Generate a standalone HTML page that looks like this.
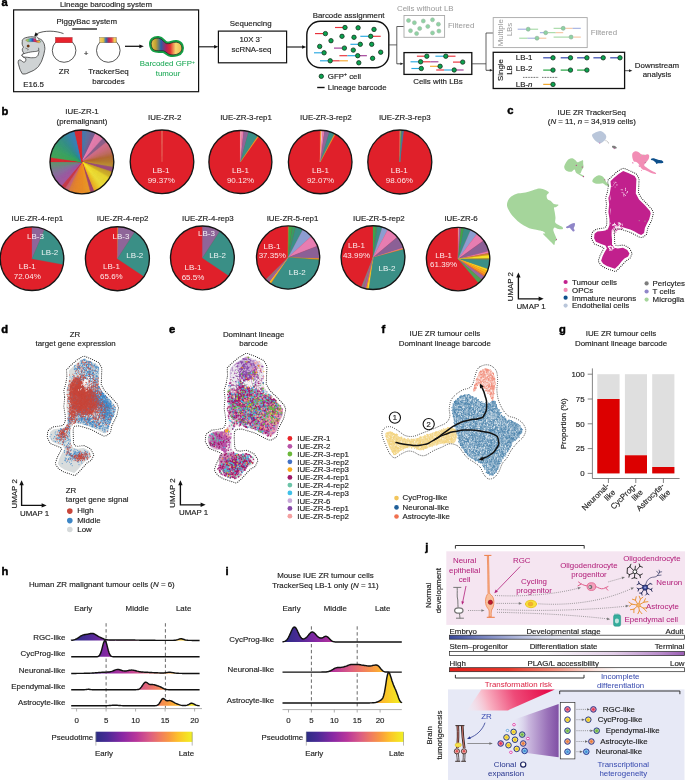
<!DOCTYPE html>
<html><head><meta charset="utf-8"><title>Figure</title>
<style>html,body{margin:0;padding:0;background:#fff;overflow:hidden}svg{display:block;will-change:transform}text{font-family:"Liberation Sans",sans-serif}</style>
</head><body>
<svg width="685" height="780" viewBox="0 0 685 780" font-family="Liberation Sans, sans-serif" font-size="7.9" fill="#1f1f1f">
<rect width="685" height="780" fill="#fff"/>
<text x="1.5" y="5.9" font-size="11.2" font-weight="bold" fill="#000" stroke="#000" stroke-width="0.45">a</text>
<text x="106" y="7.0" text-anchor="middle" stroke="#1f1f1f" stroke-width="0.16">Lineage barcoding system</text>
<rect x="13.6" y="9.9" width="185" height="81.8" fill="none" stroke="#111" stroke-width="1.2"/>
<text x="86.8" y="23.6" text-anchor="middle" stroke="#1f1f1f" stroke-width="0.16">PiggyBac system</text>
<path d="M72.2 29H97" stroke="#111" stroke-width="1.25"/>
<defs><linearGradient id="rb" x1="0" x2="1"><stop offset="0" stop-color="#f0d070"/><stop offset="0.22" stop-color="#e8c040"/><stop offset="0.38" stop-color="#2a6fb5"/><stop offset="0.55" stop-color="#c02050"/><stop offset="0.72" stop-color="#e84040"/><stop offset="0.88" stop-color="#f0d060"/><stop offset="1" stop-color="#e8b040"/></linearGradient><linearGradient id="rb2" x1="0" x2="1"><stop offset="0" stop-color="#e8c850"/><stop offset="0.15" stop-color="#c0a030"/><stop offset="0.32" stop-color="#2a5fa8"/><stop offset="0.5" stop-color="#b82058"/><stop offset="0.62" stop-color="#e03030"/><stop offset="0.8" stop-color="#f5d870"/><stop offset="1" stop-color="#e8b850"/></linearGradient><linearGradient id="rb3" x1="0" x2="1"><stop offset="0" stop-color="#f0d040"/><stop offset="0.18" stop-color="#7cc070"/><stop offset="0.32" stop-color="#2a9ad8"/><stop offset="0.45" stop-color="#3050b0"/><stop offset="0.56" stop-color="#c82878"/><stop offset="0.68" stop-color="#e83040"/><stop offset="0.8" stop-color="#f0a030"/><stop offset="0.92" stop-color="#e8c840"/><stop offset="1" stop-color="#30a0a0"/></linearGradient></defs>
<path d="M23.0 39.3C24.3 38.2 24.4 37.9 27.3 37.3C30.2 36.7 30.8 36.6 34.0 37.0C37.2 37.4 37.0 37.6 39.3 38.7C41.6 39.8 41.3 39.2 42.7 41.3C44.1 43.4 44.3 43.8 44.7 46.7C45.1 49.6 44.8 49.0 44.3 52.0C43.8 55.0 43.8 54.8 42.7 58.0C41.6 61.2 41.8 61.1 40.0 64.0C38.2 66.9 38.7 66.6 36.0 68.7C33.3 70.8 33.2 70.6 30.0 72.0C26.8 73.4 26.3 74.0 24.0 74.0C21.7 74.0 22.6 74.1 21.3 72.0C20.0 69.9 19.8 68.9 19.0 66.0C18.2 63.1 18.0 62.9 18.3 61.3C18.6 59.7 19.1 59.9 20.3 60.0C21.5 60.1 21.5 61.2 22.7 61.7C23.9 62.2 23.9 62.8 24.7 62.0C25.5 61.2 26.2 60.1 25.7 58.7C25.2 57.3 23.7 57.8 22.7 56.7C21.7 55.6 21.7 55.5 22.0 54.7C22.3 53.9 23.7 54.4 24.0 53.7C24.3 53.0 23.5 53.2 23.0 52.0C22.5 50.8 22.2 50.6 22.3 49.3C22.4 48.0 23.3 48.5 23.3 47.3C23.3 46.1 22.6 46.3 22.3 44.7C22.0 43.1 22.1 42.7 22.3 41.3C22.5 39.9 21.7 40.4 23.0 39.3Z" fill="#cfd3d4" stroke="#2a2a2a" stroke-width="0.75" stroke-linejoin="round"/>
<path d="M22.3 54.7C22.5 53.9 21.8 54.4 24.0 53.7C26.2 53.0 27.3 52.6 30.7 52.0C34.1 51.4 34.6 51.7 36.7 51.3C38.8 50.9 38.2 49.7 38.7 50.4C39.2 51.1 38.9 52.3 38.4 54.0C37.9 55.7 38.1 55.7 36.7 56.7C35.3 57.7 35.8 57.5 33.3 57.7C30.8 57.9 30.0 57.6 27.3 57.3C24.6 57.0 24.6 57.4 23.3 56.7C22.0 56.0 22.1 55.5 22.3 54.7Z" fill="#fff" stroke="#2a2a2a" stroke-width="0.7"/>
<path d="M38.7 50.4C38.9 49.3 38.8 48.6 38.5 47.8" stroke="#2a2a2a" stroke-width="0.6" fill="none"/>
<circle cx="28.2" cy="46.1" r="1.25" fill="#7a3a10" stroke="#3a2010" stroke-width="0.3"/>
<path d="M25.3 48L28.3 49.4L27.7 50.4" stroke="#2a2a2a" stroke-width="0.45" fill="none"/>
<path d="M25.6 40C28 38.6 31 38.2 34 38.4C36.5 38.6 39 39.8 41 41.6C40.4 42.8 39 43 37.4 42.4C35 41.4 32 41.6 30 41.8C28 42 26.4 41.4 25.6 40Z" fill="url(#rb3)" stroke="#444" stroke-width="0.25"/>
<path d="M35.3 34.6L39.6 40.6L36 40.4Z" fill="#fff" stroke="#2a2a2a" stroke-width="0.45"/>
<path d="M63.5 33.6C56 30.6 44 30.2 37.2 33.6" stroke="#111" stroke-width="0.7" fill="none"/>
<path d="M34.2 36.6L35.6 32.2L38.4 35Z" fill="#111"/>
<circle cx="64.1" cy="50.5" r="11.8" fill="#fff" stroke="#111" stroke-width="0.7"/>
<rect x="55.4" y="37.4" width="16.8" height="5.4" fill="#e8232d" stroke="#7a1518" stroke-width="0.3"/>
<text x="86" y="55.9" text-anchor="middle" stroke="#1f1f1f" font-size="8" stroke-width="0.16">+</text>
<circle cx="108.3" cy="50.5" r="11.8" fill="#fff" stroke="#111" stroke-width="0.7"/>
<rect x="99.6" y="37.4" width="16.8" height="5.4" fill="url(#rb)" stroke="#444" stroke-width="0.3"/>
<text x="64.1" y="74.1" text-anchor="middle" stroke="#1f1f1f" stroke-width="0.16">ZR</text>
<text x="108.5" y="74.1" text-anchor="middle" stroke="#1f1f1f" stroke-width="0.16">TrackerSeq</text>
<text x="108.5" y="83.6" text-anchor="middle" stroke="#1f1f1f" stroke-width="0.16">barcodes</text>
<text x="33.6" y="86.7" text-anchor="middle" stroke="#1f1f1f" stroke-width="0.16">E16.5</text>
<path d="M125.0 46.3L140.7 46.3" stroke="#111" stroke-width="1.25" fill="none"/>
<path d="M143.8 46.3L139.4 48.2L139.4 44.4Z" fill="#111"/>
<path d="M151.3 45C150.6 40.4 154 37.8 158.5 38.2C162.5 38.6 163.6 42.6 166.5 43.6C170 44.4 172 41.8 176.5 42.2C181.5 42.8 182.8 47.6 181.2 51C179.7 54.2 174.5 55.2 171 54.8C167.5 54.4 166.5 51.6 163.5 50.8C160 50.4 156.5 51.4 154 49.9C152.3 48.9 151.6 47 151.3 45Z" fill="#14a046" stroke="#14a046" stroke-width="4.4" stroke-linejoin="round"/>
<path d="M151.3 45C150.6 40.4 154 37.8 158.5 38.2C162.5 38.6 163.6 42.6 166.5 43.6C170 44.4 172 41.8 176.5 42.2C181.5 42.8 182.8 47.6 181.2 51C179.7 54.2 174.5 55.2 171 54.8C167.5 54.4 166.5 51.6 163.5 50.8C160 50.4 156.5 51.4 154 49.9C152.3 48.9 151.6 47 151.3 45Z" fill="url(#rb2)" stroke="#222" stroke-width="0.7"/>
<text x="167.3" y="66.4" text-anchor="middle" fill="#14a650" stroke="#14a650" stroke-width="0.03">Barcoded GFP<tspan dy="-2.8" font-size="5">+</tspan></text>
<text x="168" y="75.7" text-anchor="middle" fill="#14a650" stroke="#14a650" stroke-width="0.03">tumour</text>
<path d="M198.6 46.8L215.4 46.8" stroke="#111" stroke-width="1.1" fill="none"/>
<path d="M218.3 46.8L214.1 48.6L214.1 45.0Z" fill="#111"/>
<text x="250.7" y="25.9" text-anchor="middle" stroke="#1f1f1f" stroke-width="0.16">Sequencing</text>
<rect x="218.4" y="31.1" width="68.2" height="31.7" fill="#fff" stroke="#111" stroke-width="1.2"/>
<text x="251" y="41.9" text-anchor="middle" stroke="#1f1f1f" stroke-width="0.16">10X 3´</text>
<text x="251.5" y="52.3" text-anchor="middle" stroke="#1f1f1f" stroke-width="0.16">scRNA-seq</text>
<path d="M286.6 47.0L303.4 47.0" stroke="#111" stroke-width="1.1" fill="none"/>
<path d="M306.3 47.0L302.1 48.8L302.1 45.2Z" fill="#111"/>
<text x="348.6" y="17.8" text-anchor="middle" stroke="#1f1f1f" stroke-width="0.16">Barcode assignment</text>
<rect x="306.8" y="21.3" width="82" height="46.5" rx="13.5" ry="13.5" fill="#fff" stroke="#111" stroke-width="1.4"/>
<path d="M335 27.5H343.8" stroke="#e8303a" stroke-width="1.15" fill="none"/>
<path d="M315 33.6H323.4" stroke="#e8303a" stroke-width="1.15" fill="none"/>
<path d="M360.3 36.3H368.6" stroke="#29a8e0" stroke-width="1.15" fill="none"/>
<path d="M372.7 36.3H380.7" stroke="#e8303a" stroke-width="1.15" fill="none"/>
<path d="M350.4 44.3H358.4" stroke="#29a8e0" stroke-width="1.15" fill="none"/>
<path d="M334 48.1H342.3" stroke="#a03c96" stroke-width="1.15" fill="none"/>
<path d="M314 52.8H322.2" stroke="#29a8e0" stroke-width="1.15" fill="none"/>
<path d="M339.4 55.7H347.4" stroke="#e8303a" stroke-width="1.15" fill="none"/>
<path d="M347.4 55.7H355.8" stroke="#29a8e0" stroke-width="1.15" fill="none"/>
<path d="M359.6 55.7H366.9" stroke="#a03c96" stroke-width="1.15" fill="none"/>
<path d="M320 60.8H328.2" stroke="#29a8e0" stroke-width="1.15" fill="none"/>
<path d="M332.1 60.8H339.7" stroke="#e8303a" stroke-width="1.15" fill="none"/>
<path d="M339.7 60.8H347.9" stroke="#f5a832" stroke-width="1.15" fill="none"/>
<circle cx="345" cy="27.5" r="2.2" fill="#0aa34f" stroke="#17321f" stroke-width="0.8"/>
<circle cx="358.1" cy="27.8" r="2.2" fill="#0aa34f" stroke="#17321f" stroke-width="0.8"/>
<circle cx="374" cy="29.4" r="2.2" fill="#0aa34f" stroke="#17321f" stroke-width="0.8"/>
<circle cx="325.4" cy="33.6" r="2.2" fill="#0aa34f" stroke="#17321f" stroke-width="0.8"/>
<circle cx="342" cy="36.3" r="2.2" fill="#0aa34f" stroke="#17321f" stroke-width="0.8"/>
<circle cx="354" cy="37.3" r="2.2" fill="#0aa34f" stroke="#17321f" stroke-width="0.8"/>
<circle cx="370.7" cy="36.3" r="2.2" fill="#0aa34f" stroke="#17321f" stroke-width="0.8"/>
<circle cx="331" cy="40.7" r="2.2" fill="#0aa34f" stroke="#17321f" stroke-width="0.8"/>
<circle cx="360.3" cy="44.3" r="2.2" fill="#0aa34f" stroke="#17321f" stroke-width="0.8"/>
<circle cx="371.7" cy="44.3" r="2.2" fill="#0aa34f" stroke="#17321f" stroke-width="0.8"/>
<circle cx="319.7" cy="46.4" r="2.2" fill="#0aa34f" stroke="#17321f" stroke-width="0.8"/>
<circle cx="344.4" cy="48.1" r="2.2" fill="#0aa34f" stroke="#17321f" stroke-width="0.8"/>
<circle cx="353.3" cy="50.1" r="2.2" fill="#0aa34f" stroke="#17321f" stroke-width="0.8"/>
<circle cx="380.7" cy="52.2" r="2.2" fill="#0aa34f" stroke="#17321f" stroke-width="0.8"/>
<circle cx="324.1" cy="52.8" r="2.2" fill="#0aa34f" stroke="#17321f" stroke-width="0.8"/>
<circle cx="357.7" cy="55.7" r="2.2" fill="#0aa34f" stroke="#17321f" stroke-width="0.8"/>
<circle cx="372.6" cy="58.3" r="2.2" fill="#0aa34f" stroke="#17321f" stroke-width="0.8"/>
<circle cx="330.2" cy="60.8" r="2.2" fill="#0aa34f" stroke="#17321f" stroke-width="0.8"/>
<circle cx="358.8" cy="62.8" r="2.2" fill="#0aa34f" stroke="#17321f" stroke-width="0.8"/>
<circle cx="321.3" cy="76.3" r="2.2" fill="#0aa34f" stroke="#17321f" stroke-width="0.8"/>
<text x="327.8" y="78.8" stroke="#1f1f1f" stroke-width="0.16">GFP<tspan dy="-2.8" font-size="5">+</tspan><tspan dy="2.8"> cell</tspan></text>
<path d="M317.2 87.5H324.6" stroke="#111" stroke-width="1.4"/>
<text x="327.8" y="90.4" stroke="#1f1f1f" stroke-width="0.16">Lineage barcode</text>
<path d="M389 44.9H396.8M396.8 26.5V63.8M396.8 26.5H403.8" stroke="#3a3a3a" stroke-width="0.8" fill="none"/>
<path d="M396.8 63.8L401.4 63.8" stroke="#222" stroke-width="0.8" fill="none"/>
<path d="M403.6 63.8L400.4 65.1L400.4 62.5Z" fill="#222"/>
<text x="397" y="10.9" fill="#9a9a9a" stroke="#9a9a9a" stroke-width="0.03">Cells without LB</text>
<rect x="404" y="15.5" width="40.6" height="21.8" fill="#fff" stroke="#a8a8a8" stroke-width="0.9"/>
<circle cx="408.5" cy="20.5" r="2.0" fill="#8ed3a3" stroke="#9fb8a6" stroke-width="0.6"/>
<circle cx="414.4" cy="22.7" r="2.0" fill="#8ed3a3" stroke="#9fb8a6" stroke-width="0.6"/>
<circle cx="423.3" cy="21" r="2.0" fill="#8ed3a3" stroke="#9fb8a6" stroke-width="0.6"/>
<circle cx="432.5" cy="19.8" r="2.0" fill="#8ed3a3" stroke="#9fb8a6" stroke-width="0.6"/>
<circle cx="438.4" cy="24.2" r="2.0" fill="#8ed3a3" stroke="#9fb8a6" stroke-width="0.6"/>
<circle cx="427.8" cy="26.4" r="2.0" fill="#8ed3a3" stroke="#9fb8a6" stroke-width="0.6"/>
<circle cx="419.7" cy="28.5" r="2.0" fill="#8ed3a3" stroke="#9fb8a6" stroke-width="0.6"/>
<circle cx="410.5" cy="30.7" r="2.0" fill="#8ed3a3" stroke="#9fb8a6" stroke-width="0.6"/>
<circle cx="416.6" cy="33.6" r="2.0" fill="#8ed3a3" stroke="#9fb8a6" stroke-width="0.6"/>
<circle cx="432.5" cy="32.9" r="2.0" fill="#8ed3a3" stroke="#9fb8a6" stroke-width="0.6"/>
<circle cx="438.9" cy="31.1" r="2.0" fill="#8ed3a3" stroke="#9fb8a6" stroke-width="0.6"/>
<text x="448" y="27.5" fill="#9a9a9a" stroke="#9a9a9a" stroke-width="0.03">Filtered</text>
<rect x="404" y="52.6" width="67.8" height="21.8" fill="#fff" stroke="#111" stroke-width="1.3"/>
<path d="M416.9 56.2H424.4" stroke="#e8303a" stroke-width="1.15" fill="none"/>
<path d="M435.4 56.2H443.8" stroke="#29a8e0" stroke-width="1.15" fill="none"/>
<path d="M448 56.2H455.5" stroke="#e8303a" stroke-width="1.15" fill="none"/>
<path d="M410.5 61.8H418.6" stroke="#29a8e0" stroke-width="1.15" fill="none"/>
<path d="M422.8 61.8H430.3" stroke="#e8303a" stroke-width="1.15" fill="none"/>
<path d="M430.3 61.8H438.4" stroke="#a03c96" stroke-width="1.15" fill="none"/>
<path d="M453 62.1H460.5" stroke="#e8303a" stroke-width="1.15" fill="none"/>
<path d="M430 66.3H437.9" stroke="#f5a832" stroke-width="1.15" fill="none"/>
<path d="M411.4 68.5H419.1" stroke="#29a8e0" stroke-width="1.15" fill="none"/>
<path d="M436.2 70H444.1" stroke="#e8303a" stroke-width="1.15" fill="none"/>
<path d="M444.1 70H451.8" stroke="#29a8e0" stroke-width="1.15" fill="none"/>
<path d="M456.3 70H463.6" stroke="#a03c96" stroke-width="1.15" fill="none"/>
<circle cx="426.8" cy="56.2" r="2.2" fill="#0aa34f" stroke="#17321f" stroke-width="0.8"/>
<circle cx="445.8" cy="56.2" r="2.2" fill="#0aa34f" stroke="#17321f" stroke-width="0.8"/>
<circle cx="420.6" cy="61.8" r="2.2" fill="#0aa34f" stroke="#17321f" stroke-width="0.8"/>
<circle cx="462.7" cy="62.1" r="2.2" fill="#0aa34f" stroke="#17321f" stroke-width="0.8"/>
<circle cx="440.1" cy="66.3" r="2.2" fill="#0aa34f" stroke="#17321f" stroke-width="0.8"/>
<circle cx="421.3" cy="68.5" r="2.2" fill="#0aa34f" stroke="#17321f" stroke-width="0.8"/>
<circle cx="454.2" cy="70" r="2.2" fill="#0aa34f" stroke="#17321f" stroke-width="0.8"/>
<text x="438" y="84" text-anchor="middle" stroke="#1f1f1f" stroke-width="0.16">Cells with LBs</text>
<path d="M471.8 63.8H486M486 33V70.3M486 33H493" stroke="#3a3a3a" stroke-width="0.8" fill="none"/>
<path d="M486.0 70.3L490.8 70.3" stroke="#222" stroke-width="0.8" fill="none"/>
<path d="M493.0 70.3L489.8 71.6L489.8 69.0Z" fill="#222"/>
<rect x="493.2" y="17.6" width="94" height="30" fill="#fff" stroke="#a8a8a8" stroke-width="0.9"/>
<text x="503.3" y="32.7" text-anchor="middle" fill="#9a9a9a" stroke="#9a9a9a" transform="rotate(-90 503.3 32.7)" stroke-width="0.03">Multiple</text>
<text x="512.2" y="29.5" text-anchor="middle" fill="#9a9a9a" stroke="#9a9a9a" transform="rotate(-90 512.2 29.5)" stroke-width="0.03">LBs</text>
<path d="M517.7 29.2H525.9" stroke="#8c9cd8" stroke-width="0.9" fill="none"/>
<path d="M530.3 29.2H538.1" stroke="#8fd08f" stroke-width="0.9" fill="none"/>
<path d="M539.9 32.7H544.0" stroke="#8c9cd8" stroke-width="0.9" fill="none"/>
<path d="M547.8 32.7H555.7" stroke="#8fd08f" stroke-width="0.9" fill="none"/>
<path d="M555.7 32.7H563.2" stroke="#f2b88a" stroke-width="0.9" fill="none"/>
<path d="M553.6 28.3H561.5" stroke="#8fd08f" stroke-width="0.9" fill="none"/>
<path d="M565.6 28.3H572.6" stroke="#f2b88a" stroke-width="0.9" fill="none"/>
<path d="M572.6 28.3H580.8" stroke="#8c9cd8" stroke-width="0.9" fill="none"/>
<path d="M519.2 38.2H527.3" stroke="#8fd08f" stroke-width="0.9" fill="none"/>
<path d="M527.3 38.2H535.2" stroke="#8c9cd8" stroke-width="0.9" fill="none"/>
<path d="M539.0 38.2H546.3" stroke="#f2b88a" stroke-width="0.9" fill="none"/>
<path d="M553.6 37.1H569.1" stroke="#8fd08f" stroke-width="0.9" fill="none"/>
<path d="M573.5 37.1H580.8" stroke="#f2b88a" stroke-width="0.9" fill="none"/>
<circle cx="528.2" cy="29.2" r="2.0" fill="#8ed3a3" stroke="#8aa896" stroke-width="0.6"/>
<circle cx="545.7" cy="32.7" r="2.0" fill="#8ed3a3" stroke="#8aa896" stroke-width="0.6"/>
<circle cx="563.2" cy="28.3" r="2.0" fill="#8ed3a3" stroke="#8aa896" stroke-width="0.6"/>
<circle cx="537" cy="38.2" r="2.0" fill="#8ed3a3" stroke="#8aa896" stroke-width="0.6"/>
<circle cx="571.1" cy="37.1" r="2.0" fill="#8ed3a3" stroke="#8aa896" stroke-width="0.6"/>
<text x="590.8" y="34.6" fill="#9a9a9a" stroke="#9a9a9a" stroke-width="0.03">Filtered</text>
<rect x="493.2" y="52.3" width="131.4" height="36.2" fill="#fff" stroke="#111" stroke-width="1.3"/>
<text x="503.3" y="70" text-anchor="middle" stroke="#1f1f1f" transform="rotate(-90 503.3 70)" stroke-width="0.16">Single</text>
<text x="512.2" y="70" text-anchor="middle" stroke="#1f1f1f" transform="rotate(-90 512.2 70)" stroke-width="0.16">LB</text>
<text x="515.8" y="59.5" stroke="#1f1f1f" stroke-width="0.16">LB-1</text>
<text x="515.8" y="71.2" stroke="#1f1f1f" stroke-width="0.16">LB-2</text>
<text x="515.8" y="86.6" stroke="#1f1f1f" stroke-width="0.16">LB-<tspan font-style="italic">n</tspan></text>
<path d="M543.2 57.8H553" stroke="#3c4eb0" stroke-width="1.25" fill="none"/>
<circle cx="553" cy="57.8" r="2.2" fill="#0aa34f" stroke="#17321f" stroke-width="0.8"/>
<path d="M560.7 57.8H570.5" stroke="#3c4eb0" stroke-width="1.25" fill="none"/>
<circle cx="570.5" cy="57.8" r="2.2" fill="#0aa34f" stroke="#17321f" stroke-width="0.8"/>
<path d="M577.1 57.8H586.9" stroke="#3c4eb0" stroke-width="1.25" fill="none"/>
<circle cx="586.9" cy="57.8" r="2.2" fill="#0aa34f" stroke="#17321f" stroke-width="0.8"/>
<path d="M593.4 57.8H603.2" stroke="#3c4eb0" stroke-width="1.25" fill="none"/>
<circle cx="603.2" cy="57.8" r="2.2" fill="#0aa34f" stroke="#17321f" stroke-width="0.8"/>
<path d="M610.2 57.8H620" stroke="#3c4eb0" stroke-width="1.25" fill="none"/>
<circle cx="620" cy="57.8" r="2.2" fill="#0aa34f" stroke="#17321f" stroke-width="0.8"/>
<path d="M543.2 70.1H553" stroke="#2fa84a" stroke-width="1.25" fill="none"/>
<circle cx="553" cy="70.1" r="2.2" fill="#0aa34f" stroke="#17321f" stroke-width="0.8"/>
<path d="M560.7 70.1H570.5" stroke="#2fa84a" stroke-width="1.25" fill="none"/>
<circle cx="570.5" cy="70.1" r="2.2" fill="#0aa34f" stroke="#17321f" stroke-width="0.8"/>
<path d="M577.1 70.1H586.9" stroke="#2fa84a" stroke-width="1.25" fill="none"/>
<circle cx="586.9" cy="70.1" r="2.2" fill="#0aa34f" stroke="#17321f" stroke-width="0.8"/>
<path d="M523 77.4H538.4M542 77.4H558" stroke="#222" stroke-width="0.8" stroke-dasharray="0.8 0.8" fill="none"/>
<path d="M543.2 84.4H553" stroke="#f0a830" stroke-width="1.25" fill="none"/>
<circle cx="553" cy="84.4" r="2.2" fill="#0aa34f" stroke="#17321f" stroke-width="0.8"/>
<path d="M625.0 70.7L630.0 70.7" stroke="#222" stroke-width="0.8" fill="none"/>
<path d="M632.4 70.7L629.0 72.1L629.0 69.3Z" fill="#222"/>
<text x="657" y="67.8" text-anchor="middle" stroke="#1f1f1f" stroke-width="0.16">Downstream</text>
<text x="657" y="77.3" text-anchor="middle" stroke="#1f1f1f" stroke-width="0.16">analysis</text>
<text x="1.5" y="115" font-size="11.2" font-weight="bold" fill="#000" stroke="#000" stroke-width="0.45">b</text>
<text x="82" y="114.1" text-anchor="middle" stroke="#1f1f1f" stroke-width="0.16">IUE-ZR-1</text>
<text x="82" y="123.9" text-anchor="middle" stroke="#1f1f1f" stroke-width="0.16">(premalignant)</text>
<circle cx="81.9" cy="161.9" r="31.9" fill="#888"/>
<path d="M81.9 161.9L81.90 130.00A31.9 31.9 0 0 1 82.74 130.01Z" fill="#3c78b4" stroke="#3c78b4" stroke-width="0.25"/>
<path d="M81.9 161.9L82.74 130.01A31.9 31.9 0 0 1 83.57 130.04Z" fill="#3f76b2" stroke="#3f76b2" stroke-width="0.25"/>
<path d="M81.9 161.9L83.57 130.04A31.9 31.9 0 0 1 84.40 130.10Z" fill="#4176b0" stroke="#4176b0" stroke-width="0.25"/>
<path d="M81.9 161.9L84.40 130.10A31.9 31.9 0 0 1 85.23 130.17Z" fill="#4474ad" stroke="#4474ad" stroke-width="0.25"/>
<path d="M81.9 161.9L85.23 130.17A31.9 31.9 0 0 1 86.06 130.27Z" fill="#4674ab" stroke="#4674ab" stroke-width="0.25"/>
<path d="M81.9 161.9L86.06 130.27A31.9 31.9 0 0 1 86.89 130.39Z" fill="#4972a9" stroke="#4972a9" stroke-width="0.25"/>
<path d="M81.9 161.9L86.89 130.39A31.9 31.9 0 0 1 87.71 130.53Z" fill="#5670a2" stroke="#5670a2" stroke-width="0.25"/>
<path d="M81.9 161.9L87.71 130.53A31.9 31.9 0 0 1 88.53 130.70Z" fill="#5b6e9f" stroke="#5b6e9f" stroke-width="0.25"/>
<path d="M81.9 161.9L88.53 130.70A31.9 31.9 0 0 1 89.35 130.88Z" fill="#5d6c9e" stroke="#5d6c9e" stroke-width="0.25"/>
<path d="M81.9 161.9L89.35 130.88A31.9 31.9 0 0 1 90.16 131.09Z" fill="#5f6b9e" stroke="#5f6b9e" stroke-width="0.25"/>
<path d="M81.9 161.9L90.16 131.09A31.9 31.9 0 0 1 90.96 131.31Z" fill="#61699d" stroke="#61699d" stroke-width="0.25"/>
<path d="M81.9 161.9L90.96 131.31A31.9 31.9 0 0 1 91.76 131.56Z" fill="#65669a" stroke="#65669a" stroke-width="0.25"/>
<path d="M81.9 161.9L91.76 131.56A31.9 31.9 0 0 1 92.55 131.83Z" fill="#705e96" stroke="#705e96" stroke-width="0.25"/>
<path d="M81.9 161.9L92.55 131.83A31.9 31.9 0 0 1 93.33 132.12Z" fill="#725d95" stroke="#725d95" stroke-width="0.25"/>
<path d="M81.9 161.9L93.33 132.12A31.9 31.9 0 0 1 94.11 132.43Z" fill="#735c94" stroke="#735c94" stroke-width="0.25"/>
<path d="M81.9 161.9L94.11 132.43A31.9 31.9 0 0 1 94.87 132.76Z" fill="#755b93" stroke="#755b93" stroke-width="0.25"/>
<path d="M81.9 161.9L94.87 132.76A31.9 31.9 0 0 1 95.63 133.11Z" fill="#775a92" stroke="#775a92" stroke-width="0.25"/>
<path d="M81.9 161.9L95.63 133.11A31.9 31.9 0 0 1 96.38 133.48Z" fill="#ee7db3" stroke="#ee7db3" stroke-width="0.25"/>
<path d="M81.9 161.9L96.38 133.48A31.9 31.9 0 0 1 97.12 133.87Z" fill="#ee7db2" stroke="#ee7db2" stroke-width="0.25"/>
<path d="M81.9 161.9L97.12 133.87A31.9 31.9 0 0 1 97.85 134.27Z" fill="#ed7cb2" stroke="#ed7cb2" stroke-width="0.25"/>
<path d="M81.9 161.9L97.85 134.27A31.9 31.9 0 0 1 98.57 134.70Z" fill="#ed7cb1" stroke="#ed7cb1" stroke-width="0.25"/>
<path d="M81.9 161.9L98.57 134.70A31.9 31.9 0 0 1 99.27 135.15Z" fill="#ec7bb0" stroke="#ec7bb0" stroke-width="0.25"/>
<path d="M81.9 161.9L99.27 135.15A31.9 31.9 0 0 1 99.97 135.61Z" fill="#ec7bb0" stroke="#ec7bb0" stroke-width="0.25"/>
<path d="M81.9 161.9L99.97 135.61A31.9 31.9 0 0 1 100.65 136.09Z" fill="#ec7baf" stroke="#ec7baf" stroke-width="0.25"/>
<path d="M81.9 161.9L100.65 136.09A31.9 31.9 0 0 1 101.32 136.59Z" fill="#eb7aaf" stroke="#eb7aaf" stroke-width="0.25"/>
<path d="M81.9 161.9L101.32 136.59A31.9 31.9 0 0 1 101.98 137.11Z" fill="#eb7aae" stroke="#eb7aae" stroke-width="0.25"/>
<path d="M81.9 161.9L101.98 137.11A31.9 31.9 0 0 1 102.62 137.64Z" fill="#ea79ae" stroke="#ea79ae" stroke-width="0.25"/>
<path d="M81.9 161.9L102.62 137.64A31.9 31.9 0 0 1 103.25 138.19Z" fill="#d271a5" stroke="#d271a5" stroke-width="0.25"/>
<path d="M81.9 161.9L103.25 138.19A31.9 31.9 0 0 1 103.86 138.76Z" fill="#8b5a8c" stroke="#8b5a8c" stroke-width="0.25"/>
<path d="M81.9 161.9L103.86 138.76A31.9 31.9 0 0 1 104.46 139.34Z" fill="#8c5a8a" stroke="#8c5a8a" stroke-width="0.25"/>
<path d="M81.9 161.9L104.46 139.34A31.9 31.9 0 0 1 105.04 139.94Z" fill="#8d5a8a" stroke="#8d5a8a" stroke-width="0.25"/>
<path d="M81.9 161.9L105.04 139.94A31.9 31.9 0 0 1 105.61 140.55Z" fill="#8d5a88" stroke="#8d5a88" stroke-width="0.25"/>
<path d="M81.9 161.9L105.61 140.55A31.9 31.9 0 0 1 106.16 141.18Z" fill="#8e5a88" stroke="#8e5a88" stroke-width="0.25"/>
<path d="M81.9 161.9L106.16 141.18A31.9 31.9 0 0 1 106.69 141.82Z" fill="#8f5a86" stroke="#8f5a86" stroke-width="0.25"/>
<path d="M81.9 161.9L106.69 141.82A31.9 31.9 0 0 1 107.21 142.48Z" fill="#c6688a" stroke="#c6688a" stroke-width="0.25"/>
<path d="M81.9 161.9L107.21 142.48A31.9 31.9 0 0 1 107.71 143.15Z" fill="#d76c8a" stroke="#d76c8a" stroke-width="0.25"/>
<path d="M81.9 161.9L107.71 143.15A31.9 31.9 0 0 1 108.19 143.83Z" fill="#d66b87" stroke="#d66b87" stroke-width="0.25"/>
<path d="M81.9 161.9L108.19 143.83A31.9 31.9 0 0 1 108.65 144.53Z" fill="#d56a84" stroke="#d56a84" stroke-width="0.25"/>
<path d="M81.9 161.9L108.65 144.53A31.9 31.9 0 0 1 109.10 145.23Z" fill="#d56a82" stroke="#d56a82" stroke-width="0.25"/>
<path d="M81.9 161.9L109.10 145.23A31.9 31.9 0 0 1 109.53 145.95Z" fill="#d4697f" stroke="#d4697f" stroke-width="0.25"/>
<path d="M81.9 161.9L109.53 145.95A31.9 31.9 0 0 1 109.93 146.68Z" fill="#d3687c" stroke="#d3687c" stroke-width="0.25"/>
<path d="M81.9 161.9L109.93 146.68A31.9 31.9 0 0 1 110.32 147.42Z" fill="#d26879" stroke="#d26879" stroke-width="0.25"/>
<path d="M81.9 161.9L110.32 147.42A31.9 31.9 0 0 1 110.69 148.17Z" fill="#d06874" stroke="#d06874" stroke-width="0.25"/>
<path d="M81.9 161.9L110.69 148.17A31.9 31.9 0 0 1 111.04 148.93Z" fill="#cd6870" stroke="#cd6870" stroke-width="0.25"/>
<path d="M81.9 161.9L111.04 148.93A31.9 31.9 0 0 1 111.37 149.69Z" fill="#cb686b" stroke="#cb686b" stroke-width="0.25"/>
<path d="M81.9 161.9L111.37 149.69A31.9 31.9 0 0 1 111.68 150.47Z" fill="#c96866" stroke="#c96866" stroke-width="0.25"/>
<path d="M81.9 161.9L111.68 150.47A31.9 31.9 0 0 1 111.97 151.25Z" fill="#c76861" stroke="#c76861" stroke-width="0.25"/>
<path d="M81.9 161.9L111.97 151.25A31.9 31.9 0 0 1 112.24 152.04Z" fill="#c5685c" stroke="#c5685c" stroke-width="0.25"/>
<path d="M81.9 161.9L112.24 152.04A31.9 31.9 0 0 1 112.49 152.84Z" fill="#c36856" stroke="#c36856" stroke-width="0.25"/>
<path d="M81.9 161.9L112.49 152.84A31.9 31.9 0 0 1 112.71 153.64Z" fill="#c0674c" stroke="#c0674c" stroke-width="0.25"/>
<path d="M81.9 161.9L112.71 153.64A31.9 31.9 0 0 1 112.92 154.45Z" fill="#bd6744" stroke="#bd6744" stroke-width="0.25"/>
<path d="M81.9 161.9L112.92 154.45A31.9 31.9 0 0 1 113.10 155.27Z" fill="#ba663a" stroke="#ba663a" stroke-width="0.25"/>
<path d="M81.9 161.9L113.10 155.27A31.9 31.9 0 0 1 113.27 156.09Z" fill="#b76532" stroke="#b76532" stroke-width="0.25"/>
<path d="M81.9 161.9L113.27 156.09A31.9 31.9 0 0 1 113.41 156.91Z" fill="#b5662a" stroke="#b5662a" stroke-width="0.25"/>
<path d="M81.9 161.9L113.41 156.91A31.9 31.9 0 0 1 113.53 157.74Z" fill="#b6692a" stroke="#b6692a" stroke-width="0.25"/>
<path d="M81.9 161.9L113.53 157.74A31.9 31.9 0 0 1 113.63 158.57Z" fill="#b66c29" stroke="#b66c29" stroke-width="0.25"/>
<path d="M81.9 161.9L113.63 158.57A31.9 31.9 0 0 1 113.70 159.40Z" fill="#b66f29" stroke="#b66f29" stroke-width="0.25"/>
<path d="M81.9 161.9L113.70 159.40A31.9 31.9 0 0 1 113.76 160.23Z" fill="#b77229" stroke="#b77229" stroke-width="0.25"/>
<path d="M81.9 161.9L113.76 160.23A31.9 31.9 0 0 1 113.79 161.06Z" fill="#b77528" stroke="#b77528" stroke-width="0.25"/>
<path d="M81.9 161.9L113.79 161.06A31.9 31.9 0 0 1 113.80 161.90Z" fill="#b87828" stroke="#b87828" stroke-width="0.25"/>
<path d="M81.9 161.9L113.80 161.90A31.9 31.9 0 0 1 113.79 162.74Z" fill="#b97c28" stroke="#b97c28" stroke-width="0.25"/>
<path d="M81.9 161.9L113.79 162.74A31.9 31.9 0 0 1 113.76 163.57Z" fill="#ba8029" stroke="#ba8029" stroke-width="0.25"/>
<path d="M81.9 161.9L113.76 163.57A31.9 31.9 0 0 1 113.70 164.40Z" fill="#bb842a" stroke="#bb842a" stroke-width="0.25"/>
<path d="M81.9 161.9L113.70 164.40A31.9 31.9 0 0 1 113.63 165.23Z" fill="#bd882a" stroke="#bd882a" stroke-width="0.25"/>
<path d="M81.9 161.9L113.63 165.23A31.9 31.9 0 0 1 113.53 166.06Z" fill="#be8c2b" stroke="#be8c2b" stroke-width="0.25"/>
<path d="M81.9 161.9L113.53 166.06A31.9 31.9 0 0 1 113.41 166.89Z" fill="#bf902c" stroke="#bf902c" stroke-width="0.25"/>
<path d="M81.9 161.9L113.41 166.89A31.9 31.9 0 0 1 113.27 167.71Z" fill="#a45c66" stroke="#a45c66" stroke-width="0.25"/>
<path d="M81.9 161.9L113.27 167.71A31.9 31.9 0 0 1 113.10 168.53Z" fill="#9a497a" stroke="#9a497a" stroke-width="0.25"/>
<path d="M81.9 161.9L113.10 168.53A31.9 31.9 0 0 1 112.92 169.35Z" fill="#9b497a" stroke="#9b497a" stroke-width="0.25"/>
<path d="M81.9 161.9L112.92 169.35A31.9 31.9 0 0 1 112.71 170.16Z" fill="#9b487a" stroke="#9b487a" stroke-width="0.25"/>
<path d="M81.9 161.9L112.71 170.16A31.9 31.9 0 0 1 112.49 170.96Z" fill="#9b477a" stroke="#9b477a" stroke-width="0.25"/>
<path d="M81.9 161.9L112.49 170.96A31.9 31.9 0 0 1 112.24 171.76Z" fill="#9c467a" stroke="#9c467a" stroke-width="0.25"/>
<path d="M81.9 161.9L112.24 171.76A31.9 31.9 0 0 1 111.97 172.55Z" fill="#be8a36" stroke="#be8a36" stroke-width="0.25"/>
<path d="M81.9 161.9L111.97 172.55A31.9 31.9 0 0 1 111.68 173.33Z" fill="#cba320" stroke="#cba320" stroke-width="0.25"/>
<path d="M81.9 161.9L111.68 173.33A31.9 31.9 0 0 1 111.37 174.11Z" fill="#cea720" stroke="#cea720" stroke-width="0.25"/>
<path d="M81.9 161.9L111.37 174.11A31.9 31.9 0 0 1 111.04 174.87Z" fill="#d0ab20" stroke="#d0ab20" stroke-width="0.25"/>
<path d="M81.9 161.9L111.04 174.87A31.9 31.9 0 0 1 110.69 175.63Z" fill="#d3af20" stroke="#d3af20" stroke-width="0.25"/>
<path d="M81.9 161.9L110.69 175.63A31.9 31.9 0 0 1 110.32 176.38Z" fill="#d5b320" stroke="#d5b320" stroke-width="0.25"/>
<path d="M81.9 161.9L110.32 176.38A31.9 31.9 0 0 1 109.93 177.12Z" fill="#d8b720" stroke="#d8b720" stroke-width="0.25"/>
<path d="M81.9 161.9L109.93 177.12A31.9 31.9 0 0 1 109.53 177.85Z" fill="#e0c321" stroke="#e0c321" stroke-width="0.25"/>
<path d="M81.9 161.9L109.53 177.85A31.9 31.9 0 0 1 109.10 178.57Z" fill="#ead123" stroke="#ead123" stroke-width="0.25"/>
<path d="M81.9 161.9L109.10 178.57A31.9 31.9 0 0 1 108.65 179.27Z" fill="#f2dc24" stroke="#f2dc24" stroke-width="0.25"/>
<path d="M81.9 161.9L108.65 179.27A31.9 31.9 0 0 1 108.19 179.97Z" fill="#f3dd25" stroke="#f3dd25" stroke-width="0.25"/>
<path d="M81.9 161.9L108.19 179.97A31.9 31.9 0 0 1 107.71 180.65Z" fill="#f3de26" stroke="#f3de26" stroke-width="0.25"/>
<path d="M81.9 161.9L107.71 180.65A31.9 31.9 0 0 1 107.21 181.32Z" fill="#f4df27" stroke="#f4df27" stroke-width="0.25"/>
<path d="M81.9 161.9L107.21 181.32A31.9 31.9 0 0 1 106.69 181.98Z" fill="#f4e028" stroke="#f4e028" stroke-width="0.25"/>
<path d="M81.9 161.9L106.69 181.98A31.9 31.9 0 0 1 106.16 182.62Z" fill="#f5e129" stroke="#f5e129" stroke-width="0.25"/>
<path d="M81.9 161.9L106.16 182.62A31.9 31.9 0 0 1 105.61 183.25Z" fill="#f5e22a" stroke="#f5e22a" stroke-width="0.25"/>
<path d="M81.9 161.9L105.61 183.25A31.9 31.9 0 0 1 105.04 183.86Z" fill="#f6e32b" stroke="#f6e32b" stroke-width="0.25"/>
<path d="M81.9 161.9L105.04 183.86A31.9 31.9 0 0 1 104.46 184.46Z" fill="#f6e42c" stroke="#f6e42c" stroke-width="0.25"/>
<path d="M81.9 161.9L104.46 184.46A31.9 31.9 0 0 1 103.86 185.04Z" fill="#f7e52d" stroke="#f7e52d" stroke-width="0.25"/>
<path d="M81.9 161.9L103.86 185.04A31.9 31.9 0 0 1 103.25 185.61Z" fill="#f7e62e" stroke="#f7e62e" stroke-width="0.25"/>
<path d="M81.9 161.9L103.25 185.61A31.9 31.9 0 0 1 102.62 186.16Z" fill="#f8e72f" stroke="#f8e72f" stroke-width="0.25"/>
<path d="M81.9 161.9L102.62 186.16A31.9 31.9 0 0 1 101.98 186.69Z" fill="#f8e730" stroke="#f8e730" stroke-width="0.25"/>
<path d="M81.9 161.9L101.98 186.69A31.9 31.9 0 0 1 101.32 187.21Z" fill="#f7e22c" stroke="#f7e22c" stroke-width="0.25"/>
<path d="M81.9 161.9L101.32 187.21A31.9 31.9 0 0 1 100.65 187.71Z" fill="#f7de2a" stroke="#f7de2a" stroke-width="0.25"/>
<path d="M81.9 161.9L100.65 187.71A31.9 31.9 0 0 1 99.97 188.19Z" fill="#f7d926" stroke="#f7d926" stroke-width="0.25"/>
<path d="M81.9 161.9L99.97 188.19A31.9 31.9 0 0 1 99.27 188.65Z" fill="#f6d424" stroke="#f6d424" stroke-width="0.25"/>
<path d="M81.9 161.9L99.27 188.65A31.9 31.9 0 0 1 98.57 189.10Z" fill="#f6cf20" stroke="#f6cf20" stroke-width="0.25"/>
<path d="M81.9 161.9L98.57 189.10A31.9 31.9 0 0 1 97.85 189.53Z" fill="#f5ca1e" stroke="#f5ca1e" stroke-width="0.25"/>
<path d="M81.9 161.9L97.85 189.53A31.9 31.9 0 0 1 97.12 189.93Z" fill="#f5c51c" stroke="#f5c51c" stroke-width="0.25"/>
<path d="M81.9 161.9L97.12 189.93A31.9 31.9 0 0 1 96.38 190.32Z" fill="#f4be1c" stroke="#f4be1c" stroke-width="0.25"/>
<path d="M81.9 161.9L96.38 190.32A31.9 31.9 0 0 1 95.63 190.69Z" fill="#f3b71c" stroke="#f3b71c" stroke-width="0.25"/>
<path d="M81.9 161.9L95.63 190.69A31.9 31.9 0 0 1 94.87 191.04Z" fill="#f3b01c" stroke="#f3b01c" stroke-width="0.25"/>
<path d="M81.9 161.9L94.87 191.04A31.9 31.9 0 0 1 94.11 191.37Z" fill="#f2a91c" stroke="#f2a91c" stroke-width="0.25"/>
<path d="M81.9 161.9L94.11 191.37A31.9 31.9 0 0 1 93.33 191.68Z" fill="#a03e68" stroke="#a03e68" stroke-width="0.25"/>
<path d="M81.9 161.9L93.33 191.68A31.9 31.9 0 0 1 92.55 191.97Z" fill="#a23f69" stroke="#a23f69" stroke-width="0.25"/>
<path d="M81.9 161.9L92.55 191.97A31.9 31.9 0 0 1 91.76 192.24Z" fill="#a43f69" stroke="#a43f69" stroke-width="0.25"/>
<path d="M81.9 161.9L91.76 192.24A31.9 31.9 0 0 1 90.96 192.49Z" fill="#a6406a" stroke="#a6406a" stroke-width="0.25"/>
<path d="M81.9 161.9L90.96 192.49A31.9 31.9 0 0 1 90.16 192.71Z" fill="#ba5656" stroke="#ba5656" stroke-width="0.25"/>
<path d="M81.9 161.9L90.16 192.71A31.9 31.9 0 0 1 89.35 192.92Z" fill="#f2991c" stroke="#f2991c" stroke-width="0.25"/>
<path d="M81.9 161.9L89.35 192.92A31.9 31.9 0 0 1 88.53 193.10Z" fill="#f2981c" stroke="#f2981c" stroke-width="0.25"/>
<path d="M81.9 161.9L88.53 193.10A31.9 31.9 0 0 1 87.71 193.27Z" fill="#f2961c" stroke="#f2961c" stroke-width="0.25"/>
<path d="M81.9 161.9L87.71 193.27A31.9 31.9 0 0 1 86.89 193.41Z" fill="#f2951c" stroke="#f2951c" stroke-width="0.25"/>
<path d="M81.9 161.9L86.89 193.41A31.9 31.9 0 0 1 86.06 193.53Z" fill="#f2941c" stroke="#f2941c" stroke-width="0.25"/>
<path d="M81.9 161.9L86.06 193.53A31.9 31.9 0 0 1 85.23 193.63Z" fill="#f2921c" stroke="#f2921c" stroke-width="0.25"/>
<path d="M81.9 161.9L85.23 193.63A31.9 31.9 0 0 1 84.40 193.70Z" fill="#f2911c" stroke="#f2911c" stroke-width="0.25"/>
<path d="M81.9 161.9L84.40 193.70A31.9 31.9 0 0 1 83.57 193.76Z" fill="#f2901c" stroke="#f2901c" stroke-width="0.25"/>
<path d="M81.9 161.9L83.57 193.76A31.9 31.9 0 0 1 82.74 193.79Z" fill="#f28e1c" stroke="#f28e1c" stroke-width="0.25"/>
<path d="M81.9 161.9L82.74 193.79A31.9 31.9 0 0 1 81.90 193.80Z" fill="#f28d1c" stroke="#f28d1c" stroke-width="0.25"/>
<path d="M81.9 161.9L81.90 193.80A31.9 31.9 0 0 1 81.06 193.79Z" fill="#f28c1c" stroke="#f28c1c" stroke-width="0.25"/>
<path d="M81.9 161.9L81.06 193.79A31.9 31.9 0 0 1 80.23 193.76Z" fill="#f18b1d" stroke="#f18b1d" stroke-width="0.25"/>
<path d="M81.9 161.9L80.23 193.76A31.9 31.9 0 0 1 79.40 193.70Z" fill="#f18a1e" stroke="#f18a1e" stroke-width="0.25"/>
<path d="M81.9 161.9L79.40 193.70A31.9 31.9 0 0 1 78.57 193.63Z" fill="#f1891e" stroke="#f1891e" stroke-width="0.25"/>
<path d="M81.9 161.9L78.57 193.63A31.9 31.9 0 0 1 77.74 193.53Z" fill="#f0881f" stroke="#f0881f" stroke-width="0.25"/>
<path d="M81.9 161.9L77.74 193.53A31.9 31.9 0 0 1 76.91 193.41Z" fill="#f0881f" stroke="#f0881f" stroke-width="0.25"/>
<path d="M81.9 161.9L76.91 193.41A31.9 31.9 0 0 1 76.09 193.27Z" fill="#ef8720" stroke="#ef8720" stroke-width="0.25"/>
<path d="M81.9 161.9L76.09 193.27A31.9 31.9 0 0 1 75.27 193.10Z" fill="#ef8620" stroke="#ef8620" stroke-width="0.25"/>
<path d="M81.9 161.9L75.27 193.10A31.9 31.9 0 0 1 74.45 192.92Z" fill="#ef8521" stroke="#ef8521" stroke-width="0.25"/>
<path d="M81.9 161.9L74.45 192.92A31.9 31.9 0 0 1 73.64 192.71Z" fill="#ee8422" stroke="#ee8422" stroke-width="0.25"/>
<path d="M81.9 161.9L73.64 192.71A31.9 31.9 0 0 1 72.84 192.49Z" fill="#ed8324" stroke="#ed8324" stroke-width="0.25"/>
<path d="M81.9 161.9L72.84 192.49A31.9 31.9 0 0 1 72.04 192.24Z" fill="#eb8127" stroke="#eb8127" stroke-width="0.25"/>
<path d="M81.9 161.9L72.04 192.24A31.9 31.9 0 0 1 71.25 191.97Z" fill="#e9802a" stroke="#e9802a" stroke-width="0.25"/>
<path d="M81.9 161.9L71.25 191.97A31.9 31.9 0 0 1 70.47 191.68Z" fill="#e77e2e" stroke="#e77e2e" stroke-width="0.25"/>
<path d="M81.9 161.9L70.47 191.68A31.9 31.9 0 0 1 69.69 191.37Z" fill="#e57c31" stroke="#e57c31" stroke-width="0.25"/>
<path d="M81.9 161.9L69.69 191.37A31.9 31.9 0 0 1 68.93 191.04Z" fill="#e27a34" stroke="#e27a34" stroke-width="0.25"/>
<path d="M81.9 161.9L68.93 191.04A31.9 31.9 0 0 1 68.17 190.69Z" fill="#e07837" stroke="#e07837" stroke-width="0.25"/>
<path d="M81.9 161.9L68.17 190.69A31.9 31.9 0 0 1 67.42 190.32Z" fill="#d06472" stroke="#d06472" stroke-width="0.25"/>
<path d="M81.9 161.9L67.42 190.32A31.9 31.9 0 0 1 66.68 189.93Z" fill="#ce6171" stroke="#ce6171" stroke-width="0.25"/>
<path d="M81.9 161.9L66.68 189.93A31.9 31.9 0 0 1 65.95 189.53Z" fill="#cc5f70" stroke="#cc5f70" stroke-width="0.25"/>
<path d="M81.9 161.9L65.95 189.53A31.9 31.9 0 0 1 65.23 189.10Z" fill="#ca5c6f" stroke="#ca5c6f" stroke-width="0.25"/>
<path d="M81.9 161.9L65.23 189.10A31.9 31.9 0 0 1 64.53 188.65Z" fill="#ca5062" stroke="#ca5062" stroke-width="0.25"/>
<path d="M81.9 161.9L64.53 188.65A31.9 31.9 0 0 1 63.83 188.19Z" fill="#d03041" stroke="#d03041" stroke-width="0.25"/>
<path d="M81.9 161.9L63.83 188.19A31.9 31.9 0 0 1 63.15 187.71Z" fill="#cf3142" stroke="#cf3142" stroke-width="0.25"/>
<path d="M81.9 161.9L63.15 187.71A31.9 31.9 0 0 1 62.48 187.21Z" fill="#ce3243" stroke="#ce3243" stroke-width="0.25"/>
<path d="M81.9 161.9L62.48 187.21A31.9 31.9 0 0 1 61.82 186.69Z" fill="#cd3344" stroke="#cd3344" stroke-width="0.25"/>
<path d="M81.9 161.9L61.82 186.69A31.9 31.9 0 0 1 61.18 186.16Z" fill="#cc3446" stroke="#cc3446" stroke-width="0.25"/>
<path d="M81.9 161.9L61.18 186.16A31.9 31.9 0 0 1 60.55 185.61Z" fill="#a850a0" stroke="#a850a0" stroke-width="0.25"/>
<path d="M81.9 161.9L60.55 185.61A31.9 31.9 0 0 1 59.94 185.04Z" fill="#a651a0" stroke="#a651a0" stroke-width="0.25"/>
<path d="M81.9 161.9L59.94 185.04A31.9 31.9 0 0 1 59.34 184.46Z" fill="#a552a1" stroke="#a552a1" stroke-width="0.25"/>
<path d="M81.9 161.9L59.34 184.46A31.9 31.9 0 0 1 58.76 183.86Z" fill="#a353a1" stroke="#a353a1" stroke-width="0.25"/>
<path d="M81.9 161.9L58.76 183.86A31.9 31.9 0 0 1 58.19 183.25Z" fill="#a254a2" stroke="#a254a2" stroke-width="0.25"/>
<path d="M81.9 161.9L58.19 183.25A31.9 31.9 0 0 1 57.64 182.62Z" fill="#a054a2" stroke="#a054a2" stroke-width="0.25"/>
<path d="M81.9 161.9L57.64 182.62A31.9 31.9 0 0 1 57.11 181.98Z" fill="#9f55a3" stroke="#9f55a3" stroke-width="0.25"/>
<path d="M81.9 161.9L57.11 181.98A31.9 31.9 0 0 1 56.59 181.32Z" fill="#9d56a3" stroke="#9d56a3" stroke-width="0.25"/>
<path d="M81.9 161.9L56.59 181.32A31.9 31.9 0 0 1 56.09 180.65Z" fill="#9c57a4" stroke="#9c57a4" stroke-width="0.25"/>
<path d="M81.9 161.9L56.09 180.65A31.9 31.9 0 0 1 55.61 179.97Z" fill="#9a58a4" stroke="#9a58a4" stroke-width="0.25"/>
<path d="M81.9 161.9L55.61 179.97A31.9 31.9 0 0 1 55.15 179.27Z" fill="#985aa4" stroke="#985aa4" stroke-width="0.25"/>
<path d="M81.9 161.9L55.15 179.27A31.9 31.9 0 0 1 54.70 178.57Z" fill="#965da3" stroke="#965da3" stroke-width="0.25"/>
<path d="M81.9 161.9L54.70 178.57A31.9 31.9 0 0 1 54.27 177.85Z" fill="#9360a2" stroke="#9360a2" stroke-width="0.25"/>
<path d="M81.9 161.9L54.27 177.85A31.9 31.9 0 0 1 53.87 177.12Z" fill="#9162a2" stroke="#9162a2" stroke-width="0.25"/>
<path d="M81.9 161.9L53.87 177.12A31.9 31.9 0 0 1 53.48 176.38Z" fill="#8e65a1" stroke="#8e65a1" stroke-width="0.25"/>
<path d="M81.9 161.9L53.48 176.38A31.9 31.9 0 0 1 53.11 175.63Z" fill="#8c68a0" stroke="#8c68a0" stroke-width="0.25"/>
<path d="M81.9 161.9L53.11 175.63A31.9 31.9 0 0 1 52.76 174.87Z" fill="#8a6aa0" stroke="#8a6aa0" stroke-width="0.25"/>
<path d="M81.9 161.9L52.76 174.87A31.9 31.9 0 0 1 52.43 174.11Z" fill="#876d9d" stroke="#876d9d" stroke-width="0.25"/>
<path d="M81.9 161.9L52.43 174.11A31.9 31.9 0 0 1 52.12 173.33Z" fill="#856f9b" stroke="#856f9b" stroke-width="0.25"/>
<path d="M81.9 161.9L52.12 173.33A31.9 31.9 0 0 1 51.83 172.55Z" fill="#827298" stroke="#827298" stroke-width="0.25"/>
<path d="M81.9 161.9L51.83 172.55A31.9 31.9 0 0 1 51.56 171.76Z" fill="#807496" stroke="#807496" stroke-width="0.25"/>
<path d="M81.9 161.9L51.56 171.76A31.9 31.9 0 0 1 51.31 170.96Z" fill="#7e7694" stroke="#7e7694" stroke-width="0.25"/>
<path d="M81.9 161.9L51.31 170.96A31.9 31.9 0 0 1 51.09 170.16Z" fill="#7b7991" stroke="#7b7991" stroke-width="0.25"/>
<path d="M81.9 161.9L51.09 170.16A31.9 31.9 0 0 1 50.88 169.35Z" fill="#787c8e" stroke="#787c8e" stroke-width="0.25"/>
<path d="M81.9 161.9L50.88 169.35A31.9 31.9 0 0 1 50.70 168.53Z" fill="#757f89" stroke="#757f89" stroke-width="0.25"/>
<path d="M81.9 161.9L50.70 168.53A31.9 31.9 0 0 1 50.53 167.71Z" fill="#718384" stroke="#718384" stroke-width="0.25"/>
<path d="M81.9 161.9L50.53 167.71A31.9 31.9 0 0 1 50.39 166.89Z" fill="#6e8680" stroke="#6e8680" stroke-width="0.25"/>
<path d="M81.9 161.9L50.39 166.89A31.9 31.9 0 0 1 50.27 166.06Z" fill="#6b897b" stroke="#6b897b" stroke-width="0.25"/>
<path d="M81.9 161.9L50.27 166.06A31.9 31.9 0 0 1 50.17 165.23Z" fill="#688c78" stroke="#688c78" stroke-width="0.25"/>
<path d="M81.9 161.9L50.17 165.23A31.9 31.9 0 0 1 50.10 164.40Z" fill="#668e76" stroke="#668e76" stroke-width="0.25"/>
<path d="M81.9 161.9L50.10 164.40A31.9 31.9 0 0 1 50.04 163.57Z" fill="#639074" stroke="#639074" stroke-width="0.25"/>
<path d="M81.9 161.9L50.04 163.57A31.9 31.9 0 0 1 50.01 162.74Z" fill="#619272" stroke="#619272" stroke-width="0.25"/>
<path d="M81.9 161.9L50.01 162.74A31.9 31.9 0 0 1 50.00 161.90Z" fill="#5e9470" stroke="#5e9470" stroke-width="0.25"/>
<path d="M81.9 161.9L50.00 161.90A31.9 31.9 0 0 1 50.01 161.06Z" fill="#e0202a" stroke="#e0202a" stroke-width="0.25"/>
<path d="M81.9 161.9L50.01 161.06A31.9 31.9 0 0 1 50.04 160.23Z" fill="#e0202a" stroke="#e0202a" stroke-width="0.25"/>
<path d="M81.9 161.9L50.04 160.23A31.9 31.9 0 0 1 50.10 159.40Z" fill="#e0202a" stroke="#e0202a" stroke-width="0.25"/>
<path d="M81.9 161.9L50.10 159.40A31.9 31.9 0 0 1 50.17 158.57Z" fill="#e0202a" stroke="#e0202a" stroke-width="0.25"/>
<path d="M81.9 161.9L50.17 158.57A31.9 31.9 0 0 1 50.27 157.74Z" fill="#e0202a" stroke="#e0202a" stroke-width="0.25"/>
<path d="M81.9 161.9L50.27 157.74A31.9 31.9 0 0 1 50.39 156.91Z" fill="#8d643d" stroke="#8d643d" stroke-width="0.25"/>
<path d="M81.9 161.9L50.39 156.91A31.9 31.9 0 0 1 50.53 156.09Z" fill="#3aa851" stroke="#3aa851" stroke-width="0.25"/>
<path d="M81.9 161.9L50.53 156.09A31.9 31.9 0 0 1 50.70 155.27Z" fill="#39a753" stroke="#39a753" stroke-width="0.25"/>
<path d="M81.9 161.9L50.70 155.27A31.9 31.9 0 0 1 50.88 154.45Z" fill="#38a754" stroke="#38a754" stroke-width="0.25"/>
<path d="M81.9 161.9L50.88 154.45A31.9 31.9 0 0 1 51.09 153.64Z" fill="#38a756" stroke="#38a756" stroke-width="0.25"/>
<path d="M81.9 161.9L51.09 153.64A31.9 31.9 0 0 1 51.31 152.84Z" fill="#37a657" stroke="#37a657" stroke-width="0.25"/>
<path d="M81.9 161.9L51.31 152.84A31.9 31.9 0 0 1 51.56 152.04Z" fill="#37a658" stroke="#37a658" stroke-width="0.25"/>
<path d="M81.9 161.9L51.56 152.04A31.9 31.9 0 0 1 51.83 151.25Z" fill="#36a65a" stroke="#36a65a" stroke-width="0.25"/>
<path d="M81.9 161.9L51.83 151.25A31.9 31.9 0 0 1 52.12 150.47Z" fill="#36a55b" stroke="#36a55b" stroke-width="0.25"/>
<path d="M81.9 161.9L52.12 150.47A31.9 31.9 0 0 1 52.43 149.69Z" fill="#35a55d" stroke="#35a55d" stroke-width="0.25"/>
<path d="M81.9 161.9L52.43 149.69A31.9 31.9 0 0 1 52.76 148.93Z" fill="#35a45e" stroke="#35a45e" stroke-width="0.25"/>
<path d="M81.9 161.9L52.76 148.93A31.9 31.9 0 0 1 53.11 148.17Z" fill="#34a460" stroke="#34a460" stroke-width="0.25"/>
<path d="M81.9 161.9L53.11 148.17A31.9 31.9 0 0 1 53.48 147.42Z" fill="#33a362" stroke="#33a362" stroke-width="0.25"/>
<path d="M81.9 161.9L53.48 147.42A31.9 31.9 0 0 1 53.87 146.68Z" fill="#32a264" stroke="#32a264" stroke-width="0.25"/>
<path d="M81.9 161.9L53.87 146.68A31.9 31.9 0 0 1 54.27 145.95Z" fill="#31a167" stroke="#31a167" stroke-width="0.25"/>
<path d="M81.9 161.9L54.27 145.95A31.9 31.9 0 0 1 54.70 145.23Z" fill="#30a069" stroke="#30a069" stroke-width="0.25"/>
<path d="M81.9 161.9L54.70 145.23A31.9 31.9 0 0 1 55.15 144.53Z" fill="#309e6b" stroke="#309e6b" stroke-width="0.25"/>
<path d="M81.9 161.9L55.15 144.53A31.9 31.9 0 0 1 55.61 143.83Z" fill="#2f9d6d" stroke="#2f9d6d" stroke-width="0.25"/>
<path d="M81.9 161.9L55.61 143.83A31.9 31.9 0 0 1 56.09 143.15Z" fill="#2e9c70" stroke="#2e9c70" stroke-width="0.25"/>
<path d="M81.9 161.9L56.09 143.15A31.9 31.9 0 0 1 56.59 142.48Z" fill="#2d9b72" stroke="#2d9b72" stroke-width="0.25"/>
<path d="M81.9 161.9L56.59 142.48A31.9 31.9 0 0 1 57.11 141.82Z" fill="#2c9a74" stroke="#2c9a74" stroke-width="0.25"/>
<path d="M81.9 161.9L57.11 141.82A31.9 31.9 0 0 1 57.64 141.18Z" fill="#2c9877" stroke="#2c9877" stroke-width="0.25"/>
<path d="M81.9 161.9L57.64 141.18A31.9 31.9 0 0 1 58.19 140.55Z" fill="#2b9779" stroke="#2b9779" stroke-width="0.25"/>
<path d="M81.9 161.9L58.19 140.55A31.9 31.9 0 0 1 58.76 139.94Z" fill="#2b957c" stroke="#2b957c" stroke-width="0.25"/>
<path d="M81.9 161.9L58.76 139.94A31.9 31.9 0 0 1 59.34 139.34Z" fill="#2b947e" stroke="#2b947e" stroke-width="0.25"/>
<path d="M81.9 161.9L59.34 139.34A31.9 31.9 0 0 1 59.94 138.76Z" fill="#2b9281" stroke="#2b9281" stroke-width="0.25"/>
<path d="M81.9 161.9L59.94 138.76A31.9 31.9 0 0 1 60.55 138.19Z" fill="#2a9183" stroke="#2a9183" stroke-width="0.25"/>
<path d="M81.9 161.9L60.55 138.19A31.9 31.9 0 0 1 61.18 137.64Z" fill="#2a8f86" stroke="#2a8f86" stroke-width="0.25"/>
<path d="M81.9 161.9L61.18 137.64A31.9 31.9 0 0 1 61.82 137.11Z" fill="#2a8e89" stroke="#2a8e89" stroke-width="0.25"/>
<path d="M81.9 161.9L61.82 137.11A31.9 31.9 0 0 1 62.48 136.59Z" fill="#2b8d8c" stroke="#2b8d8c" stroke-width="0.25"/>
<path d="M81.9 161.9L62.48 136.59A31.9 31.9 0 0 1 63.15 136.09Z" fill="#2b8b90" stroke="#2b8b90" stroke-width="0.25"/>
<path d="M81.9 161.9L63.15 136.09A31.9 31.9 0 0 1 63.83 135.61Z" fill="#2c8a93" stroke="#2c8a93" stroke-width="0.25"/>
<path d="M81.9 161.9L63.83 135.61A31.9 31.9 0 0 1 64.53 135.15Z" fill="#2c8997" stroke="#2c8997" stroke-width="0.25"/>
<path d="M81.9 161.9L64.53 135.15A31.9 31.9 0 0 1 65.23 134.70Z" fill="#2d889a" stroke="#2d889a" stroke-width="0.25"/>
<path d="M81.9 161.9L65.23 134.70A31.9 31.9 0 0 1 65.95 134.27Z" fill="#2d869e" stroke="#2d869e" stroke-width="0.25"/>
<path d="M81.9 161.9L65.95 134.27A31.9 31.9 0 0 1 66.68 133.87Z" fill="#2e85a1" stroke="#2e85a1" stroke-width="0.25"/>
<path d="M81.9 161.9L66.68 133.87A31.9 31.9 0 0 1 67.42 133.48Z" fill="#2e84a5" stroke="#2e84a5" stroke-width="0.25"/>
<path d="M81.9 161.9L67.42 133.48A31.9 31.9 0 0 1 68.17 133.11Z" fill="#2f83a8" stroke="#2f83a8" stroke-width="0.25"/>
<path d="M81.9 161.9L68.17 133.11A31.9 31.9 0 0 1 68.93 132.76Z" fill="#3082ac" stroke="#3082ac" stroke-width="0.25"/>
<path d="M81.9 161.9L68.93 132.76A31.9 31.9 0 0 1 69.69 132.43Z" fill="#3082b0" stroke="#3082b0" stroke-width="0.25"/>
<path d="M81.9 161.9L69.69 132.43A31.9 31.9 0 0 1 70.47 132.12Z" fill="#3181b4" stroke="#3181b4" stroke-width="0.25"/>
<path d="M81.9 161.9L70.47 132.12A31.9 31.9 0 0 1 71.25 131.83Z" fill="#3280b7" stroke="#3280b7" stroke-width="0.25"/>
<path d="M81.9 161.9L71.25 131.83A31.9 31.9 0 0 1 72.04 131.56Z" fill="#3280b9" stroke="#3280b9" stroke-width="0.25"/>
<path d="M81.9 161.9L72.04 131.56A31.9 31.9 0 0 1 72.84 131.31Z" fill="#337fba" stroke="#337fba" stroke-width="0.25"/>
<path d="M81.9 161.9L72.84 131.31A31.9 31.9 0 0 1 73.64 131.09Z" fill="#337fbb" stroke="#337fbb" stroke-width="0.25"/>
<path d="M81.9 161.9L73.64 131.09A31.9 31.9 0 0 1 74.45 130.88Z" fill="#347ebc" stroke="#347ebc" stroke-width="0.25"/>
<path d="M81.9 161.9L74.45 130.88A31.9 31.9 0 0 1 75.27 130.70Z" fill="#e0202a" stroke="#e0202a" stroke-width="0.25"/>
<path d="M81.9 161.9L75.27 130.70A31.9 31.9 0 0 1 76.09 130.53Z" fill="#e0202a" stroke="#e0202a" stroke-width="0.25"/>
<path d="M81.9 161.9L76.09 130.53A31.9 31.9 0 0 1 76.91 130.39Z" fill="#e0202a" stroke="#e0202a" stroke-width="0.25"/>
<path d="M81.9 161.9L76.91 130.39A31.9 31.9 0 0 1 77.74 130.27Z" fill="#e0202a" stroke="#e0202a" stroke-width="0.25"/>
<path d="M81.9 161.9L77.74 130.27A31.9 31.9 0 0 1 78.57 130.17Z" fill="#e0202a" stroke="#e0202a" stroke-width="0.25"/>
<path d="M81.9 161.9L78.57 130.17A31.9 31.9 0 0 1 79.40 130.10Z" fill="#e0202a" stroke="#e0202a" stroke-width="0.25"/>
<path d="M81.9 161.9L79.40 130.10A31.9 31.9 0 0 1 80.23 130.04Z" fill="#e0202a" stroke="#e0202a" stroke-width="0.25"/>
<path d="M81.9 161.9L80.23 130.04A31.9 31.9 0 0 1 81.06 130.01Z" fill="#e0202a" stroke="#e0202a" stroke-width="0.25"/>
<path d="M81.9 161.9L81.06 130.01A31.9 31.9 0 0 1 81.90 130.00Z" fill="#e0202a" stroke="#e0202a" stroke-width="0.25"/>
<circle cx="81.9" cy="161.9" r="31.9" fill="none" stroke="#161616" stroke-width="1.35"/>
<text x="164.7" y="119.7" text-anchor="middle" stroke="#1f1f1f" stroke-width="0.16">IUE-ZR-2</text>
<circle cx="162" cy="161.8" r="31.8" fill="#e0202a"/>
<path d="M162 161.8L161.83 130.00A31.8 31.8 0 0 1 162.17 130.00Z" fill="#e8b890" stroke="#e8b890" stroke-width="0.25"/>
<circle cx="162" cy="161.8" r="31.8" fill="none" stroke="#161616" stroke-width="1.35"/>
<text x="161" y="172.9" text-anchor="middle" fill="#fff" stroke="#fff" font-size="8.0" stroke-width="0" fill-opacity="0.9">LB-1</text>
<text x="161.2" y="182.6" text-anchor="middle" fill="#fff" stroke="#fff" font-size="8.0" stroke-width="0" fill-opacity="0.9">99.37%</text>
<text x="246" y="119.7" text-anchor="middle" stroke="#1f1f1f" stroke-width="0.16">IUE-ZR-3-rep1</text>
<circle cx="240.4" cy="162" r="31.5" fill="#e0202a"/>
<path d="M240.4 162L240.40 130.50A31.5 31.5 0 0 1 241.77 130.53Z" fill="#f2c8d8" stroke="#f2c8d8" stroke-width="0.25"/>
<path d="M240.4 162L241.77 130.53A31.5 31.5 0 0 1 243.69 130.67Z" fill="#e77db1" stroke="#e77db1" stroke-width="0.25"/>
<path d="M240.4 162L243.69 130.67A31.5 31.5 0 0 1 248.55 131.57Z" fill="#8f6599" stroke="#8f6599" stroke-width="0.25"/>
<path d="M240.4 162L248.55 131.57A31.5 31.5 0 0 1 258.01 135.89Z" fill="#3a8f86" stroke="#3a8f86" stroke-width="0.25"/>
<path d="M240.4 162L258.01 135.89A31.5 31.5 0 0 1 258.74 136.39Z" fill="#f5a020" stroke="#f5a020" stroke-width="0.25"/>
<circle cx="240.4" cy="162" r="31.5" fill="none" stroke="#161616" stroke-width="1.35"/>
<text x="240.5" y="172.9" text-anchor="middle" fill="#fff" stroke="#fff" font-size="8.0" stroke-width="0" fill-opacity="0.9">LB-1</text>
<text x="240.5" y="182.6" text-anchor="middle" fill="#fff" stroke="#fff" font-size="8.0" stroke-width="0" fill-opacity="0.9">90.12%</text>
<text x="325.9" y="119.7" text-anchor="middle" stroke="#1f1f1f" stroke-width="0.16">IUE-ZR-3-rep2</text>
<circle cx="320.2" cy="162" r="31.8" fill="#e0202a"/>
<path d="M320.2 162L320.20 130.20A31.8 31.8 0 0 1 321.31 130.22Z" fill="#f5a020" stroke="#f5a020" stroke-width="0.25"/>
<path d="M320.2 162L321.31 130.22A31.8 31.8 0 0 1 322.69 130.30Z" fill="#f2c8d8" stroke="#f2c8d8" stroke-width="0.25"/>
<path d="M320.2 162L322.69 130.30A31.8 31.8 0 0 1 324.63 130.51Z" fill="#e77db1" stroke="#e77db1" stroke-width="0.25"/>
<path d="M320.2 162L324.63 130.51A31.8 31.8 0 0 1 329.50 131.59Z" fill="#8f6599" stroke="#8f6599" stroke-width="0.25"/>
<path d="M320.2 162L329.50 131.59A31.8 31.8 0 0 1 334.64 133.67Z" fill="#3a8f86" stroke="#3a8f86" stroke-width="0.25"/>
<path d="M320.2 162L334.64 133.67A31.8 31.8 0 0 1 335.37 134.05Z" fill="#f5a020" stroke="#f5a020" stroke-width="0.25"/>
<circle cx="320.2" cy="162" r="31.8" fill="none" stroke="#161616" stroke-width="1.35"/>
<text x="320.5" y="172.9" text-anchor="middle" fill="#fff" stroke="#fff" font-size="8.0" stroke-width="0" fill-opacity="0.9">LB-1</text>
<text x="320.5" y="182.6" text-anchor="middle" fill="#fff" stroke="#fff" font-size="8.0" stroke-width="0" fill-opacity="0.9">92.07%</text>
<text x="404.8" y="119.7" text-anchor="middle" stroke="#1f1f1f" stroke-width="0.16">IUE-ZR-3-rep3</text>
<circle cx="399.8" cy="162" r="32" fill="#e0202a"/>
<path d="M399.8 162L399.80 130.00A32 32 0 0 1 400.81 130.02Z" fill="#e9b080" stroke="#e9b080" stroke-width="0.25"/>
<path d="M399.8 162L400.81 130.02A32 32 0 0 1 401.64 130.05Z" fill="#3fa64a" stroke="#3fa64a" stroke-width="0.25"/>
<path d="M399.8 162L401.64 130.05A32 32 0 0 1 402.87 130.15Z" fill="#3a8f86" stroke="#3a8f86" stroke-width="0.25"/>
<path d="M399.8 162L402.87 130.15A32 32 0 0 1 403.70 130.24Z" fill="#3b78b5" stroke="#3b78b5" stroke-width="0.25"/>
<circle cx="399.8" cy="162" r="32" fill="none" stroke="#161616" stroke-width="1.35"/>
<text x="399.2" y="172.8" text-anchor="middle" fill="#fff" stroke="#fff" font-size="8.0" stroke-width="0" fill-opacity="0.9">LB-1</text>
<text x="399.4" y="182.5" text-anchor="middle" fill="#fff" stroke="#fff" font-size="8.0" stroke-width="0" fill-opacity="0.9">98.06%</text>
<text x="37.4" y="220.6" text-anchor="middle" stroke="#1f1f1f" stroke-width="0.16">IUE-ZR-4-rep1</text>
<circle cx="32" cy="258.7" r="31.8" fill="#e0202a"/>
<path d="M32 258.7L32.00 226.90A31.8 31.8 0 0 1 44.43 229.43Z" fill="#8f6599" stroke="#8f6599" stroke-width="0.25"/>
<path d="M32 258.7L44.43 229.43A31.8 31.8 0 0 1 63.25 264.60Z" fill="#3a8f86" stroke="#3a8f86" stroke-width="0.25"/>
<circle cx="32" cy="258.7" r="31.8" fill="none" stroke="#161616" stroke-width="1.35"/>
<text x="35.5" y="238.6" text-anchor="middle" fill="#fff" stroke="#fff" font-size="8.0" stroke-width="0" fill-opacity="0.9">LB-3</text>
<text x="49.8" y="254.5" text-anchor="middle" fill="#fff" stroke="#fff" font-size="8.0" stroke-width="0" fill-opacity="0.9">LB-2</text>
<text x="27.3" y="269.2" text-anchor="middle" fill="#fff" stroke="#fff" font-size="8.0" stroke-width="0" fill-opacity="0.9">LB-1</text>
<text x="27.3" y="279" text-anchor="middle" fill="#fff" stroke="#fff" font-size="8.0" stroke-width="0" fill-opacity="0.9">72.04%</text>
<text x="122.6" y="220.6" text-anchor="middle" stroke="#1f1f1f" stroke-width="0.16">IUE-ZR-4-rep2</text>
<circle cx="117.4" cy="258.7" r="32" fill="#e0202a"/>
<path d="M117.4 258.7L117.40 226.70A32 32 0 0 1 117.96 226.70Z" fill="#f5a020" stroke="#f5a020" stroke-width="0.25"/>
<path d="M117.4 258.7L117.96 226.70A32 32 0 0 1 134.83 231.86Z" fill="#8f6599" stroke="#8f6599" stroke-width="0.25"/>
<path d="M117.4 258.7L134.83 231.86A32 32 0 0 1 143.99 276.50Z" fill="#3a8f86" stroke="#3a8f86" stroke-width="0.25"/>
<circle cx="117.4" cy="258.7" r="32" fill="none" stroke="#161616" stroke-width="1.35"/>
<text x="121" y="238.6" text-anchor="middle" fill="#fff" stroke="#fff" font-size="8.0" stroke-width="0" fill-opacity="0.9">LB-3</text>
<text x="134.8" y="258" text-anchor="middle" fill="#fff" stroke="#fff" font-size="8.0" stroke-width="0" fill-opacity="0.9">LB-2</text>
<text x="111.4" y="269.2" text-anchor="middle" fill="#fff" stroke="#fff" font-size="8.0" stroke-width="0" fill-opacity="0.9">LB-1</text>
<text x="111.4" y="279" text-anchor="middle" fill="#fff" stroke="#fff" font-size="8.0" stroke-width="0" fill-opacity="0.9">65.6%</text>
<text x="207.9" y="220.6" text-anchor="middle" stroke="#1f1f1f" stroke-width="0.16">IUE-ZR-4-rep3</text>
<circle cx="202.4" cy="257.9" r="31.9" fill="#e0202a"/>
<path d="M202.4 257.9L202.40 226.00A31.9 31.9 0 0 1 219.77 231.15Z" fill="#8f6599" stroke="#8f6599" stroke-width="0.25"/>
<path d="M202.4 257.9L219.77 231.15A31.9 31.9 0 0 1 228.78 275.83Z" fill="#3a8f86" stroke="#3a8f86" stroke-width="0.25"/>
<circle cx="202.4" cy="257.9" r="31.9" fill="none" stroke="#161616" stroke-width="1.35"/>
<text x="206.4" y="236.2" text-anchor="middle" fill="#fff" stroke="#fff" font-size="8.0" stroke-width="0" fill-opacity="0.9">LB-3</text>
<text x="217.6" y="257.9" text-anchor="middle" fill="#fff" stroke="#fff" font-size="8.0" stroke-width="0" fill-opacity="0.9">LB-2</text>
<text x="193" y="269.7" text-anchor="middle" fill="#fff" stroke="#fff" font-size="8.0" stroke-width="0" fill-opacity="0.9">LB-1</text>
<text x="193" y="279.6" text-anchor="middle" fill="#fff" stroke="#fff" font-size="8.0" stroke-width="0" fill-opacity="0.9">65.5%</text>
<text x="292.5" y="220.6" text-anchor="middle" stroke="#1f1f1f" stroke-width="0.16">IUE-ZR-5-rep1</text>
<circle cx="288.1" cy="257.5" r="31.6" fill="#e0202a"/>
<path d="M288.1 257.5L288.10 225.90A31.6 31.6 0 0 1 288.65 225.90Z" fill="#f5a020" stroke="#f5a020" stroke-width="0.25"/>
<path d="M288.1 257.5L288.65 225.90A31.6 31.6 0 0 1 292.17 226.16Z" fill="#3fa64a" stroke="#3fa64a" stroke-width="0.25"/>
<path d="M288.1 257.5L292.17 226.16A31.6 31.6 0 0 1 295.74 226.84Z" fill="#3a9a62" stroke="#3a9a62" stroke-width="0.25"/>
<path d="M288.1 257.5L295.74 226.84A31.6 31.6 0 0 1 302.94 229.60Z" fill="#3a8f86" stroke="#3a8f86" stroke-width="0.25"/>
<path d="M288.1 257.5L302.94 229.60A31.6 31.6 0 0 1 311.51 236.27Z" fill="#8c9dd1" stroke="#8c9dd1" stroke-width="0.25"/>
<path d="M288.1 257.5L311.51 236.27A31.6 31.6 0 0 1 317.50 245.92Z" fill="#e77db1" stroke="#e77db1" stroke-width="0.25"/>
<path d="M288.1 257.5L317.50 245.92A31.6 31.6 0 0 1 319.68 258.60Z" fill="#8b6096" stroke="#8b6096" stroke-width="0.25"/>
<path d="M288.1 257.5L319.68 258.60A31.6 31.6 0 0 1 319.62 259.70Z" fill="#f5a020" stroke="#f5a020" stroke-width="0.25"/>
<path d="M288.1 257.5L319.62 259.70A31.6 31.6 0 0 1 319.58 260.25Z" fill="#3fa64a" stroke="#3fa64a" stroke-width="0.25"/>
<path d="M288.1 257.5L319.58 260.25A31.6 31.6 0 0 1 270.66 283.85Z" fill="#3a8f86" stroke="#3a8f86" stroke-width="0.25"/>
<path d="M288.1 257.5L270.66 283.85A31.6 31.6 0 0 1 269.75 283.23Z" fill="#f5a020" stroke="#f5a020" stroke-width="0.25"/>
<path d="M288.1 257.5L269.75 283.23A31.6 31.6 0 0 1 268.86 282.57Z" fill="#f5e224" stroke="#f5e224" stroke-width="0.25"/>
<path d="M288.1 257.5L268.86 282.57A31.6 31.6 0 0 1 266.96 280.98Z" fill="#a060a0" stroke="#a060a0" stroke-width="0.25"/>
<path d="M288.1 257.5L266.96 280.98A31.6 31.6 0 0 1 265.56 279.65Z" fill="#8a7a80" stroke="#8a7a80" stroke-width="0.25"/>
<circle cx="288.1" cy="257.5" r="31.6" fill="none" stroke="#161616" stroke-width="1.35"/>
<text x="272" y="248.7" text-anchor="middle" fill="#fff" stroke="#fff" font-size="8.0" stroke-width="0" fill-opacity="0.9">LB-1</text>
<text x="272.2" y="258.1" text-anchor="middle" fill="#fff" stroke="#fff" font-size="8.0" stroke-width="0" fill-opacity="0.9">37.35%</text>
<text x="297.3" y="275" text-anchor="middle" fill="#fff" stroke="#fff" font-size="8.0" stroke-width="0" fill-opacity="0.9">LB-2</text>
<text x="378.9" y="220.6" text-anchor="middle" stroke="#1f1f1f" stroke-width="0.16">IUE-ZR-5-rep2</text>
<circle cx="373" cy="257.6" r="31.9" fill="#e0202a"/>
<path d="M373 257.6L373.00 225.70A31.9 31.9 0 0 1 375.78 225.82Z" fill="#3fa64a" stroke="#3fa64a" stroke-width="0.25"/>
<path d="M373 257.6L375.78 225.82A31.9 31.9 0 0 1 377.44 226.01Z" fill="#3a9a62" stroke="#3a9a62" stroke-width="0.25"/>
<path d="M373 257.6L377.44 226.01A31.9 31.9 0 0 1 382.33 227.09Z" fill="#3a8f86" stroke="#3a8f86" stroke-width="0.25"/>
<path d="M373 257.6L382.33 227.09A31.9 31.9 0 0 1 387.98 229.43Z" fill="#8c9dd1" stroke="#8c9dd1" stroke-width="0.25"/>
<path d="M373 257.6L387.98 229.43A31.9 31.9 0 0 1 397.44 237.10Z" fill="#e77db1" stroke="#e77db1" stroke-width="0.25"/>
<path d="M373 257.6L397.44 237.10A31.9 31.9 0 0 1 403.34 247.74Z" fill="#8b6096" stroke="#8b6096" stroke-width="0.25"/>
<path d="M373 257.6L403.34 247.74A31.9 31.9 0 0 1 403.59 248.54Z" fill="#e77db1" stroke="#e77db1" stroke-width="0.25"/>
<path d="M373 257.6L403.59 248.54A31.9 31.9 0 0 1 403.81 249.34Z" fill="#f5a020" stroke="#f5a020" stroke-width="0.25"/>
<path d="M373 257.6L403.81 249.34A31.9 31.9 0 0 1 368.56 289.19Z" fill="#3a8f86" stroke="#3a8f86" stroke-width="0.25"/>
<path d="M373 257.6L368.56 289.19A31.9 31.9 0 0 1 366.91 288.91Z" fill="#f5e224" stroke="#f5e224" stroke-width="0.25"/>
<path d="M373 257.6L366.91 288.91A31.9 31.9 0 0 1 365.82 288.68Z" fill="#f5a020" stroke="#f5a020" stroke-width="0.25"/>
<path d="M373 257.6L365.82 288.68A31.9 31.9 0 0 1 363.67 288.11Z" fill="#a060a0" stroke="#a060a0" stroke-width="0.25"/>
<path d="M373 257.6L363.67 288.11A31.9 31.9 0 0 1 361.26 287.26Z" fill="#8a7a80" stroke="#8a7a80" stroke-width="0.25"/>
<circle cx="373" cy="257.6" r="31.9" fill="none" stroke="#161616" stroke-width="1.35"/>
<text x="356.5" y="247.8" text-anchor="middle" fill="#fff" stroke="#fff" font-size="8.0" stroke-width="0" fill-opacity="0.9">LB-1</text>
<text x="356.5" y="257.6" text-anchor="middle" fill="#fff" stroke="#fff" font-size="8.0" stroke-width="0" fill-opacity="0.9">43.99%</text>
<text x="386.9" y="270.7" text-anchor="middle" fill="#fff" stroke="#fff" font-size="8.0" stroke-width="0" fill-opacity="0.9">LB-2</text>
<text x="461.1" y="220.6" text-anchor="middle" stroke="#1f1f1f" stroke-width="0.16">IUE-ZR-6</text>
<circle cx="458.1" cy="259.1" r="31.7" fill="#e0202a"/>
<path d="M458.1 259.1L458.10 227.40A31.7 31.7 0 0 1 459.21 227.42Z" fill="#e8a0a0" stroke="#e8a0a0" stroke-width="0.25"/>
<path d="M458.1 259.1L459.21 227.42A31.7 31.7 0 0 1 461.03 227.54Z" fill="#a060a0" stroke="#a060a0" stroke-width="0.25"/>
<path d="M458.1 259.1L461.03 227.54A31.7 31.7 0 0 1 463.88 227.93Z" fill="#3fa64a" stroke="#3fa64a" stroke-width="0.25"/>
<path d="M458.1 259.1L463.88 227.93A31.7 31.7 0 0 1 470.69 230.01Z" fill="#3a8f86" stroke="#3a8f86" stroke-width="0.25"/>
<path d="M458.1 259.1L470.69 230.01A31.7 31.7 0 0 1 477.18 233.78Z" fill="#8c9dd1" stroke="#8c9dd1" stroke-width="0.25"/>
<path d="M458.1 259.1L477.18 233.78A31.7 31.7 0 0 1 483.75 240.47Z" fill="#e77db1" stroke="#e77db1" stroke-width="0.25"/>
<path d="M458.1 259.1L483.75 240.47A31.7 31.7 0 0 1 488.80 251.22Z" fill="#8b6096" stroke="#8b6096" stroke-width="0.25"/>
<path d="M458.1 259.1L488.80 251.22A31.7 31.7 0 0 1 489.22 253.05Z" fill="#e77db1" stroke="#e77db1" stroke-width="0.25"/>
<path d="M458.1 259.1L489.22 253.05A31.7 31.7 0 0 1 489.53 254.96Z" fill="#c88a30" stroke="#c88a30" stroke-width="0.25"/>
<path d="M458.1 259.1L489.53 254.96A31.7 31.7 0 0 1 489.80 258.55Z" fill="#f5e224" stroke="#f5e224" stroke-width="0.25"/>
<path d="M458.1 259.1L489.80 258.55A31.7 31.7 0 0 1 489.80 259.65Z" fill="#7a9a40" stroke="#7a9a40" stroke-width="0.25"/>
<path d="M458.1 259.1L489.80 259.65A31.7 31.7 0 0 1 488.16 269.16Z" fill="#3a8f86" stroke="#3a8f86" stroke-width="0.25"/>
<path d="M458.1 259.1L488.16 269.16A31.7 31.7 0 0 1 487.49 270.98Z" fill="#f5e224" stroke="#f5e224" stroke-width="0.25"/>
<path d="M458.1 259.1L487.49 270.98A31.7 31.7 0 0 1 486.34 273.49Z" fill="#f8b818" stroke="#f8b818" stroke-width="0.25"/>
<path d="M458.1 259.1L486.34 273.49A31.7 31.7 0 0 1 485.27 275.43Z" fill="#f5a020" stroke="#f5a020" stroke-width="0.25"/>
<path d="M458.1 259.1L485.27 275.43A31.7 31.7 0 0 1 484.38 276.83Z" fill="#e87830" stroke="#e87830" stroke-width="0.25"/>
<path d="M458.1 259.1L484.38 276.83A31.7 31.7 0 0 1 482.02 279.90Z" fill="#9a68a0" stroke="#9a68a0" stroke-width="0.25"/>
<path d="M458.1 259.1L482.02 279.90A31.7 31.7 0 0 1 478.69 283.20Z" fill="#4fa054" stroke="#4fa054" stroke-width="0.25"/>
<circle cx="458.1" cy="259.1" r="31.7" fill="none" stroke="#161616" stroke-width="1.35"/>
<text x="443.6" y="257.8" text-anchor="middle" fill="#fff" stroke="#fff" font-size="8.0" stroke-width="0" fill-opacity="0.9">LB-1</text>
<text x="443.6" y="267" text-anchor="middle" fill="#fff" stroke="#fff" font-size="8.0" stroke-width="0" fill-opacity="0.9">61.39%</text>
<text x="507.2" y="114.4" font-size="11.2" font-weight="bold" fill="#000" stroke="#000" stroke-width="0.45">c</text>
<text x="591.8" y="114.6" text-anchor="middle" stroke="#1f1f1f" stroke-width="0.16">IUE ZR TrackerSeq</text>
<text x="591.8" y="124" text-anchor="middle" stroke="#1f1f1f" stroke-width="0.16">(<tspan font-style="italic">N</tspan> = 11, <tspan font-style="italic">n</tspan> = 34,919 cells)</text>
<path d="M507.0 204.1C507.1 203.0 507.4 201.7 508.0 200.4C508.7 199.2 509.6 197.9 510.9 196.8C512.3 195.7 514.2 194.5 516.1 193.9C517.9 193.3 519.7 193.6 521.9 193.1C524.1 192.7 527.0 192.0 529.2 191.4C531.4 190.8 533.2 190.0 535.0 189.5C536.9 189.0 538.4 188.4 540.1 188.5C541.8 188.5 543.8 189.3 545.3 189.9C546.7 190.6 548.7 191.5 548.9 192.4C549.1 193.3 547.0 194.2 546.7 195.3C546.5 196.4 546.7 198.0 547.4 199.0C548.2 200.0 550.0 200.3 551.1 201.2C552.2 202.0 552.8 203.5 554.0 204.1C555.2 204.7 558.0 204.3 558.4 204.8C558.8 205.3 556.9 206.5 556.2 207.0C555.5 207.5 554.3 206.9 554.0 207.7C553.8 208.6 554.5 210.4 554.7 212.1C555.0 213.8 555.4 216.3 555.5 218.0C555.5 219.7 554.8 221.2 555.2 222.3C555.5 223.4 556.5 223.8 557.7 224.5C558.8 225.3 561.2 226.0 562.0 226.7C562.9 227.4 563.4 228.5 562.8 228.9C562.2 229.3 559.7 229.1 558.4 228.9C557.1 228.7 555.6 227.3 554.7 227.4C553.9 227.6 553.4 228.7 553.3 229.6C553.2 230.6 553.8 231.9 554.3 233.3C554.8 234.6 555.8 236.6 556.2 237.7C556.6 238.8 557.1 239.2 556.9 239.9C556.8 240.5 555.6 240.5 555.2 241.3C554.7 242.2 554.9 244.7 554.3 245.0C553.7 245.2 552.7 243.6 551.8 242.8C550.9 241.9 549.9 240.8 548.9 239.9C547.9 238.9 547.0 237.9 546.0 236.9C545.0 236.0 543.2 234.6 543.1 234.0C542.9 233.4 545.4 233.8 545.3 233.3C545.1 232.8 543.3 231.6 542.3 231.1C541.4 230.6 540.6 230.6 539.4 230.4C538.2 230.1 536.7 230.0 535.0 229.6C533.3 229.3 531.1 228.9 529.2 228.2C527.3 227.4 525.3 226.5 523.4 225.3C521.4 224.0 519.3 222.5 517.5 220.9C515.7 219.3 513.8 217.5 512.4 215.8C511.0 214.1 509.9 212.1 509.1 210.7C508.2 209.2 507.6 208.1 507.3 207.0C507.0 205.9 506.9 205.2 507.0 204.1Z" fill="#a5d59b"/>
<path d="M564.2 166.6C564.4 165.5 565.0 164.2 565.7 163.0C566.4 161.7 567.5 160.1 568.6 159.3C569.7 158.5 571.2 158.2 572.3 158.3C573.4 158.4 574.3 159.4 575.2 160.0C576.0 160.7 576.5 162.0 577.4 162.2C578.2 162.4 579.4 161.5 580.3 161.2C581.2 160.9 582.4 159.9 582.9 160.3C583.4 160.7 583.1 162.5 583.2 163.7C583.3 164.9 583.7 166.2 583.5 167.3C583.3 168.4 582.2 169.3 581.8 170.3C581.3 171.2 581.2 172.6 580.6 173.2C580.0 173.8 578.9 174.0 578.1 173.9C577.3 173.8 576.5 173.2 575.9 172.4C575.3 171.7 575.2 169.6 574.5 169.5C573.7 169.4 572.6 171.4 571.5 171.7C570.4 172.0 569.0 171.8 567.9 171.4C566.8 171.1 565.6 170.3 565.0 169.5C564.4 168.7 564.1 167.7 564.2 166.6Z" fill="#a5d59b"/>
<path d="M579 174L583.5 176.4" stroke="#a5d59b" stroke-width="1.4" stroke-linecap="round"/>
<path d="M582.3 167.0h0M583.4 176.6h0M576.3 165.3h0" stroke="#c1208d" stroke-width="1.2" stroke-linecap="round" fill="none"/>
<path d="M592.3 181.2C592.2 180.2 593.5 178.5 594.5 177.6C595.5 176.6 596.9 175.6 598.1 175.4C599.4 175.1 600.7 175.5 601.8 176.1C602.9 176.7 604.0 178.0 604.7 179.0C605.4 180.0 605.6 181.1 606.2 181.9C606.8 182.8 607.9 183.4 608.4 184.1C608.8 184.8 609.5 185.8 609.1 186.0C608.7 186.3 607.1 186.0 606.2 185.6C605.2 185.1 604.3 183.7 603.2 183.4C602.2 183.1 600.9 183.7 599.6 183.7C598.3 183.7 596.4 183.8 595.2 183.4C594.0 183.0 592.4 182.2 592.3 181.2Z" fill="#a5d59b"/>
<path d="M604.8 179.8h0" stroke="#c1208d" stroke-width="1.0" stroke-linecap="round" fill="none"/>
<path d="M592.0 135.2C592.1 134.2 593.1 133.7 594.5 133.0C595.9 132.3 598.7 131.1 600.3 131.1C601.9 131.1 603.0 132.2 604.0 133.0C605.0 133.8 605.9 134.9 606.2 135.9C606.4 137.0 606.0 138.6 605.4 139.6C604.8 140.6 603.5 141.6 602.5 142.2C601.5 142.8 600.6 143.3 599.6 143.2C598.6 143.2 597.7 142.5 596.7 141.8C595.7 141.1 594.5 140.0 593.8 138.9C593.0 137.8 591.9 136.2 592.0 135.2Z" fill="#b9c6da"/>
<path d="M606.0 140.7h0M607.3 141.8h0M608.5 142.9h0" stroke="#777" stroke-width="0.7" stroke-linecap="round" fill="none"/>
<path d="M599.8 143.2h0" stroke="#c1208d" stroke-width="0.8" stroke-linecap="round" fill="none"/>
<path d="M612.0 146.2C612.2 145.8 613.4 145.5 614.2 145.7C615.0 146.0 616.6 147.1 616.8 147.6C617.1 148.1 616.3 148.6 615.7 148.6C615.0 148.7 613.6 148.5 613.0 148.1C612.4 147.7 611.8 146.6 612.0 146.2Z" fill="#7d7d7d"/>
<path d="M614.2 148.6h0" stroke="#c1208d" stroke-width="0.8" stroke-linecap="round" fill="none"/>
<path d="M632.4 153.5C632.9 152.4 634.4 151.5 635.4 151.3C636.3 151.0 637.3 151.5 638.3 152.0C639.3 152.5 640.1 153.7 641.2 154.2C642.3 154.7 643.8 154.9 644.9 154.9C645.9 154.9 647.0 154.1 647.8 154.2C648.5 154.3 649.1 154.8 649.2 155.7C649.4 156.5 649.0 158.2 648.5 159.3C648.0 160.4 647.0 161.3 646.3 162.2C645.6 163.2 644.1 164.3 644.1 165.1C644.1 166.0 645.2 166.5 646.3 167.3C647.4 168.2 649.1 169.3 650.7 170.3C652.3 171.2 655.1 172.3 655.8 172.9C656.5 173.5 656.0 174.0 655.1 173.9C654.1 173.8 651.5 173.1 650.0 172.4C648.4 171.8 646.8 170.7 645.6 170.3C644.4 169.8 643.5 170.0 642.7 169.5C641.8 169.0 641.1 168.2 640.5 167.3C639.9 166.5 639.6 165.3 639.0 164.4C638.4 163.6 637.7 162.7 636.8 162.2C636.0 161.7 634.6 162.2 633.9 161.5C633.2 160.8 632.7 159.2 632.4 157.8C632.2 156.5 632.0 154.6 632.4 153.5Z" fill="#f28db5"/>
<path d="M632.4 162.7h0M639.0 165.9h0M641.5 170.5h0" stroke="#f28db5" stroke-width="1.0" stroke-linecap="round" fill="none"/>
<path d="M640.6 155.5h0M645.5 162.0h0M644.0 154.8h0" stroke="#a5d59b" stroke-width="0.9" stroke-linecap="round" fill="none"/>
<path d="M633.0 163.0h0M639.5 166.3h0M645.2 162.6h0" stroke="#c1208d" stroke-width="0.7" stroke-linecap="round" fill="none"/>
<path d="M651.0 158.9C651.4 158.6 652.4 158.1 653.6 158.3C654.8 158.4 656.7 159.4 658.0 159.7C659.3 160.1 660.7 159.9 661.6 160.3C662.5 160.7 663.4 161.7 663.4 162.2C663.4 162.7 662.5 163.1 661.6 163.2C660.7 163.4 658.8 163.1 658.0 163.2C657.1 163.4 656.9 164.2 656.5 164.1C656.2 164.0 656.3 163.2 655.8 162.7C655.3 162.1 654.3 161.2 653.6 160.8C652.9 160.3 651.9 160.4 651.4 160.0C651.0 159.7 650.6 159.2 651.0 158.9Z" fill="#0d4f8b"/>
<path d="M566.0 227.0C566.2 226.6 567.7 226.1 568.6 225.5C569.5 225.0 570.5 224.2 571.5 223.8C572.6 223.4 574.2 222.8 574.7 223.2C575.3 223.6 574.9 225.2 574.7 226.0C574.6 226.8 573.7 227.4 573.7 228.2C573.7 228.9 574.9 229.8 574.7 230.4C574.6 230.9 573.6 231.5 573.0 231.4C572.4 231.3 571.8 230.2 571.2 229.6C570.7 229.1 570.5 228.1 569.8 227.9C569.1 227.6 567.8 228.3 567.2 228.2C566.5 228.0 565.7 227.4 566.0 227.0Z" fill="#8f86c8"/>
<path d="M610.5 181.2L613.5 178.3L618.6 173.9L623.2 171.0L628.8 173.2L634.6 176.1L636.4 179.0L636.1 186.3L635.8 193.6L639.0 199.5L644.9 205.3L650.0 211.1L650.7 213.4L649.2 219.2L647.0 223.6L644.9 228.0L644.1 233.1L641.2 235.0L638.3 233.8L634.6 231.6L630.3 229.4L625.1 228.0L620.0 226.2L614.2 226.4L611.7 230.1L611.6 235.3L612.0 239.6L612.0 244.0L614.2 247.7L617.8 248.4L623.0 247.7L627.3 249.9L629.5 253.5L628.1 256.4L624.4 258.6L621.5 261.5L618.6 265.2L614.9 268.8L611.3 267.4L606.9 265.9L603.2 263.7L601.1 260.8L602.5 256.4L604.7 252.0L606.9 248.4L605.4 245.5L601.1 244.0L595.9 241.8L594.1 238.2L594.5 233.8L597.4 231.6L602.5 230.9L605.4 230.4L608.1 228.5L609.5 225.0L609.5 219.2L608.4 211.9L609.1 204.6L610.5 198.8L609.8 192.9L610.1 215.5L610.5 209.7L609.1 203.8L608.4 198.0L609.8 193.6L611.0 186.3Z" fill="#c1208d"/>
<path d="M622.1 192.5h0M623.3 193.1h0M625.5 188.3h0M622.3 189.8h0M627.4 191.9h0M625.6 189.1h0M625.6 195.4h0M624.6 194.3h0M626.7 193.0h0M627.6 191.9h0M623.5 194.8h0M623.9 196.0h0M621.2 189.7h0M625.5 190.4h0" stroke="#fff" stroke-width="0.9" stroke-linecap="round" fill="none"/>
<path d="M614.6 183.7h0M613.6 185.0h0M615.1 187.1h0M615.7 182.3h0M617.2 184.9h0M616.0 182.6h0M616.7 185.0h0M611.9 186.5h0M614.0 182.2h0" stroke="#fff" stroke-width="0.7" stroke-linecap="round" fill="none"/>
<path d="M619.2 223.1h0M620.8 224.6h0M614.6 223.3h0M619.0 223.0h0M612.8 225.1h0M619.2 223.7h0M616.9 225.7h0M619.7 226.1h0M618.4 226.2h0M613.5 224.5h0M618.2 222.9h0M616.2 226.0h0M619.5 223.2h0M619.4 225.4h0M620.2 224.8h0M620.7 226.8h0M610.2 223.2h0M613.7 225.3h0M618.9 224.6h0M615.4 224.5h0M615.5 226.1h0M614.4 224.9h0M614.6 224.0h0M622.1 224.1h0M612.7 225.2h0M620.5 223.4h0M614.8 224.6h0M622.6 225.2h0" stroke="#fff" stroke-width="1.0" stroke-linecap="round" fill="none"/>
<path d="M621.6 228.0h0M615.8 232.2h0M614.5 227.6h0M618.0 228.2h0M614.1 228.9h0M621.1 229.5h0M613.5 229.1h0M620.9 228.9h0M615.9 230.1h0M616.7 230.1h0M622.4 228.4h0M615.3 229.5h0M614.6 227.1h0M618.6 229.0h0M621.1 226.9h0M613.9 229.1h0M618.9 229.5h0M616.0 228.2h0M613.9 233.4h0M612.6 228.9h0M615.0 231.1h0M616.8 230.6h0M620.7 226.5h0M612.6 227.6h0M613.4 227.1h0M613.0 230.9h0" stroke="#c1208d" stroke-width="1.0" stroke-linecap="round" fill="none"/>
<path d="M609.2 246.3h0M609.5 248.7h0M611.2 246.6h0M608.3 246.4h0M612.1 246.8h0M609.6 248.4h0M612.6 246.8h0M612.7 248.6h0M610.0 246.7h0M610.5 249.1h0M610.0 249.1h0M610.3 245.8h0M610.8 249.1h0M610.0 250.4h0M608.8 247.4h0M612.7 248.9h0M612.3 248.1h0M612.5 244.3h0M611.8 250.1h0M613.8 248.2h0M612.7 244.3h0M612.5 247.7h0" stroke="#fff" stroke-width="1.2" stroke-linecap="round" fill="none"/>
<path d="M639.2 220.7h0M645.0 221.2h0M607.5 229.5h0" stroke="#a5d59b" stroke-width="0.9" stroke-linecap="round" fill="none"/>
<path d="M556.5 239.5h0" stroke="#c1208d" stroke-width="0.9" stroke-linecap="round" fill="none"/>
<path d="M606.4 204.2L605.7 211.9L606.8 219.4L606.8 224.5L605.9 226.8L604.4 227.9L596.5 229.1L592.9 231.6L591.8 233.3L591.4 238.4L594.2 243.9L603.5 247.7L603.8 248.3L600.0 255.6L598.4 260.5L598.9 262.4L601.4 265.7L605.5 268.2L615.2 271.5L616.8 270.7L626.1 260.8L630.0 258.3L632.2 253.4L629.2 247.9L624.2 245.2L622.8 245.0L617.9 245.7L615.9 245.3L614.7 243.3L614.4 231.0L615.7 229.0L619.6 228.9L629.3 231.9L640.2 237.5L642.2 237.5L645.8 235.2L646.6 234.2L647.5 228.8L651.8 220.1L653.4 213.0L652.2 209.6L641.2 197.8L638.5 193.0L639.1 178.9L637.0 174.7L636.1 173.8L630.0 170.8L623.8 168.3L622.0 168.6L617.0 171.7L608.2 179.9L607.8 181.2L608.3 186.2L607.2 192.9L605.7 197.8L606.4 204.2Z" fill="none" stroke="#1c1c1c" stroke-width="1.1" stroke-linecap="round" stroke-dasharray="0.01 2.1"/>
<path d="M518.4 275.5V298.8H540.6" stroke="#111" stroke-width="1.35" fill="none"/>
<path d="M518.4 272.5L520.6 277.5L516.2 277.5Z" fill="#111"/>
<path d="M543.6 298.8L538.6 301.0L538.6 296.6Z" fill="#111"/>
<text x="513.2" y="286.6" text-anchor="middle" stroke="#1f1f1f" transform="rotate(-90 513.2 286.6)" stroke-width="0.16">UMAP 2</text>
<text x="531" y="308.9" text-anchor="middle" stroke="#1f1f1f" stroke-width="0.16">UMAP 1</text>
<circle cx="565.6" cy="282.0" r="2.1" fill="#c1208d"/>
<text x="572.1" y="284.8" stroke="#1f1f1f" stroke-width="0.16">Tumour cells</text>
<circle cx="565.6" cy="289.9" r="2.1" fill="#f28db5"/>
<text x="572.1" y="292.7" stroke="#1f1f1f" stroke-width="0.16">OPCs</text>
<circle cx="565.6" cy="297.7" r="2.1" fill="#0d4f8b"/>
<text x="572.1" y="300.5" stroke="#1f1f1f" stroke-width="0.16">Immature neurons</text>
<circle cx="565.6" cy="305.6" r="2.1" fill="#b9c6da"/>
<text x="572.1" y="308.4" stroke="#1f1f1f" stroke-width="0.16">Endothelial cells</text>
<circle cx="646.6" cy="283.4" r="2.1" fill="#7d7d7d"/>
<text x="652.6" y="286.2" stroke="#1f1f1f" stroke-width="0.16">Pericytes</text>
<circle cx="646.6" cy="291.5" r="2.1" fill="#8f86c8"/>
<text x="652.6" y="294.3" stroke="#1f1f1f" stroke-width="0.16">T cells</text>
<circle cx="646.6" cy="299.6" r="2.1" fill="#a5d59b"/>
<text x="652.6" y="302.4" stroke="#1f1f1f" stroke-width="0.16">Microglia</text>
<text x="1.3" y="333" font-size="11.2" font-weight="bold" fill="#000" stroke="#000" stroke-width="0.45">d</text>
<text x="75" y="336.7" text-anchor="middle" stroke="#1f1f1f" stroke-width="0.16">ZR</text>
<text x="75.6" y="346" text-anchor="middle" stroke="#1f1f1f" stroke-width="0.16">target gene expression</text>
<path d="M67.2 397.6L66.3 406.5L67.6 415.1L67.6 421.8L66.0 425.8L63.0 427.9L53.6 429.3L50.1 431.9L49.6 437.2L51.9 441.6L57.9 444.2L62.9 445.9L64.5 449.0L62.0 453.2L59.5 458.3L57.8 463.7L60.4 467.1L64.7 469.7L74.2 473.1L78.6 468.8L82.0 464.5L85.4 461.2L89.7 458.6L91.4 455.0L88.8 450.6L83.6 448.0L77.6 448.8L73.5 448.0L71.0 443.9L71.0 438.8L70.5 433.7L70.7 427.9L73.5 423.6L80.1 423.5L91.9 427.2L97.0 429.7L101.3 432.3L104.9 433.6L108.4 431.3L109.3 425.3L114.4 415.1L116.1 408.2L115.2 405.5L109.2 398.7L102.4 391.9L98.7 385.2L99.4 368.2L97.4 364.7L90.4 361.2L83.9 358.6L78.3 362.1L72.3 367.2L68.8 370.7L69.3 376.7L68.0 385.0L66.3 390.3L67.2 397.6Z" fill="#d9dddd"/>
<path d="M69.5 389.9C69.6 386.5 70.2 384.3 71.3 382.3C72.3 380.3 74.2 378.6 75.8 378.0C77.3 377.4 79.5 377.3 80.8 378.7C82.1 380.2 82.1 385.1 83.5 386.6C84.9 388.1 87.5 386.7 89.2 387.7C90.9 388.7 92.4 390.8 93.9 392.4C95.4 394.0 97.3 395.5 98.2 397.4C99.0 399.3 99.4 401.9 98.9 403.9C98.4 405.8 96.3 407.3 95.0 408.9C93.6 410.4 92.3 412.2 90.6 413.2C89.0 414.2 86.8 415.1 84.9 415.0C83.0 414.9 81.1 413.4 79.3 412.5C77.6 411.5 75.8 410.9 74.3 409.2C72.9 407.6 71.5 405.6 70.7 402.4C69.9 399.2 69.4 393.2 69.5 389.9Z" fill="#c8463a" opacity="0.85"/>
<path d="M78.2 373.4h0M94.9 365.7h0M77.4 369.6h0M91.0 379.6h0M92.7 374.2h0M86.7 367.8h0M88.1 371.4h0M84.8 369.6h0M89.5 376.1h0M95.7 371.9h0M73.9 376.2h0M76.7 368.6h0M76.3 370.1h0M81.6 372.0h0M85.2 375.8h0M86.7 373.3h0M88.2 361.5h0M91.7 363.1h0M92.6 370.1h0M94.6 364.9h0M94.9 369.1h0M96.9 375.5h0M88.5 363.4h0M93.2 374.2h0M91.6 374.5h0M89.6 371.9h0M88.8 365.0h0M79.8 366.7h0M91.9 383.1h0M94.8 379.2h0M93.3 376.1h0M88.8 376.8h0M82.2 387.0h0M89.3 378.5h0M88.8 376.6h0M88.4 362.5h0M86.6 373.3h0M95.8 376.2h0M87.9 381.8h0M81.7 377.0h0M95.8 367.6h0M89.2 374.7h0M87.4 375.7h0M93.5 390.0h0M84.3 372.0h0M88.3 383.5h0M86.8 386.2h0M82.3 366.0h0M92.9 382.4h0M92.3 372.7h0M82.8 365.5h0M91.8 367.2h0M93.4 370.8h0M84.9 371.1h0M90.7 377.5h0M83.8 368.1h0M77.1 383.9h0M98.4 368.6h0M83.8 359.5h0M88.7 371.9h0M98.0 371.8h0M75.3 371.7h0M75.3 400.1h0M95.9 375.1h0M80.6 380.6h0M75.9 377.7h0M82.2 364.1h0M78.5 364.3h0M96.8 376.1h0M86.4 361.7h0M74.0 376.1h0M98.3 377.3h0M97.5 372.3h0M82.0 370.9h0M84.6 360.5h0M87.4 371.4h0M83.8 382.4h0M88.8 375.1h0M72.6 376.6h0M82.2 381.4h0M90.0 378.8h0M92.8 364.3h0M81.7 366.4h0M93.2 377.7h0M86.7 375.3h0M81.7 372.2h0M89.2 378.8h0M81.2 363.0h0M81.7 385.2h0M95.6 369.1h0M89.1 371.1h0M88.9 368.3h0M84.9 359.3h0M82.6 384.3h0M91.5 370.7h0M85.8 370.7h0M90.1 364.6h0M88.9 372.2h0M81.8 363.3h0M85.4 364.9h0M82.7 371.0h0M95.9 370.8h0M86.4 364.8h0M86.4 378.0h0M84.5 360.2h0M76.9 379.6h0M90.1 368.1h0M93.1 377.0h0M80.4 377.9h0M95.3 366.8h0M84.5 365.4h0M91.1 388.1h0M74.4 366.6h0M80.3 387.2h0M91.7 363.8h0M94.5 374.7h0M75.2 365.5h0M85.6 370.3h0M88.4 367.2h0M88.9 365.1h0M80.7 383.2h0M90.1 373.9h0M75.4 368.7h0M95.7 366.8h0M90.5 369.0h0M89.1 380.5h0M84.4 383.6h0M81.5 362.1h0M84.6 377.9h0M91.2 386.3h0M96.4 368.1h0M82.9 367.6h0M78.7 367.8h0M86.0 368.9h0M96.3 368.1h0M76.4 379.2h0M79.3 366.3h0M86.4 367.2h0M79.9 368.0h0M86.4 379.8h0M93.0 376.7h0M80.9 371.2h0M91.2 381.3h0M91.0 368.1h0M87.7 368.3h0M89.3 375.9h0M84.9 363.1h0M81.0 379.6h0M97.1 378.7h0M93.9 377.3h0M87.4 375.8h0M79.5 368.4h0M81.9 376.4h0M83.0 369.2h0M90.4 381.8h0M81.5 362.0h0M90.8 365.2h0M92.8 365.8h0M80.6 388.0h0M92.8 400.3h0M90.5 367.1h0M88.2 384.0h0M87.2 374.0h0M91.3 362.3h0M88.4 365.8h0M78.0 377.6h0M92.4 370.8h0M91.1 369.3h0M74.7 369.6h0M76.0 369.9h0M88.5 373.2h0M89.1 371.6h0M78.8 366.8h0M83.6 368.1h0M89.5 375.5h0M90.4 368.4h0M75.0 373.6h0M83.5 378.7h0M79.5 369.2h0M86.4 369.3h0M90.9 378.7h0M86.9 361.4h0M88.9 375.0h0M86.1 370.0h0M82.1 363.8h0M80.2 364.1h0M86.6 389.1h0M90.5 362.1h0M88.2 361.4h0M86.9 366.9h0M82.8 378.2h0M94.5 370.7h0M80.6 360.9h0M89.5 390.7h0M84.0 363.4h0M82.2 360.7h0M80.1 368.4h0M98.2 370.1h0M89.0 369.9h0M87.1 378.8h0M92.1 371.9h0M85.0 372.9h0M87.3 388.8h0M78.9 366.9h0M97.0 367.8h0M98.2 369.7h0M88.5 366.9h0M92.0 378.3h0M91.7 378.9h0M85.4 368.2h0M94.8 367.1h0M77.4 368.2h0M83.3 375.4h0M82.0 361.0h0M84.9 383.5h0M87.1 371.5h0M87.5 372.7h0M94.4 382.1h0M75.0 381.8h0M87.4 367.4h0M79.7 374.3h0M93.0 369.0h0M86.0 360.6h0M84.5 367.5h0M81.5 363.4h0M88.1 372.8h0M83.6 369.3h0M76.9 374.6h0M81.8 372.0h0M80.6 365.7h0M86.9 363.8h0M83.6 375.4h0M83.6 359.9h0M78.5 363.5h0M87.5 364.5h0M87.6 394.2h0M90.0 370.9h0M86.4 379.1h0M84.9 367.3h0M84.6 369.3h0M97.1 376.8h0M77.3 366.3h0M81.4 377.2h0M89.1 377.8h0M90.8 372.1h0M88.0 364.2h0M82.2 373.2h0M90.1 362.4h0M83.1 379.8h0M80.9 373.8h0M90.2 371.8h0M79.4 366.2h0M84.9 363.5h0M87.9 366.7h0M90.0 382.5h0M93.0 373.7h0M86.6 374.8h0M79.8 380.9h0M84.9 373.3h0M84.9 359.3h0M94.3 365.3h0M89.5 363.2h0M84.3 378.0h0M87.5 378.3h0M82.7 376.2h0M81.5 375.3h0M90.7 380.6h0M93.1 383.1h0M91.9 365.4h0M96.4 371.6h0M78.0 367.1h0M98.1 367.5h0M88.3 367.2h0M74.7 365.7h0M90.1 371.9h0M96.6 376.3h0M95.1 381.3h0M84.1 364.9h0M89.8 384.5h0M74.7 368.1h0M82.0 374.9h0M98.5 367.6h0M78.1 370.5h0M94.1 365.6h0M97.8 366.9h0M75.7 368.1h0M90.0 361.6h0M83.7 372.4h0M84.2 373.8h0M89.7 378.8h0M82.2 392.1h0M93.4 372.8h0M95.6 378.3h0M88.2 364.8h0M95.1 373.8h0M90.9 371.1h0M89.5 375.6h0M88.5 383.8h0M83.0 366.7h0M89.9 376.5h0M93.4 382.9h0M83.8 380.2h0M86.4 388.1h0M93.3 366.1h0M82.1 370.8h0M89.8 362.1h0M78.5 368.3h0M83.9 396.0h0M84.4 364.8h0M95.9 370.8h0M78.1 381.2h0M89.8 374.3h0M84.9 376.1h0M86.5 380.7h0M95.0 382.1h0M92.6 373.5h0M86.7 366.3h0M79.0 371.3h0M97.0 367.0h0M91.4 364.4h0M89.3 361.4h0M90.3 368.2h0M89.8 364.9h0M78.6 367.3h0M95.2 383.7h0M85.0 377.0h0M93.1 373.5h0M75.7 372.9h0M80.1 380.3h0M93.4 375.4h0M94.7 370.8h0M86.0 364.0h0M79.7 366.4h0M89.0 364.5h0M82.8 365.4h0M80.7 377.7h0M85.4 377.6h0M78.7 378.1h0M87.2 375.9h0M86.6 362.5h0M96.5 366.4h0M86.3 362.5h0M89.0 366.8h0M89.5 373.1h0M90.7 378.0h0M92.0 373.4h0M89.6 373.8h0M85.0 372.0h0M94.4 365.8h0M76.6 369.2h0M82.3 375.2h0M86.3 370.9h0M77.9 377.9h0M81.9 360.2h0M94.1 371.0h0M81.4 380.6h0M93.2 375.3h0M74.2 369.2h0M94.4 382.4h0M95.2 363.9h0M73.0 412.4h0M99.0 416.5h0M102.1 397.4h0M77.6 372.2h0M76.8 392.0h0M93.7 404.2h0M67.1 427.8h0M72.9 411.1h0M105.6 422.2h0M72.7 394.7h0M92.3 381.1h0M104.3 417.5h0M85.0 417.5h0M88.6 390.8h0M78.0 397.1h0M93.2 400.6h0M76.7 388.5h0M72.0 378.2h0M68.8 411.8h0M84.7 396.4h0M89.2 414.2h0M93.2 409.9h0M75.3 395.1h0M72.0 397.4h0M71.4 393.5h0M81.2 395.7h0M79.8 391.8h0M103.8 393.9h0M68.4 401.6h0M85.1 374.9h0M70.1 407.1h0M81.6 403.2h0M78.8 368.4h0M81.5 379.6h0M84.0 386.6h0M79.0 395.8h0M95.6 409.8h0M68.5 398.6h0M106.1 405.9h0M72.7 397.1h0M78.5 412.3h0M84.3 404.2h0M88.3 422.2h0M105.9 413.6h0M97.3 411.3h0M84.3 398.7h0M84.3 410.9h0M81.3 403.4h0M72.4 406.9h0M79.8 396.6h0M77.5 414.6h0M73.6 400.5h0M91.8 393.1h0M91.3 387.4h0M74.6 400.3h0M90.2 418.2h0M95.1 426.4h0M90.7 400.9h0M81.8 386.5h0M81.9 391.3h0M78.0 400.8h0M86.0 411.0h0M81.4 389.6h0M88.5 408.4h0M70.0 377.0h0M68.2 414.0h0M85.5 410.9h0M80.2 419.1h0M79.3 398.0h0M73.7 391.9h0M94.5 405.0h0M84.2 388.1h0M80.3 416.6h0M96.5 427.0h0M87.8 398.5h0M74.2 398.8h0M69.6 415.1h0M87.6 381.9h0M76.4 382.9h0M92.8 396.2h0M85.5 390.4h0M75.1 392.2h0M90.0 374.1h0M85.4 415.4h0M87.4 417.4h0M79.7 398.9h0M87.6 406.3h0M101.6 400.7h0M113.7 412.6h0M86.7 388.6h0M91.8 408.7h0M96.6 402.1h0M70.4 386.7h0M82.0 417.9h0M107.8 412.9h0M89.4 408.5h0M96.4 417.4h0M96.9 376.8h0M98.4 404.4h0M76.8 406.4h0M88.2 398.1h0M92.3 398.1h0M94.8 401.4h0M90.3 393.8h0M73.8 406.4h0M78.4 401.4h0M85.9 375.5h0M85.3 409.7h0M73.1 395.4h0M74.8 408.6h0M104.6 396.5h0M98.8 402.4h0M80.7 394.8h0M70.8 417.3h0M97.3 384.4h0M96.7 388.4h0M86.9 411.8h0M91.6 415.4h0M89.1 407.1h0M87.6 414.6h0M77.9 413.4h0M106.8 397.9h0M90.5 391.5h0M79.4 402.6h0M78.6 386.1h0M83.4 401.6h0M88.8 409.0h0M81.2 387.7h0M78.2 405.2h0M97.1 393.6h0M86.2 375.9h0M86.4 397.2h0M77.3 411.5h0M111.2 413.7h0M71.9 420.8h0M78.7 398.2h0M75.0 405.4h0M92.3 400.9h0M80.6 396.8h0M77.7 412.8h0M75.9 396.7h0M80.6 388.1h0M80.4 377.8h0M90.0 406.6h0M79.3 421.1h0M71.3 406.8h0M91.1 391.2h0M80.2 411.6h0M84.8 402.9h0M105.1 401.9h0M96.5 397.0h0M88.7 420.3h0M91.4 391.1h0M79.4 394.2h0M70.1 405.1h0M97.8 404.0h0M75.4 413.7h0M82.2 407.1h0M69.7 408.2h0M95.1 417.2h0M84.3 405.2h0M75.1 411.4h0M95.6 414.2h0M78.0 381.5h0M82.8 395.9h0M72.6 407.4h0M98.2 404.5h0M100.6 404.5h0M69.1 390.5h0M78.5 408.6h0M97.8 400.8h0M99.1 387.2h0M82.1 420.1h0M90.5 413.7h0M70.8 413.1h0M69.0 384.5h0M70.4 406.7h0M94.7 389.2h0M87.4 396.7h0M95.8 411.7h0M78.6 411.5h0M92.4 397.7h0M87.7 408.5h0M79.1 389.3h0M102.9 398.9h0M75.0 405.4h0M97.3 396.3h0M74.5 419.8h0M76.0 378.2h0M95.3 415.7h0M75.3 407.4h0M83.7 381.1h0M84.8 409.7h0M79.5 406.8h0M75.9 398.2h0M89.1 400.9h0M102.9 412.3h0M96.5 409.1h0M86.2 382.6h0M99.8 423.4h0M87.3 395.4h0M83.4 415.9h0M88.2 385.1h0M81.4 388.1h0M80.9 386.4h0M70.9 419.8h0M69.3 392.7h0M78.1 379.5h0M97.2 376.3h0M94.3 408.7h0M78.5 389.7h0M84.8 401.0h0M91.9 397.4h0M77.8 385.0h0M73.4 388.2h0M106.8 405.7h0M87.1 401.7h0M78.3 421.5h0M91.5 398.5h0M82.1 401.7h0M74.6 407.6h0M92.9 372.8h0M80.6 412.8h0M98.9 397.1h0M77.2 381.9h0M86.5 391.1h0M87.1 404.9h0M94.4 394.4h0M76.1 399.4h0M82.5 401.4h0M76.1 395.6h0M75.2 390.7h0M86.3 415.1h0M76.0 407.1h0M89.1 400.5h0M94.1 391.1h0M92.4 403.1h0M92.9 426.4h0M68.1 400.3h0M89.2 385.3h0M101.9 405.3h0M72.1 382.1h0M82.3 390.0h0M93.0 400.3h0M88.2 402.7h0M77.1 414.9h0M94.3 399.5h0M86.0 398.3h0M90.4 376.2h0M96.0 377.2h0M90.8 398.2h0M98.6 394.4h0M80.6 388.4h0M86.6 397.1h0M74.1 394.0h0M72.6 407.7h0M69.5 414.2h0M76.3 408.1h0M95.0 391.7h0M95.3 406.1h0M83.3 389.0h0M83.0 380.8h0M79.8 390.7h0M90.5 403.8h0M74.3 411.1h0M101.8 399.8h0M72.8 406.0h0M92.7 427.2h0M72.8 420.5h0M86.8 413.3h0M81.2 390.2h0M80.5 420.2h0M96.6 394.7h0M89.7 411.2h0M92.4 398.3h0M74.0 388.4h0M77.3 391.0h0M97.1 383.0h0M105.7 416.8h0M77.6 384.2h0M75.8 385.9h0M75.6 405.7h0M67.8 387.8h0M79.9 398.5h0M72.3 387.6h0M91.8 395.4h0M82.8 386.4h0M72.7 399.4h0M95.7 381.3h0M89.2 382.4h0M89.4 398.6h0M90.5 391.7h0M79.8 419.1h0M101.2 407.0h0M87.9 382.6h0M85.2 424.6h0M86.4 390.9h0M79.2 403.8h0M97.5 401.9h0M91.0 404.9h0M89.6 418.3h0M91.2 419.0h0M81.4 399.9h0M76.7 409.4h0M75.4 390.4h0M87.2 405.6h0M77.9 383.7h0M89.0 404.0h0M77.5 406.2h0M107.2 398.1h0M82.6 385.3h0M78.1 412.5h0M96.9 415.0h0M69.7 407.4h0M70.3 417.2h0M85.7 417.6h0M76.4 384.7h0M97.6 393.1h0M83.0 379.4h0M78.6 400.5h0M73.0 404.5h0M77.6 420.1h0M78.5 389.3h0M76.9 402.9h0M93.0 392.2h0M71.6 405.1h0M96.6 373.6h0M67.7 389.1h0M110.2 416.7h0M96.2 406.0h0M77.0 387.3h0M105.2 401.8h0M69.6 401.4h0M70.9 401.6h0M73.9 381.6h0M99.1 398.2h0M94.3 380.5h0M99.4 405.3h0M87.5 412.2h0M93.4 410.1h0M83.5 392.8h0M94.8 416.8h0M80.7 374.2h0M96.4 409.9h0M97.9 400.9h0M104.4 415.1h0M78.1 415.0h0M97.8 411.9h0M88.3 403.3h0M71.1 397.9h0M103.9 397.0h0M104.5 407.3h0M109.3 416.4h0M99.6 402.0h0M105.6 400.7h0M105.6 399.7h0M110.2 401.3h0M102.3 414.7h0M105.0 406.1h0M111.3 415.4h0M107.8 405.5h0M95.7 390.1h0M110.7 407.2h0M109.5 408.3h0M105.7 416.7h0M95.3 387.9h0M95.5 407.5h0M103.8 411.5h0M103.0 396.9h0M104.3 414.4h0M101.5 407.7h0M102.2 411.2h0M115.1 409.3h0M111.8 408.8h0M100.2 403.0h0M107.0 409.9h0M104.4 412.6h0M102.3 406.7h0M102.2 392.7h0M110.1 404.6h0M105.8 404.7h0M91.9 392.4h0M104.1 417.0h0M104.5 412.5h0M98.4 397.2h0M106.2 417.3h0M97.4 405.2h0M107.6 406.2h0M107.5 413.7h0M103.9 393.9h0M107.9 421.4h0M105.2 396.2h0M106.6 424.2h0M114.2 409.7h0M112.6 408.0h0M93.5 399.7h0M104.3 403.5h0M104.8 404.7h0M102.1 394.0h0M92.7 378.6h0M106.4 402.6h0M103.4 393.5h0M102.7 394.6h0M101.7 410.0h0M109.9 410.8h0M104.1 401.0h0M99.5 394.1h0M108.0 408.2h0M107.6 431.0h0M93.6 398.5h0M109.3 415.7h0M95.8 402.6h0M104.4 405.9h0M102.5 410.5h0M95.0 384.3h0M98.6 407.5h0M102.5 418.8h0M114.0 414.5h0M111.5 416.7h0M109.0 414.3h0M109.7 413.1h0M99.0 399.2h0M103.2 415.3h0M105.5 396.0h0M99.3 400.1h0M109.1 402.9h0M102.4 397.9h0M109.3 422.7h0M101.3 402.1h0M115.1 411.0h0M103.2 418.3h0M101.2 412.7h0M91.1 397.3h0M102.3 406.6h0M104.1 400.1h0M107.3 425.5h0M113.1 407.0h0M98.7 400.8h0M105.4 410.8h0M104.9 400.3h0M104.1 397.5h0M110.4 417.3h0M102.7 402.1h0M101.3 396.0h0M108.4 426.3h0M102.7 396.9h0M105.9 407.3h0M101.5 404.1h0M106.5 413.3h0M111.2 413.3h0M107.1 414.0h0M107.7 418.0h0M106.1 400.1h0M98.8 397.7h0M101.4 392.0h0M94.7 386.1h0M103.8 396.7h0M103.9 420.8h0M108.9 416.8h0M103.6 419.1h0M109.3 399.4h0M100.5 402.1h0M103.5 401.9h0M106.3 401.8h0M102.7 403.5h0M109.1 403.5h0M105.8 402.1h0M103.6 401.8h0M111.8 406.2h0M103.4 405.0h0M102.2 404.7h0M100.8 404.5h0M102.4 405.9h0M101.3 394.7h0M103.6 406.0h0M99.9 407.7h0M110.5 401.3h0M109.6 411.3h0M105.4 420.4h0M111.0 405.4h0M97.3 397.7h0M98.2 396.7h0M106.6 402.8h0M93.2 404.7h0M107.8 405.6h0M106.6 405.2h0M99.0 404.9h0M107.1 404.7h0M105.4 414.2h0M113.5 404.9h0M108.5 419.5h0M100.9 404.5h0M100.4 395.1h0M107.9 410.3h0M108.4 417.4h0M103.8 395.4h0M109.9 420.7h0M108.4 418.3h0M108.5 412.0h0M106.4 414.6h0M100.3 389.4h0M114.3 412.1h0M107.4 412.6h0M97.9 424.8h0M104.3 413.2h0M104.5 409.4h0M105.3 422.4h0M104.2 411.9h0M96.7 396.9h0M97.9 410.2h0M110.9 404.9h0M104.8 408.1h0M106.7 401.5h0M105.0 427.4h0M107.5 402.0h0M113.0 416.2h0M109.1 400.2h0M104.8 409.4h0M108.7 407.4h0M105.3 408.1h0M106.0 411.8h0M111.7 413.3h0M98.8 403.1h0M106.8 403.2h0M106.8 409.3h0M106.9 422.8h0M109.6 412.7h0M101.0 402.2h0M100.3 410.3h0M106.3 404.5h0M103.0 394.1h0M108.4 406.5h0M106.1 407.1h0M98.8 406.9h0M102.9 407.3h0M109.4 405.0h0M109.3 406.4h0M100.4 398.9h0M99.8 409.3h0M106.0 414.8h0M102.2 413.1h0M102.0 408.5h0M107.2 400.3h0M106.2 400.3h0M91.9 406.7h0M106.3 411.7h0M102.8 397.5h0M102.3 402.5h0M108.1 401.4h0M113.4 413.1h0M104.9 417.3h0M95.2 408.1h0M100.7 405.3h0M110.7 403.9h0M108.2 419.3h0M99.7 397.1h0M111.6 410.7h0M99.4 408.5h0M108.5 402.6h0M104.0 407.2h0M104.5 397.4h0M100.5 406.0h0M92.8 398.9h0M100.4 407.2h0M108.3 425.7h0M101.2 406.0h0M108.2 411.9h0M97.6 388.2h0M98.5 386.5h0M104.6 398.5h0M104.7 396.3h0M111.2 405.6h0M105.0 422.2h0M93.8 391.9h0M113.1 409.8h0M106.3 397.7h0M98.1 373.7h0M102.7 401.6h0M104.2 401.5h0M92.8 396.7h0M99.5 396.4h0M103.9 412.6h0M108.2 405.3h0M104.4 397.4h0M97.0 390.9h0M100.4 393.4h0M105.9 413.4h0M111.5 418.9h0M95.1 382.5h0M105.9 428.0h0M107.3 399.6h0M105.5 413.1h0M99.7 404.7h0M115.4 407.6h0M99.7 403.7h0M103.2 397.0h0M110.7 418.1h0M108.0 414.6h0M107.1 406.3h0M104.6 416.4h0M102.8 411.8h0M108.9 417.2h0M107.2 403.1h0M100.8 413.4h0M93.6 387.1h0M107.0 399.7h0M87.9 399.5h0M102.2 404.6h0M104.6 401.4h0M111.5 415.3h0M108.7 422.4h0M102.4 395.9h0M101.1 394.0h0M103.9 407.7h0M95.3 412.2h0M105.9 402.4h0M109.5 408.0h0M100.9 394.7h0M110.8 412.4h0M96.7 398.9h0M102.3 415.4h0M99.3 392.2h0M113.4 408.3h0M107.1 407.5h0M104.6 405.6h0M110.6 408.8h0M103.5 406.6h0M99.7 407.8h0M109.8 410.7h0M100.6 405.7h0M101.2 420.4h0M101.2 394.1h0M104.3 414.6h0M102.3 408.8h0M100.1 398.2h0M107.3 423.3h0M101.3 409.8h0M102.6 423.0h0M102.3 415.8h0M102.8 396.1h0M96.9 379.6h0M98.2 392.8h0M100.9 412.9h0M91.2 400.9h0M105.1 420.4h0M110.3 405.1h0M103.6 396.7h0M101.7 400.7h0M99.0 428.5h0M112.3 408.9h0M103.0 415.4h0M99.0 387.8h0M101.6 391.0h0M109.6 422.0h0M98.8 401.4h0M107.7 404.0h0M103.7 395.5h0M97.1 379.4h0M108.0 419.1h0M99.6 404.2h0M111.9 417.4h0M108.2 424.6h0M103.9 408.6h0M99.5 398.7h0M90.1 402.4h0M92.3 396.4h0M104.5 420.8h0M109.8 408.4h0M99.0 390.3h0M105.1 395.3h0M107.3 415.3h0M104.2 404.8h0M103.6 417.5h0M109.6 412.0h0M107.1 411.9h0M107.6 407.8h0M108.1 417.7h0M104.4 402.8h0M101.7 396.2h0M106.3 399.3h0M101.9 407.6h0M99.4 414.1h0M98.1 400.3h0M108.4 403.7h0M110.2 419.6h0M105.2 415.5h0M99.8 415.5h0M109.6 413.5h0M102.7 398.1h0M108.6 415.1h0M110.7 421.9h0M113.3 408.3h0M98.6 402.8h0M107.0 406.7h0M103.8 432.0h0M94.9 394.3h0M107.8 406.5h0M112.8 405.5h0M108.9 412.4h0M98.2 391.6h0M105.9 416.6h0M107.4 418.9h0M104.8 413.8h0M107.7 414.1h0M105.8 407.1h0M106.5 419.1h0M106.4 410.4h0M101.3 405.4h0M97.8 395.3h0M100.4 393.7h0M102.9 411.7h0M100.2 406.1h0M99.3 404.1h0M106.1 407.3h0M105.7 407.8h0M106.5 412.1h0M98.7 390.7h0M102.2 393.3h0M102.9 414.5h0M109.3 408.0h0M110.3 401.2h0M101.3 405.2h0M107.1 404.4h0M106.1 404.8h0M110.2 413.0h0M102.9 401.5h0M93.0 397.9h0M100.2 414.1h0M98.4 398.6h0M110.4 415.2h0M109.3 416.3h0M100.7 403.5h0M97.9 399.4h0M108.7 405.2h0M102.0 399.3h0M114.3 411.4h0M105.6 430.0h0M103.0 403.8h0M101.4 399.3h0M104.5 401.4h0M114.3 407.2h0M108.7 410.2h0M108.3 405.6h0M95.3 412.5h0M105.8 413.0h0M105.2 398.7h0M98.4 395.0h0M106.3 403.5h0M100.2 402.1h0M105.0 397.4h0M103.0 398.5h0M93.7 409.0h0M107.8 413.8h0M108.7 407.2h0M107.9 413.9h0M100.3 398.3h0M101.1 393.1h0M111.4 408.4h0M103.5 415.0h0M106.6 405.6h0M109.4 402.9h0M105.5 410.8h0M93.6 394.1h0M110.6 416.0h0M97.7 407.1h0M101.5 402.7h0M108.6 405.8h0M97.9 411.5h0M96.8 394.3h0M115.0 409.5h0M108.3 409.8h0M106.6 405.4h0M106.6 396.9h0M107.0 406.5h0M106.1 403.3h0M109.7 410.1h0M107.4 409.8h0M111.1 419.3h0M108.2 410.5h0M100.5 403.9h0M111.7 415.5h0M100.8 405.7h0M104.2 405.9h0M101.9 401.0h0M105.4 406.5h0M103.1 414.7h0M107.1 402.4h0M103.0 417.8h0M103.6 418.5h0M106.0 403.1h0M106.8 414.1h0M96.2 382.6h0M109.7 414.6h0M104.2 417.3h0M94.3 396.7h0M93.2 384.0h0M110.4 413.0h0M102.6 403.4h0M104.7 401.2h0M101.2 399.4h0M106.0 419.0h0M109.9 415.6h0M107.6 415.4h0M102.7 398.8h0M105.6 398.8h0M100.6 402.7h0M105.6 405.1h0M109.4 404.2h0M103.5 402.4h0M102.7 397.6h0M98.7 408.9h0M103.0 410.5h0M103.7 411.5h0M102.0 393.2h0M102.9 399.7h0M110.8 418.9h0M106.6 407.4h0M103.8 409.3h0M101.1 391.3h0M93.5 381.3h0M107.7 406.4h0M110.9 406.5h0M95.3 401.0h0M104.8 409.3h0M104.2 403.4h0M106.2 407.7h0M107.1 408.2h0M102.8 404.6h0M95.5 394.7h0M105.2 410.0h0M98.0 390.7h0M94.8 396.5h0M93.2 380.2h0M108.2 423.7h0M99.7 397.0h0M110.7 404.6h0M108.6 419.8h0M99.8 405.7h0M108.1 406.6h0M97.4 396.3h0M107.1 416.9h0M97.0 406.5h0M101.2 422.1h0M101.1 407.4h0M101.5 407.5h0M106.8 404.7h0M104.5 408.1h0M102.8 399.9h0M110.5 413.5h0M96.4 395.7h0M102.6 409.1h0M103.2 423.4h0M105.9 406.7h0M108.1 409.0h0M113.2 409.9h0M109.4 416.2h0M103.7 403.3h0M108.1 400.3h0M106.8 406.7h0M99.9 395.9h0M106.5 408.2h0M99.4 398.8h0M108.0 428.7h0M110.9 419.6h0M106.3 421.5h0M111.4 407.0h0M111.7 414.6h0M108.9 418.8h0M105.8 411.4h0M105.4 415.4h0M98.8 389.3h0M103.5 406.9h0M108.6 408.2h0M100.6 397.7h0M104.7 410.5h0M110.9 401.2h0M113.3 416.0h0M98.1 397.8h0M102.1 415.1h0M104.1 413.8h0M104.0 417.8h0M104.9 413.8h0M96.7 387.5h0M103.1 416.5h0M107.7 414.5h0M107.6 399.9h0M104.7 409.2h0M112.5 416.1h0M106.1 401.9h0M109.8 423.3h0M104.8 415.6h0M108.7 413.4h0M103.1 409.9h0M104.5 402.5h0M96.3 391.6h0M105.6 411.7h0M107.4 407.7h0M110.6 405.0h0M100.7 400.4h0M110.6 406.4h0M103.9 429.9h0M103.7 425.6h0M112.1 411.3h0M107.7 407.4h0M104.0 409.0h0M111.1 402.9h0M98.4 410.2h0M102.7 399.9h0M100.2 404.2h0M97.8 405.3h0M99.9 392.7h0M108.3 407.9h0M108.4 406.3h0M108.5 401.8h0M101.8 410.8h0M101.1 402.5h0M103.7 395.4h0M111.1 403.8h0M109.5 407.9h0M100.6 396.1h0M102.1 404.9h0M102.5 407.9h0M103.2 400.8h0M108.7 410.1h0M98.8 403.7h0M105.3 395.5h0M107.9 403.4h0M107.5 401.5h0M108.5 409.0h0M110.1 411.6h0M109.7 420.6h0M99.2 387.2h0M101.9 410.9h0M101.6 408.3h0M99.9 411.4h0M102.0 396.1h0M102.4 403.2h0M110.4 407.0h0M105.2 407.4h0M110.9 409.5h0M109.7 405.9h0M104.5 412.6h0M112.1 415.0h0M105.4 395.6h0M107.5 409.4h0M113.5 404.9h0M110.6 422.1h0M104.7 400.6h0M109.1 413.4h0M106.6 416.7h0M104.7 415.5h0M104.3 396.8h0M92.0 391.3h0M107.3 401.9h0M108.3 404.0h0M104.8 399.8h0M106.6 416.5h0M109.6 407.0h0M106.9 416.3h0M105.1 401.2h0M110.0 422.5h0M105.3 412.1h0M107.1 406.1h0M102.3 413.4h0M102.7 414.5h0M105.6 407.1h0M101.3 396.9h0M101.1 406.8h0M106.1 408.6h0M106.5 414.1h0M106.6 406.6h0M104.5 405.6h0M106.7 397.3h0M101.3 411.0h0M107.6 405.3h0M101.3 406.6h0M102.1 392.4h0M100.3 395.1h0M98.8 403.6h0M96.3 404.1h0M105.6 402.1h0M93.8 393.5h0M111.2 407.6h0M102.3 425.6h0M111.4 416.3h0M98.3 408.2h0M107.4 426.9h0M108.7 404.6h0M103.8 396.4h0M113.7 411.8h0M104.2 401.4h0M111.1 406.4h0M105.3 409.7h0M111.0 412.5h0M108.4 421.3h0M110.1 410.5h0M102.7 412.7h0M101.2 412.3h0M107.9 413.0h0M100.1 410.6h0M100.5 399.8h0M109.1 403.6h0M107.5 405.2h0M105.4 402.3h0M107.7 413.0h0M106.5 410.1h0M101.3 393.5h0M101.6 405.5h0M98.1 404.3h0M106.0 419.6h0M108.1 412.4h0M103.3 403.8h0M105.4 402.2h0M113.8 409.9h0M96.3 409.3h0M110.1 403.2h0M98.7 391.7h0M101.4 395.8h0M103.5 402.3h0M109.6 416.1h0M99.8 393.4h0M105.8 405.6h0M103.9 410.6h0M107.8 412.5h0M101.5 415.0h0M96.9 395.5h0M100.5 399.3h0M105.3 408.9h0M103.8 402.2h0M95.7 384.7h0M99.1 393.1h0M104.7 405.8h0M97.9 396.2h0M105.3 406.0h0M111.1 402.2h0M110.2 403.1h0M107.3 397.7h0M109.5 404.8h0M103.9 411.1h0M103.5 400.8h0M106.4 415.7h0M112.3 414.3h0M100.5 416.0h0M105.1 431.9h0M110.4 417.1h0M105.9 406.9h0M107.8 427.6h0M107.1 417.5h0M101.5 404.7h0M103.5 404.7h0M97.8 406.4h0M96.7 381.6h0M92.0 386.3h0M101.3 399.9h0M92.0 379.2h0M105.3 408.8h0M90.2 390.5h0M113.4 416.3h0M94.0 399.6h0M102.8 396.1h0M107.1 403.2h0M100.2 406.1h0M100.0 412.8h0M99.2 413.6h0M103.9 418.1h0M106.2 404.3h0M100.9 400.3h0M100.2 396.3h0M93.1 386.9h0M110.6 403.7h0M97.3 387.1h0M97.3 400.0h0M96.9 396.2h0M85.4 398.6h0M95.6 394.6h0M91.9 383.5h0M98.8 415.7h0M91.9 395.2h0M93.7 398.8h0M102.2 420.6h0M97.4 414.8h0M97.5 404.5h0M89.3 369.7h0M96.0 397.4h0M99.9 401.4h0M89.8 391.2h0M101.6 395.2h0M100.8 405.9h0M99.5 400.6h0M93.0 400.9h0M95.4 420.1h0M99.9 417.7h0M95.5 398.6h0M105.9 399.3h0M98.6 396.1h0M94.9 392.0h0M88.9 382.0h0M95.3 391.4h0M96.3 398.5h0M95.6 417.8h0M103.2 401.1h0M110.1 401.2h0M97.9 402.6h0M97.7 405.0h0M93.5 406.6h0M95.7 395.3h0M96.2 398.6h0M91.5 408.2h0M103.3 418.1h0M101.6 409.0h0M98.0 398.0h0M90.9 396.4h0M87.9 375.3h0M94.8 392.3h0M103.5 409.5h0M100.9 412.0h0M107.5 405.2h0M97.3 400.9h0M112.0 412.7h0M92.6 421.3h0M106.7 412.1h0M100.7 395.3h0M100.9 398.1h0M109.1 405.6h0M91.4 393.0h0M106.7 406.8h0M101.3 402.5h0M89.5 392.5h0M95.6 379.6h0M103.1 404.6h0M104.8 407.1h0M89.0 383.0h0M87.4 404.0h0M98.0 380.7h0M97.3 391.7h0M98.1 402.0h0M95.1 387.1h0M102.2 396.8h0M91.5 410.4h0M101.6 413.2h0M107.2 402.6h0M102.9 393.4h0M105.5 408.2h0M104.8 401.8h0M104.5 402.5h0M96.9 382.4h0M98.8 388.7h0M97.0 400.6h0M95.8 385.4h0M96.7 402.7h0M96.7 400.3h0M100.6 401.2h0M96.5 402.1h0M97.6 385.3h0M99.6 387.8h0M102.6 405.1h0M98.3 386.2h0M90.2 388.6h0M102.1 399.9h0M91.7 409.9h0M99.1 402.0h0M92.1 396.5h0M100.4 394.9h0M99.0 400.5h0M108.4 399.3h0M98.9 393.9h0M105.3 398.1h0M102.7 413.0h0M101.1 413.0h0M101.3 416.3h0M104.1 419.7h0M87.4 380.8h0M97.5 422.1h0M93.5 396.0h0M93.3 392.6h0M99.9 400.4h0M93.7 394.8h0M108.6 407.1h0M107.8 410.6h0M100.5 408.7h0M97.8 371.7h0M84.1 387.2h0M90.4 390.9h0M98.7 408.5h0M93.7 396.6h0M86.8 384.8h0M95.3 391.8h0M103.6 399.0h0M91.5 409.7h0M91.1 397.1h0M90.6 392.4h0M91.7 387.9h0M93.9 397.5h0M104.5 405.4h0M100.4 412.3h0M92.2 399.3h0M107.2 413.9h0M102.5 401.6h0M99.7 405.8h0M100.1 402.5h0M94.8 398.9h0M90.5 389.3h0M91.4 391.8h0M93.2 394.3h0M91.6 404.7h0M105.0 414.6h0M81.8 388.3h0M90.7 391.7h0M96.1 390.3h0M96.8 407.9h0M92.3 382.8h0M110.5 420.7h0M103.7 395.6h0M105.2 396.2h0M97.4 402.2h0M105.5 398.2h0M92.5 385.3h0M96.0 387.7h0M93.5 385.0h0M90.9 390.5h0M91.4 388.4h0M107.3 405.1h0M93.4 388.9h0M103.3 394.8h0M104.6 408.5h0M97.7 404.2h0M99.4 393.9h0M95.6 393.0h0M79.7 400.5h0M110.2 406.9h0M101.0 391.3h0M91.8 391.3h0M103.2 406.3h0M90.8 409.3h0M105.6 405.7h0M92.5 403.1h0M95.9 384.8h0M99.6 423.5h0M93.4 395.1h0M86.4 395.8h0M106.6 400.9h0M94.2 400.8h0M102.1 404.5h0M94.5 404.5h0M93.4 395.0h0M91.5 392.2h0M95.3 380.2h0M108.0 426.6h0M92.9 397.5h0M103.0 415.1h0M92.9 407.1h0M104.1 419.3h0M103.6 419.8h0M94.6 404.2h0M90.8 394.7h0M90.7 396.9h0M100.0 398.6h0M97.6 390.8h0M101.7 399.0h0M88.5 402.5h0M101.5 398.6h0M100.0 398.6h0M99.2 410.5h0M99.0 386.7h0M101.6 408.6h0M95.9 400.2h0M101.8 391.8h0M103.5 409.6h0M97.2 390.7h0M95.5 397.1h0M100.4 405.4h0M90.2 400.7h0M104.1 414.0h0M88.1 392.3h0M102.7 397.1h0M103.8 396.8h0M94.9 399.4h0M106.9 404.4h0M99.8 400.1h0M105.7 403.6h0M101.9 406.0h0M95.3 387.5h0M106.7 409.8h0M105.2 396.1h0M93.5 405.0h0M89.5 380.9h0M96.7 391.0h0M97.2 394.0h0M105.2 406.4h0M104.6 410.1h0M103.0 423.7h0M91.9 409.2h0M102.3 393.4h0M95.2 386.7h0M97.0 402.6h0M85.8 381.3h0M93.9 391.1h0M92.9 398.8h0M94.8 412.1h0M104.2 397.5h0M95.2 399.3h0M95.3 391.2h0M96.4 404.2h0M91.8 393.9h0M92.9 389.6h0M95.6 385.7h0M105.2 404.7h0M100.8 407.5h0M102.6 393.3h0M96.1 392.9h0M95.3 395.6h0M100.3 404.0h0M102.3 395.2h0M106.9 397.6h0M96.5 396.4h0M97.2 394.9h0M104.6 416.3h0M96.3 391.2h0M88.7 400.7h0M90.8 392.8h0M100.0 402.1h0M104.2 409.7h0M91.5 393.8h0M90.7 390.2h0M92.4 391.4h0M98.4 387.2h0M97.5 381.9h0M92.0 387.4h0M99.7 403.6h0M94.1 392.9h0M90.6 391.9h0M91.8 393.4h0M101.2 407.5h0M88.4 379.7h0M98.8 407.5h0M94.1 403.9h0M88.4 387.9h0M93.5 379.9h0M87.7 372.3h0M94.0 404.0h0M93.3 392.4h0M97.8 388.6h0M91.0 396.3h0M98.0 400.1h0M100.7 410.7h0M100.3 396.3h0M96.8 390.5h0M103.2 401.2h0M97.1 380.1h0M104.2 409.0h0M96.3 425.5h0M71.8 416.1h0M93.2 424.7h0M100.3 426.5h0M77.3 414.5h0M68.6 419.2h0M88.5 416.2h0M93.8 421.0h0M84.8 424.5h0M71.7 410.4h0M88.3 419.9h0M99.6 423.0h0M77.9 412.4h0M82.6 418.3h0M78.6 418.8h0M80.7 422.6h0M92.8 424.7h0M90.7 422.3h0M74.3 415.7h0M71.3 420.4h0M79.5 414.8h0M87.4 418.6h0M89.2 419.1h0M81.6 421.3h0M83.8 422.7h0M93.4 425.8h0M102.2 429.0h0M78.9 422.8h0M101.1 420.9h0M102.5 418.4h0M98.5 422.5h0M86.5 419.6h0M83.0 421.8h0M88.5 420.7h0M89.7 419.9h0M79.0 420.1h0M97.8 419.5h0M96.3 427.9h0M81.8 419.9h0M84.5 422.1h0M75.9 415.9h0M93.0 421.9h0M74.7 416.9h0M87.7 419.3h0M94.6 423.7h0M86.6 422.7h0M87.6 422.6h0M100.3 425.5h0M90.1 419.3h0M100.9 428.3h0M93.5 423.6h0M81.3 419.0h0M92.9 418.0h0M80.3 418.0h0M106.1 427.7h0M74.4 421.2h0M96.4 426.0h0M84.1 419.1h0M107.8 431.0h0M75.0 415.2h0M81.3 416.3h0M94.2 427.6h0M75.3 418.9h0M96.6 424.4h0M100.2 428.8h0M81.4 419.3h0M92.7 417.9h0M85.8 423.8h0M92.5 422.3h0M98.7 420.9h0M100.6 423.1h0M87.8 419.2h0M76.7 419.4h0M76.8 420.4h0M80.3 423.1h0M90.9 426.0h0M78.3 419.9h0M95.6 424.2h0M88.6 418.9h0M78.5 414.0h0M95.2 413.3h0M81.3 421.3h0M89.5 420.5h0M81.7 419.5h0M75.5 414.9h0M97.4 420.4h0M88.2 419.5h0M79.6 411.0h0M81.8 416.1h0M79.6 418.0h0M91.3 424.1h0M93.6 418.3h0M101.5 426.3h0M97.2 419.0h0M92.7 426.4h0M83.6 420.1h0M87.9 423.3h0M90.3 422.5h0M81.9 414.6h0M79.4 420.2h0M102.1 422.9h0M73.6 417.7h0M89.6 418.2h0M102.3 427.9h0M90.5 416.6h0M99.6 428.6h0M80.6 414.9h0M96.8 425.2h0M89.2 419.5h0M98.4 425.0h0M98.4 419.9h0M89.3 422.8h0M100.4 418.5h0M88.0 418.4h0M89.4 420.8h0M92.3 425.1h0M91.7 421.8h0M95.9 428.5h0M90.6 418.7h0M104.7 429.4h0M85.8 419.6h0M89.9 416.0h0M98.6 418.6h0M79.0 419.1h0M79.8 413.3h0M71.4 411.1h0M96.2 421.0h0M101.5 426.0h0M73.6 409.9h0M75.7 414.9h0M90.2 419.3h0M85.1 416.5h0M90.0 424.4h0M77.9 422.4h0M81.7 417.9h0M104.2 428.1h0M91.7 414.9h0M90.4 420.3h0M86.0 424.4h0M89.5 422.0h0M86.2 420.7h0M101.6 426.0h0M80.7 415.8h0M99.6 426.5h0M81.4 418.4h0M89.5 423.5h0M80.1 418.8h0M77.9 414.9h0M89.6 414.7h0M69.3 413.5h0M106.0 425.9h0M83.9 421.9h0M86.1 418.9h0M90.7 423.2h0M84.6 416.8h0M105.2 423.0h0M81.0 418.0h0M87.6 421.9h0M102.5 430.3h0M88.7 421.6h0M98.5 423.7h0M92.0 418.0h0M93.1 422.2h0M75.5 417.9h0M92.4 423.0h0M102.5 428.8h0M85.3 419.7h0M92.4 417.8h0M93.4 417.3h0M84.2 418.8h0M91.3 423.1h0M81.8 420.2h0M92.2 421.8h0M90.0 419.6h0M104.8 431.2h0M81.6 417.0h0M85.7 421.8h0M87.1 417.2h0M76.3 413.2h0M97.5 425.6h0M85.2 418.3h0M87.6 420.9h0M85.7 420.0h0M95.5 426.6h0M83.0 418.7h0M82.6 417.6h0M88.6 419.9h0M95.8 419.8h0M92.1 424.9h0M86.6 419.3h0M95.3 421.7h0M85.9 421.0h0M90.9 423.9h0M76.8 415.8h0M92.8 424.4h0M84.2 418.0h0M103.2 426.6h0M102.2 420.3h0M93.8 420.6h0M83.2 424.1h0M80.3 415.0h0M83.0 418.4h0M89.1 422.8h0M100.4 426.5h0M104.6 430.0h0M94.5 422.4h0M102.4 424.2h0M98.4 424.2h0M83.3 421.9h0M95.3 424.3h0M99.3 424.8h0M82.3 419.4h0M107.7 423.4h0M72.2 416.0h0M78.3 422.9h0M91.7 418.6h0M89.7 417.9h0M92.8 425.8h0M99.4 428.3h0M87.8 425.2h0M95.1 418.4h0M102.9 422.2h0M85.4 414.3h0M83.7 411.7h0M78.6 414.9h0M78.5 416.5h0M97.0 422.5h0M92.1 426.3h0M88.9 421.0h0M76.9 420.9h0M84.6 420.2h0M82.5 409.8h0M99.3 427.2h0M80.3 415.1h0M78.1 417.7h0M108.4 426.7h0M72.6 418.9h0M82.4 413.3h0M92.8 422.4h0M90.1 424.2h0M100.3 417.0h0M89.6 425.7h0M101.9 421.3h0M73.3 412.2h0M93.1 421.7h0M97.0 423.0h0M78.5 413.8h0M86.1 423.4h0M104.1 422.1h0M93.4 422.3h0M79.6 413.9h0M104.3 424.3h0M87.9 422.6h0M91.9 424.7h0M82.1 417.6h0M91.2 423.2h0M84.2 413.4h0M96.4 426.6h0M98.2 423.6h0M72.8 414.7h0M107.8 428.2h0M93.3 416.5h0M82.1 422.7h0M92.5 421.8h0M100.2 427.3h0M94.5 422.3h0M92.1 426.0h0M93.5 417.9h0M87.9 419.8h0M91.8 426.8h0M89.0 419.6h0M95.6 425.0h0M81.4 420.6h0M90.6 423.0h0M77.0 410.1h0M76.9 411.2h0M97.3 427.5h0M75.6 422.5h0M79.5 415.2h0M94.9 426.1h0M98.9 426.7h0M88.4 421.4h0M93.3 421.3h0M86.6 425.0h0M103.8 428.0h0M88.7 419.3h0M86.0 418.9h0M85.2 419.7h0M86.0 424.3h0M76.4 415.8h0M97.3 422.3h0M84.8 422.0h0M89.5 417.8h0M90.0 423.9h0M72.5 419.5h0M72.5 418.7h0M76.7 418.3h0M87.8 424.7h0M89.0 419.6h0M82.1 419.9h0M105.4 420.2h0M107.9 421.7h0M109.1 417.5h0M106.0 419.3h0M109.3 411.6h0M107.9 415.4h0M107.6 419.9h0M98.8 416.4h0M110.2 410.0h0M107.2 416.9h0M104.1 420.3h0M109.9 416.9h0M107.1 420.1h0M109.7 423.6h0M109.5 419.5h0M106.8 419.7h0M112.5 416.6h0M105.9 413.1h0M104.4 414.6h0M111.0 418.3h0M98.4 417.4h0M106.8 428.2h0M105.4 416.1h0M108.9 426.4h0M108.1 410.6h0M105.8 416.0h0M109.3 415.5h0M106.9 411.9h0M101.4 417.1h0M112.8 413.1h0M100.2 421.5h0M107.9 420.0h0M105.7 417.9h0M106.0 416.9h0M113.4 415.4h0M104.9 417.0h0M105.7 423.5h0M105.8 418.5h0M101.6 419.1h0M109.0 419.5h0M100.1 414.5h0M96.1 423.5h0M106.0 423.3h0M103.9 416.1h0M109.5 409.3h0M109.8 415.8h0M107.8 410.7h0M102.7 415.2h0M103.5 423.5h0M108.2 407.5h0M110.9 418.9h0M105.5 414.1h0M107.5 410.7h0M104.2 420.5h0M106.9 415.2h0M105.2 410.7h0M96.8 419.0h0M100.7 410.7h0M107.6 420.6h0M105.0 421.2h0M69.7 429.1h0M69.5 433.4h0M62.1 432.4h0M58.0 438.1h0M69.9 441.8h0M60.0 437.6h0M67.1 438.0h0M59.1 430.5h0M63.1 436.1h0M57.0 434.9h0M54.0 441.0h0M65.4 436.1h0M63.4 430.2h0M60.0 439.7h0M60.1 443.4h0M67.0 438.6h0M61.4 429.9h0M61.8 429.7h0M60.8 433.0h0M59.9 441.0h0M58.5 430.8h0M67.7 436.3h0M64.7 431.5h0M63.9 442.0h0M62.5 437.2h0M67.9 438.1h0M68.0 428.5h0M64.4 431.2h0M68.3 432.0h0M59.5 431.1h0M65.7 437.3h0M63.1 442.3h0M62.4 434.6h0M62.9 437.1h0M54.4 436.7h0M64.0 439.3h0M63.4 430.4h0M61.7 433.6h0M59.7 437.8h0M68.3 434.7h0M60.6 428.9h0M59.1 431.0h0M61.7 439.1h0M63.3 442.9h0M64.2 436.1h0M62.1 431.1h0M61.5 434.7h0M61.2 434.5h0M64.0 436.5h0M59.4 439.8h0M62.7 436.8h0M70.2 443.8h0M64.3 437.5h0M62.9 434.1h0M66.2 441.0h0M64.5 430.8h0M60.9 429.3h0M61.4 434.2h0M53.7 438.3h0M61.0 428.7h0M69.2 431.1h0M63.4 443.0h0M62.7 434.3h0M66.7 432.5h0M62.7 434.0h0M60.7 438.9h0M63.6 442.4h0M64.2 433.3h0M61.3 440.0h0M55.1 433.0h0M64.6 428.8h0M63.6 432.0h0M69.2 436.3h0M63.5 431.5h0M66.8 427.4h0M63.6 437.4h0M67.6 444.6h0M64.1 444.7h0M64.4 433.8h0M66.5 431.8h0M59.5 436.8h0M64.5 430.8h0M63.3 434.0h0M63.0 434.0h0M59.7 441.2h0M60.9 435.7h0M65.1 429.4h0M62.7 433.3h0M64.0 438.0h0M62.7 433.6h0M66.6 435.5h0M55.7 441.5h0M64.4 431.6h0M62.1 429.7h0M66.9 437.3h0M57.9 437.5h0M55.8 431.9h0M57.9 438.5h0M65.5 427.5h0M63.2 437.5h0M55.3 441.9h0M69.1 432.9h0M57.3 441.2h0M51.2 434.6h0M55.9 434.6h0M64.8 441.0h0M56.2 438.3h0M62.8 431.1h0M59.9 437.7h0M67.4 433.2h0M51.3 439.0h0M60.0 434.7h0M61.0 436.3h0M58.3 438.2h0M50.0 436.6h0M59.7 434.1h0M65.2 442.0h0M57.7 434.2h0M57.7 434.9h0M67.3 436.6h0M62.3 441.8h0M54.9 436.8h0M69.5 432.8h0M58.4 430.4h0M67.8 440.4h0M63.7 439.7h0M59.3 432.6h0M66.0 429.6h0M63.2 434.5h0M58.4 435.8h0M68.0 420.7h0M68.5 425.7h0M69.8 417.6h0M69.5 435.2h0M69.9 425.9h0M71.5 416.6h0M68.5 420.1h0M69.6 426.9h0M67.3 427.3h0M70.4 418.0h0M68.6 421.1h0M72.1 418.7h0M69.2 419.7h0M69.8 418.7h0M69.2 418.4h0M71.1 420.3h0M68.1 429.1h0M69.5 422.0h0M68.7 423.7h0M69.3 421.5h0M69.5 427.6h0M69.5 430.3h0M71.2 418.5h0M68.4 417.2h0M68.7 427.3h0M69.3 421.2h0M69.9 412.6h0M70.2 422.7h0M70.7 422.1h0M69.3 426.5h0M68.4 420.0h0M68.2 422.6h0M68.0 418.1h0M69.4 416.2h0M70.6 418.9h0M69.4 422.1h0M69.4 420.6h0M71.0 422.9h0M68.2 424.3h0M70.7 423.4h0M78.3 461.3h0M74.2 458.8h0M69.6 457.9h0M79.0 464.7h0M87.2 459.7h0M86.5 458.0h0M70.4 464.1h0M65.7 458.8h0M83.6 456.7h0M85.3 456.0h0M83.9 456.9h0M72.7 459.6h0M73.9 458.3h0M70.5 456.9h0M82.0 460.2h0M70.1 454.1h0M78.0 452.3h0M83.0 458.3h0M72.0 458.1h0M81.9 463.2h0M75.5 460.5h0M75.5 455.0h0M75.0 457.1h0M67.2 454.7h0M84.5 458.8h0M75.0 453.2h0M86.3 454.8h0M80.3 455.3h0M70.0 459.8h0M82.8 452.7h0M86.1 451.5h0M68.8 459.2h0M75.0 456.1h0M82.5 454.6h0M78.8 455.3h0M72.4 456.3h0M71.4 456.1h0M71.2 455.1h0M79.0 451.0h0M77.6 458.6h0M78.9 459.4h0M70.9 458.2h0M78.0 459.2h0M77.6 456.2h0M77.1 455.5h0M70.5 453.6h0M62.2 463.6h0M77.9 456.9h0M82.6 457.9h0M77.5 450.4h0M69.4 462.2h0M81.1 458.5h0M70.5 454.3h0M80.0 453.3h0M86.7 453.3h0M75.0 451.9h0M80.7 460.7h0M79.6 456.0h0M75.5 458.9h0M78.1 462.4h0M76.1 454.7h0M74.3 449.2h0M79.7 456.5h0M66.6 451.8h0M70.3 454.9h0M70.7 458.8h0M86.7 453.7h0M78.3 452.2h0M87.6 452.1h0M72.4 456.1h0M72.2 465.7h0M76.7 455.2h0M70.9 455.8h0M73.7 454.5h0M85.3 453.9h0M81.1 453.8h0M85.3 453.3h0M71.1 455.2h0M87.1 454.6h0M71.8 455.5h0M73.0 457.0h0M73.2 457.2h0M84.5 457.8h0M88.9 457.2h0M76.1 458.9h0M72.8 455.3h0M77.4 453.2h0M80.3 455.8h0M76.3 453.7h0M74.2 453.6h0M72.7 456.1h0M68.4 455.0h0M81.6 454.0h0M70.0 454.3h0M84.2 453.3h0M72.3 458.2h0M87.7 455.3h0M66.2 455.1h0M71.6 453.6h0M75.4 453.9h0M77.8 456.6h0M76.0 449.7h0M78.6 454.5h0M71.4 463.6h0M79.6 454.3h0M81.4 461.9h0M77.4 455.5h0M73.9 455.8h0M84.1 452.8h0M85.6 456.5h0M87.1 452.5h0M77.5 461.4h0M79.2 451.7h0M82.5 458.0h0M78.0 454.4h0M66.6 462.1h0M75.0 457.4h0M74.5 453.6h0M80.1 452.9h0M84.8 450.4h0M82.4 460.3h0M75.0 456.9h0M84.0 454.5h0M76.5 455.4h0M76.9 454.5h0M74.2 452.8h0M73.5 456.7h0M69.0 452.6h0M78.0 452.6h0M72.6 455.3h0M74.2 453.1h0M79.7 453.3h0M76.3 457.3h0M83.3 456.9h0M85.9 456.6h0M67.7 461.3h0M75.1 458.3h0M73.3 454.1h0M82.2 456.4h0M73.5 451.1h0M83.9 456.1h0M79.2 453.0h0M72.7 456.0h0M64.9 460.4h0M78.4 460.0h0M85.1 454.1h0M81.9 452.2h0M71.7 460.9h0M74.4 453.4h0M81.6 456.2h0M85.2 451.6h0M76.4 452.3h0M78.4 455.2h0M71.5 449.9h0M68.6 459.5h0M75.6 452.3h0M79.5 452.2h0M84.8 459.2h0M78.5 454.1h0M65.2 457.9h0M74.4 459.0h0M75.5 451.8h0M77.5 458.3h0M65.2 459.9h0M89.9 456.1h0M74.8 451.1h0M82.1 455.2h0M87.1 456.8h0M65.3 460.9h0M74.8 454.4h0M70.4 450.4h0M66.7 446.4h0M68.0 447.3h0M66.4 455.5h0M68.3 451.3h0M70.4 458.9h0M69.8 444.4h0M67.8 452.4h0M68.2 445.9h0M69.6 447.1h0M68.5 443.5h0M71.1 449.9h0M68.5 458.7h0M69.7 454.9h0M68.1 448.8h0M68.3 452.4h0M69.1 439.6h0M69.6 447.0h0M69.0 452.9h0M68.1 451.3h0M68.6 447.6h0M67.6 447.6h0M68.0 452.0h0M64.5 451.0h0M68.4 442.9h0M69.9 447.9h0M69.5 454.8h0M68.9 440.2h0M65.7 447.8h0M66.4 458.8h0M68.4 439.2h0M64.7 445.4h0M64.3 450.5h0M64.4 452.5h0M67.7 453.7h0M66.5 445.8h0M70.5 440.1h0M69.7 455.3h0M66.8 447.4h0M71.5 455.5h0" stroke="#3d86c6" stroke-width="0.9" stroke-linecap="round" fill="none"/>
<path d="M94.3 401.2h0M81.2 394.1h0M76.7 403.3h0M86.3 404.5h0M74.8 402.0h0M85.2 400.7h0M92.9 397.4h0M78.8 407.6h0M73.9 402.8h0M81.2 413.3h0M94.3 395.9h0M97.1 398.5h0M76.2 390.5h0M84.6 387.5h0M87.2 405.0h0M93.3 386.2h0M93.1 407.3h0M89.2 404.1h0M82.0 405.4h0M77.8 410.4h0M88.6 376.5h0M80.6 395.8h0M85.3 399.3h0M83.8 402.6h0M79.4 401.6h0M90.2 391.7h0M70.1 393.5h0M81.5 408.7h0M89.2 403.4h0M93.4 395.6h0M73.8 408.1h0M75.0 393.0h0M81.3 382.5h0M96.9 398.7h0M85.3 379.3h0M81.7 403.6h0M91.0 390.6h0M93.1 404.4h0M83.8 404.4h0M88.2 396.0h0M88.6 391.7h0M89.0 389.1h0M76.0 387.0h0M85.0 390.3h0M83.4 391.1h0M75.5 413.5h0M83.1 406.9h0M85.8 408.4h0M82.0 406.4h0M90.9 399.2h0M81.2 396.2h0M80.5 401.3h0M81.9 391.9h0M82.3 402.5h0M88.9 383.2h0M77.6 404.2h0M75.9 408.0h0M80.7 393.3h0M83.1 410.5h0M74.5 409.8h0M82.5 401.5h0M91.3 410.8h0M81.8 396.0h0M72.0 404.6h0M77.1 415.6h0M91.0 401.4h0M80.3 392.4h0M91.9 400.2h0M85.1 412.3h0M91.8 404.4h0M93.4 387.9h0M85.1 398.7h0M97.0 384.2h0M70.7 417.5h0M86.2 393.5h0M84.3 396.4h0M78.1 401.8h0M79.7 408.7h0M96.5 412.1h0M78.8 412.0h0M77.5 389.4h0M89.3 385.3h0M78.1 396.9h0M91.9 385.9h0M70.4 395.2h0M82.6 406.2h0M81.9 390.0h0M104.0 406.4h0M82.0 382.0h0M73.7 412.3h0M91.6 391.4h0M76.5 387.2h0M81.6 399.9h0M81.3 409.1h0M81.0 378.9h0M79.7 402.5h0M78.1 398.0h0M77.3 407.7h0M83.6 392.4h0M81.9 408.1h0M79.1 394.2h0M83.2 384.6h0M101.9 399.6h0M82.3 393.2h0M78.1 393.4h0M80.7 400.5h0M85.5 382.5h0M78.9 403.4h0M91.8 400.6h0M84.5 389.6h0M95.6 396.6h0M79.8 395.2h0M81.1 397.2h0M78.2 414.3h0M84.5 402.8h0M82.5 407.1h0M81.2 395.5h0M81.2 394.5h0M76.8 403.3h0M90.3 400.4h0M77.2 404.1h0M79.1 401.7h0M72.4 408.2h0M77.4 401.0h0M92.6 406.6h0M77.9 403.4h0M81.0 394.7h0M95.4 386.3h0M88.1 400.6h0M91.3 389.8h0M81.2 403.3h0M88.6 367.8h0M83.4 395.1h0M87.2 400.1h0M84.0 372.4h0M86.0 409.9h0M83.2 394.6h0M90.0 394.7h0M75.5 389.1h0M89.5 406.0h0M83.6 414.7h0M90.9 384.4h0M81.3 371.3h0M94.4 386.5h0M81.7 397.9h0M85.4 398.2h0M90.1 404.7h0M90.5 400.1h0M82.4 399.0h0M82.7 406.2h0M76.9 401.6h0M87.8 398.3h0M84.2 391.1h0M73.9 395.9h0M70.9 409.8h0M77.2 414.7h0M90.2 384.4h0M84.9 400.7h0M76.9 411.2h0M92.7 378.5h0M83.6 403.3h0M89.9 407.2h0M70.9 405.1h0M82.3 410.9h0M77.1 406.5h0M74.9 377.9h0M79.8 414.4h0M86.1 400.8h0M83.8 392.9h0M78.0 412.4h0M81.9 370.9h0M76.3 394.2h0M89.3 393.8h0M90.7 395.1h0M67.4 401.6h0M86.0 391.1h0M83.3 368.2h0M72.5 400.7h0M82.9 381.7h0M75.0 400.4h0M81.5 410.9h0M70.2 408.7h0M91.9 406.7h0M82.5 416.5h0M89.6 390.5h0M84.9 402.6h0M84.4 395.4h0M91.3 401.9h0M73.1 396.4h0M97.2 385.4h0M85.8 421.2h0M74.2 396.2h0M83.1 404.1h0M81.7 405.1h0M78.9 392.6h0M80.4 401.3h0M92.3 412.3h0M74.2 397.6h0M86.7 423.2h0M94.2 404.1h0M87.3 401.7h0M75.0 394.3h0M86.1 384.1h0M83.8 393.3h0M78.0 403.6h0M75.4 394.8h0M84.2 401.5h0M84.5 399.2h0M81.7 372.7h0M80.9 391.8h0M80.2 387.1h0M72.4 412.4h0M78.6 404.8h0M86.8 401.3h0M92.2 395.3h0M87.1 385.8h0M78.1 405.5h0M77.3 393.8h0M81.5 396.1h0M78.9 398.8h0M73.9 394.6h0M99.5 392.6h0M91.8 393.5h0M70.8 412.7h0M84.8 405.6h0M91.3 409.1h0M92.8 375.4h0M80.1 415.9h0M85.5 384.6h0M68.6 397.4h0M90.7 395.8h0M77.1 391.3h0M98.9 391.6h0M75.1 399.7h0M72.7 407.7h0M83.6 383.5h0M73.8 390.3h0M90.5 401.2h0M86.0 381.0h0M87.8 391.8h0M79.6 380.7h0M81.6 403.4h0M79.2 409.2h0M90.5 394.0h0M98.1 395.5h0M84.2 398.4h0M91.0 400.8h0M94.2 379.9h0M81.8 398.4h0M70.9 401.3h0M98.2 406.4h0M76.6 373.5h0M84.5 387.7h0M81.5 408.9h0M92.7 391.0h0M79.1 393.2h0M83.3 404.0h0M75.6 405.8h0M89.3 396.8h0M77.1 413.0h0M88.8 396.6h0M76.4 405.3h0M85.0 399.9h0M79.2 392.5h0M76.1 414.5h0M73.6 394.2h0M82.9 381.2h0M86.6 411.1h0M86.0 399.4h0M80.4 401.9h0M83.1 404.0h0M94.8 384.0h0M74.4 392.8h0M88.9 384.4h0M87.3 405.1h0M80.3 408.2h0M87.8 398.3h0M73.6 406.2h0M83.1 388.8h0M73.4 400.8h0M85.5 396.7h0M93.3 392.7h0M91.0 395.2h0M82.9 395.0h0M78.2 411.2h0M74.2 405.1h0M92.2 399.9h0M83.8 384.4h0M69.4 424.3h0M81.2 397.9h0M74.6 398.4h0M80.3 407.5h0M92.7 413.9h0M77.9 393.4h0M76.1 389.1h0M68.2 403.4h0M90.9 383.2h0M82.4 412.2h0M96.3 400.8h0M87.3 401.7h0M92.9 402.1h0M95.3 391.5h0M83.4 384.9h0M87.5 384.8h0M86.6 392.4h0M72.4 394.9h0M88.4 405.9h0M86.4 396.2h0M89.0 381.7h0M81.6 384.6h0M74.9 395.2h0M80.4 389.6h0M90.9 387.0h0M73.3 397.9h0M88.0 378.2h0M93.7 385.6h0M82.8 397.3h0M83.7 400.7h0M80.3 395.6h0M70.4 394.2h0M73.9 403.0h0M80.2 401.8h0M80.9 393.3h0M83.3 404.9h0M92.8 370.0h0M80.7 404.3h0M92.8 398.9h0M83.1 389.8h0M98.3 401.7h0M100.5 406.1h0M82.6 390.1h0M76.6 395.6h0M88.5 388.2h0M90.3 413.0h0M78.4 401.1h0M84.1 391.8h0M80.1 388.0h0M87.4 419.1h0M83.6 393.7h0M94.7 392.9h0M95.1 385.1h0M82.3 405.5h0M81.4 415.0h0M93.2 397.1h0M84.3 370.4h0M76.3 392.2h0M84.1 402.8h0M84.7 395.7h0M80.3 409.2h0M79.0 406.5h0M91.8 404.1h0M86.2 403.0h0M87.2 409.7h0M79.1 409.6h0M90.3 403.7h0M81.3 405.4h0M85.7 395.4h0M74.8 393.9h0M79.2 402.0h0M81.3 396.3h0M88.3 400.2h0M76.7 400.2h0M85.8 386.8h0M79.7 385.7h0M89.3 374.1h0M75.9 386.9h0M81.0 394.5h0M91.9 389.1h0M91.9 406.1h0M73.7 399.1h0M88.7 387.4h0M69.8 398.6h0M91.9 393.7h0M85.9 384.3h0M79.5 392.8h0M78.5 403.6h0M84.6 397.6h0M80.8 403.7h0M93.2 386.2h0M79.8 400.6h0M84.3 380.8h0M81.7 382.2h0M82.2 395.0h0M95.6 380.7h0M82.4 406.6h0M102.7 403.3h0M96.2 383.2h0M82.8 416.7h0M87.6 392.4h0M97.9 393.1h0M100.3 393.0h0M84.9 401.9h0M87.0 392.3h0M69.5 407.2h0M90.2 390.4h0M70.4 400.3h0M92.6 401.3h0M77.3 401.3h0M80.8 410.7h0M85.2 390.1h0M88.7 384.1h0M77.9 388.4h0M81.5 397.4h0M74.8 389.1h0M82.7 391.4h0M91.0 391.7h0M101.3 399.6h0M84.0 399.6h0M90.6 406.0h0M73.1 393.1h0M73.4 406.3h0M85.0 402.5h0M85.7 390.1h0M86.1 409.5h0M99.9 402.4h0M95.7 390.8h0M86.7 399.2h0M78.4 387.8h0M84.8 395.5h0M82.3 393.6h0M85.0 393.0h0M70.7 392.8h0M95.8 401.3h0M87.8 389.9h0M81.8 385.4h0M73.6 393.1h0M75.2 397.1h0M90.2 383.9h0M99.9 401.1h0M86.0 393.2h0M75.1 393.0h0M96.3 378.9h0M82.6 398.5h0M72.9 405.5h0M75.0 400.7h0M81.4 382.9h0M90.7 394.4h0M75.3 393.8h0M91.6 400.0h0M93.0 405.5h0M85.6 407.1h0M82.4 393.4h0M77.1 385.8h0M73.5 404.2h0M78.3 398.8h0M71.6 419.1h0M81.7 385.5h0M95.4 382.4h0M87.8 387.7h0M78.1 392.2h0M93.1 412.3h0M86.6 404.2h0M89.6 392.2h0M84.6 396.6h0M83.3 407.4h0M81.1 380.7h0M98.0 391.4h0M88.8 403.6h0M81.3 398.3h0M89.8 398.4h0M94.1 402.4h0M90.7 404.0h0M81.0 405.0h0M85.0 390.3h0M82.1 397.6h0M77.0 403.0h0M83.9 400.9h0M79.6 398.1h0M89.1 396.5h0M80.1 398.8h0M87.3 392.2h0M86.7 404.0h0M101.2 392.3h0M72.9 395.4h0M91.7 412.4h0M86.5 390.1h0M87.3 393.4h0M77.0 395.2h0M79.6 391.8h0M78.9 392.7h0M86.0 399.1h0M89.5 388.0h0M73.5 391.2h0M79.9 403.0h0M69.3 401.0h0M87.1 386.3h0M81.0 390.6h0M94.2 397.2h0M89.2 389.6h0M76.9 385.5h0M73.2 388.4h0M73.4 412.5h0M74.6 405.7h0M83.6 406.6h0M84.9 396.1h0M80.9 409.4h0M83.0 382.4h0M85.4 381.2h0M81.4 392.3h0M78.6 392.4h0M90.8 401.3h0M91.2 399.0h0M89.9 384.3h0M89.9 403.8h0M93.3 400.8h0M69.2 414.4h0M84.5 374.3h0M93.0 389.4h0M73.6 395.4h0M69.3 411.0h0M87.4 424.2h0M74.9 403.7h0M80.9 389.7h0M82.1 394.2h0M86.7 394.9h0M98.7 388.3h0M92.9 383.1h0M80.9 409.9h0M90.5 407.9h0M87.1 391.3h0M79.5 397.1h0M83.8 381.9h0M89.3 406.0h0M88.0 394.5h0M89.4 395.1h0M85.6 398.8h0M86.1 391.0h0M91.3 391.5h0M89.6 410.9h0M79.1 400.6h0M88.6 400.0h0M74.0 395.9h0M81.4 394.0h0M96.9 404.2h0M69.9 399.2h0M93.9 392.8h0M85.9 390.3h0M79.6 408.9h0M102.0 403.6h0M77.7 410.8h0M77.2 404.8h0M73.9 401.3h0M89.7 411.9h0M89.5 411.3h0M79.9 404.0h0M88.0 402.3h0M90.3 397.6h0M70.9 407.8h0M76.8 413.4h0M97.9 399.5h0M92.4 406.7h0M93.7 382.3h0M81.1 393.6h0M84.3 384.0h0M70.7 392.9h0M81.6 406.6h0M80.3 377.6h0M97.6 402.7h0M77.6 406.5h0M76.3 391.8h0M86.6 404.1h0M90.8 396.1h0M99.9 388.5h0M68.8 387.9h0M84.0 397.3h0M74.8 377.6h0M76.6 404.2h0M83.4 416.8h0M76.9 388.1h0M76.6 379.9h0M75.0 391.7h0M75.8 397.0h0M93.8 399.1h0M79.9 395.8h0M82.7 394.2h0M77.8 396.0h0M77.2 399.4h0M79.3 407.5h0M84.3 403.7h0M84.4 392.5h0M90.7 391.0h0M78.1 414.0h0M75.3 401.1h0M87.2 399.1h0M92.3 396.4h0M72.2 398.0h0M84.8 401.5h0M94.0 390.0h0M69.1 411.2h0M76.3 406.0h0M94.5 380.6h0M80.8 404.8h0M74.8 391.8h0M76.8 390.8h0M87.3 390.5h0M70.9 398.1h0M89.2 394.4h0M74.2 403.1h0M76.6 407.8h0M88.7 396.7h0M98.2 383.2h0M76.3 394.6h0M85.4 408.1h0M90.3 391.2h0M74.0 414.4h0M82.9 409.4h0M89.1 386.3h0M74.6 408.1h0M72.0 406.4h0M94.2 382.5h0M85.8 392.5h0M75.0 410.2h0M80.7 377.5h0M80.1 397.2h0M84.2 399.3h0M78.1 392.3h0M95.1 408.8h0M87.0 403.3h0M91.3 383.8h0M75.0 422.2h0M68.3 396.9h0M71.2 399.2h0M85.6 397.2h0M77.2 387.9h0M93.2 398.8h0M80.2 402.0h0M80.0 393.3h0M82.0 403.7h0M83.7 385.5h0M90.2 394.9h0M88.0 387.5h0M98.5 403.6h0M81.1 406.6h0M74.6 395.1h0M78.0 385.0h0M83.5 410.8h0M90.2 389.9h0M78.9 403.8h0M81.7 392.8h0M80.6 405.4h0M85.6 380.7h0M79.9 393.8h0M80.2 399.0h0M90.6 400.5h0M88.5 392.3h0M79.8 401.9h0M70.6 402.5h0M78.5 391.7h0M84.1 404.2h0M86.3 391.5h0M96.3 402.3h0M82.9 397.8h0M85.0 395.0h0M83.7 385.5h0M72.2 399.8h0M93.3 404.2h0M85.0 395.3h0M71.9 413.4h0M81.8 402.6h0M87.6 398.7h0M83.1 398.4h0M84.7 404.8h0M95.9 398.5h0M81.7 407.0h0M79.9 393.5h0M86.0 401.2h0M81.2 399.2h0M102.9 401.8h0M75.0 395.3h0M73.6 385.3h0M89.2 397.6h0M73.3 378.8h0M72.8 392.1h0M86.0 405.1h0M82.9 390.5h0M90.5 398.5h0M75.4 385.2h0M72.4 408.5h0M89.5 380.3h0M76.6 403.6h0M79.0 388.9h0M73.3 394.9h0M85.6 391.9h0M81.5 402.2h0M78.7 394.1h0M88.4 396.4h0M69.5 396.9h0M80.6 400.5h0M77.2 412.2h0M83.0 405.2h0M76.7 394.4h0M80.0 400.8h0M71.9 391.0h0M81.3 388.6h0M76.6 400.9h0M86.4 406.1h0M72.8 387.8h0M83.9 398.8h0M90.6 394.8h0M89.9 377.0h0M79.4 402.4h0M87.8 389.8h0M82.6 396.9h0M79.0 388.9h0M81.2 403.5h0M100.3 394.4h0M77.1 403.6h0M76.1 402.7h0M88.9 401.1h0M75.9 388.9h0M71.2 407.4h0M78.3 397.7h0M88.5 395.5h0M88.5 374.2h0M81.8 413.5h0M88.1 389.1h0M87.4 396.0h0M70.7 387.4h0M71.2 401.0h0M71.7 393.2h0M89.1 381.7h0M86.4 390.7h0M82.6 380.0h0M85.7 391.1h0M82.1 396.0h0M93.8 399.2h0M77.0 409.9h0M74.3 406.5h0M94.7 380.5h0M93.6 400.3h0M76.3 390.5h0M83.0 399.5h0M87.6 392.7h0M81.9 391.1h0M70.5 409.4h0M84.2 396.9h0M91.9 383.5h0M84.1 391.4h0M70.3 406.3h0M81.5 403.1h0M78.5 395.8h0M80.0 402.3h0M81.6 401.6h0M75.5 398.9h0M83.5 402.9h0M79.8 398.1h0M81.0 399.5h0M85.0 392.2h0M78.9 396.3h0M86.5 370.4h0M84.0 392.8h0M81.7 403.0h0M86.3 395.5h0M91.6 381.5h0M90.6 390.2h0M75.4 398.7h0M82.7 386.1h0M85.6 386.4h0M93.1 388.9h0M77.3 406.3h0M74.6 418.6h0M88.2 403.0h0M71.9 398.5h0M86.9 409.4h0M83.9 404.4h0M80.3 399.9h0M85.4 398.2h0M95.3 393.0h0M93.8 395.6h0M77.3 390.6h0M78.4 391.7h0M81.6 410.1h0M94.0 393.8h0M79.8 409.7h0M82.3 416.3h0M87.6 388.0h0M68.1 411.6h0M79.7 397.3h0M83.6 386.8h0M86.8 414.2h0M81.2 403.5h0M78.5 393.3h0M74.9 404.1h0M93.7 395.7h0M67.7 398.7h0M101.0 394.3h0M93.8 405.6h0M91.7 383.3h0M88.1 382.8h0M77.0 419.9h0M87.5 391.0h0M79.3 393.7h0M77.5 410.5h0M83.0 398.2h0M80.2 385.0h0M84.9 396.5h0M79.5 400.8h0M97.7 393.4h0M83.2 407.8h0M85.2 383.2h0M73.9 394.2h0M82.0 400.6h0M82.9 408.5h0M84.3 416.5h0M81.9 398.4h0M82.2 383.1h0M87.6 386.7h0M95.2 394.2h0M97.2 395.6h0M77.1 406.4h0M79.4 411.0h0M73.9 401.0h0M78.0 400.0h0M77.6 384.5h0M78.9 400.0h0M80.0 385.0h0M73.3 385.9h0M96.4 396.5h0M76.1 377.8h0M77.5 389.0h0M80.7 405.8h0M76.7 400.9h0M79.4 402.6h0M86.3 407.6h0M68.5 398.2h0M90.8 374.5h0M86.9 396.0h0M83.1 375.0h0M84.9 401.1h0M86.8 399.8h0M99.2 397.1h0M83.0 397.9h0M87.9 413.9h0M73.8 406.1h0M74.8 402.4h0M80.4 375.2h0M87.6 404.0h0M88.0 379.7h0M81.7 389.7h0M87.2 400.5h0M73.1 383.2h0M78.4 386.6h0M69.5 403.4h0M91.5 398.7h0M82.1 385.5h0M72.7 417.3h0M87.1 404.5h0M93.5 395.2h0M77.4 399.4h0M69.7 404.4h0M84.7 383.3h0M90.5 397.3h0M74.7 408.8h0M95.6 395.4h0M97.5 387.1h0M91.6 403.5h0M76.4 411.3h0M93.7 381.9h0M81.2 406.6h0M82.8 415.1h0M86.1 384.4h0M74.6 387.3h0M78.0 396.7h0M96.4 397.9h0M74.0 393.2h0M81.1 404.3h0M90.2 406.2h0M88.2 391.3h0M80.9 407.6h0M73.1 411.3h0M79.5 404.3h0M84.3 392.1h0M83.2 400.1h0M83.9 382.8h0M82.5 405.0h0M85.4 395.3h0M89.9 378.9h0M82.8 388.6h0M92.2 375.4h0M76.3 388.1h0M76.5 378.2h0M93.9 399.6h0M79.3 395.7h0M75.5 394.4h0M84.3 385.7h0M80.2 403.4h0M88.8 384.8h0M86.4 391.2h0M79.0 397.1h0M82.2 406.1h0M69.3 418.7h0M86.0 407.1h0M89.5 413.5h0M88.2 413.4h0M76.5 403.9h0M87.0 408.4h0M89.0 407.5h0M78.4 392.9h0M82.4 382.1h0M92.7 411.9h0M97.3 389.4h0M90.4 395.7h0M84.4 406.7h0M95.2 394.3h0M86.9 411.2h0M90.3 388.6h0M82.1 377.8h0M68.6 399.5h0M75.6 384.8h0M87.2 393.8h0M80.8 410.2h0M76.5 401.9h0M90.3 400.6h0M90.0 400.3h0M80.1 406.6h0M82.3 395.1h0M82.1 409.0h0M70.8 404.6h0M83.4 400.3h0M96.5 393.5h0M82.0 384.3h0M81.9 402.7h0M70.9 397.2h0M73.9 395.8h0M92.2 415.0h0M78.9 406.5h0M74.3 402.2h0M91.6 389.9h0M84.3 403.2h0M82.4 397.5h0M92.5 411.1h0M96.7 384.9h0M76.9 404.2h0M85.6 396.9h0M75.3 397.8h0M89.4 382.6h0M101.0 404.7h0M77.4 378.3h0M80.9 391.5h0M77.8 394.1h0M97.6 392.9h0M86.9 409.0h0M81.9 380.9h0M83.6 409.5h0M85.4 406.0h0M75.6 401.8h0M73.1 399.9h0M85.7 407.5h0M89.1 408.2h0M89.4 403.1h0M94.6 403.1h0M96.1 396.6h0M74.3 396.4h0M84.8 393.3h0M74.1 403.2h0M82.0 407.9h0M78.7 400.1h0M79.3 388.8h0M84.9 408.1h0M78.5 409.7h0M71.9 408.4h0M82.7 396.4h0M70.5 407.7h0M70.2 407.8h0M87.8 387.2h0M79.8 396.2h0M78.1 403.4h0M94.0 383.0h0M80.7 381.6h0M71.4 398.5h0M81.6 397.9h0M70.5 387.6h0M68.1 390.3h0M76.7 399.8h0M82.8 407.3h0M79.7 400.7h0M88.9 388.1h0M78.4 408.3h0M72.8 406.1h0M74.9 409.0h0M87.2 389.8h0M78.7 409.7h0M74.5 382.4h0M90.5 388.8h0M70.7 391.9h0M80.9 393.4h0M78.9 399.0h0M84.2 380.0h0M82.6 393.9h0M81.4 397.5h0M85.2 380.5h0M79.4 412.8h0M85.8 400.4h0M88.6 396.2h0M82.0 374.9h0M88.7 387.1h0M74.7 398.2h0M83.1 413.9h0M72.5 389.5h0M77.6 395.5h0M80.5 401.6h0M86.6 385.5h0M75.6 401.6h0M80.3 404.9h0M77.6 408.3h0M73.8 398.9h0M89.8 391.1h0M79.9 387.0h0M93.6 397.1h0M90.6 396.1h0M81.7 403.8h0M86.4 393.5h0M71.1 413.0h0M90.0 407.4h0M77.2 399.4h0M98.6 397.0h0M81.4 402.3h0M81.0 394.6h0M90.0 397.0h0M80.6 399.5h0M73.8 393.7h0M85.3 411.0h0M71.1 389.5h0M99.4 393.7h0M75.6 397.5h0M81.9 387.6h0M77.1 396.6h0M83.1 401.5h0M80.4 376.8h0M88.6 398.8h0M81.9 401.2h0M87.7 412.5h0M75.7 402.6h0M79.8 412.5h0M78.5 421.6h0M96.8 407.6h0M74.1 399.5h0M78.0 394.6h0M92.8 394.8h0M72.3 385.4h0M83.4 378.5h0M84.5 404.4h0M79.6 408.9h0M72.2 416.5h0M80.3 406.9h0M75.8 399.3h0M86.0 385.5h0M88.8 389.5h0M96.9 385.0h0M88.7 396.2h0M72.8 384.8h0M75.7 416.6h0M70.9 411.5h0M90.8 392.9h0M91.8 402.6h0M79.3 391.3h0M91.4 395.1h0M78.8 393.5h0M87.5 385.0h0M84.2 419.4h0M79.9 401.7h0M86.4 386.8h0M89.9 388.9h0M75.1 387.1h0M87.7 394.4h0M85.5 406.8h0M83.2 414.1h0M75.9 402.8h0M85.7 403.1h0M76.8 401.0h0M80.7 405.1h0M84.7 392.0h0M73.3 391.9h0M94.2 405.4h0M86.6 390.1h0M84.8 399.5h0M85.3 395.8h0M79.7 385.8h0M83.0 386.5h0M74.2 396.7h0M85.2 392.8h0M76.8 407.4h0M71.7 399.7h0M76.4 419.3h0M94.4 404.8h0M85.2 403.8h0M84.4 407.9h0M90.0 387.5h0M87.9 391.1h0M73.9 405.7h0M95.7 370.7h0M96.2 387.0h0M79.2 383.7h0M97.2 388.9h0M82.4 404.1h0M70.4 410.5h0M73.2 409.7h0M77.3 387.6h0M81.7 416.1h0M81.5 402.2h0M92.5 390.9h0M77.9 396.4h0M95.3 394.8h0M90.8 392.2h0M74.2 394.5h0M83.6 398.6h0M80.0 389.5h0M95.7 386.8h0M83.8 384.3h0M77.5 409.6h0M83.3 389.5h0M80.0 396.6h0M83.8 386.6h0M78.1 412.5h0M87.4 391.5h0M91.6 401.9h0M86.3 397.2h0M91.8 386.4h0M83.3 395.4h0M80.5 397.9h0M106.4 397.2h0M86.7 383.8h0M85.9 392.4h0M90.0 399.4h0M81.7 397.2h0M91.5 414.0h0M80.6 408.8h0M88.5 381.2h0M70.7 397.5h0M87.9 392.7h0M72.3 401.9h0M85.3 384.2h0M87.2 400.8h0M67.3 407.6h0M81.3 390.1h0M79.3 391.3h0M94.6 399.0h0M90.9 393.0h0M85.2 413.1h0M80.5 416.4h0M93.4 379.2h0M77.0 386.9h0M87.7 401.0h0M83.6 400.2h0M80.9 395.2h0M78.9 395.3h0M80.0 414.9h0M93.0 400.6h0M81.6 391.6h0M87.0 403.9h0M79.9 403.8h0M83.4 412.5h0M71.9 408.0h0M69.4 405.4h0M96.3 415.7h0M75.7 412.5h0M81.6 398.3h0M80.1 394.2h0M87.0 391.1h0M89.2 404.5h0M77.9 386.1h0M83.9 393.9h0M97.7 392.4h0M83.4 396.0h0M78.8 402.6h0M89.3 393.9h0M77.4 399.1h0M84.8 392.1h0M70.2 395.0h0M77.3 400.6h0M78.8 394.4h0M89.4 379.2h0M81.7 400.1h0M81.7 397.7h0M79.1 387.4h0M79.7 389.7h0M75.4 389.4h0M89.3 392.2h0M83.4 407.3h0M87.3 402.2h0M70.2 389.4h0M72.9 374.3h0M90.1 393.5h0M81.1 412.3h0M87.1 387.2h0M93.0 386.9h0M83.4 396.6h0M98.2 384.3h0M75.6 415.5h0M73.0 414.7h0M96.7 384.8h0M85.0 402.3h0M79.1 392.7h0M87.8 395.8h0M81.9 414.0h0M82.4 396.1h0M87.8 397.6h0M90.3 412.8h0M86.2 393.9h0M73.6 379.7h0M98.0 403.7h0M70.1 401.6h0M97.3 387.1h0M77.3 381.6h0M93.9 376.2h0M99.5 392.0h0M81.6 406.1h0M82.3 396.8h0M71.1 414.2h0M91.5 399.1h0M79.9 395.0h0M70.0 384.6h0M73.2 408.1h0M90.5 389.1h0M70.2 398.5h0M82.0 406.0h0M81.6 400.6h0M74.9 415.0h0M87.5 387.5h0M85.5 407.4h0M74.6 408.9h0M90.3 392.0h0M69.5 409.7h0M94.9 388.9h0M96.3 416.9h0M84.1 393.5h0M81.7 414.5h0M86.6 396.7h0M79.2 379.7h0M84.2 374.7h0M87.9 394.5h0M90.4 413.1h0M74.0 416.3h0M90.6 397.7h0M86.5 390.9h0M79.6 395.0h0M82.1 392.1h0M81.1 397.3h0M93.1 399.7h0M77.6 401.5h0M89.7 387.2h0M81.7 395.1h0M74.1 402.5h0M88.0 392.9h0M89.3 404.5h0M82.1 399.8h0M85.7 406.7h0M76.6 398.0h0M83.7 393.9h0M75.7 406.5h0M71.8 421.7h0M74.7 403.9h0M92.4 397.3h0M78.6 408.0h0M96.2 402.2h0M80.3 400.0h0M89.8 395.9h0M86.8 404.8h0M87.8 388.3h0M98.2 378.7h0M84.6 376.8h0M81.5 393.8h0M83.8 389.5h0M97.2 380.9h0M71.1 395.1h0M89.6 404.8h0M83.3 375.4h0M85.7 401.6h0M89.8 384.5h0M91.4 411.2h0M84.6 403.4h0M83.0 393.9h0M87.4 389.3h0M91.4 386.1h0M74.5 413.4h0M97.3 393.9h0M86.3 405.6h0M87.7 404.5h0M75.8 407.5h0M96.0 389.2h0M85.0 394.3h0M75.5 394.6h0M90.1 376.7h0M96.0 404.4h0M81.1 398.7h0M80.6 386.2h0M96.8 398.6h0M69.8 394.6h0M92.7 392.9h0M72.9 407.5h0M95.0 388.2h0M81.8 391.8h0M87.8 383.9h0M86.6 386.2h0M87.2 401.2h0M81.1 392.5h0M75.6 404.1h0M83.5 404.7h0M84.4 392.5h0M68.2 403.2h0M93.6 402.2h0M85.3 389.6h0M88.4 400.5h0M72.3 407.0h0M85.3 401.4h0M83.9 394.2h0M80.0 389.4h0M75.4 403.6h0M69.6 407.9h0M93.5 394.5h0M85.7 377.9h0M85.6 406.5h0M92.9 405.1h0M87.3 395.3h0M71.6 399.1h0M81.0 395.3h0M75.5 399.2h0M77.2 379.6h0M87.7 406.2h0M75.4 396.1h0M80.9 407.9h0M85.8 410.1h0M70.3 413.5h0M80.0 403.6h0M80.3 413.0h0M98.0 384.7h0M73.9 391.1h0M73.3 403.6h0M87.4 414.5h0M73.7 398.6h0M86.2 407.0h0M86.7 403.7h0M85.5 401.9h0M80.4 395.8h0M81.4 384.6h0M87.7 388.8h0M82.0 388.7h0M87.6 367.7h0M81.2 412.0h0M87.7 391.0h0M89.0 404.2h0M74.0 391.7h0M87.4 388.8h0M93.4 385.0h0M79.8 403.9h0M67.5 396.3h0M92.8 391.7h0M76.1 391.3h0M83.9 395.0h0M86.1 385.1h0M74.1 384.0h0M85.9 407.1h0M88.8 397.3h0M81.3 390.0h0M90.5 384.3h0M83.4 402.1h0M74.7 403.3h0M98.1 377.9h0M80.8 394.4h0M87.1 404.9h0M75.4 410.0h0M82.1 400.0h0M81.1 409.1h0M67.3 400.0h0M78.8 411.4h0M84.8 396.8h0M78.1 395.2h0M76.7 399.9h0M86.7 390.0h0M87.9 398.6h0M74.0 408.6h0M83.9 402.5h0M72.1 406.5h0M92.3 387.7h0M75.3 407.8h0M89.9 399.2h0M83.5 399.4h0M95.2 396.5h0M79.3 406.5h0M79.9 407.7h0M84.3 394.8h0M78.7 393.9h0M79.6 381.6h0M87.7 388.7h0M84.3 396.5h0M79.4 401.6h0M84.5 385.7h0M82.0 394.2h0M87.4 410.8h0M82.0 375.7h0M72.1 398.1h0M75.7 406.4h0M88.7 389.0h0M79.3 397.4h0M92.0 398.1h0M78.4 396.1h0M75.3 399.1h0M81.5 406.4h0M71.9 404.8h0M95.7 419.4h0M84.0 396.2h0M70.3 396.2h0M94.3 408.7h0M85.8 397.6h0M73.3 410.8h0M83.5 396.3h0M76.4 395.3h0M85.8 394.2h0M83.1 394.9h0M80.1 387.5h0M93.9 386.2h0M72.2 402.6h0M69.6 399.3h0M93.8 399.7h0M83.5 409.0h0M70.7 386.2h0M75.9 404.1h0M85.6 383.5h0M73.5 393.1h0M81.4 401.3h0M73.1 397.8h0M86.6 387.3h0M88.5 395.4h0M90.0 392.1h0M91.8 407.9h0M69.2 385.9h0M80.6 397.3h0M70.4 402.2h0M77.3 411.2h0M77.6 411.5h0M93.0 403.2h0M80.5 406.8h0M86.5 397.7h0M93.4 416.0h0M91.7 387.4h0M76.3 391.8h0M81.8 379.7h0M83.9 405.7h0M79.0 395.0h0M86.4 409.2h0M96.2 401.3h0M76.7 403.6h0M96.1 401.8h0M81.7 393.8h0M85.1 412.2h0M71.3 404.0h0M82.3 411.8h0M79.9 395.1h0M84.0 403.9h0M72.8 401.1h0M88.1 397.0h0M80.6 409.2h0M82.6 398.0h0M76.1 393.3h0M82.6 385.7h0M87.3 404.7h0M84.2 400.2h0M95.5 398.1h0M80.3 386.9h0M77.6 393.0h0M91.8 392.1h0M90.6 395.1h0M76.5 410.4h0M85.7 385.6h0M81.6 401.1h0M82.2 392.1h0M91.3 390.5h0M85.6 389.3h0M89.0 395.2h0M85.5 398.0h0M86.3 388.9h0M93.8 396.4h0M87.7 384.9h0M87.2 389.7h0M71.1 403.1h0M86.8 402.4h0M81.6 403.2h0M81.9 399.1h0M77.9 390.4h0M93.4 372.7h0M78.6 385.2h0M73.9 398.4h0M75.2 412.4h0M78.9 405.2h0M81.5 397.1h0M83.2 396.7h0M85.4 416.6h0M84.1 395.2h0M79.7 407.2h0M87.5 400.2h0M90.6 406.5h0M79.0 410.9h0M93.7 403.7h0M85.8 396.5h0M97.7 400.3h0M75.3 405.7h0M87.1 399.3h0M87.3 402.9h0M81.2 400.6h0M85.8 401.3h0M85.5 400.5h0M90.7 390.4h0M89.8 412.5h0M82.4 404.0h0M93.1 407.9h0M72.5 396.9h0M70.3 389.3h0M97.6 392.1h0M74.1 389.2h0M76.9 416.7h0M81.5 396.1h0M79.8 401.2h0M90.5 399.6h0M79.1 390.3h0M78.6 405.1h0M92.3 396.1h0M86.8 383.4h0M73.5 417.6h0M87.4 396.1h0M91.2 406.6h0M83.5 416.2h0M74.3 394.0h0M75.9 408.2h0M81.7 398.4h0M71.5 386.4h0M83.5 386.1h0M85.3 395.2h0M80.2 406.5h0M85.6 399.0h0M90.1 388.1h0M82.9 390.9h0M101.4 391.9h0M78.0 401.2h0M76.7 401.9h0M70.7 402.9h0M94.1 377.8h0M79.0 381.0h0M82.8 393.2h0M82.3 404.2h0M84.8 403.6h0M84.0 380.9h0M73.1 396.8h0M81.8 382.9h0M75.3 398.1h0M74.9 391.1h0M84.1 407.3h0M71.5 391.3h0M68.0 418.3h0M87.6 383.4h0M78.8 395.0h0M76.5 402.3h0M80.1 396.3h0M104.0 412.4h0M88.5 400.2h0M76.8 402.1h0M72.8 393.7h0M95.2 390.5h0M91.4 412.6h0M86.8 395.9h0M98.4 381.3h0M73.5 407.9h0M93.6 380.7h0M77.4 379.8h0M83.1 387.5h0M91.1 397.0h0M88.7 415.4h0M97.1 390.7h0M84.4 388.2h0M76.4 393.3h0M88.7 390.5h0M69.2 397.8h0M86.8 412.2h0M75.6 387.7h0M83.9 389.7h0M94.2 392.2h0M79.2 399.5h0M82.3 399.7h0M79.6 401.5h0M84.8 398.7h0M84.8 402.8h0M85.6 403.9h0M84.4 401.9h0M79.3 389.8h0M83.9 389.9h0M82.7 389.3h0M76.8 397.9h0M94.5 424.9h0M82.6 397.7h0M82.2 394.1h0M84.9 403.0h0M80.7 406.6h0M76.6 402.5h0M88.5 388.6h0M95.6 392.6h0M91.5 393.0h0M73.2 405.3h0M85.7 398.3h0M85.3 378.6h0M80.4 393.9h0M89.0 399.9h0M92.1 395.3h0M85.3 407.8h0M77.6 404.0h0M100.4 389.8h0M77.1 386.5h0M83.4 386.4h0M90.1 384.8h0M95.5 402.1h0M85.2 396.0h0M78.6 396.3h0M80.4 400.0h0M91.7 391.9h0M74.0 385.1h0M93.6 379.1h0M85.5 399.5h0M73.1 394.7h0M89.6 399.2h0M83.6 404.0h0M85.5 411.9h0M79.0 392.7h0M87.6 388.0h0M82.1 400.9h0M93.5 380.7h0M89.8 372.0h0M83.7 397.1h0M84.3 407.9h0M77.1 393.1h0M80.6 404.8h0M91.6 399.1h0M69.6 399.6h0M89.6 379.7h0M88.0 389.8h0M77.9 408.2h0M86.1 389.5h0M87.1 395.8h0M79.2 406.6h0M82.4 402.3h0M82.1 398.0h0M79.4 386.7h0M84.0 412.4h0M72.7 399.7h0M92.5 392.6h0M85.1 404.7h0M83.3 417.0h0M81.4 400.7h0M75.8 396.8h0M84.2 395.2h0M80.0 405.6h0M85.9 407.2h0M82.4 395.9h0M82.4 391.8h0M75.1 389.7h0M93.2 397.0h0M80.9 401.0h0M87.3 388.3h0M74.4 406.3h0M84.0 383.7h0M95.2 404.6h0M83.5 377.5h0M83.9 382.7h0M78.0 405.2h0M89.9 396.3h0M89.3 395.3h0M81.9 385.7h0M89.4 400.9h0M84.6 408.8h0M88.6 398.6h0M101.3 394.6h0M81.2 417.5h0M84.6 391.1h0M83.8 410.0h0M89.7 393.2h0M90.6 384.3h0M85.3 411.1h0M79.2 402.1h0M80.9 396.8h0M85.1 395.9h0M104.0 403.9h0M93.9 392.4h0M85.1 397.8h0M73.9 402.2h0M82.5 411.8h0M90.5 389.2h0M87.3 402.7h0M81.6 397.7h0M95.3 389.8h0M89.3 403.6h0M73.4 380.9h0M75.4 398.7h0M80.4 394.9h0M75.8 399.3h0M80.9 415.8h0M76.5 385.7h0M81.1 391.1h0M79.3 402.6h0M81.7 389.3h0M85.4 413.9h0M86.6 421.8h0M72.2 407.1h0M88.3 398.8h0M80.0 383.4h0M72.0 385.7h0M70.2 384.8h0M77.5 381.2h0M73.8 375.5h0M71.8 386.7h0M74.1 388.0h0M74.2 384.2h0M69.5 397.3h0M76.0 392.5h0M73.5 380.2h0M78.4 384.6h0M76.8 390.9h0M79.9 391.9h0M78.0 375.7h0M79.4 396.2h0M78.9 393.4h0M79.4 390.4h0M79.9 378.2h0M80.0 390.5h0M75.9 384.3h0M72.4 389.3h0M78.7 391.6h0M76.6 394.8h0M73.8 393.9h0M73.5 395.7h0M81.7 381.3h0M79.7 381.3h0M85.6 393.7h0M77.6 389.4h0M77.0 384.5h0M72.1 386.8h0M81.9 389.3h0M82.5 393.4h0M79.7 381.9h0M72.7 385.0h0M77.6 395.4h0M87.4 388.3h0M81.6 389.4h0M73.1 392.9h0M77.0 391.0h0M68.6 385.3h0M81.7 386.0h0M77.2 392.5h0M84.0 395.5h0M77.8 384.0h0M81.7 383.4h0M71.5 382.4h0M77.0 382.9h0M73.4 393.3h0M71.9 380.0h0M77.5 391.2h0M74.8 381.4h0M88.6 384.8h0M89.7 382.9h0M83.3 380.0h0M84.9 390.7h0M78.5 384.0h0M84.7 395.6h0M77.7 388.9h0M74.3 391.6h0M76.0 390.9h0M82.2 388.7h0M84.9 383.0h0M83.0 388.5h0M77.9 390.5h0M83.9 377.1h0M77.8 387.1h0M81.2 387.7h0M75.4 389.2h0M81.5 383.7h0M78.4 387.0h0M74.9 387.7h0M86.8 384.9h0M80.3 391.0h0M83.2 385.8h0M71.8 392.1h0M68.2 389.3h0M82.1 391.5h0M78.0 386.4h0M75.2 393.1h0M69.8 380.5h0M75.1 386.5h0M79.9 386.0h0M77.8 384.4h0M82.5 392.7h0M69.7 394.1h0M79.1 388.2h0M81.4 390.5h0M78.4 390.3h0M69.3 390.2h0M78.2 381.2h0M74.9 391.0h0M75.4 381.7h0M76.4 384.3h0M78.0 394.7h0M87.0 387.6h0M79.7 381.7h0M80.7 390.7h0M74.5 391.9h0M74.6 388.5h0M78.7 388.1h0M78.9 390.3h0M74.7 388.9h0M80.8 393.6h0M73.6 385.2h0M75.4 379.9h0M79.5 398.9h0M74.7 385.7h0M75.6 387.2h0M73.5 399.1h0M72.7 391.7h0M81.9 388.5h0M84.1 377.5h0M79.3 386.7h0M78.5 383.0h0M72.8 382.9h0M77.6 391.1h0M86.4 386.1h0M69.7 393.1h0M75.6 381.6h0M80.6 376.4h0M71.5 398.6h0M75.0 390.5h0M83.4 380.2h0M78.1 394.5h0M81.4 395.9h0M89.0 399.8h0M80.7 383.9h0M81.4 383.6h0M77.6 387.3h0M74.8 394.2h0M76.8 383.1h0M77.3 387.4h0M80.2 387.3h0M81.6 385.0h0M76.7 391.0h0M73.8 388.8h0M78.2 393.7h0M75.8 388.0h0M83.9 390.7h0M70.9 385.8h0M80.8 385.8h0M79.1 392.8h0M86.5 383.5h0M70.0 383.1h0M75.2 393.5h0M78.5 395.2h0M78.3 379.5h0M79.2 383.7h0M78.8 377.9h0M80.9 381.4h0M75.5 392.8h0M76.3 382.2h0M84.2 385.6h0M81.9 387.0h0M69.0 386.4h0M79.1 386.7h0M85.0 377.5h0M74.0 391.4h0M82.6 392.7h0M72.9 389.6h0M79.7 398.4h0M87.3 390.5h0M80.3 392.1h0M76.9 389.3h0M79.1 388.4h0M80.5 387.7h0M74.7 394.4h0M81.7 383.2h0M80.1 382.4h0M78.8 383.4h0M74.5 390.1h0M73.1 392.1h0M84.8 386.1h0M73.9 390.0h0M76.3 378.6h0M87.4 384.7h0M85.9 392.9h0M80.5 390.0h0M75.9 391.4h0M74.6 390.0h0M73.3 387.8h0M79.1 388.1h0M78.8 390.7h0M85.3 384.5h0M78.3 387.7h0M80.7 397.1h0M78.7 382.1h0M80.8 383.4h0M70.3 381.2h0M77.3 379.3h0M75.6 390.3h0M86.6 386.6h0M76.9 386.1h0M70.3 386.6h0M72.3 382.3h0M73.9 381.3h0M67.1 394.6h0M72.2 392.9h0M80.7 385.7h0M77.5 387.8h0M79.6 390.0h0M76.0 387.3h0M82.0 382.7h0M69.5 375.0h0M75.6 393.3h0M86.9 384.0h0M78.0 382.4h0M77.8 386.5h0M81.4 392.2h0M79.2 388.0h0M81.3 386.3h0M83.2 396.3h0M81.1 397.7h0M74.4 390.5h0M78.5 383.2h0M78.8 386.6h0M79.4 388.4h0M80.5 385.7h0M77.3 393.0h0M83.2 388.5h0M69.2 393.0h0M80.2 381.2h0M69.9 398.2h0M75.2 386.6h0M80.7 396.3h0M78.0 387.1h0M82.0 395.4h0M78.5 384.3h0M72.3 392.7h0M72.8 384.2h0M80.1 384.1h0M80.8 386.6h0M74.7 393.0h0M77.8 385.6h0M84.2 381.7h0M72.0 387.7h0M77.1 376.3h0M75.8 386.0h0M73.2 388.7h0M67.4 390.1h0M81.9 401.0h0M71.2 393.2h0M73.5 377.8h0M77.1 382.6h0M74.5 382.4h0M79.3 386.4h0M79.1 388.9h0M79.2 387.8h0M71.6 391.5h0M75.4 387.8h0M77.8 388.2h0M74.1 383.9h0M72.9 385.6h0M80.5 382.1h0M78.4 397.8h0M70.6 387.8h0M78.6 386.0h0M74.6 391.9h0M76.6 388.9h0M72.0 394.8h0M86.2 385.8h0M79.1 384.3h0M82.8 390.1h0M78.2 386.9h0M72.7 388.8h0M78.8 376.5h0M77.7 376.4h0M84.3 388.2h0M79.5 382.9h0M85.6 389.8h0M77.7 386.5h0M73.3 385.3h0M75.7 380.3h0M82.3 378.1h0M79.1 395.0h0M78.3 389.6h0M75.3 381.3h0M85.3 378.8h0M79.1 380.8h0M79.7 391.3h0M82.6 387.6h0M77.4 385.6h0M77.3 387.0h0M81.0 386.3h0M76.3 401.1h0M71.8 388.2h0M88.6 379.7h0M83.8 388.7h0M82.1 391.5h0M70.5 393.0h0M75.7 378.5h0M79.4 381.3h0M76.4 389.3h0M70.4 392.2h0M80.7 388.1h0M81.4 386.9h0M84.2 384.9h0M78.2 391.6h0M79.4 378.2h0M75.8 394.3h0M74.8 378.6h0M79.2 381.6h0M83.0 383.6h0M72.2 383.2h0M78.5 387.8h0M81.3 382.5h0M74.9 389.6h0M79.4 392.4h0M70.3 388.5h0M79.1 390.4h0M75.8 388.8h0M69.3 381.3h0M82.4 382.2h0M78.6 400.4h0M69.7 381.3h0M77.7 389.1h0M77.8 388.2h0M71.6 385.4h0M81.6 380.9h0M76.2 387.2h0M81.3 383.3h0M83.2 389.1h0M78.4 386.0h0M74.2 380.2h0M80.6 387.2h0M80.9 391.8h0M73.1 388.0h0M74.1 376.2h0M81.6 387.9h0M77.6 394.6h0M71.9 394.2h0M74.8 389.4h0M77.5 382.3h0M70.5 393.5h0M75.2 389.6h0M75.0 388.7h0M76.2 386.9h0M80.9 397.2h0M72.6 383.8h0M78.9 385.3h0M76.8 391.9h0M77.1 381.1h0M81.1 388.3h0M79.2 388.2h0M68.7 394.7h0M73.7 394.2h0M71.6 387.8h0M78.4 383.8h0M79.2 390.5h0M74.7 391.1h0M77.5 391.2h0M73.5 383.7h0M75.0 384.4h0M75.3 390.6h0M78.8 382.9h0M76.2 390.2h0M73.6 385.2h0M75.1 381.6h0M72.4 382.8h0M80.2 385.1h0M78.8 384.0h0M70.3 384.1h0M81.0 387.9h0M74.7 389.1h0M77.0 384.2h0M74.3 389.0h0M75.2 378.1h0M78.5 380.0h0M67.2 394.6h0M75.8 393.3h0M78.5 385.4h0M70.0 390.5h0M76.1 386.4h0M70.8 395.2h0M73.2 389.2h0M77.1 397.3h0M84.6 390.1h0M75.9 394.0h0M101.9 402.8h0M94.3 404.3h0M94.1 419.3h0M88.7 402.5h0M85.5 406.5h0M101.7 403.6h0M81.2 404.1h0M95.8 404.3h0M90.7 413.9h0M98.6 415.4h0M85.9 408.7h0M96.5 406.7h0M95.7 419.4h0M103.8 416.1h0M90.8 405.1h0M95.2 403.8h0M78.9 410.1h0M94.8 412.2h0M99.4 408.5h0M90.9 405.3h0M100.1 412.1h0M94.9 406.4h0M92.6 411.7h0M93.3 405.6h0M105.4 410.1h0M85.7 407.9h0M89.5 399.0h0M91.6 413.2h0M98.5 424.8h0M88.6 417.9h0M85.8 402.0h0M79.3 408.1h0M88.2 406.1h0M89.2 406.9h0M88.0 409.3h0M98.9 409.6h0M92.6 405.9h0M82.5 411.7h0M86.9 391.5h0M78.8 406.6h0M92.0 414.5h0M86.1 402.2h0M107.5 409.0h0M85.3 393.0h0M87.6 410.1h0M97.1 409.7h0M94.1 408.2h0M85.4 412.0h0M93.2 406.8h0M91.6 408.2h0M91.1 414.1h0M90.5 409.4h0M92.1 403.6h0M104.0 412.7h0M106.4 407.1h0M105.2 408.7h0M91.4 407.5h0M92.2 407.4h0M85.5 408.4h0M93.7 401.3h0M95.1 412.8h0M92.5 398.8h0M97.2 411.7h0M93.2 403.6h0M81.3 409.4h0M96.7 405.4h0M94.5 411.0h0M98.4 399.9h0M92.8 412.4h0M84.4 405.6h0M90.2 407.4h0M83.9 407.0h0M92.3 407.0h0M97.0 403.6h0M89.1 417.0h0M95.7 409.7h0M86.4 404.9h0M92.7 405.7h0M89.5 404.9h0M95.4 410.1h0M93.2 409.9h0M70.8 409.2h0M96.5 409.4h0M89.0 411.9h0M90.2 416.5h0M83.6 402.5h0M87.4 405.8h0M92.6 410.5h0M84.6 407.0h0M96.9 411.9h0M88.0 414.8h0M98.8 408.8h0M97.0 413.9h0M88.8 400.9h0M84.4 396.7h0M89.2 411.7h0M93.1 405.1h0M92.4 403.3h0M84.0 413.9h0M96.0 402.6h0M93.7 403.8h0M88.8 399.3h0M104.8 410.0h0M88.1 403.6h0M91.1 421.5h0M93.9 411.6h0M90.6 405.2h0M101.8 409.4h0M98.6 405.5h0M91.9 406.1h0M102.7 402.1h0M83.5 401.5h0M90.2 411.4h0M81.0 406.4h0M95.9 408.6h0M101.4 409.9h0M93.8 417.7h0M90.7 407.8h0M88.8 406.6h0M96.1 407.1h0M90.7 408.9h0M84.8 402.9h0M87.9 415.1h0M95.7 407.7h0M89.5 409.9h0M85.0 405.8h0M84.3 408.8h0M100.3 407.7h0M94.0 414.1h0M86.3 401.2h0M88.6 411.4h0M84.6 410.1h0M98.2 410.7h0M89.7 407.5h0M92.8 411.5h0M86.0 399.5h0M80.0 407.2h0M97.5 410.1h0M99.0 404.9h0M90.5 409.7h0M83.1 401.7h0M82.5 407.4h0M92.5 405.3h0M83.0 408.1h0M94.5 405.3h0M91.4 401.5h0M99.8 409.8h0M102.8 412.3h0M87.7 402.7h0M88.9 410.3h0M99.6 425.0h0M100.0 403.4h0M94.6 421.7h0M84.6 400.8h0M87.4 418.9h0M96.8 411.9h0M76.2 403.5h0M87.0 400.1h0M82.3 404.6h0M102.2 416.0h0M99.1 407.6h0M84.2 404.2h0M85.3 397.0h0M95.7 403.1h0M87.5 419.7h0M92.3 417.0h0M88.1 403.3h0M90.1 409.5h0M87.9 399.7h0M95.6 414.2h0M96.6 421.7h0M96.3 405.9h0M91.3 400.5h0M93.7 415.5h0M101.7 410.7h0M100.7 409.6h0M94.0 404.9h0M93.9 409.9h0M99.5 397.3h0M91.4 413.4h0M101.1 405.2h0M76.4 405.7h0M93.3 405.6h0M88.3 399.9h0M88.0 399.5h0M100.0 400.8h0M97.4 419.7h0M81.5 401.5h0M90.0 412.1h0M70.4 401.2h0M102.0 410.1h0M86.6 410.0h0M88.2 416.7h0M89.3 396.6h0M90.6 406.8h0M87.1 408.1h0M86.3 407.2h0M80.2 410.4h0M96.2 411.3h0M88.5 402.4h0M91.2 396.9h0M82.6 408.9h0M86.8 410.4h0M94.3 405.5h0M86.6 401.0h0M94.5 403.7h0M91.5 399.3h0M104.6 405.2h0M98.4 403.4h0M84.0 414.1h0M86.2 406.2h0M79.9 411.2h0M94.2 419.1h0M92.7 396.7h0M89.7 395.1h0M97.6 412.7h0M93.4 402.3h0M95.2 407.3h0M88.1 406.1h0M90.7 396.0h0M92.1 419.4h0M79.2 402.0h0M85.2 398.2h0M86.6 409.9h0M77.4 407.2h0M86.4 414.8h0M94.1 393.3h0M99.6 404.8h0M104.6 418.2h0M101.1 405.9h0M90.4 407.4h0M85.9 393.2h0M91.1 410.0h0M82.6 414.5h0M106.3 403.3h0M92.1 398.9h0M87.2 400.2h0M79.5 400.9h0M94.6 418.2h0M81.3 401.6h0M96.1 406.7h0M99.6 416.9h0M98.8 412.5h0M92.8 413.1h0M91.7 394.9h0M95.3 402.2h0M100.7 405.4h0M98.8 402.6h0M102.3 415.7h0M85.0 402.1h0M100.6 395.5h0M84.2 404.0h0M88.1 401.7h0M96.1 418.3h0M91.3 409.6h0M99.7 414.9h0M82.5 402.0h0M87.2 398.2h0M92.2 406.7h0M88.7 410.1h0M89.6 406.9h0M97.5 407.3h0M91.3 404.3h0M87.9 398.4h0M94.0 409.0h0M81.1 404.5h0M92.9 414.1h0M98.4 412.2h0M95.7 408.2h0M86.2 402.4h0M93.5 409.8h0M90.4 401.0h0M89.6 402.4h0M88.3 408.1h0M98.2 395.9h0M97.4 407.4h0M96.9 423.1h0M98.2 409.7h0M96.0 399.7h0M101.5 410.2h0M96.2 412.6h0M101.9 415.1h0M93.6 404.6h0M80.8 402.5h0M84.5 408.8h0M97.7 412.9h0M103.6 417.6h0M98.9 406.6h0M95.9 409.2h0M100.2 412.3h0M76.4 402.7h0M102.2 405.6h0M90.4 408.7h0M99.4 405.6h0M88.9 401.4h0M91.0 402.2h0M97.4 401.1h0M97.2 403.9h0M90.9 401.7h0M95.8 410.7h0M87.6 406.5h0M85.3 404.0h0M92.7 407.8h0M83.3 403.6h0M93.7 410.9h0M85.8 409.9h0M98.2 419.6h0M88.0 415.9h0M93.1 395.7h0M89.1 400.4h0M88.7 403.8h0M94.6 406.6h0M87.1 401.4h0M97.7 404.1h0M85.1 399.1h0M79.2 421.1h0M95.3 405.1h0M92.0 402.6h0M88.9 420.0h0M96.2 405.9h0M84.4 420.2h0M88.8 400.4h0M90.4 402.9h0M81.9 392.9h0M87.6 409.3h0M89.8 397.6h0M94.2 399.2h0M80.9 399.6h0M95.2 406.1h0M92.6 410.9h0M97.0 408.7h0M96.5 406.2h0M90.1 411.6h0M100.1 415.5h0M90.9 402.4h0M82.7 406.1h0M101.2 408.1h0M89.8 404.4h0M87.4 395.4h0M97.0 405.7h0M93.9 410.8h0M101.8 409.1h0M101.2 410.3h0M87.8 413.0h0M92.7 399.6h0M96.8 408.0h0M78.8 406.9h0M85.4 407.9h0M94.0 402.9h0M96.9 400.8h0M101.4 406.4h0M84.3 418.5h0M90.5 405.9h0M79.3 409.0h0M92.4 408.8h0M84.9 399.4h0M92.4 404.2h0M95.2 393.9h0M78.8 412.7h0M91.1 412.2h0M80.8 408.1h0M90.1 403.2h0M93.2 406.9h0M98.9 404.3h0M96.2 401.7h0M110.0 408.6h0M95.6 417.9h0M91.0 405.2h0M89.5 408.5h0M93.6 411.2h0M95.1 411.4h0M84.9 406.4h0M92.0 399.6h0M94.5 407.2h0M74.6 400.5h0M90.4 409.0h0M85.3 400.8h0M88.5 404.1h0M101.1 406.7h0M90.9 403.5h0M73.3 405.9h0M74.0 411.5h0M75.4 421.8h0M72.0 411.4h0M71.8 410.9h0M70.2 410.3h0M72.9 416.2h0M73.5 407.7h0M74.2 413.0h0M73.9 413.7h0M69.9 420.1h0M72.2 411.6h0M70.0 412.6h0M75.1 421.9h0M74.1 411.7h0M73.0 416.3h0M71.5 412.8h0M73.1 409.5h0M72.1 408.6h0M71.4 412.0h0M73.4 418.1h0M71.3 415.6h0M75.6 402.5h0M72.4 406.5h0M75.1 417.7h0M73.6 416.9h0M69.4 421.6h0M72.1 414.0h0M69.7 415.3h0M69.4 406.0h0M77.3 413.5h0M75.2 403.5h0M76.0 415.4h0M74.4 419.8h0M70.6 413.2h0M74.0 414.5h0M68.8 416.0h0M72.6 413.2h0M73.3 412.0h0M75.4 405.2h0M71.2 418.1h0M74.7 408.1h0M74.4 412.9h0M75.5 420.6h0M71.0 413.3h0M73.0 408.1h0M69.7 412.7h0M74.1 423.1h0M73.6 416.1h0M71.9 422.7h0M70.0 418.0h0M74.8 423.0h0M71.1 409.4h0M71.9 419.5h0M73.6 414.8h0M74.5 414.8h0M72.3 424.8h0M71.9 416.7h0M71.3 417.8h0M71.5 419.1h0M72.2 414.8h0M77.3 418.8h0M74.6 412.8h0M72.0 419.6h0M74.4 417.4h0M74.9 402.7h0M72.9 421.5h0M74.0 421.7h0M70.8 418.0h0M71.1 406.0h0M76.2 419.1h0M75.8 411.2h0M72.5 411.0h0M75.2 411.8h0M71.5 412.8h0M71.7 411.3h0M76.3 408.6h0M71.0 407.3h0M75.0 409.9h0M74.2 423.2h0M74.4 406.7h0M73.9 412.9h0M75.6 407.6h0M74.6 406.4h0M73.8 405.2h0M70.3 421.7h0M72.9 411.3h0M71.8 411.0h0M72.8 408.3h0M71.9 409.0h0M75.7 408.5h0M75.4 421.2h0M72.1 414.4h0M70.8 424.0h0M71.6 416.2h0M71.8 415.0h0M73.9 417.8h0M74.9 415.2h0M73.8 405.9h0M71.9 404.3h0M74.5 414.9h0M70.1 411.4h0M73.5 423.3h0M71.6 417.1h0M70.2 428.6h0M70.3 419.5h0M72.4 410.4h0M74.6 415.4h0M74.7 411.4h0M71.9 408.4h0M71.8 413.2h0M73.0 410.6h0M71.6 399.8h0M75.8 420.1h0M73.7 415.9h0M70.2 407.6h0M71.9 411.9h0M73.5 411.4h0M67.9 419.0h0M71.5 417.5h0M72.3 419.0h0M74.0 411.9h0M73.2 415.3h0M72.8 407.3h0M71.4 414.8h0M72.1 402.9h0M74.2 414.9h0M72.1 409.7h0M71.1 415.0h0M75.4 421.8h0M72.7 415.5h0M73.1 419.4h0M74.8 419.8h0M72.6 420.8h0M68.8 408.6h0M73.6 419.5h0M71.1 420.4h0M72.2 414.0h0M72.5 412.3h0M74.7 412.5h0M71.3 419.3h0M70.4 414.7h0M71.1 414.2h0M69.6 412.4h0M69.4 416.2h0M73.0 409.2h0M69.8 409.9h0M70.9 423.3h0M74.1 410.7h0M74.2 416.6h0M78.6 371.0h0M79.6 367.6h0M77.8 364.1h0M90.4 369.4h0M77.7 369.0h0M83.7 362.4h0M87.2 362.1h0M86.1 366.0h0M90.2 361.7h0M77.2 366.0h0M88.1 363.0h0M89.8 374.5h0M91.6 365.9h0M79.5 374.3h0M85.2 362.3h0M77.9 367.5h0M93.0 367.7h0M79.1 365.8h0M81.8 367.2h0M85.2 362.5h0M85.2 362.6h0M78.9 372.6h0M82.2 362.2h0M89.2 369.0h0M82.2 368.7h0M81.1 369.6h0M78.4 363.4h0M78.0 364.0h0M86.9 364.6h0M76.7 370.8h0M84.0 363.9h0M92.9 366.2h0M83.3 376.2h0M89.8 362.9h0M82.9 360.8h0M75.4 371.2h0M78.7 365.8h0M86.7 365.4h0M89.7 368.5h0M83.8 364.5h0M90.5 364.6h0M88.4 368.8h0M80.7 367.7h0M82.4 362.1h0M86.3 365.6h0M62.0 430.3h0M61.6 433.8h0M62.2 439.3h0M63.2 434.7h0M60.0 439.1h0M65.5 433.9h0M61.8 435.0h0M65.5 437.5h0M60.5 436.9h0M62.3 430.2h0M61.4 436.5h0M67.5 431.8h0M60.8 433.7h0M65.8 429.0h0M61.3 433.4h0M61.6 436.4h0M63.0 432.7h0M59.0 436.3h0M62.9 435.4h0M64.3 430.0h0M61.7 432.7h0M63.7 429.9h0M61.9 431.6h0M61.9 429.8h0M63.3 437.3h0M66.1 432.8h0M63.3 433.3h0M63.3 428.6h0M57.4 439.4h0M69.7 430.1h0M64.9 434.4h0M66.1 428.7h0M62.8 442.0h0M68.7 428.5h0M62.4 431.9h0M68.0 436.8h0M60.1 435.5h0M60.9 437.1h0M56.3 439.8h0M64.3 436.9h0M56.7 435.7h0M60.0 434.5h0M62.2 444.5h0M65.6 439.5h0M64.3 434.3h0M62.6 444.3h0M63.7 433.0h0M60.0 432.6h0M61.2 434.6h0M66.4 434.9h0M63.6 431.7h0M58.3 434.7h0M62.3 430.3h0M60.1 436.5h0M64.0 432.8h0M62.0 439.1h0M61.3 434.3h0M61.6 434.8h0M64.9 435.3h0M65.1 429.2h0M63.0 432.5h0M63.7 440.3h0M60.8 440.4h0M59.3 435.8h0M64.7 430.3h0M63.6 437.0h0M60.3 430.3h0M62.0 432.8h0M67.4 436.0h0M60.5 433.9h0M61.7 432.8h0M65.0 435.6h0M61.4 436.6h0M65.1 435.6h0M60.6 439.7h0M66.6 429.6h0M64.8 436.5h0M63.8 436.4h0M61.7 432.2h0M71.3 445.7h0M58.4 442.8h0M64.5 433.6h0M65.0 439.1h0M62.7 435.3h0M66.3 429.4h0M58.1 435.4h0M66.7 431.6h0M63.5 431.4h0M62.2 432.8h0M68.5 426.2h0M63.2 442.2h0M64.1 432.8h0M62.0 433.5h0M62.3 431.8h0M61.1 433.6h0M60.7 431.5h0M64.2 436.2h0M65.2 438.1h0M63.2 441.3h0M63.8 434.3h0M56.2 438.1h0M63.6 432.7h0M57.8 432.0h0M59.4 432.7h0M63.1 432.8h0M61.9 432.6h0M68.2 429.1h0M64.0 429.5h0M61.4 438.2h0M59.4 433.0h0M59.0 439.5h0M63.3 436.5h0M62.1 437.8h0M58.6 435.7h0M56.1 438.7h0M60.6 431.3h0M66.2 433.1h0M63.9 431.1h0M61.1 437.5h0M60.4 430.9h0M67.9 425.1h0M69.2 423.7h0M65.2 428.9h0M69.8 426.5h0M65.7 428.0h0M66.6 435.0h0M67.6 425.0h0M66.5 425.8h0M66.2 428.5h0M69.7 419.9h0M67.1 427.9h0M67.1 429.4h0M68.4 426.5h0M66.4 429.4h0M66.9 426.7h0M67.4 429.7h0M67.4 428.0h0M65.6 429.2h0M68.0 428.6h0M68.3 426.3h0M67.2 425.2h0M65.5 427.8h0M67.3 430.5h0M67.2 425.3h0M68.1 427.1h0M65.8 429.8h0M87.7 454.9h0M83.3 458.2h0M82.7 460.6h0M79.7 456.2h0M74.6 456.6h0M79.5 453.4h0M84.3 452.9h0M74.6 457.2h0M78.5 456.7h0M79.9 460.8h0M79.0 458.9h0M77.0 461.0h0M79.9 457.7h0M75.2 456.4h0M80.0 454.5h0M82.5 457.2h0M67.8 460.1h0M84.1 454.6h0M82.7 460.0h0M80.2 457.0h0M87.4 456.5h0M86.2 454.1h0M80.2 458.3h0M83.3 458.5h0M84.3 455.8h0M79.1 456.8h0M84.0 458.1h0M77.7 458.6h0M79.0 456.3h0M81.4 458.9h0M78.8 455.7h0M76.9 457.1h0M80.5 457.3h0M79.3 457.0h0M81.5 454.1h0M78.2 460.6h0M79.6 459.5h0M79.1 456.4h0M75.6 459.0h0M80.6 451.3h0M78.7 460.5h0M84.7 457.6h0M77.0 458.5h0M77.0 457.7h0M84.2 458.8h0M74.1 460.6h0M87.9 453.9h0M81.1 459.0h0M80.7 458.9h0M81.2 458.5h0M79.6 455.9h0M81.9 454.8h0M74.7 457.1h0M81.1 456.2h0M81.0 455.1h0M85.1 456.7h0M79.6 455.5h0M79.8 456.5h0M79.1 454.6h0M83.4 456.8h0M88.1 457.7h0M74.6 456.9h0M82.7 457.4h0M81.2 456.8h0M83.7 459.0h0M75.3 458.2h0M75.2 455.5h0M77.1 459.7h0M87.3 459.0h0M81.6 456.4h0M80.5 458.1h0M78.5 457.4h0M76.8 457.0h0M81.0 457.2h0M83.1 459.1h0M83.9 457.7h0M77.9 459.6h0M89.5 454.7h0M70.8 455.4h0M85.8 457.7h0M80.8 456.8h0M86.4 455.0h0M83.4 456.1h0M84.4 458.9h0M84.0 458.7h0M79.8 458.4h0M84.3 460.3h0M81.8 457.6h0M78.4 458.4h0M73.7 458.0h0M86.1 454.8h0M79.7 458.8h0M77.5 458.4h0M76.2 457.3h0M85.2 453.7h0M72.0 455.6h0M83.1 455.7h0M85.8 452.8h0M81.1 452.7h0M90.4 456.6h0M78.9 456.4h0M79.6 453.1h0M71.4 456.4h0M77.8 455.3h0M85.6 451.7h0M82.6 454.5h0M79.2 456.0h0M81.5 457.9h0M76.0 460.6h0M76.0 455.0h0M80.1 459.0h0M82.0 456.2h0M86.4 453.7h0M77.7 461.1h0M85.6 455.2h0M80.7 456.0h0M81.7 456.7h0M75.5 455.6h0M79.8 455.8h0M78.2 456.8h0M80.6 460.5h0M81.6 455.7h0M81.8 454.4h0M76.7 458.3h0M76.4 456.0h0M87.7 459.1h0M84.1 454.2h0M72.9 456.9h0M74.9 456.6h0M78.8 458.2h0M89.5 453.4h0M78.8 454.3h0M87.1 457.7h0M81.7 455.3h0M80.0 457.8h0M71.0 459.1h0M82.4 454.7h0M85.5 455.0h0M83.1 458.4h0M82.8 454.2h0M82.2 458.1h0M78.0 455.4h0M81.2 458.4h0M87.1 458.7h0M81.7 453.4h0M80.2 456.5h0M86.8 457.4h0M74.7 455.6h0M80.8 455.0h0M72.4 455.4h0M70.3 451.0h0M67.1 448.6h0M67.9 446.1h0M69.9 454.4h0M69.9 447.8h0M70.2 443.7h0M66.2 446.6h0M67.9 452.6h0M67.2 449.7h0M68.9 450.9h0M67.9 447.7h0M67.4 448.9h0M67.6 451.4h0M68.9 448.9h0M68.7 449.9h0M69.6 453.8h0M66.2 454.4h0M69.0 452.9h0M69.9 447.7h0M67.5 453.2h0M70.8 447.3h0M66.5 453.0h0M110.1 414.1h0M95.3 426.4h0M101.2 416.3h0M99.1 424.2h0M105.9 422.8h0M109.7 419.0h0M102.1 412.9h0M98.9 412.8h0M93.5 418.6h0M111.3 415.5h0M83.9 409.8h0M89.0 412.7h0M114.3 406.4h0M99.5 414.6h0M103.0 417.7h0M110.6 417.9h0M101.1 405.4h0M104.2 410.8h0M104.8 416.2h0M97.6 414.9h0M103.2 404.4h0M101.0 419.3h0M89.3 414.7h0M112.5 408.4h0M101.0 405.9h0M105.0 415.1h0M104.2 420.2h0M104.7 405.3h0M107.3 431.7h0M112.3 416.0h0M105.2 412.2h0M99.9 411.1h0M102.0 414.5h0M103.1 406.7h0M99.7 416.5h0M108.4 419.4h0M98.7 419.0h0M103.8 422.0h0M99.6 423.7h0M102.5 415.8h0M104.1 415.6h0M96.9 418.9h0M100.5 422.5h0M102.6 408.0h0M89.9 407.9h0M109.1 415.1h0M110.8 419.8h0M108.0 407.4h0M104.4 408.7h0M113.7 411.5h0M105.9 412.1h0M106.3 424.5h0M105.9 424.8h0M85.1 409.7h0M95.0 416.3h0M95.3 425.9h0M104.7 417.7h0M101.7 418.4h0M99.4 417.7h0M93.6 417.4h0M95.0 418.0h0M96.0 422.1h0M98.8 417.9h0M95.9 418.4h0M88.5 394.5h0M97.8 421.1h0M109.3 424.6h0M104.9 407.8h0M103.8 418.2h0M99.2 417.6h0" stroke="#c8463a" stroke-width="0.9" stroke-linecap="round" fill="none"/>
<ellipse cx="86.0" cy="383.0" rx="2.6" ry="3.4" fill="#fff" opacity="0.85"/>
<path d="M88.2 380.0h0M91.3 379.6h0M84.6 382.6h0M85.5 379.5h0M90.5 383.0h0M84.4 379.4h0M87.5 383.8h0M84.0 384.2h0M92.1 383.1h0M81.4 385.2h0M91.1 382.5h0M83.7 385.2h0M85.1 386.6h0M87.2 383.9h0M84.7 386.2h0M86.6 381.0h0M87.3 380.9h0M90.2 383.5h0M85.7 385.7h0M84.1 381.5h0M88.6 388.9h0M88.1 375.8h0M85.7 386.8h0M83.5 383.8h0M85.2 387.4h0M88.8 386.1h0M78.6 390.0h0M85.5 383.6h0M82.0 380.6h0M89.5 379.6h0M86.6 386.3h0M85.1 389.0h0M82.8 381.8h0M87.6 377.0h0M84.4 384.3h0M87.2 386.4h0M84.9 385.3h0M90.0 384.2h0M82.1 384.4h0M93.4 380.7h0M83.8 385.4h0M85.4 379.9h0M86.6 388.1h0M86.9 387.5h0M85.9 380.0h0M89.3 383.1h0M89.8 386.6h0M87.3 383.7h0M85.0 373.8h0M85.3 381.9h0M84.9 386.0h0M84.9 379.8h0M88.4 379.0h0M88.8 384.4h0M88.7 388.9h0M90.5 385.3h0M86.0 391.0h0M86.7 383.9h0M85.0 381.1h0M90.0 388.2h0M89.6 377.6h0M88.4 377.5h0M81.2 388.6h0M86.8 390.6h0M91.4 377.4h0M80.7 389.7h0M83.1 382.0h0M87.8 387.7h0M88.4 378.3h0M86.2 383.3h0" stroke="#fff" stroke-width="1.0" stroke-linecap="round" fill="none"/>
<path d="M89.7 381.4h0M89.3 386.9h0M86.0 382.3h0M89.4 388.6h0M83.0 377.2h0M85.8 385.0h0M85.1 378.1h0M84.1 385.3h0M83.3 386.5h0M86.7 382.7h0M80.7 376.7h0M86.0 384.5h0M87.9 388.0h0M86.1 382.7h0M87.1 387.7h0M85.3 387.7h0" stroke="#c8463a" stroke-width="0.8" stroke-linecap="round" fill="none"/>
<path d="M90.4 372.9h0M89.0 388.9h0M87.7 387.2h0M87.6 384.6h0M87.0 383.5h0M83.9 379.4h0M85.0 386.8h0M90.2 384.2h0" stroke="#3d86c6" stroke-width="0.8" stroke-linecap="round" fill="none"/>
<path d="M64.7 397.6L63.8 406.5L65.2 415.3L65.2 421.3L64.0 424.2L62.1 425.6L52.9 427.0L48.8 429.9L47.7 431.5L47.2 437.4L50.3 443.5L61.2 447.8L61.8 448.9L57.2 457.6L55.4 463.2L55.9 465.1L58.8 468.9L63.4 471.8L74.5 475.5L75.9 474.9L80.3 470.5L86.9 463.1L91.4 460.2L93.9 454.9L90.5 448.8L84.7 445.8L83.4 445.5L77.7 446.3L75.0 445.8L73.5 443.2L73.1 428.6L74.8 426.0L79.7 425.9L91.1 429.5L100.4 434.5L104.0 436.0L105.8 435.9L109.9 433.3L110.6 432.3L111.6 426.1L116.7 416.0L118.5 407.9L117.2 404.1L111.1 397.1L104.4 390.4L101.2 384.6L101.9 368.1L99.4 363.5L98.3 362.4L91.5 359.0L84.4 356.2L82.7 356.5L76.8 360.1L70.6 365.5L66.6 369.7L66.9 376.6L65.6 384.6L63.8 390.2L64.7 397.6Z" fill="none" stroke="#1c1c1c" stroke-width="1.1" stroke-linecap="round" stroke-dasharray="0.01 2.1"/>
<path d="M21.6 483.3V505.4H43.6" stroke="#111" stroke-width="1.35" fill="none"/>
<path d="M21.6 480.3L23.8 485.3L19.4 485.3Z" fill="#111"/>
<path d="M46.6 505.4L41.6 507.6L41.6 503.2Z" fill="#111"/>
<text x="17.3" y="493.8" text-anchor="middle" stroke="#1f1f1f" transform="rotate(-90 17.3 493.8)" stroke-width="0.16">UMAP 2</text>
<text x="34.6" y="515.6" text-anchor="middle" stroke="#1f1f1f" stroke-width="0.16">UMAP 1</text>
<text x="65.8" y="492.5" stroke="#1f1f1f" stroke-width="0.16">ZR</text>
<text x="65.8" y="501.9" stroke="#1f1f1f" stroke-width="0.16">target gene signal</text>
<circle cx="69.8" cy="511.1" r="2.8" fill="#c8463a"/>
<text x="77.3" y="513.2" stroke="#1f1f1f" stroke-width="0.16">High</text>
<circle cx="69.8" cy="520.6" r="2.8" fill="#3d86c6"/>
<text x="77.3" y="522.7" stroke="#1f1f1f" stroke-width="0.16">Middle</text>
<circle cx="69.8" cy="529.5" r="2.8" fill="#d5d9da"/>
<text x="77.3" y="531.6" stroke="#1f1f1f" stroke-width="0.16">Low</text>
<text x="168.9" y="333.3" font-size="11.2" font-weight="bold" fill="#000" stroke="#000" stroke-width="0.45">e</text>
<text x="253.6" y="336.5" text-anchor="middle" stroke="#1f1f1f" stroke-width="0.16">Dominant lineage</text>
<text x="253.6" y="345.9" text-anchor="middle" stroke="#1f1f1f" stroke-width="0.16">barcode</text>
<path d="M229.9 369.2L233.8 365.5L240.5 360.0L246.7 356.3L254.0 359.0L261.7 362.7L264.0 366.4L263.6 375.7L263.2 384.9L267.5 392.3L275.2 399.7L281.9 407.1L282.9 409.9L281.0 417.3L278.1 422.8L275.2 428.3L274.2 434.8L270.4 437.2L266.5 435.7L261.7 433.0L255.9 430.2L249.2 428.3L242.4 426.1L234.7 426.3L231.5 431.1L231.3 437.6L231.8 443.1L231.8 448.7L234.7 453.3L239.5 454.2L246.3 453.3L252.1 456.0L255.0 460.7L253.0 464.4L248.2 467.1L244.4 470.8L240.5 475.4L235.7 480.1L230.9 478.2L225.1 476.4L220.3 473.6L217.4 469.9L219.3 464.4L222.2 458.8L225.1 454.2L223.2 450.5L217.4 448.7L210.6 445.9L208.1 441.3L208.7 435.7L212.6 433.0L219.3 432.0L223.2 431.5L226.6 429.1L228.6 424.7L228.6 417.3L227.0 408.0L228.0 398.8L229.9 391.4L228.9 384.0L229.3 412.6L229.9 405.2L228.0 397.8L227.0 390.4L228.9 384.9L230.5 375.7Z" fill="#ebe6eb"/>
<path d="M230.0 389.9C232.1 387.0 237.6 387.3 241.7 387.2C245.7 387.0 250.5 387.9 254.2 389.0C258.0 390.0 261.1 391.8 264.1 393.4C267.1 395.1 269.3 396.6 272.2 398.8C275.0 401.1 279.3 404.4 281.1 406.9C282.9 409.4 283.2 411.5 282.9 414.1C282.6 416.6 280.4 419.3 279.3 422.2C278.3 425.0 278.0 429.0 276.6 431.1C275.3 433.2 273.4 434.4 271.3 434.7C269.2 435.0 266.6 434.1 264.1 432.9C261.5 431.7 258.8 429.0 256.0 427.5C253.2 426.0 250.0 424.8 247.0 424.0C244.0 423.1 240.8 423.4 238.1 422.2C235.4 421.0 232.4 419.8 230.9 416.8C229.4 413.8 229.2 408.7 229.1 404.2C228.9 399.7 227.9 392.7 230.0 389.9Z" fill="#b4589c" opacity="0.55"/>
<path d="M220.1 454.5C222.1 453.0 227.3 452.5 230.9 452.7C234.5 452.8 238.4 454.3 241.7 455.4C244.9 456.4 249.4 457.3 250.6 458.9C251.8 460.6 250.3 463.3 248.8 465.2C247.3 467.2 243.9 468.7 241.7 470.6C239.4 472.5 237.8 476.3 235.4 476.9C233.0 477.5 229.8 475.5 227.3 474.2C224.8 472.8 221.5 470.9 220.1 468.8C218.8 466.7 219.2 464.0 219.2 461.6C219.2 459.2 218.2 456.0 220.1 454.5Z" fill="#a83880" opacity="0.55"/>
<path d="M209.4 434.7C210.8 433.1 214.0 431.4 216.5 431.1C219.1 430.8 222.7 431.4 224.6 432.9C226.6 434.4 228.0 437.7 228.2 440.1C228.3 442.5 227.1 445.6 225.5 447.3C223.9 448.9 220.7 450.0 218.3 450.0C215.9 450.0 212.9 448.8 211.1 447.3C209.4 445.8 208.2 443.1 207.9 441.0C207.6 438.9 207.9 436.4 209.4 434.7Z" fill="#b868a8" opacity="0.5"/>
<path d="M230.9 368.3C232.5 365.5 236.6 361.7 239.9 360.3C243.1 358.8 247.6 358.6 250.6 359.4C253.6 360.1 256.3 362.0 257.8 364.7C259.3 367.4 259.9 371.9 259.6 375.5C259.3 379.1 258.7 384.2 256.0 386.3C253.3 388.4 247.3 387.9 243.4 388.1C239.6 388.2 234.9 389.0 232.7 387.2C230.4 385.4 230.3 380.4 230.0 377.3C229.7 374.2 229.2 371.2 230.9 368.3Z" fill="#a67fc0" opacity="0.4"/>
<path d="M247.6 371.7h0M254.4 360.7h0M249.1 362.5h0M230.3 386.7h0M231.6 384.5h0M239.1 394.3h0M242.6 421.1h0M243.1 360.0h0M241.5 369.1h0M238.1 365.0h0M252.0 370.0h0M249.7 363.8h0M261.6 412.6h0M240.0 363.8h0M235.7 371.3h0M247.0 380.2h0M255.0 366.9h0M252.1 405.6h0M248.4 363.6h0M253.9 373.8h0M245.2 396.7h0M236.6 385.2h0M242.0 366.8h0M251.8 402.2h0M236.2 376.2h0M237.1 372.4h0M239.3 369.6h0M239.8 379.0h0M245.1 407.6h0M230.6 387.8h0M253.8 411.4h0M262.5 422.6h0M263.6 401.1h0M253.6 361.3h0M241.4 372.7h0M252.5 363.9h0M257.0 399.6h0M252.4 362.7h0M245.5 377.9h0M245.6 377.7h0M247.5 365.7h0M238.4 371.4h0M238.5 377.4h0M249.9 365.6h0M245.8 373.7h0M251.9 378.6h0M244.8 367.2h0M239.3 376.8h0M240.2 404.1h0M236.2 419.0h0M238.0 387.6h0M259.5 384.6h0M245.3 357.5h0M248.7 364.2h0M238.3 382.5h0M245.8 363.6h0M244.8 386.3h0M229.6 402.6h0M241.2 369.0h0M232.7 384.4h0M241.0 384.1h0M236.8 387.2h0M250.8 359.1h0M231.0 373.4h0M243.2 362.3h0M234.5 370.4h0M238.9 374.4h0M236.5 373.7h0M244.0 385.4h0M241.2 365.6h0M235.4 417.6h0M244.1 383.5h0M237.0 366.7h0M230.4 387.7h0M260.4 408.8h0M275.3 415.2h0M255.4 387.7h0M250.0 376.5h0" stroke="#c8a8d8" stroke-width="1.56" stroke-linecap="round" fill="none"/>
<path d="M239.3 406.6h0M243.1 388.4h0M253.9 370.5h0M252.8 360.9h0M243.4 386.6h0M246.3 372.5h0M249.9 368.5h0M241.0 379.2h0M240.1 375.9h0M254.7 372.8h0M247.4 362.6h0M253.7 414.9h0M238.6 473.9h0M245.0 378.6h0M275.2 418.3h0M243.9 375.9h0M242.9 367.5h0M232.2 368.4h0M245.2 392.7h0M249.1 378.5h0M249.0 362.5h0M246.7 370.6h0M237.2 365.9h0M238.9 374.9h0M239.4 379.2h0M244.1 364.9h0M249.7 372.5h0M241.6 389.8h0M250.9 371.3h0M252.1 428.5h0M247.8 372.8h0M261.5 369.7h0M243.3 379.9h0M265.4 414.4h0M248.3 373.8h0M243.6 359.3h0M246.2 373.4h0M264.1 431.9h0M264.5 417.3h0M253.8 370.8h0M252.1 410.4h0M250.8 383.3h0M244.3 362.6h0M235.3 372.0h0M235.1 373.1h0M232.1 463.1h0M245.7 379.6h0M240.0 382.0h0M247.9 374.6h0M241.3 455.1h0M248.7 372.9h0M242.5 384.4h0M246.4 365.7h0M238.2 393.2h0M244.3 374.4h0M236.8 373.3h0M266.9 413.5h0M245.8 467.8h0M241.8 421.6h0M240.7 413.1h0M263.9 409.7h0M263.4 376.4h0M239.4 377.9h0M250.2 376.2h0M251.5 368.3h0M240.1 380.9h0M244.8 415.2h0M252.2 379.7h0M249.6 404.0h0M240.0 368.5h0M268.7 399.6h0M240.0 369.3h0M249.5 376.1h0M241.2 377.5h0M250.5 377.0h0M248.4 358.9h0M243.6 417.0h0M265.6 416.8h0M272.0 405.7h0M246.3 359.4h0M238.0 377.4h0M242.6 374.0h0M249.2 378.7h0M241.5 408.2h0M242.4 386.7h0M238.7 371.4h0M252.5 381.5h0M250.2 382.7h0M248.2 405.9h0M253.0 376.2h0M239.3 382.3h0M250.6 383.1h0M237.5 365.4h0M245.4 371.6h0M242.2 376.6h0M244.4 359.4h0M249.3 418.0h0M238.8 379.6h0M243.1 382.0h0M235.2 374.0h0M258.3 409.4h0M248.0 382.5h0M265.5 415.0h0M261.5 414.2h0M237.6 394.8h0M265.3 411.6h0M240.0 398.0h0M247.3 418.6h0M235.7 368.4h0M239.3 375.1h0M254.2 376.8h0M255.6 368.5h0M248.1 367.5h0M238.5 367.3h0M250.7 382.9h0M247.7 361.6h0M237.2 378.8h0M241.5 369.9h0M242.9 362.0h0M254.5 372.9h0M249.7 367.2h0M228.0 474.1h0M259.1 379.5h0M262.7 366.6h0M259.1 373.9h0M242.7 368.2h0M237.1 373.2h0M234.3 383.6h0M230.9 454.8h0M242.9 404.7h0M255.0 382.2h0M233.2 395.4h0M266.5 412.4h0M233.0 468.5h0M252.5 379.9h0M244.2 376.7h0M234.6 376.2h0M248.2 375.7h0M252.0 388.2h0M249.9 362.3h0M232.9 377.6h0M258.5 397.9h0M255.4 382.1h0M249.4 366.8h0M236.6 376.0h0M241.6 362.6h0M250.1 373.6h0M255.0 374.6h0M253.9 364.6h0M239.8 421.5h0M241.0 361.5h0M240.6 375.1h0" stroke="#8848a8" stroke-width="1.56" stroke-linecap="round" fill="none"/>
<path d="M219.0 438.9h0M213.1 434.9h0M264.0 422.3h0M221.7 441.8h0M215.3 438.4h0M241.5 410.3h0M263.1 401.0h0M256.3 406.4h0M247.1 408.2h0M225.4 452.1h0M263.0 408.3h0M243.9 406.3h0M242.4 462.5h0M268.8 419.5h0M231.1 403.3h0M232.5 380.9h0M237.7 467.6h0M232.1 405.9h0M248.2 403.7h0M219.1 436.3h0M236.6 363.5h0M249.7 406.6h0M266.9 424.4h0M212.2 437.1h0M227.4 428.2h0M253.1 393.2h0M249.3 386.5h0M250.0 394.3h0M218.9 465.6h0M224.0 445.1h0M239.1 387.6h0M247.1 417.0h0M218.7 433.3h0M222.5 438.2h0M250.5 417.8h0M228.4 448.0h0M255.3 414.3h0M226.7 449.7h0M225.7 444.1h0M260.8 411.3h0M235.1 407.6h0M229.0 468.6h0M267.9 430.1h0M256.2 368.1h0M236.3 403.0h0M251.2 409.4h0M244.4 377.5h0M229.6 441.7h0M236.1 471.7h0M237.6 390.1h0M266.8 402.5h0M268.1 403.2h0M216.0 438.9h0M239.6 465.0h0M224.8 435.3h0M260.8 399.3h0M233.5 463.0h0M216.5 441.1h0M227.1 440.1h0M255.1 407.7h0M224.0 435.3h0M262.1 392.2h0M235.8 403.6h0M262.2 410.8h0M229.5 444.2h0M261.5 421.5h0M213.7 437.8h0M217.1 441.2h0M247.3 403.7h0M214.6 434.9h0M223.0 438.5h0M254.4 381.4h0M220.1 443.4h0M217.1 437.0h0M222.1 437.3h0M224.9 443.4h0M218.2 442.2h0M254.4 423.3h0M217.1 432.4h0M226.0 450.8h0M236.1 386.7h0M234.4 409.0h0M218.4 435.8h0M236.8 402.8h0M218.2 438.2h0M272.3 423.9h0M219.1 447.7h0M266.7 408.4h0M251.7 414.7h0M261.5 424.3h0M245.0 470.2h0M259.8 427.7h0M254.6 393.4h0M224.4 474.8h0M226.3 438.1h0M238.4 386.4h0M262.2 428.7h0M220.4 434.3h0M217.4 442.2h0M275.4 424.2h0M271.8 425.7h0M235.6 389.8h0M226.0 446.8h0M267.1 420.9h0M255.9 421.8h0M223.4 441.2h0M238.3 412.5h0M221.7 435.7h0M236.7 473.4h0M246.5 457.8h0M250.1 405.1h0M241.2 417.6h0M252.1 398.1h0M232.0 382.5h0M270.0 423.2h0M242.9 418.8h0M232.3 404.4h0M258.4 386.2h0M261.2 416.0h0M242.3 410.6h0M245.9 413.6h0M217.6 442.3h0M242.9 394.7h0M254.6 416.0h0M249.9 419.4h0M260.8 427.8h0M244.4 394.3h0M255.0 369.4h0M267.5 432.0h0M219.4 437.7h0M216.7 446.2h0M253.5 393.2h0M250.4 402.6h0M212.3 443.6h0M236.9 386.8h0M218.2 439.2h0M249.7 402.2h0M265.1 423.2h0M269.7 427.2h0M220.4 468.4h0M260.6 398.5h0M250.7 412.7h0M222.6 434.0h0M260.6 370.7h0M216.7 436.6h0M243.3 405.7h0M248.8 415.2h0M239.4 425.9h0M223.9 450.9h0M229.5 383.4h0M274.3 416.2h0M221.2 434.7h0M231.5 415.0h0M224.7 465.8h0M257.1 405.2h0M233.1 453.9h0M222.5 438.9h0M222.4 461.3h0M223.6 436.3h0M218.7 434.2h0M241.6 397.9h0M252.4 395.9h0M258.2 393.1h0M262.3 428.7h0M264.7 429.9h0M222.0 442.1h0M213.2 440.3h0M246.4 417.2h0M235.8 381.8h0M257.6 381.6h0M258.3 427.9h0M247.6 405.8h0M253.7 407.3h0M276.0 413.3h0M219.6 440.6h0M259.6 416.9h0M263.7 433.3h0M252.2 386.6h0M269.6 402.5h0M261.8 409.5h0M217.5 445.0h0M259.3 425.4h0M247.8 407.2h0M259.5 424.0h0M248.0 401.5h0M243.4 406.4h0M227.0 463.8h0M225.1 431.1h0M216.2 437.6h0M215.0 443.2h0M246.0 396.8h0M234.8 467.6h0M236.3 399.9h0M259.3 384.4h0M254.8 427.4h0M258.2 427.6h0M249.2 400.2h0M255.8 409.8h0M223.6 442.5h0M225.3 436.7h0M227.4 436.3h0M269.7 395.2h0M262.4 403.3h0M221.4 436.3h0M261.6 432.3h0M223.4 438.3h0M224.7 474.7h0M220.7 442.0h0M264.3 430.3h0M228.3 399.9h0M268.0 420.7h0M266.5 413.7h0M239.8 395.4h0M227.9 477.2h0M216.4 437.7h0M229.2 442.5h0M259.5 424.7h0M265.9 433.6h0M248.0 394.4h0M269.4 427.3h0M265.2 411.4h0M216.0 445.8h0M219.1 448.2h0M221.7 435.1h0M236.0 388.2h0M221.2 438.8h0M261.8 420.0h0M265.4 412.0h0M224.2 452.1h0M220.8 440.4h0M213.4 435.3h0M253.5 396.5h0M217.0 438.9h0M262.3 388.7h0M217.4 446.9h0M248.4 403.5h0M256.8 403.5h0M244.8 395.7h0M240.2 469.0h0M231.4 452.8h0M228.3 432.9h0M259.5 406.2h0M219.1 438.0h0M259.9 429.1h0M272.3 420.7h0M240.8 465.5h0M215.0 433.0h0M257.2 412.4h0M237.8 471.0h0M267.7 429.0h0M259.0 430.4h0M219.9 443.1h0M268.5 432.3h0M224.1 446.6h0M233.7 475.8h0M256.3 392.1h0M256.6 406.9h0M256.6 383.8h0M223.4 444.9h0M240.3 461.0h0M241.5 384.5h0M239.6 468.2h0M228.9 418.5h0M253.8 404.1h0M245.1 397.5h0M264.6 419.0h0M255.6 429.2h0M220.5 434.7h0M264.2 413.3h0M222.9 438.4h0M254.7 376.0h0M257.3 395.1h0M249.1 379.2h0M235.3 413.9h0M255.9 370.9h0M232.5 416.6h0M254.6 392.4h0M257.2 414.6h0M261.1 410.4h0M235.7 414.9h0M223.2 444.4h0M255.3 401.3h0M223.4 471.2h0M219.6 444.9h0M241.6 391.9h0M275.5 422.4h0M216.7 436.8h0M252.5 407.2h0M245.3 411.1h0M220.9 435.8h0M268.2 396.9h0M263.1 402.7h0M250.1 423.3h0M245.2 385.0h0M259.9 390.9h0M227.9 465.3h0M237.4 402.3h0M235.3 386.6h0M223.7 441.3h0M251.1 380.4h0M248.0 409.9h0M224.4 449.8h0M248.8 421.0h0M265.7 397.3h0M260.1 405.2h0M217.8 436.7h0M264.7 423.8h0M216.2 436.9h0M236.9 390.4h0M253.5 415.3h0M247.8 409.6h0M264.9 411.3h0M222.6 474.8h0M250.7 408.5h0M237.3 388.5h0M277.8 409.3h0M256.7 393.1h0M220.0 445.9h0M260.5 415.2h0M229.4 397.8h0M215.4 444.0h0M235.5 459.9h0M248.7 386.7h0M250.9 377.1h0M258.2 419.5h0M269.2 419.3h0M213.7 437.9h0M270.3 399.9h0M251.0 374.5h0M257.3 427.4h0M255.5 410.2h0M229.5 426.0h0M253.6 408.6h0M268.3 415.2h0M248.9 400.6h0M245.4 391.6h0M249.7 402.8h0M261.5 392.8h0M222.7 439.8h0M255.1 404.8h0M246.8 409.5h0M250.7 412.5h0M248.8 396.4h0M257.1 393.2h0M247.6 406.4h0M226.8 445.2h0M241.7 394.4h0M221.3 435.7h0M218.7 444.7h0M233.4 397.5h0M246.3 408.7h0M223.9 445.0h0M262.5 431.7h0M264.1 408.3h0M258.7 421.0h0M227.1 435.8h0M250.4 408.2h0M240.4 400.9h0M245.1 467.5h0M216.2 440.3h0M265.8 415.6h0M231.5 463.3h0M235.9 467.2h0M261.6 402.7h0M232.7 414.5h0M241.7 408.9h0M241.1 460.8h0M235.7 400.4h0M251.2 406.4h0M223.8 447.8h0M256.2 374.2h0M223.4 448.5h0M245.2 416.5h0M222.2 442.8h0M275.5 423.4h0M224.5 431.2h0M242.5 409.5h0M218.1 438.5h0M242.7 412.2h0M232.4 473.1h0M249.4 454.9h0M239.9 387.0h0M265.5 424.7h0M212.8 441.1h0M238.6 464.7h0M254.1 376.3h0M262.1 401.8h0M272.0 419.5h0M213.4 439.1h0M267.5 422.9h0M245.5 422.9h0M221.8 437.5h0M247.3 421.9h0M235.0 396.0h0M211.2 441.2h0M262.5 427.2h0M238.9 402.1h0M219.0 444.9h0M249.1 403.0h0M249.5 399.9h0M268.9 424.2h0M271.6 424.6h0M267.0 425.8h0M244.5 412.9h0M259.0 403.1h0M241.0 404.6h0M272.3 424.2h0M215.9 432.9h0M257.3 378.4h0M228.7 437.3h0M235.8 398.9h0M238.6 387.1h0M221.6 445.4h0M248.8 409.5h0M247.4 423.2h0M224.9 449.3h0M247.2 455.9h0M271.6 434.1h0M224.5 435.5h0M236.8 423.7h0M232.7 408.7h0M216.0 444.2h0M229.4 436.9h0M244.1 413.4h0M252.0 381.9h0M221.4 438.1h0M267.8 417.0h0M225.2 448.3h0M217.4 447.3h0M260.8 430.6h0M267.9 427.8h0M235.9 394.0h0M220.0 442.7h0M265.2 425.2h0M232.8 379.1h0M224.6 436.7h0M247.2 386.7h0M216.1 439.6h0M254.4 409.5h0M209.5 435.2h0M252.2 398.7h0M226.0 435.8h0M224.6 436.0h0M220.1 469.2h0M240.2 387.8h0M241.5 405.0h0M259.3 403.4h0M253.1 413.7h0M220.2 440.5h0M270.8 396.0h0M263.2 425.0h0M242.7 393.9h0M236.0 412.0h0M225.3 442.8h0M219.2 433.8h0M253.0 372.2h0M217.5 437.8h0M241.0 408.7h0M271.5 424.1h0M251.4 402.2h0" stroke="#b854a8" stroke-width="1.56" stroke-linecap="round" fill="none"/>
<path d="M263.9 401.9h0M234.5 402.5h0M233.5 414.9h0M215.8 442.2h0M247.3 462.3h0M274.4 410.2h0M227.8 461.5h0M262.0 386.3h0M238.1 466.3h0M266.3 415.3h0M237.0 401.9h0M250.7 460.7h0M257.6 410.8h0M232.2 395.7h0M243.9 463.9h0M218.3 468.5h0M240.8 475.0h0M259.1 420.9h0M227.6 429.2h0M227.4 456.5h0M245.9 412.3h0M238.7 463.3h0M245.3 400.0h0M266.5 402.4h0M226.8 460.4h0M259.6 392.0h0M272.4 408.5h0M263.3 407.0h0M234.3 401.5h0M273.8 403.8h0M213.3 444.5h0M245.9 458.1h0M234.8 478.4h0M232.8 464.9h0M240.1 390.2h0M267.7 408.9h0M239.0 400.3h0M252.5 398.6h0M242.6 392.4h0M251.4 426.4h0M247.9 384.6h0M228.8 467.8h0M220.0 472.1h0M230.6 457.5h0M250.9 456.5h0M267.5 404.5h0M258.8 402.3h0M251.6 422.7h0M247.0 385.5h0M232.0 407.1h0M239.2 461.8h0M237.8 466.8h0M261.8 416.7h0M245.0 424.5h0M251.4 462.1h0M249.4 461.8h0M232.3 461.7h0M258.0 407.7h0M239.3 468.4h0M234.5 464.7h0M245.0 383.8h0M237.2 402.3h0M240.7 393.4h0M236.4 464.4h0M231.9 462.0h0M273.0 411.0h0M271.7 406.1h0M231.1 466.4h0M221.7 433.2h0M259.5 412.4h0M255.7 386.2h0M228.1 460.8h0M236.5 464.1h0M246.9 389.7h0M247.3 391.2h0M242.6 466.5h0M245.4 463.9h0M260.9 414.5h0M254.1 414.5h0M252.9 394.1h0M237.2 415.6h0M244.3 399.5h0M225.3 472.1h0M270.3 420.6h0M239.1 464.1h0M229.4 414.0h0M247.0 419.9h0M228.1 407.2h0M256.6 414.3h0M214.9 443.4h0M257.3 397.4h0M235.8 465.2h0M256.9 406.4h0M230.8 469.7h0M260.9 406.0h0M224.6 475.5h0M257.2 410.1h0M232.8 394.9h0M237.4 472.8h0M233.2 413.6h0M248.1 389.1h0M247.2 423.9h0M261.4 425.8h0M244.8 395.7h0M250.5 393.2h0M250.1 455.5h0M233.6 402.7h0M237.9 382.0h0M259.3 404.0h0M271.8 412.8h0M233.3 467.2h0M228.3 397.4h0M265.7 410.1h0M245.6 400.2h0M267.4 417.2h0M249.9 401.1h0M239.3 416.1h0M248.9 423.0h0M230.3 462.9h0M230.8 470.9h0M227.8 471.5h0M247.6 416.9h0M252.0 395.9h0M257.5 414.6h0M237.0 420.6h0M251.1 409.7h0M248.3 459.2h0M268.4 406.7h0M241.6 472.0h0M244.7 466.5h0M246.1 461.2h0M240.0 464.3h0M237.9 471.5h0M243.0 417.0h0M243.3 407.8h0M257.4 390.7h0M236.6 400.8h0M258.7 416.3h0M252.7 393.2h0M250.6 384.5h0M256.0 429.3h0M238.2 464.9h0M260.7 404.7h0M237.6 392.9h0M270.6 435.9h0M250.3 405.3h0M242.2 415.5h0M248.7 404.4h0M240.2 465.0h0M247.4 416.1h0M255.7 413.0h0M249.6 412.1h0M243.1 390.5h0M251.7 405.4h0M245.3 399.8h0M237.4 474.2h0M255.4 384.7h0M256.0 411.9h0M245.0 404.9h0M278.6 414.6h0M232.0 394.4h0M240.4 423.1h0M274.1 411.2h0M270.5 401.5h0M249.9 388.0h0M258.6 413.3h0M240.5 419.0h0M245.1 463.6h0M261.1 395.2h0M254.8 411.9h0M261.1 398.3h0M259.1 381.6h0M241.1 393.4h0M258.1 401.1h0M237.0 468.1h0M258.3 408.0h0M223.7 464.3h0M273.3 425.7h0M236.3 457.9h0M231.8 455.6h0M224.6 444.5h0M226.6 446.2h0M255.4 406.1h0M246.9 410.1h0M263.6 394.7h0M242.5 415.8h0M215.3 433.8h0M255.6 393.1h0M252.2 397.8h0M229.7 462.9h0M249.1 393.2h0M224.0 467.0h0M249.6 407.5h0M255.9 414.9h0M272.6 407.5h0M217.9 468.9h0M262.6 414.9h0M258.1 406.2h0M263.0 391.4h0M248.7 409.9h0M232.3 409.1h0M254.5 420.8h0M229.4 475.2h0M274.1 417.7h0M234.5 426.3h0M246.6 419.5h0M226.8 460.9h0M254.3 423.7h0M272.7 427.3h0M273.4 418.4h0M246.0 407.1h0M266.4 417.4h0M241.5 466.7h0M253.3 392.8h0M240.3 388.6h0M236.0 460.3h0M265.6 407.5h0M238.5 394.1h0M257.9 394.8h0M246.6 458.7h0M265.2 410.5h0M238.2 465.2h0M259.6 408.9h0M226.1 473.0h0M241.1 386.9h0M253.7 412.2h0M233.7 400.3h0M240.4 401.7h0M255.6 400.9h0M244.0 390.5h0M238.1 395.3h0M248.0 398.9h0M251.7 395.7h0M257.1 400.9h0M273.7 399.8h0M233.5 425.8h0M265.3 407.0h0M250.8 403.2h0M244.6 469.9h0M230.4 461.1h0M245.1 396.4h0M219.6 444.0h0M244.0 403.2h0M271.8 425.5h0M221.4 461.9h0M257.0 397.1h0M226.6 463.9h0M255.6 394.3h0M272.6 405.0h0M253.0 421.6h0M248.0 405.4h0M260.5 425.0h0M244.9 400.4h0M255.8 414.5h0M232.0 399.1h0M239.2 399.7h0M242.3 418.9h0M232.7 460.1h0M232.2 456.7h0M263.5 410.2h0M227.0 465.7h0M241.9 467.9h0M264.3 415.5h0M232.3 402.0h0M228.8 471.4h0M272.4 410.3h0M242.7 412.7h0M260.2 398.6h0M209.7 442.8h0M227.8 472.9h0M212.5 445.7h0M266.2 398.8h0M234.9 406.5h0M248.5 459.5h0M230.9 403.8h0M246.8 461.1h0M227.7 394.6h0M240.2 403.2h0M252.9 411.1h0M246.4 417.5h0M214.3 446.0h0M268.0 407.1h0M236.6 471.6h0M242.9 398.4h0M261.7 418.2h0M260.3 422.5h0M249.5 399.3h0M260.3 410.8h0M257.0 399.2h0M241.8 401.4h0M255.2 395.3h0M258.7 416.0h0M243.1 389.5h0M259.0 415.9h0M230.6 394.4h0M237.3 464.3h0M245.4 413.2h0M220.2 438.3h0M224.7 459.0h0M249.8 385.6h0M253.1 394.4h0M236.6 421.9h0M231.6 399.0h0M275.3 411.3h0M243.0 462.8h0M228.9 460.0h0M241.3 418.2h0M256.6 412.6h0M241.1 398.5h0M273.0 401.4h0M244.3 460.5h0M225.9 469.0h0M249.2 416.2h0M250.7 412.9h0M268.5 407.2h0M219.5 467.6h0M270.0 410.0h0M241.6 407.1h0M210.7 443.6h0M237.8 384.4h0M241.5 396.9h0M257.1 413.4h0M247.8 387.9h0M252.0 415.3h0M249.5 461.7h0M253.6 392.4h0M237.4 407.9h0M239.6 465.5h0M242.6 401.7h0M247.9 405.7h0M224.9 464.6h0M238.7 470.0h0M244.9 418.6h0M250.8 414.4h0M245.4 422.2h0M261.0 391.0h0M212.0 440.2h0M222.1 468.4h0M225.4 442.5h0M211.3 440.1h0M265.6 409.9h0M213.5 438.1h0M233.2 401.6h0M239.9 393.8h0M262.0 428.0h0M263.8 404.9h0M245.6 394.3h0M221.0 461.3h0M232.9 473.9h0M235.7 471.8h0M224.8 455.0h0M248.1 396.9h0M266.3 411.2h0M243.2 410.7h0M263.5 404.4h0M242.1 387.4h0M214.2 440.3h0M254.2 411.3h0M248.3 406.6h0M271.3 416.7h0M237.3 400.8h0M238.3 398.6h0M245.3 407.8h0M256.3 403.1h0M245.9 402.0h0M224.8 439.3h0M257.6 390.9h0M234.3 457.2h0M248.5 397.8h0M246.0 393.3h0M245.2 402.7h0M238.2 471.8h0M227.3 469.5h0M244.2 398.7h0M264.6 390.0h0M216.5 441.3h0M242.8 402.6h0M255.5 405.9h0M243.5 403.2h0M248.3 397.3h0M234.7 463.3h0M243.7 411.1h0M250.7 424.8h0M227.8 467.5h0M225.7 471.5h0M239.5 468.9h0M260.4 416.1h0M237.2 463.1h0M248.1 416.6h0M247.3 398.2h0M231.1 404.9h0M244.6 411.8h0M257.6 417.2h0M254.6 418.1h0M228.9 438.0h0M253.7 418.6h0M225.1 430.4h0M234.3 402.1h0M243.6 403.9h0M263.1 419.2h0M241.0 423.1h0M249.1 460.2h0M233.0 397.5h0M250.2 411.3h0M227.0 462.8h0M246.6 412.1h0M252.4 417.3h0M271.5 413.2h0M226.6 474.8h0M239.1 405.5h0M252.3 397.0h0M223.4 466.1h0M267.6 401.6h0M267.6 429.7h0M244.0 397.7h0M261.6 416.5h0M235.3 394.6h0M275.6 401.6h0M252.3 408.1h0M251.6 400.1h0M227.6 464.2h0M247.2 387.6h0M253.1 425.4h0M276.7 408.4h0M259.3 388.0h0M241.4 404.9h0M251.0 403.5h0M260.0 408.5h0M229.8 393.5h0M265.7 406.1h0M241.8 404.6h0M229.0 473.9h0M234.6 413.2h0M252.7 462.7h0M229.3 401.5h0M235.0 464.4h0M266.5 430.7h0M237.1 402.7h0M236.8 455.9h0M239.9 465.2h0M264.1 401.1h0M239.8 463.3h0M258.3 429.8h0M253.6 409.5h0M266.7 396.0h0M229.4 396.4h0M267.0 400.2h0M230.2 462.5h0M253.1 407.7h0M226.5 446.2h0M239.2 402.9h0M267.1 396.1h0M259.4 382.9h0M220.4 436.0h0M248.0 407.8h0M244.6 457.1h0M248.9 410.4h0M246.3 404.8h0M254.6 408.8h0M269.1 405.6h0M229.4 468.1h0M243.5 397.3h0M238.5 454.6h0M232.9 467.0h0M262.7 406.6h0M254.8 419.8h0M239.1 466.1h0M225.1 459.7h0M250.4 392.4h0M247.3 394.6h0M246.8 466.0h0M275.1 406.5h0M244.2 401.4h0M234.6 465.0h0M229.0 412.6h0M229.2 458.2h0M259.6 401.2h0M262.8 378.7h0M270.1 424.2h0M252.5 389.5h0M233.9 406.5h0M264.5 410.9h0M253.1 420.9h0M248.3 397.4h0M266.4 409.2h0M268.4 429.4h0M238.4 471.0h0M238.8 392.8h0M249.3 387.9h0M235.9 394.2h0M259.5 395.7h0M264.4 415.9h0M259.5 409.9h0M248.1 414.6h0M255.2 412.2h0M253.4 391.6h0M247.1 401.0h0M231.3 464.8h0M217.9 440.6h0M222.4 465.8h0M219.0 448.1h0M253.6 413.9h0M237.8 383.0h0M267.3 396.1h0M260.6 404.8h0M242.7 463.0h0M271.0 411.4h0M263.3 396.8h0M272.3 401.6h0M242.2 413.5h0M250.8 400.0h0M268.6 402.3h0M239.4 410.3h0M236.9 474.2h0M234.0 401.7h0M235.0 401.0h0" stroke="#a01868" stroke-width="1.56" stroke-linecap="round" fill="none"/>
<path d="M230.4 470.0h0M224.9 469.5h0M239.3 411.6h0M234.7 466.2h0M255.8 392.6h0M252.7 457.4h0M257.7 396.1h0M255.1 408.2h0M265.6 394.0h0M258.4 419.4h0M221.8 465.8h0M242.2 417.5h0M256.8 411.2h0M249.5 407.4h0M238.7 406.3h0M234.3 460.1h0M247.1 464.8h0M259.1 418.9h0M253.6 381.9h0M211.4 437.8h0M267.1 416.6h0M246.8 404.9h0M269.3 411.8h0M243.6 464.2h0M269.1 405.6h0M210.3 445.0h0M252.2 388.5h0M247.7 393.8h0M251.6 414.6h0M242.7 400.1h0M256.6 376.2h0M237.9 404.7h0M251.6 418.0h0M233.3 468.8h0M245.1 458.1h0M262.0 400.4h0M261.0 400.4h0M243.7 456.0h0M267.8 416.9h0M234.7 408.4h0M244.6 398.8h0M240.8 408.2h0M266.5 406.3h0M253.5 401.5h0M238.5 413.1h0M255.6 410.5h0M249.3 416.3h0M247.5 412.1h0M252.9 402.8h0M234.4 416.2h0M260.4 396.7h0M214.3 438.2h0M262.2 407.7h0M269.6 397.6h0M254.0 418.9h0M247.1 412.2h0M275.5 411.5h0M247.1 382.6h0M230.4 410.5h0M243.2 460.8h0M266.1 395.5h0M252.6 408.1h0M241.2 469.3h0M231.5 399.4h0M274.5 417.5h0M243.8 412.3h0M232.5 379.2h0M254.0 386.7h0M250.9 419.5h0M220.8 438.2h0M229.8 409.1h0M252.1 426.5h0M277.6 418.6h0M247.5 402.1h0M224.4 460.2h0M253.4 407.2h0M253.2 395.0h0M262.1 413.2h0M244.6 464.1h0M241.3 405.1h0M267.4 410.5h0M270.1 400.9h0M237.6 419.7h0M238.1 468.7h0M245.3 415.3h0M237.0 454.0h0M240.2 474.3h0M248.0 421.8h0M256.9 392.5h0M256.4 423.9h0M268.9 410.4h0M269.9 402.9h0M262.1 401.0h0M216.7 437.2h0M242.0 393.1h0M241.1 463.4h0M247.4 400.4h0M267.0 406.9h0M241.2 458.7h0M253.6 408.3h0M236.0 407.5h0M237.6 476.0h0M233.5 462.3h0M257.1 409.2h0M225.8 463.6h0M267.9 399.7h0M256.5 401.4h0M242.7 408.6h0M273.5 405.8h0M242.9 403.2h0M262.8 405.1h0M258.5 418.9h0M231.6 425.1h0M215.2 435.9h0M258.9 385.3h0M238.6 462.7h0M268.6 394.6h0M268.2 403.6h0M243.2 388.7h0M251.4 411.8h0M260.0 402.9h0M260.4 396.8h0M241.8 422.8h0M258.9 420.6h0M266.4 414.4h0M239.4 466.6h0M243.9 398.4h0M230.5 457.0h0M268.7 433.0h0M238.6 467.0h0M234.8 461.5h0M230.8 472.4h0M233.4 411.6h0M276.1 406.4h0M242.1 383.8h0M248.4 386.3h0M234.9 470.3h0M212.9 434.9h0M250.4 402.9h0M248.4 401.9h0" stroke="#6cc4a8" stroke-width="1.56" stroke-linecap="round" fill="none"/>
<path d="M275.9 403.5h0M237.2 462.2h0M257.2 418.9h0M243.1 471.0h0M272.2 416.7h0M246.3 418.9h0M237.8 423.1h0M242.2 377.9h0M247.2 392.4h0M238.8 465.2h0M241.7 399.1h0M253.9 405.2h0M239.8 467.8h0M254.1 406.6h0M240.4 461.7h0M252.0 408.4h0M249.6 392.7h0M246.7 393.6h0M261.2 429.9h0M219.7 441.8h0M261.3 405.3h0M250.7 401.9h0M258.0 402.3h0M222.4 442.2h0M273.4 426.6h0M229.9 463.1h0M256.6 402.8h0M249.4 384.2h0M253.7 390.3h0M256.4 406.4h0M256.6 413.8h0M223.5 433.8h0M224.4 441.1h0M243.5 411.1h0M229.5 465.9h0M256.1 393.7h0M240.6 395.4h0M239.0 385.8h0M234.2 400.7h0M258.3 417.8h0M248.9 375.6h0M250.3 415.1h0M231.3 463.3h0M265.2 398.2h0M257.9 400.5h0M256.3 414.8h0M237.1 468.9h0M263.7 407.7h0M246.1 416.7h0M213.0 445.9h0M237.8 456.5h0M253.3 414.5h0M232.9 428.7h0M237.1 456.4h0M235.7 468.5h0M267.2 396.7h0M244.3 408.0h0M228.4 468.2h0M252.7 393.9h0M224.5 470.4h0M250.9 398.7h0M251.6 384.8h0M224.5 459.2h0M261.7 431.0h0M253.7 403.2h0M235.3 467.3h0M247.6 464.8h0M229.8 475.1h0M263.7 395.6h0M234.1 415.4h0M263.4 397.3h0M262.5 433.0h0M272.9 409.3h0M245.7 410.7h0M234.6 406.0h0M244.5 458.5h0M246.3 409.0h0M237.8 461.3h0M248.8 399.0h0M250.3 426.9h0M257.1 407.4h0M281.1 415.1h0M261.7 410.3h0M256.4 391.9h0M245.2 422.4h0M257.7 428.2h0M264.5 404.7h0M257.7 427.8h0M262.6 416.7h0M255.7 392.0h0M255.7 414.6h0M240.9 413.3h0M230.2 478.0h0M230.3 463.6h0M260.6 407.6h0M246.3 401.4h0M247.4 412.7h0M261.2 380.1h0M226.0 464.4h0M258.0 414.0h0M232.4 468.6h0M228.8 396.0h0M250.9 390.6h0M259.7 401.5h0M261.2 412.3h0M264.9 424.5h0M262.5 408.3h0M236.7 419.7h0M262.3 405.8h0M235.6 403.4h0M240.2 466.9h0M235.8 466.5h0M234.6 466.5h0M252.9 403.3h0M274.5 410.8h0M260.3 388.7h0M234.4 395.9h0M250.3 399.1h0M266.9 391.9h0M243.9 467.8h0M237.3 392.4h0M275.3 426.8h0M231.0 406.6h0M252.8 419.7h0M217.0 434.2h0M249.6 409.3h0M230.9 404.4h0M247.8 410.1h0M272.6 403.2h0M242.8 397.0h0M236.5 401.6h0M258.2 398.9h0M261.9 398.2h0M236.1 464.8h0M257.1 409.2h0M236.8 397.5h0M274.4 405.1h0M259.5 398.9h0M243.0 400.9h0" stroke="#40c0e8" stroke-width="1.56" stroke-linecap="round" fill="none"/>
<path d="M278.1 409.5h0M252.4 391.1h0M251.4 406.9h0M280.1 412.0h0M240.5 408.3h0M272.2 412.0h0M273.3 408.7h0M268.1 403.3h0M272.6 407.1h0M280.1 409.9h0M274.5 411.2h0M268.3 406.3h0M275.7 423.4h0M272.8 423.1h0M262.6 430.0h0M270.8 402.4h0M276.2 422.8h0M243.2 404.8h0M258.9 420.1h0M250.4 404.0h0M253.0 405.6h0M260.3 419.4h0M257.1 368.1h0M239.0 392.3h0M260.1 431.7h0M272.5 403.7h0M229.7 402.7h0M242.3 382.4h0M272.8 408.6h0M269.4 407.0h0M265.5 421.2h0M250.8 413.1h0M275.0 400.4h0M241.2 398.5h0M274.5 418.4h0M270.8 410.6h0M262.1 400.7h0M243.2 408.6h0M232.5 400.9h0M244.7 409.7h0M243.9 393.3h0M280.5 409.1h0M272.5 418.9h0M249.2 415.4h0M275.8 417.1h0M279.0 419.7h0M254.7 423.6h0M244.2 415.7h0M272.4 417.4h0M256.9 398.4h0M263.3 400.8h0M266.0 399.9h0M248.5 394.5h0M261.3 408.8h0M249.5 401.2h0M277.0 412.0h0M222.4 435.4h0M248.2 414.0h0M274.3 407.1h0M276.0 400.8h0M265.7 415.2h0M266.8 425.6h0M247.0 411.2h0M264.3 391.7h0M252.8 419.3h0M234.7 408.4h0M274.9 421.5h0M274.6 408.1h0M277.9 412.1h0M276.6 403.5h0M271.0 397.3h0M266.5 412.7h0M256.7 414.0h0M268.7 399.6h0M251.4 376.8h0M252.5 394.0h0M244.7 399.4h0M249.4 392.2h0M262.1 407.9h0M237.4 376.7h0M268.6 427.3h0M230.7 415.9h0M259.0 374.9h0M273.5 409.5h0M244.6 386.2h0M238.7 404.3h0M257.1 402.6h0M260.4 424.7h0M274.9 419.7h0M279.1 407.6h0M276.8 414.0h0M275.8 403.9h0M233.9 384.9h0M248.4 409.7h0M259.9 415.0h0M245.2 366.3h0M245.8 396.7h0M274.8 424.4h0M279.0 408.8h0M242.8 402.0h0M274.9 402.3h0M253.0 427.9h0M273.4 408.2h0M276.3 409.8h0M266.4 410.9h0M268.7 427.2h0M267.2 416.3h0M254.6 386.2h0" stroke="#6cb83c" stroke-width="1.56" stroke-linecap="round" fill="none"/>
<path d="M247.6 414.4h0M249.8 425.7h0M238.0 464.6h0M259.2 401.6h0M241.5 404.7h0M223.8 436.3h0M228.4 467.3h0M256.6 418.1h0M276.0 426.5h0M240.8 404.1h0M247.9 427.2h0M240.2 466.1h0M222.1 433.8h0M249.5 383.8h0M233.8 423.9h0M249.4 417.9h0M233.6 392.9h0M275.9 420.8h0M261.1 424.5h0M241.4 375.2h0M236.7 419.0h0M277.3 411.2h0M263.4 376.9h0M220.8 466.0h0M279.9 417.7h0M265.2 406.2h0M268.7 409.6h0M279.7 409.7h0M267.8 434.0h0M258.9 365.9h0M265.7 426.7h0M264.4 422.1h0M236.2 378.7h0M280.0 411.5h0M258.8 406.9h0M216.4 434.9h0M265.1 426.7h0M260.1 420.8h0M259.7 413.8h0M232.8 409.1h0M252.8 383.7h0M241.4 415.5h0M262.4 398.3h0M251.0 390.0h0M245.3 407.4h0M271.1 418.9h0M236.4 398.8h0M226.4 467.6h0M259.6 367.7h0M257.8 403.9h0M231.5 383.8h0M268.3 430.5h0M231.9 455.6h0M238.3 408.1h0M271.6 419.7h0M231.4 466.4h0M234.4 426.0h0M270.7 424.9h0M265.8 424.9h0M260.8 419.0h0M257.7 365.2h0M259.9 396.0h0M249.1 405.0h0M271.1 427.2h0M252.6 369.2h0M241.1 460.6h0M253.8 392.1h0M273.9 419.6h0M268.3 422.2h0M275.8 419.0h0M247.7 411.9h0M256.9 370.5h0M268.2 421.3h0M264.4 426.8h0M227.1 458.2h0M219.0 433.3h0M233.4 379.8h0M272.2 427.7h0M232.8 466.7h0M229.1 464.5h0M234.1 389.5h0M243.8 395.3h0M220.9 434.7h0M266.4 395.4h0M247.7 402.8h0M244.2 400.1h0M220.5 434.9h0M262.9 417.2h0M266.7 424.9h0M218.3 434.7h0M269.0 418.0h0M247.7 412.2h0M267.1 392.2h0M245.7 424.1h0M251.7 414.8h0M242.5 397.6h0M255.6 418.2h0M264.8 417.6h0M249.8 419.8h0M228.7 431.8h0M256.9 412.2h0M225.2 437.8h0M267.3 413.4h0M257.0 372.9h0M249.2 404.1h0M258.6 426.0h0M232.0 419.6h0M265.3 427.9h0M262.5 396.5h0M264.0 398.5h0M228.9 408.1h0M238.3 401.7h0M266.3 429.4h0M262.1 404.5h0M261.2 420.8h0M246.8 419.1h0M267.2 419.1h0M241.5 461.8h0M240.8 385.7h0M245.2 404.9h0M262.6 418.7h0M230.8 395.4h0M237.3 409.3h0M270.1 406.3h0M261.5 404.3h0M235.9 474.8h0M275.0 416.0h0M270.9 415.7h0M247.9 413.5h0M256.4 405.7h0M237.8 398.6h0M256.2 406.0h0M249.4 400.5h0M272.7 430.4h0M266.0 423.3h0M244.4 408.7h0M248.2 381.8h0M246.1 396.2h0M256.7 412.8h0M279.9 415.5h0M259.0 410.5h0M261.8 425.7h0M259.5 405.5h0M275.0 428.3h0" stroke="#f4a0a0" stroke-width="1.56" stroke-linecap="round" fill="none"/>
<path d="M235.1 412.4h0M253.5 400.7h0M252.8 373.6h0M241.6 383.1h0M258.1 396.1h0M249.0 408.6h0M264.3 429.3h0M263.2 390.2h0M245.8 417.8h0M276.2 419.1h0M253.9 374.1h0M237.2 461.7h0M229.3 461.2h0M261.1 413.2h0M244.5 414.9h0M255.1 426.7h0M270.4 402.5h0M243.0 469.6h0M242.6 410.7h0M250.2 365.2h0M234.7 409.0h0M228.0 431.3h0M231.6 464.9h0M278.0 421.7h0M257.7 408.7h0M226.1 430.2h0M247.1 413.4h0M232.8 390.0h0M250.8 403.0h0M236.0 417.4h0M240.1 379.8h0M263.6 401.6h0M264.0 415.5h0M252.3 462.9h0M234.7 384.7h0M266.4 395.2h0M240.7 409.8h0M234.7 457.3h0M250.7 364.7h0M254.2 396.1h0" stroke="#f5a81c" stroke-width="1.56" stroke-linecap="round" fill="none"/>
<path d="M268.2 406.1h0M242.9 408.2h0M250.6 423.8h0M228.9 385.7h0M254.2 399.6h0M253.7 408.9h0M239.8 409.2h0M269.9 417.2h0M253.0 396.1h0M249.3 414.3h0M260.8 415.8h0M279.1 418.5h0M253.9 428.0h0M234.3 393.7h0M231.4 394.3h0M252.2 422.1h0M257.0 389.4h0M261.8 424.1h0M236.8 409.0h0M255.5 412.9h0" stroke="#4472c4" stroke-width="1.56" stroke-linecap="round" fill="none"/>
<path d="M243.2 383.0h0M235.9 365.7h0M260.0 408.9h0M257.1 367.9h0M243.9 363.0h0M232.8 373.0h0M245.7 367.8h0M243.8 390.4h0M249.4 369.4h0M241.5 369.2h0M236.5 417.6h0M250.8 379.0h0M250.9 369.9h0M246.8 389.4h0M256.2 419.8h0M254.5 372.3h0M237.2 375.4h0M241.0 369.5h0M244.7 364.7h0M238.6 371.1h0M234.9 376.8h0M244.7 370.4h0M250.4 394.8h0M236.7 381.8h0M250.5 368.1h0M244.0 359.3h0M256.4 368.0h0M235.1 375.0h0M245.3 366.5h0M241.3 384.5h0M241.8 380.3h0M263.4 396.4h0M248.9 406.4h0M237.8 365.0h0M234.1 370.0h0M247.9 367.0h0M235.1 380.2h0M239.6 367.8h0M239.2 381.3h0M240.7 396.9h0M243.8 408.7h0M263.1 391.0h0M239.2 379.1h0M251.4 368.6h0M237.7 380.9h0M233.1 389.1h0M240.2 382.4h0M239.6 382.7h0M237.7 389.0h0M252.4 369.5h0M237.7 372.4h0M248.9 384.6h0M244.4 372.5h0M252.9 382.8h0M246.9 365.0h0M233.1 367.5h0M245.5 409.8h0M246.3 371.5h0M247.2 368.9h0M242.4 377.3h0M230.6 382.9h0M245.2 362.3h0M232.8 383.1h0M249.1 370.4h0M233.1 369.8h0M244.1 386.9h0M244.8 413.7h0M242.9 380.6h0M255.7 390.5h0M237.3 370.6h0M241.6 384.2h0M257.5 362.4h0M246.2 387.0h0M270.9 405.7h0M232.4 383.3h0M238.0 380.6h0M240.1 373.7h0M244.7 385.1h0M236.5 380.7h0M229.7 416.3h0M246.6 361.9h0M251.3 417.7h0M230.1 379.1h0M267.1 401.6h0M228.2 436.5h0M231.3 370.9h0M250.6 362.7h0M234.8 381.6h0M241.9 397.5h0" stroke="#c8a8d8" stroke-width="1.56" stroke-linecap="round" fill="none"/>
<path d="M244.4 383.2h0M234.9 374.4h0M242.2 361.8h0M244.3 396.8h0M253.4 405.4h0M237.7 363.6h0M235.6 369.4h0M236.5 364.8h0M245.7 359.1h0M262.3 410.0h0M245.6 367.0h0M252.6 372.0h0M227.7 401.8h0M238.7 363.0h0M235.2 370.8h0M245.6 375.5h0M243.5 375.4h0M252.0 363.9h0M254.1 410.2h0M260.2 398.6h0M237.9 396.3h0M244.9 393.2h0M240.4 468.0h0M270.3 402.4h0M262.0 378.8h0M245.3 387.0h0M253.7 387.3h0M262.7 416.1h0M242.9 377.6h0M253.8 363.2h0M244.5 386.5h0M247.0 380.9h0M242.5 412.7h0M239.8 375.4h0M240.0 376.5h0M249.8 359.5h0M255.1 381.0h0M253.2 370.3h0M250.8 407.1h0M249.2 377.7h0M249.1 370.6h0M246.2 409.4h0M244.4 371.7h0M255.8 413.4h0M246.1 386.7h0M243.5 371.6h0M252.0 366.3h0M242.3 366.8h0M246.2 370.6h0M272.2 407.7h0M247.8 401.3h0M245.8 363.6h0M249.8 375.4h0M241.7 373.8h0M242.6 368.7h0M254.6 373.3h0M240.7 382.3h0M244.2 374.6h0M248.6 361.9h0M239.4 375.1h0M241.8 381.9h0M238.0 466.7h0M247.3 374.7h0M249.4 394.5h0M250.2 372.7h0M246.9 366.1h0M242.5 372.9h0M240.5 371.6h0M246.0 367.5h0M233.3 385.2h0M240.2 407.4h0M254.5 370.0h0M250.3 378.0h0M247.2 368.0h0M252.9 367.6h0M243.4 407.5h0M241.1 385.1h0M244.8 364.7h0M235.6 382.0h0M234.5 381.6h0M249.8 398.5h0M235.0 365.2h0M249.1 374.6h0M239.4 372.9h0M236.4 375.5h0M262.1 421.5h0M242.7 375.4h0M240.0 386.2h0M245.5 374.8h0M261.5 420.3h0M246.7 364.2h0M246.9 357.8h0M241.1 373.5h0M245.1 403.2h0M252.1 370.3h0M261.6 372.1h0M257.0 398.5h0M264.4 420.8h0M243.3 367.0h0M250.8 360.8h0M248.5 407.8h0M260.5 369.8h0M257.6 414.3h0M245.9 463.2h0M259.0 373.5h0M249.7 384.0h0M268.4 403.4h0M244.0 366.1h0M260.6 401.4h0M241.1 380.5h0M246.8 374.7h0M235.0 390.7h0M240.2 362.0h0M261.6 396.7h0M245.8 377.8h0M241.7 363.7h0M232.8 377.5h0M247.3 378.8h0M233.9 382.5h0M264.8 424.4h0M252.9 394.2h0M244.1 410.6h0M247.0 366.7h0M237.9 367.9h0M257.9 389.6h0M243.9 363.6h0M261.0 371.8h0M238.3 378.3h0M251.3 364.7h0M236.1 373.0h0M248.1 357.2h0M238.6 376.2h0M249.7 362.2h0M241.0 401.1h0M243.2 457.7h0M241.1 377.6h0M262.0 429.0h0M243.5 364.6h0M252.4 380.9h0M240.3 394.7h0M245.5 402.0h0M250.6 376.7h0M236.3 373.5h0M254.5 370.9h0M232.5 390.8h0M239.7 368.3h0M247.3 366.5h0M244.8 408.4h0M245.4 373.4h0M236.7 376.3h0M256.4 367.5h0M235.5 370.0h0M239.9 388.7h0M248.1 458.0h0M262.2 379.4h0M267.9 404.1h0M261.4 390.1h0M235.1 369.3h0" stroke="#8848a8" stroke-width="1.56" stroke-linecap="round" fill="none"/>
<path d="M259.3 416.5h0M254.5 422.5h0M223.7 435.6h0M262.5 409.9h0M221.7 449.9h0M219.7 441.9h0M215.3 435.4h0M272.6 427.0h0M225.1 448.8h0M254.9 427.1h0M235.2 412.1h0M272.9 420.1h0M244.3 413.8h0M264.0 405.6h0M270.1 409.9h0M230.2 407.6h0M250.1 408.1h0M217.2 441.4h0M222.3 465.5h0M220.0 447.2h0M248.0 402.1h0M269.7 420.5h0M239.6 377.8h0M249.7 388.3h0M238.5 477.0h0M226.1 474.2h0M222.8 441.5h0M230.0 467.2h0M234.0 414.6h0M248.7 407.7h0M250.2 407.7h0M228.6 434.7h0M243.7 406.1h0M241.6 405.1h0M268.6 421.6h0M237.3 464.6h0M219.2 434.6h0M249.0 378.9h0M246.5 386.8h0M267.8 400.4h0M224.3 457.6h0M224.7 443.3h0M227.5 429.5h0M232.2 401.6h0M266.8 424.8h0M245.0 383.6h0M238.7 396.7h0M258.7 398.6h0M260.0 419.8h0M261.0 381.2h0M215.7 443.2h0M262.9 419.4h0M242.3 385.9h0M215.5 443.1h0M265.3 415.0h0M252.6 419.6h0M238.2 463.6h0M242.2 420.0h0M253.7 425.6h0M221.1 443.9h0M241.3 369.9h0M230.9 449.7h0M223.0 435.8h0M223.1 435.4h0M222.9 448.9h0M261.0 379.0h0M245.6 404.1h0M210.8 436.1h0M224.3 432.7h0M241.0 423.6h0M240.0 398.4h0M244.6 404.3h0M267.4 405.0h0M230.6 403.5h0M264.2 391.8h0M241.0 382.6h0M257.0 369.7h0M263.5 401.5h0M228.3 455.9h0M251.5 388.2h0M233.1 411.8h0M223.2 443.1h0M253.2 383.2h0M234.9 409.4h0M228.5 444.8h0M246.2 414.9h0M238.5 402.7h0M212.6 436.4h0M260.5 367.9h0M232.6 392.9h0M260.5 405.7h0M228.1 398.5h0M250.0 366.6h0M215.2 440.4h0M232.9 407.4h0M234.8 410.4h0M263.3 426.1h0M253.3 409.3h0M225.8 436.7h0M262.0 408.4h0M219.6 434.7h0M252.0 375.2h0M220.6 437.8h0M220.4 443.6h0M255.1 391.5h0M261.9 399.8h0M264.1 430.4h0M248.2 374.8h0M242.6 403.0h0M220.0 439.3h0M237.0 385.7h0M211.0 438.3h0M254.6 409.9h0M250.0 406.9h0M226.0 460.6h0M246.4 399.6h0M257.1 391.1h0M265.6 420.8h0M260.2 379.3h0M250.9 417.3h0M247.9 459.7h0M268.8 396.2h0M256.5 427.3h0M240.3 402.8h0M261.9 425.3h0M224.1 437.8h0M219.2 436.3h0M220.8 432.6h0M246.9 411.1h0M241.6 407.8h0M245.6 403.0h0M221.1 436.2h0M272.9 419.1h0M225.2 434.2h0M265.4 421.4h0M214.7 440.3h0M274.3 429.2h0M223.7 438.3h0M259.8 401.3h0M269.5 411.1h0M264.2 421.4h0M229.4 439.7h0M260.9 410.0h0M220.1 439.4h0M274.6 413.2h0M268.2 407.0h0M261.4 391.7h0M247.2 422.0h0M211.1 445.8h0M254.1 397.4h0M257.7 411.6h0M221.9 437.9h0M219.4 442.2h0M265.7 427.5h0M221.5 439.9h0M265.7 415.3h0M253.1 385.5h0M235.7 469.9h0M224.5 438.4h0M224.4 447.2h0M218.9 433.3h0M226.3 430.6h0M253.3 403.9h0M220.8 441.0h0M234.0 382.6h0M224.0 472.2h0M266.0 431.5h0M248.5 398.4h0M259.0 431.2h0M227.9 438.6h0M216.8 441.3h0M259.7 413.9h0M273.2 418.1h0M263.9 417.2h0M250.7 412.3h0M230.0 468.4h0M257.8 376.2h0M243.5 386.0h0M260.7 404.2h0M225.0 443.3h0M261.1 390.1h0M239.3 385.0h0M225.9 451.7h0M240.4 392.4h0M250.2 393.3h0M226.6 468.7h0M246.6 411.8h0M235.6 413.7h0M249.1 411.5h0M214.8 439.6h0M213.8 442.3h0M221.3 447.9h0M223.0 457.9h0M247.4 427.7h0M226.1 432.8h0M225.6 436.1h0M274.2 410.3h0M263.2 433.6h0M215.7 446.2h0M261.9 427.5h0M261.5 380.2h0M267.3 430.2h0M253.8 401.2h0M248.0 376.8h0M269.4 431.1h0M271.2 411.8h0M263.9 417.1h0M213.8 444.4h0M248.5 400.8h0M222.6 435.2h0M258.6 421.8h0M243.9 410.1h0M224.0 449.2h0M258.9 405.5h0M246.8 391.6h0M267.6 430.3h0M235.6 373.9h0M241.3 409.7h0M265.0 424.5h0M259.7 420.0h0M244.6 412.7h0M258.4 378.7h0M217.2 438.3h0M231.4 462.0h0M227.9 442.4h0M220.1 442.4h0M271.2 413.3h0M215.7 439.6h0M260.1 410.9h0M226.2 433.9h0M222.8 440.3h0M251.3 376.9h0M251.8 378.7h0M266.4 396.6h0M248.6 403.5h0M247.0 410.7h0M213.3 441.4h0M224.9 441.8h0M228.7 473.3h0M262.2 407.5h0M265.1 397.9h0M235.8 416.9h0M265.9 397.9h0M252.7 414.7h0M261.5 423.7h0M267.3 432.5h0M247.4 401.2h0M215.8 432.8h0M258.1 414.1h0M226.7 439.0h0M240.7 401.0h0M258.3 410.5h0M221.4 436.9h0M225.6 436.9h0M233.2 413.4h0M252.6 424.1h0M267.2 414.5h0M229.9 472.2h0M222.3 435.6h0M258.8 366.3h0M235.1 421.7h0M241.9 411.2h0M215.8 443.0h0M263.3 421.4h0M264.4 412.4h0M272.9 419.3h0M255.3 416.5h0M227.6 410.7h0M262.1 403.8h0M227.6 437.5h0M253.5 368.2h0M218.1 439.4h0M273.8 427.9h0M271.4 405.7h0M270.1 413.1h0M275.3 401.1h0M213.8 442.6h0M227.0 436.5h0M264.0 430.4h0M267.5 431.0h0M236.4 414.2h0M274.1 416.7h0M243.3 388.7h0M222.8 459.1h0M253.8 411.4h0M260.9 401.4h0M258.0 413.0h0M254.1 411.4h0M254.9 396.9h0M237.3 401.2h0M218.5 441.3h0M267.5 421.7h0M256.1 393.7h0M257.6 405.4h0M275.6 416.7h0M268.1 427.0h0M263.8 405.5h0M214.8 442.6h0M269.3 410.6h0M228.5 462.2h0M263.4 414.4h0M258.5 419.1h0M270.7 428.5h0M246.3 424.0h0M246.6 394.8h0M240.5 419.2h0M229.7 474.5h0M236.2 389.2h0M218.3 442.8h0M215.9 445.0h0M260.3 381.0h0M239.5 460.9h0M226.8 435.2h0M267.2 421.9h0M247.4 395.5h0M248.8 391.3h0M236.8 415.2h0M242.1 393.0h0M224.0 448.5h0M246.3 382.8h0M235.9 388.1h0M252.3 396.3h0M269.3 426.6h0M248.5 394.4h0M248.3 391.3h0M225.2 439.3h0M223.9 444.6h0M224.7 450.7h0M236.4 464.4h0M236.3 472.2h0M233.0 400.0h0M250.0 392.2h0M250.7 393.5h0M221.3 437.9h0M243.9 391.1h0M236.0 459.6h0M209.8 435.6h0M239.7 456.1h0M267.5 422.1h0M237.9 469.5h0M266.3 421.1h0M216.8 439.9h0M222.7 446.7h0M247.8 410.3h0M251.1 410.5h0M234.7 408.9h0M260.0 420.7h0M253.7 401.7h0M222.3 441.1h0M263.8 403.4h0M249.3 402.0h0M261.4 419.7h0M229.7 464.1h0M265.6 410.4h0M247.3 379.7h0M226.1 442.6h0M223.9 434.4h0M237.6 400.9h0M221.0 433.7h0M254.2 374.9h0M220.9 442.4h0M266.3 422.3h0M259.1 393.5h0M233.8 395.1h0M219.3 438.1h0M244.3 388.9h0M257.2 417.6h0M258.9 431.4h0M255.9 419.8h0M224.9 448.1h0M262.8 412.7h0M217.1 433.2h0M222.1 432.3h0M214.9 440.5h0M265.7 423.3h0M246.1 413.0h0M226.1 445.6h0M257.1 420.6h0M266.5 415.8h0M278.0 419.0h0M261.2 405.7h0M224.0 445.9h0M244.2 409.0h0M259.7 385.0h0M221.1 440.9h0M234.7 465.8h0M260.2 424.1h0M218.7 467.7h0M224.9 451.3h0M220.7 435.3h0M259.7 425.7h0M225.5 465.7h0M267.6 424.9h0M217.5 438.7h0M234.1 426.0h0M222.2 432.4h0M265.5 426.1h0M264.3 396.9h0M243.9 465.2h0M249.4 384.3h0M239.4 393.1h0M259.8 386.5h0M258.3 414.2h0M258.1 378.8h0M248.0 393.7h0M267.8 414.3h0M242.6 397.9h0M235.6 412.9h0M245.9 393.9h0M276.9 404.9h0M240.6 415.9h0M233.6 463.6h0M250.6 416.0h0M259.4 394.2h0M269.2 422.4h0M251.6 403.3h0M223.6 438.4h0M272.4 433.2h0M266.9 431.3h0M222.8 450.2h0M251.3 415.6h0M215.1 446.0h0M258.1 410.7h0M224.0 467.4h0" stroke="#b854a8" stroke-width="1.56" stroke-linecap="round" fill="none"/>
<path d="M234.9 418.3h0M255.4 417.4h0M264.0 402.1h0M230.3 477.8h0M265.3 397.5h0M251.6 390.7h0M263.6 422.8h0M229.0 460.9h0M251.3 417.6h0M255.9 424.6h0M240.1 395.2h0M216.1 446.1h0M229.9 391.7h0M253.0 415.1h0M237.9 400.5h0M239.3 402.7h0M253.0 419.9h0M236.9 456.3h0M238.1 403.1h0M255.3 416.9h0M246.1 459.1h0M271.5 401.7h0M244.5 468.0h0M260.9 389.8h0M247.9 391.5h0M238.2 398.9h0M240.0 424.2h0M233.7 402.8h0M262.1 420.0h0M247.3 405.9h0M230.7 379.8h0M258.9 411.9h0M275.2 420.1h0M241.5 396.9h0M226.7 472.9h0M242.7 389.2h0M253.3 386.1h0M246.8 404.0h0M249.2 421.6h0M241.6 404.3h0M245.5 394.2h0M263.7 408.6h0M243.0 457.1h0M239.9 408.3h0M243.7 419.9h0M250.3 386.4h0M240.8 464.7h0M270.4 405.1h0M250.4 392.5h0M239.2 394.6h0M220.4 467.3h0M257.6 393.9h0M269.4 416.4h0M250.0 394.3h0M247.3 384.8h0M253.2 412.3h0M235.2 389.9h0M251.7 418.0h0M246.9 395.8h0M246.4 419.3h0M245.8 410.5h0M244.3 407.0h0M244.1 385.8h0M235.3 398.0h0M258.4 402.5h0M213.4 438.2h0M255.6 427.6h0M244.9 399.8h0M269.4 407.3h0M242.7 386.3h0M252.3 402.5h0M246.8 377.9h0M252.6 385.2h0M249.9 396.4h0M251.0 392.7h0M270.7 398.8h0M262.6 387.2h0M256.7 413.2h0M271.4 396.6h0M232.4 467.9h0M247.6 389.0h0M240.2 394.6h0M233.3 409.9h0M232.4 464.5h0M246.6 454.1h0M271.5 400.1h0M263.6 414.1h0M243.3 405.8h0M240.2 412.8h0M247.3 407.2h0M259.9 404.4h0M262.6 421.9h0M227.2 469.6h0M253.0 413.8h0M232.6 402.4h0M245.4 391.9h0M234.2 397.2h0M234.8 462.7h0M260.7 411.3h0M251.0 414.5h0M254.8 395.8h0M230.5 391.0h0M249.1 406.8h0M232.5 389.1h0M252.6 401.2h0M256.4 418.9h0M248.5 399.7h0M233.8 417.8h0M243.3 389.2h0M239.1 418.1h0M226.7 474.2h0M235.5 400.5h0M225.1 461.6h0M271.0 428.2h0M230.6 464.8h0M236.7 397.4h0M235.3 412.6h0M246.2 417.6h0M242.8 395.4h0M267.5 412.3h0M236.5 473.5h0M218.9 443.8h0M275.0 411.2h0M245.5 457.3h0M213.1 443.8h0M229.1 410.9h0M237.8 395.3h0M260.9 407.3h0M232.6 417.1h0M243.2 397.3h0M253.4 419.4h0M247.6 464.4h0M258.4 401.9h0M238.8 405.6h0M249.7 390.3h0M223.0 446.2h0M228.5 416.7h0M240.6 416.6h0M234.4 473.7h0M278.2 416.2h0M242.1 392.7h0M275.1 408.9h0M217.8 439.7h0M274.9 412.2h0M248.5 382.5h0M227.2 438.9h0M238.6 408.7h0M245.3 400.3h0M217.8 444.4h0M252.7 406.2h0M257.4 411.1h0M251.7 401.1h0M227.0 463.9h0M240.1 405.8h0M246.5 405.8h0M233.0 390.9h0M253.0 414.3h0M234.8 411.0h0M222.0 445.5h0M275.5 400.3h0M237.0 404.4h0M244.9 469.8h0M277.5 407.7h0M261.4 414.5h0M258.1 378.0h0M255.2 392.8h0M228.1 459.2h0M245.5 395.8h0M246.5 417.4h0M245.2 409.0h0M256.7 409.9h0M268.2 417.3h0M241.7 465.8h0M243.5 466.5h0M236.0 402.9h0M255.8 397.7h0M254.9 374.3h0M259.6 410.4h0M272.3 406.4h0M232.4 476.9h0M242.5 464.1h0M264.3 416.5h0M259.5 419.2h0M219.8 443.9h0M243.2 424.2h0M241.1 469.8h0M248.1 454.6h0M244.4 460.5h0M237.2 412.2h0M253.0 401.3h0M247.2 403.2h0M244.4 412.3h0M271.6 402.9h0M229.9 401.1h0M237.7 406.5h0M244.1 455.2h0M262.5 408.6h0M239.8 389.4h0M245.4 416.7h0M244.8 399.2h0M278.4 409.7h0M233.9 459.6h0M264.3 401.9h0M260.1 409.8h0M251.3 408.7h0M232.2 411.8h0M233.8 380.9h0M238.1 406.9h0M261.2 403.2h0M249.7 400.9h0M255.5 402.2h0M232.6 456.8h0M229.6 461.5h0M232.6 464.7h0M255.5 394.2h0M244.8 403.3h0M254.9 401.9h0M230.5 466.3h0M225.7 458.0h0M228.9 458.6h0M264.0 410.1h0M246.4 413.7h0M237.5 398.2h0M267.9 424.1h0M243.9 420.7h0M233.9 415.8h0M259.9 384.2h0M252.0 415.3h0M232.1 461.5h0M222.8 466.4h0M257.3 423.9h0M263.4 426.7h0M226.5 466.4h0M248.3 417.5h0M252.3 396.7h0M277.7 420.1h0M268.0 418.4h0M267.0 397.7h0M228.4 392.1h0M251.1 399.3h0M235.6 396.7h0M242.4 399.9h0M248.2 396.9h0M259.3 428.6h0M225.4 473.0h0M219.5 438.3h0M272.3 427.5h0M236.6 472.0h0M238.0 456.5h0M263.1 383.3h0M242.0 396.0h0M257.9 391.5h0M253.8 405.1h0M265.3 401.8h0M263.8 393.1h0M217.5 442.5h0M253.8 428.3h0M237.1 472.3h0M236.1 417.8h0M245.9 417.9h0M213.3 433.2h0M254.2 408.5h0M224.7 472.2h0M242.0 457.3h0M237.5 469.4h0M265.3 410.1h0M239.1 399.8h0M242.4 399.7h0M245.9 459.0h0M231.0 464.8h0M232.7 469.3h0M236.9 462.0h0M244.7 403.6h0M238.1 402.9h0M228.3 476.4h0M268.5 410.7h0M270.0 397.8h0M220.0 470.8h0M267.4 406.4h0M242.9 389.7h0M230.2 383.1h0M250.4 406.3h0M254.6 395.8h0M261.2 410.8h0M228.1 469.2h0M234.0 404.1h0M244.1 402.6h0M244.9 400.0h0M235.0 417.2h0M239.4 387.8h0M235.6 471.5h0M242.4 399.7h0M222.2 464.2h0M242.2 399.8h0M225.3 470.5h0M281.5 411.0h0M268.8 420.2h0M243.2 402.2h0M256.6 387.1h0M233.1 461.1h0M249.1 387.0h0M260.1 414.6h0M236.2 463.3h0M268.4 406.1h0M257.0 402.3h0M230.4 470.2h0M248.7 463.5h0M237.9 464.1h0M251.4 384.6h0M234.5 406.7h0M268.3 412.3h0M240.5 462.9h0M245.0 404.2h0M221.7 469.2h0M244.4 368.6h0M260.4 403.0h0M240.4 390.6h0M220.1 472.1h0M254.1 396.4h0M245.7 421.9h0M243.1 457.9h0M274.9 422.5h0M275.6 413.0h0M264.9 422.4h0M231.9 465.0h0M253.7 376.2h0M273.7 404.8h0M236.3 460.2h0M273.9 406.1h0M240.0 466.1h0M250.1 394.8h0M270.3 406.2h0M230.1 471.5h0M266.4 418.7h0M242.7 378.2h0M240.5 424.9h0M218.9 439.8h0M237.7 462.6h0M234.5 467.2h0M234.7 397.9h0M242.8 456.6h0M241.1 407.4h0M243.6 394.1h0M262.6 399.2h0M232.0 465.7h0M245.3 461.2h0M273.8 398.9h0M244.8 416.3h0M239.0 465.9h0M274.1 400.0h0M262.1 401.6h0M215.1 442.9h0M237.0 423.7h0M252.5 413.0h0M246.4 453.8h0M252.3 384.6h0M241.7 396.9h0M245.1 403.1h0M229.1 468.3h0M235.9 399.7h0M250.1 423.9h0M219.5 470.4h0M220.4 467.4h0M238.6 470.1h0M243.8 410.6h0M236.7 392.8h0M246.4 426.9h0M256.1 400.1h0M275.7 400.5h0M243.2 420.0h0M242.5 402.8h0M227.6 472.4h0M256.8 396.5h0M261.7 393.6h0M235.1 465.2h0M264.1 421.5h0M255.5 399.9h0M266.1 408.3h0M223.0 440.7h0M234.4 423.3h0M232.0 396.8h0M262.6 414.4h0M244.0 390.1h0M241.1 455.0h0M242.2 461.6h0M240.6 388.6h0M241.7 402.4h0M258.9 414.4h0M217.7 436.7h0M242.1 462.1h0M224.3 471.2h0M254.8 412.2h0M262.9 411.9h0M236.3 391.2h0M219.3 446.7h0M241.1 407.6h0M268.7 419.6h0M241.3 394.9h0M239.2 403.7h0M257.1 395.6h0M249.1 398.7h0M246.2 415.8h0M265.4 407.0h0M251.3 395.8h0M236.6 417.4h0M230.1 412.8h0M277.9 413.7h0M253.4 416.7h0M219.8 470.5h0M263.0 408.9h0M235.7 405.5h0M225.7 475.9h0M241.3 403.0h0M234.8 408.1h0M243.8 415.3h0M230.7 475.2h0M268.2 410.5h0M241.7 472.4h0M261.5 370.3h0M232.1 388.8h0M235.8 390.0h0M249.0 396.1h0M240.3 463.1h0M228.6 461.6h0M246.4 394.8h0M229.7 463.2h0M259.4 386.2h0M254.6 386.5h0M248.7 419.0h0M253.8 399.9h0M262.8 407.6h0M267.8 435.9h0M250.2 412.2h0M261.2 406.5h0M231.5 475.2h0M237.5 398.1h0M240.5 424.6h0M230.1 394.2h0M231.8 464.5h0M241.6 468.5h0M267.5 402.7h0M265.3 415.1h0M243.0 418.7h0M247.8 396.8h0M237.4 466.1h0M235.9 394.7h0M235.9 459.9h0M268.7 413.7h0M233.0 404.9h0M232.5 404.5h0M244.8 413.2h0M261.0 394.8h0M255.0 418.0h0M239.2 397.8h0M242.0 400.8h0M254.6 409.2h0M227.0 461.2h0M237.9 409.3h0M245.3 404.2h0M227.4 462.9h0M242.9 459.2h0M261.8 415.4h0M273.6 418.1h0M217.1 434.3h0M236.1 461.4h0M250.5 413.6h0M274.4 414.1h0M233.0 463.5h0M235.3 476.5h0M240.6 413.7h0M235.4 466.9h0M233.4 462.9h0M245.0 395.1h0M224.5 440.3h0M242.2 399.1h0M274.0 409.9h0M251.1 457.3h0M256.9 406.3h0M257.8 416.8h0M246.5 390.2h0M238.1 465.9h0M272.2 425.7h0M244.1 375.8h0M242.8 454.4h0M238.4 392.0h0M241.4 404.2h0M251.6 418.6h0M238.7 386.1h0M241.3 462.4h0M216.7 443.3h0M237.6 378.1h0M259.6 409.3h0M272.5 413.0h0M233.6 460.2h0M244.9 407.1h0M237.0 401.2h0M248.6 381.3h0M210.5 444.9h0M223.9 447.8h0M237.4 395.8h0M219.5 446.9h0M251.1 403.2h0M251.2 427.8h0M226.6 436.5h0M230.6 469.4h0M238.4 456.4h0M232.8 465.8h0M242.2 404.4h0M228.3 466.0h0M277.9 423.1h0M236.7 464.2h0M236.8 468.8h0M263.6 429.4h0M260.0 383.5h0M240.2 465.2h0M258.0 398.6h0M252.4 415.1h0M253.3 399.8h0M240.6 403.7h0" stroke="#a01868" stroke-width="1.56" stroke-linecap="round" fill="none"/>
<path d="M247.1 384.8h0M216.1 443.3h0M226.8 469.7h0M259.8 390.7h0M242.9 403.8h0M255.6 393.1h0M274.0 412.9h0M232.0 404.8h0M242.8 405.5h0M270.3 401.5h0M234.5 418.7h0M246.4 401.9h0M268.4 414.7h0M238.3 392.3h0M241.0 401.3h0M267.9 406.2h0M265.1 407.4h0M230.7 391.3h0M256.6 410.5h0M233.6 407.9h0M234.6 458.5h0M215.9 433.6h0M256.2 392.5h0M268.7 394.7h0M237.0 463.5h0M270.7 405.7h0M217.1 439.5h0M249.1 410.9h0M237.6 401.3h0M260.9 413.3h0M239.3 394.0h0M241.7 457.0h0M221.4 473.4h0M260.2 391.2h0M242.5 406.0h0M245.5 462.6h0M266.2 408.1h0M237.7 393.7h0M268.1 410.0h0M246.4 457.4h0M217.5 435.4h0M215.8 445.7h0M242.8 459.7h0M237.1 460.4h0M218.7 433.9h0M229.7 463.6h0M255.7 407.0h0M237.5 466.5h0M257.7 410.6h0M227.7 474.7h0M273.0 405.9h0M236.0 461.1h0M259.2 416.8h0M232.3 395.0h0M260.4 384.7h0M221.7 436.0h0M250.8 412.5h0M225.8 470.9h0M251.4 409.1h0M246.3 394.0h0M247.3 383.6h0M265.9 407.2h0M209.6 442.6h0M215.0 438.8h0M232.2 475.6h0M231.2 416.3h0M240.9 464.9h0M259.9 409.2h0M235.4 395.5h0M227.9 461.9h0M246.5 422.6h0M257.6 402.5h0M257.8 408.8h0M264.0 430.5h0M256.3 405.8h0M255.3 402.6h0M274.3 416.7h0M235.2 408.8h0M278.6 409.6h0M249.8 402.8h0M229.8 464.5h0M239.1 410.6h0M254.7 410.9h0M246.0 394.2h0M234.2 468.0h0M263.2 407.6h0M254.8 414.6h0M213.8 436.0h0M253.7 407.5h0M258.3 411.5h0M246.6 415.6h0M255.3 415.4h0M246.4 407.4h0M213.6 440.7h0M211.3 434.2h0M231.4 388.3h0M213.5 440.9h0M259.8 388.3h0M253.6 383.3h0M237.6 393.5h0M242.7 381.6h0M228.0 465.2h0M232.1 380.6h0M244.7 406.6h0M262.8 406.2h0M239.1 475.0h0M259.3 393.6h0M228.5 467.8h0M211.8 439.9h0M241.1 459.7h0M221.1 445.3h0M248.4 401.6h0M263.1 413.1h0M247.2 421.2h0M253.6 409.6h0M258.2 405.6h0M260.8 385.4h0M254.5 407.5h0M234.9 411.1h0M231.2 413.4h0M227.9 477.2h0M244.4 402.7h0M258.6 408.2h0M250.1 419.1h0M275.0 407.0h0M262.4 417.3h0M241.5 463.3h0M242.6 454.8h0M237.3 411.7h0M227.9 466.4h0M225.8 440.8h0M249.7 407.9h0M241.0 381.6h0M220.9 437.6h0M252.2 388.5h0M245.7 401.6h0M257.7 417.0h0M271.6 396.2h0M249.5 387.6h0M244.9 395.4h0M260.3 410.3h0M215.3 439.1h0M250.8 405.0h0M246.3 459.1h0M210.1 443.0h0M260.1 398.4h0" stroke="#6cc4a8" stroke-width="1.56" stroke-linecap="round" fill="none"/>
<path d="M255.3 393.5h0M252.2 408.8h0M265.9 416.2h0M263.4 409.3h0M232.8 464.1h0M246.3 389.6h0M236.6 404.4h0M243.0 407.1h0M258.9 424.7h0M234.4 388.2h0M230.7 466.0h0M254.1 421.2h0M215.4 444.1h0M222.8 469.9h0M249.1 402.6h0M230.0 464.2h0M264.6 406.1h0M268.9 420.4h0M231.7 458.4h0M275.3 406.9h0M247.5 409.9h0M228.9 403.7h0M236.2 462.6h0M269.4 396.7h0M251.5 395.0h0M224.2 471.6h0M226.5 467.9h0M260.7 401.0h0M267.9 406.8h0M227.5 470.9h0M237.6 466.1h0M268.2 397.9h0M256.6 408.3h0M234.2 404.1h0M248.9 414.1h0M233.7 395.2h0M253.5 414.8h0M238.4 377.6h0M251.5 413.4h0M271.0 404.4h0M263.0 410.6h0M262.7 417.3h0M250.5 407.7h0M248.7 396.5h0M246.3 417.0h0M237.1 406.4h0M251.0 392.7h0M246.3 386.7h0M242.0 398.8h0M258.5 405.1h0M262.2 415.7h0M238.5 391.3h0M265.7 397.3h0M249.2 411.7h0M241.5 388.4h0M246.0 463.0h0M260.8 401.8h0M255.2 412.0h0M261.9 402.8h0M278.6 412.5h0M250.3 407.1h0M245.2 415.1h0M233.6 400.0h0M244.7 409.8h0M257.5 407.9h0M252.3 424.4h0M232.2 465.0h0M247.9 427.1h0M268.2 415.0h0M249.0 405.7h0M247.9 405.6h0M246.4 424.8h0M257.6 395.5h0M250.2 385.5h0M228.0 471.7h0M232.6 413.7h0M239.2 416.4h0M265.8 393.9h0M260.0 416.8h0M225.7 466.2h0M253.4 386.9h0M235.9 468.0h0M246.1 405.1h0M255.4 405.0h0M266.4 407.2h0M271.3 412.4h0M262.9 431.5h0M242.0 394.0h0M254.7 399.7h0M262.7 404.4h0M251.8 396.8h0M268.6 407.9h0M277.5 411.7h0M231.8 393.5h0M258.3 406.9h0M264.8 412.3h0M243.9 388.3h0M248.7 413.5h0M262.8 408.3h0M267.5 431.5h0M251.6 405.0h0M247.6 459.6h0M241.5 398.4h0M244.4 384.4h0M244.6 457.0h0M261.1 408.4h0M260.9 410.4h0M249.8 413.0h0M236.4 397.9h0M241.9 400.4h0M230.0 468.6h0M233.9 404.0h0M245.1 390.0h0M239.6 462.0h0M228.6 460.6h0M273.1 412.5h0M244.4 407.8h0M259.4 411.2h0M250.9 401.0h0M228.1 459.9h0M251.7 398.4h0M247.2 390.9h0M277.8 406.7h0M234.9 467.6h0M246.7 402.4h0M242.0 374.2h0M255.3 422.8h0M246.2 413.6h0M233.1 401.6h0M245.7 409.8h0M226.9 470.4h0M235.2 465.5h0M263.1 410.2h0M235.5 472.4h0M244.2 458.1h0M262.1 421.7h0M250.6 417.6h0M229.7 465.8h0M217.7 438.3h0M229.7 470.7h0M257.6 422.4h0M238.8 469.4h0" stroke="#40c0e8" stroke-width="1.56" stroke-linecap="round" fill="none"/>
<path d="M248.5 410.4h0M266.8 412.3h0M276.6 403.5h0M274.7 403.9h0M249.1 421.7h0M251.6 411.7h0M253.1 380.1h0M241.0 392.0h0M269.6 420.1h0M251.7 395.5h0M253.6 371.8h0M271.7 400.2h0M242.0 390.6h0M262.4 422.1h0M233.8 414.7h0M254.5 407.5h0M253.1 378.8h0M272.3 412.2h0M254.3 395.3h0M270.1 413.0h0M269.5 420.9h0M274.6 421.2h0M269.2 418.4h0M271.0 412.8h0M272.4 415.5h0M255.9 410.4h0M280.0 406.9h0M265.5 406.0h0M259.5 419.0h0M245.3 395.1h0M269.5 422.2h0M270.4 409.6h0M241.8 413.3h0M256.8 406.6h0M243.2 384.6h0M257.5 401.8h0M246.2 413.1h0M273.7 405.5h0M230.6 406.3h0M261.2 400.5h0M248.4 404.8h0M241.5 401.5h0M262.5 412.3h0M241.9 391.7h0M258.5 396.2h0M274.1 408.5h0M243.5 383.3h0M263.0 395.1h0M235.2 383.2h0M244.9 389.6h0M274.1 410.5h0M245.1 399.9h0M263.0 404.0h0M245.1 361.9h0M241.8 383.7h0M256.7 400.1h0M258.5 403.6h0M256.7 402.8h0M237.4 402.0h0M259.7 391.6h0M276.8 418.5h0M259.8 414.8h0M256.5 409.0h0M271.1 414.2h0M262.7 388.6h0M276.0 420.4h0M271.8 407.9h0M246.1 402.1h0M243.4 371.3h0M250.3 409.3h0M239.0 415.1h0M266.3 405.9h0M275.2 403.2h0M274.7 423.6h0M261.2 400.9h0M257.0 404.2h0M267.3 416.5h0M248.2 423.2h0M267.4 418.2h0M264.1 394.0h0M246.7 421.9h0M276.5 412.1h0M268.4 399.9h0M229.9 399.7h0M241.5 405.1h0M261.9 395.2h0M252.4 403.4h0M276.5 411.6h0M274.8 413.0h0M272.6 420.1h0M245.1 384.6h0M254.2 395.3h0M228.1 391.6h0M277.7 420.6h0M269.0 411.5h0M245.9 407.3h0M250.2 364.4h0M239.3 399.8h0M273.8 420.3h0M270.4 416.9h0M270.9 405.7h0M269.1 412.2h0M257.1 385.8h0M259.8 389.7h0M249.9 410.0h0M266.5 419.5h0M264.4 414.9h0M262.9 406.5h0M223.0 432.6h0M252.9 407.5h0M262.9 384.3h0M277.9 405.5h0M254.4 398.1h0M273.4 411.4h0M240.4 396.1h0M275.4 423.3h0M255.6 407.7h0M254.9 386.7h0M253.3 372.8h0M268.6 408.5h0" stroke="#6cb83c" stroke-width="1.56" stroke-linecap="round" fill="none"/>
<path d="M262.8 407.8h0M259.1 398.4h0M271.5 410.5h0M249.6 396.1h0M235.5 423.7h0M269.1 421.8h0M267.1 430.0h0M270.2 405.3h0M260.2 402.9h0M263.1 409.6h0M250.4 380.0h0M239.1 418.8h0M255.9 372.6h0M272.7 406.4h0M263.5 423.2h0M254.4 402.8h0M234.3 398.4h0M244.0 406.6h0M233.7 396.9h0M253.8 395.2h0M239.8 408.6h0M254.1 407.1h0M239.8 416.8h0M239.4 397.4h0M270.3 420.3h0M274.7 420.0h0M276.4 416.7h0M250.8 407.4h0M281.2 409.9h0M221.0 443.4h0M228.2 430.0h0M249.2 421.1h0M267.2 397.7h0M263.5 429.0h0M261.5 420.4h0M241.2 399.5h0M268.5 410.5h0M271.6 422.2h0M236.0 475.4h0M252.9 427.4h0M256.5 367.6h0M258.1 413.4h0M230.0 386.8h0M251.7 428.0h0M255.7 363.5h0M258.3 419.1h0M216.3 434.1h0M253.0 393.3h0M251.6 417.1h0M261.1 369.6h0M249.6 417.0h0M260.4 418.5h0M244.7 399.4h0M263.6 426.1h0M273.1 421.2h0M253.8 416.5h0M266.1 414.6h0M241.0 369.0h0M252.8 378.7h0M267.5 410.5h0M256.4 422.1h0M221.4 433.9h0M273.9 419.8h0M241.9 403.9h0M252.3 406.9h0M278.4 404.3h0M275.1 425.6h0M227.6 428.4h0M256.3 375.3h0M225.4 430.4h0M256.8 369.1h0M267.2 413.5h0M262.3 408.6h0M237.7 409.5h0M254.0 368.5h0M234.1 395.8h0M262.6 387.0h0M264.9 425.6h0M234.1 397.2h0M272.9 403.6h0M238.5 403.7h0M243.0 401.2h0M245.1 394.4h0M255.1 414.5h0M265.5 399.7h0M273.8 428.8h0M245.3 465.7h0M245.9 400.8h0M260.7 367.6h0M262.2 371.7h0M272.8 413.4h0M269.9 419.4h0M270.9 419.2h0M241.6 468.0h0M274.6 425.4h0M249.1 396.5h0M268.6 422.6h0M258.0 416.8h0M254.8 395.1h0M274.7 405.3h0M269.9 425.3h0M259.1 417.0h0M270.3 418.2h0M230.1 457.4h0M262.8 415.8h0M253.5 398.7h0M274.8 412.1h0M260.4 413.4h0M271.6 396.8h0M271.3 425.7h0M253.5 422.6h0M259.8 368.9h0M258.6 365.6h0M270.9 413.6h0M238.4 460.7h0M270.9 433.9h0M251.7 424.2h0M275.4 419.5h0M251.1 406.9h0M261.3 371.3h0M266.9 404.6h0M249.4 464.4h0M250.3 419.7h0M215.4 446.9h0M250.6 405.9h0M263.8 432.9h0M238.2 458.8h0M219.3 435.7h0M257.3 370.0h0M279.4 420.0h0M253.2 396.0h0M239.5 471.5h0M269.5 425.5h0M277.5 415.0h0M229.0 436.4h0M246.8 399.4h0M222.8 437.4h0M240.3 411.7h0M276.6 402.4h0M259.1 370.9h0M257.8 412.0h0M237.0 388.0h0M267.3 406.8h0M258.2 419.6h0M281.7 410.7h0" stroke="#f4a0a0" stroke-width="1.56" stroke-linecap="round" fill="none"/>
<path d="M249.0 380.5h0M227.0 430.1h0M263.6 371.5h0M222.7 458.5h0M229.2 431.6h0M225.9 430.0h0M247.0 357.5h0M260.3 418.2h0M241.0 399.6h0M242.7 376.8h0M248.9 398.3h0M229.8 465.1h0M240.2 392.8h0M274.5 406.1h0M263.0 397.7h0M251.5 374.4h0M258.8 369.2h0M251.7 410.0h0M278.2 412.8h0M227.7 472.8h0M262.8 403.4h0M234.4 473.5h0M234.8 402.9h0M227.9 430.6h0M234.9 463.8h0M239.1 400.4h0M248.3 374.3h0M241.2 406.7h0M242.2 413.9h0M270.6 413.7h0M268.3 407.5h0M247.2 418.2h0" stroke="#f5a81c" stroke-width="1.56" stroke-linecap="round" fill="none"/>
<path d="M266.2 400.0h0M233.2 398.5h0M264.7 422.0h0M243.7 419.5h0M243.6 402.6h0M261.1 375.5h0M267.5 410.0h0M249.0 398.6h0M242.2 401.7h0M233.9 422.5h0M253.6 408.1h0M265.9 414.0h0M269.9 399.5h0M231.6 408.9h0M255.7 396.1h0M275.3 404.9h0M241.8 368.7h0M254.0 417.5h0M248.8 406.5h0M234.9 416.7h0M243.0 400.7h0M265.0 406.7h0M253.3 419.5h0" stroke="#4472c4" stroke-width="1.56" stroke-linecap="round" fill="none"/>
<path d="M249.1 369.3h0M242.4 383.6h0M265.7 421.6h0M241.5 379.9h0M237.9 381.9h0M248.1 397.1h0M235.9 367.5h0M246.4 357.8h0M252.5 360.7h0M259.0 397.4h0M239.2 417.2h0M247.2 360.6h0M236.8 420.1h0M248.7 422.9h0M247.5 358.3h0M249.8 367.9h0M240.8 378.2h0M233.9 375.1h0M258.1 363.4h0M250.0 366.1h0M232.6 378.5h0M250.1 370.0h0M253.9 366.0h0M234.5 391.9h0M240.7 373.2h0M244.4 397.2h0M261.6 425.7h0M240.1 389.4h0M238.4 377.5h0M245.0 374.0h0M244.8 375.7h0M245.5 386.7h0M273.4 409.4h0M233.6 383.0h0M259.2 366.1h0M253.3 367.1h0M256.3 386.8h0M257.9 395.8h0M234.8 383.7h0M232.7 374.5h0M260.9 418.2h0M239.4 366.9h0M246.2 365.7h0M243.9 378.7h0M249.3 365.8h0M231.6 385.4h0M244.0 363.3h0M234.1 410.8h0M246.1 367.2h0M253.3 400.8h0M243.4 373.0h0M247.7 408.2h0M249.8 400.3h0M245.4 405.5h0M241.6 418.8h0M246.0 414.0h0M249.2 364.8h0M246.7 360.5h0M252.0 367.0h0M255.5 360.3h0M238.2 367.6h0M248.4 376.8h0M252.0 364.6h0M243.6 377.8h0M252.6 376.5h0M236.0 405.7h0M262.5 405.1h0M243.6 384.9h0M230.5 377.1h0M242.7 360.6h0M240.3 377.5h0M235.5 392.5h0M248.6 366.1h0M237.4 374.0h0M257.1 405.7h0M244.0 372.9h0M242.4 407.8h0M245.7 381.0h0M250.3 363.9h0M259.3 365.2h0M246.6 369.8h0M244.4 362.0h0M238.1 368.1h0" stroke="#c8a8d8" stroke-width="1.56" stroke-linecap="round" fill="none"/>
<path d="M253.3 381.8h0M257.0 372.2h0M236.2 389.4h0M246.9 378.2h0M274.3 409.5h0M263.1 397.3h0M248.4 387.6h0M245.4 423.2h0M235.9 464.9h0M245.5 424.6h0M244.9 366.8h0M236.7 378.4h0M254.9 379.4h0M233.6 377.4h0M243.6 375.1h0M248.3 368.1h0M252.4 375.1h0M249.9 399.8h0M248.0 373.7h0M242.4 378.4h0M244.2 359.0h0M245.1 414.6h0M237.0 366.1h0M237.9 407.8h0M249.2 406.6h0M244.2 380.8h0M247.7 414.3h0M233.3 387.3h0M231.8 373.0h0M231.6 370.9h0M241.5 383.1h0M257.6 374.8h0M232.5 370.5h0M242.9 372.4h0M243.6 425.8h0M238.6 389.7h0M254.1 365.6h0M261.9 366.3h0M251.8 365.1h0M257.9 378.3h0M250.8 364.0h0M231.3 401.1h0M247.1 383.6h0M236.3 387.7h0M256.1 384.2h0M235.2 402.1h0M244.1 397.5h0M246.2 383.4h0M246.9 368.2h0M250.1 416.1h0M250.2 425.2h0M242.6 369.0h0M262.9 406.3h0M263.5 404.1h0M264.0 401.5h0M234.4 378.9h0M247.0 369.1h0M262.8 409.1h0M249.1 412.2h0M253.7 374.3h0M258.2 393.4h0M235.6 381.6h0M238.0 370.8h0M234.4 374.8h0M257.6 374.4h0M234.9 374.0h0M246.4 376.7h0M239.9 375.4h0M250.3 376.8h0M237.7 367.6h0M248.8 373.3h0M244.7 368.5h0M257.7 409.1h0M243.8 371.6h0M242.3 421.8h0M236.7 379.3h0M245.5 390.0h0M251.9 378.3h0M264.0 395.6h0M242.8 373.3h0M241.7 369.8h0M254.7 403.9h0M254.8 395.5h0M247.4 422.1h0M231.3 377.1h0M251.3 377.0h0M239.6 384.6h0M240.3 383.5h0M256.6 380.8h0M243.5 402.0h0M246.2 372.1h0M256.9 423.2h0M243.0 365.7h0M244.3 381.4h0M243.8 371.0h0M243.1 358.7h0M259.6 396.0h0M239.8 393.5h0M242.8 365.9h0M251.0 378.5h0M253.0 381.6h0M244.6 380.0h0M243.6 376.1h0M240.6 474.5h0M242.6 368.9h0M258.2 365.3h0M256.5 377.2h0M251.7 394.6h0M246.7 362.0h0M239.1 375.9h0M249.0 409.5h0M255.6 366.9h0M241.1 382.9h0M253.3 373.9h0M240.2 375.0h0M235.8 376.0h0M246.0 374.9h0M248.5 374.3h0M246.3 374.0h0M274.7 425.6h0M249.2 377.6h0M234.1 426.8h0M277.8 412.9h0M238.0 376.0h0M236.0 383.5h0M235.5 364.9h0M240.4 369.0h0M248.7 367.5h0M247.7 369.0h0M253.8 406.8h0M233.6 470.0h0M243.9 412.8h0M256.5 369.4h0M257.0 396.0h0M256.0 412.2h0M241.1 412.4h0M242.8 366.1h0M237.4 384.8h0M247.6 408.2h0M231.8 417.0h0M236.0 369.5h0M238.7 404.0h0M242.7 375.8h0M232.2 373.6h0M254.6 370.7h0M247.1 362.5h0M239.9 404.3h0M236.4 379.7h0M240.9 374.0h0M235.4 372.0h0M236.4 374.8h0M244.9 374.6h0M244.1 374.0h0M242.4 374.9h0M263.6 424.2h0" stroke="#8848a8" stroke-width="1.56" stroke-linecap="round" fill="none"/>
<path d="M271.6 423.7h0M244.3 408.6h0M263.8 409.5h0M222.4 438.7h0M220.6 441.6h0M276.5 414.3h0M261.4 408.7h0M219.5 434.1h0M222.2 443.3h0M241.3 416.9h0M261.0 425.8h0M237.9 464.2h0M243.2 470.0h0M257.4 424.4h0M234.1 398.3h0M267.7 433.6h0M258.7 391.3h0M223.5 437.0h0M216.3 434.4h0M272.2 416.0h0M224.3 434.4h0M225.5 472.0h0M224.2 434.5h0M259.0 396.7h0M255.2 396.2h0M246.6 363.1h0M246.0 401.8h0M263.0 422.0h0M267.8 426.1h0M227.5 439.2h0M244.5 397.7h0M251.7 418.0h0M237.1 399.7h0M262.8 408.0h0M257.5 411.7h0M236.1 410.0h0M265.8 392.2h0M264.1 395.7h0M273.8 432.6h0M245.8 388.6h0M223.5 438.0h0M255.7 385.9h0M246.8 399.1h0M215.0 441.7h0M244.6 394.6h0M240.0 460.5h0M237.9 463.0h0M242.1 377.9h0M270.0 405.8h0M260.7 417.9h0M238.8 384.9h0M230.0 466.6h0M242.3 399.5h0M225.0 450.2h0M235.4 459.7h0M262.8 410.9h0M267.3 435.5h0M243.4 406.9h0M220.8 436.7h0M271.5 427.5h0M233.7 458.0h0M250.8 405.3h0M235.4 455.7h0M251.8 384.7h0M255.1 389.7h0M225.5 445.0h0M261.1 391.0h0M264.1 421.7h0M236.1 394.1h0M214.8 444.8h0M260.9 416.9h0M255.2 429.8h0M267.8 427.9h0M210.1 441.3h0M219.2 437.6h0M248.3 386.9h0M229.0 442.4h0M221.7 432.2h0M233.7 455.4h0M225.0 445.6h0M235.2 417.0h0M251.8 388.4h0M244.3 408.2h0M253.3 416.5h0M217.8 434.9h0M221.5 444.6h0M270.5 429.5h0M247.2 401.4h0M221.1 434.3h0M228.3 415.3h0M228.6 439.8h0M224.4 433.1h0M223.4 449.1h0M263.1 425.4h0M258.4 429.3h0M222.2 446.2h0M242.7 396.4h0M226.2 442.2h0M254.0 404.6h0M267.2 405.8h0M236.4 413.4h0M255.4 420.5h0M235.2 463.9h0M252.2 373.7h0M252.6 401.2h0M238.5 457.4h0M249.2 399.8h0M235.9 400.2h0M228.0 437.6h0M239.4 392.9h0M223.3 457.7h0M254.5 415.6h0M257.7 408.8h0M273.2 407.4h0M213.4 441.5h0M233.2 456.7h0M253.4 421.9h0M222.6 434.0h0M235.4 401.9h0M247.6 412.9h0M269.0 404.5h0M280.5 405.8h0M252.1 399.9h0M214.2 442.8h0M262.9 429.0h0M273.6 410.0h0M250.8 413.3h0M225.4 461.1h0M225.8 467.7h0M227.5 436.1h0M253.5 403.4h0M274.1 415.5h0M263.6 411.8h0M214.9 434.5h0M232.9 396.7h0M224.9 439.5h0M265.8 424.8h0M269.1 397.3h0M249.0 412.2h0M265.0 421.5h0M251.6 397.1h0M234.7 467.0h0M264.3 391.8h0M280.9 414.4h0M231.7 416.3h0M234.7 464.3h0M248.4 404.2h0M244.3 413.4h0M261.9 398.5h0M222.8 438.2h0M213.5 441.4h0M217.2 438.2h0M236.2 463.7h0M265.0 401.0h0M214.2 438.0h0M250.4 364.3h0M218.5 435.6h0M242.3 415.0h0M211.8 440.1h0M269.8 402.1h0M244.6 412.2h0M249.5 406.6h0M213.2 435.4h0M256.6 370.0h0M254.5 367.3h0M221.1 433.9h0M256.1 409.7h0M264.2 392.3h0M258.9 393.1h0M233.2 398.1h0M242.9 463.9h0M224.2 445.4h0M248.2 418.8h0M255.6 392.1h0M252.3 378.5h0M223.7 446.0h0M224.1 459.4h0M245.4 466.8h0M225.5 474.6h0M227.4 436.6h0M262.2 390.9h0M247.8 420.6h0M243.8 389.3h0M247.1 399.1h0M265.4 420.6h0M220.8 442.2h0M258.1 428.1h0M258.9 399.5h0M276.0 417.2h0M212.0 439.3h0M232.3 469.6h0M241.3 464.3h0M218.8 439.1h0M263.2 424.4h0M215.9 443.3h0M255.8 389.9h0M230.4 476.1h0M221.9 434.9h0M243.6 425.5h0M243.1 422.5h0M235.4 391.9h0M252.3 380.3h0M224.7 435.8h0M271.3 424.9h0M216.6 435.2h0M223.5 444.2h0M240.1 400.4h0M242.1 469.0h0M227.8 462.1h0M249.2 408.0h0M242.9 392.7h0M259.2 423.5h0M225.2 439.9h0M253.9 412.4h0M227.5 468.7h0M217.6 446.1h0M267.0 413.5h0M219.1 443.0h0M242.9 401.6h0M219.4 442.1h0M279.4 414.6h0M267.2 396.3h0M282.4 409.1h0M260.4 418.4h0M220.7 445.7h0M272.9 404.1h0M229.8 462.0h0M216.5 436.9h0M221.3 444.6h0M215.4 443.9h0M224.9 432.5h0M223.8 435.3h0M254.3 403.3h0M277.3 406.8h0M230.1 442.6h0M213.2 440.7h0M216.6 443.8h0M223.2 432.6h0M241.7 411.6h0M217.2 435.3h0M247.1 385.9h0M221.1 436.7h0M232.3 389.8h0M259.1 382.9h0M217.4 442.8h0M223.1 444.6h0M263.6 412.9h0M255.9 395.7h0M267.1 403.1h0M239.4 418.8h0M220.6 437.8h0M270.1 420.6h0M224.8 451.8h0M255.6 403.6h0M242.5 406.9h0M261.0 430.3h0M219.4 436.5h0M243.1 463.7h0M244.9 387.6h0M233.9 470.3h0M234.9 393.7h0M214.4 434.0h0M230.5 402.6h0M229.5 447.2h0M264.3 430.7h0M211.8 434.3h0M253.7 417.5h0M260.2 393.2h0M220.1 436.3h0M213.2 434.3h0M255.9 421.7h0M266.4 402.8h0M222.5 442.8h0M221.5 444.5h0M251.2 402.5h0M254.6 416.6h0M223.1 444.3h0M231.0 433.9h0M273.9 428.8h0M216.7 441.8h0M230.5 438.5h0M264.7 415.2h0M269.0 414.7h0M213.7 441.6h0M223.0 450.1h0M237.3 396.1h0M222.8 450.3h0M265.0 430.6h0M256.9 420.0h0M224.2 451.4h0M272.6 424.8h0M217.8 440.9h0M259.8 400.1h0M255.5 424.3h0M231.8 421.9h0M260.9 387.1h0M216.5 436.0h0M221.7 442.8h0M218.7 441.2h0M224.8 435.7h0M248.8 410.7h0M240.3 391.7h0M224.2 468.3h0M274.4 404.7h0M238.5 403.2h0M231.9 476.8h0M234.6 463.8h0M260.7 428.8h0M224.3 444.8h0M229.4 445.6h0M262.9 429.5h0M251.8 411.0h0M232.1 384.9h0M269.3 419.5h0M220.6 443.6h0M222.2 448.2h0M233.6 393.1h0M269.0 434.0h0M263.5 424.7h0M218.4 432.7h0M224.6 447.6h0M271.5 423.5h0M249.7 378.8h0M258.8 400.6h0M244.0 465.7h0M241.2 388.3h0M224.1 446.2h0M219.0 436.0h0M253.8 395.8h0M217.1 444.3h0M255.9 395.1h0M278.0 414.0h0M253.6 394.0h0M269.1 423.1h0M253.2 373.9h0M255.7 429.3h0M237.7 415.9h0M244.9 456.5h0M256.7 395.6h0M234.7 372.9h0M256.3 393.8h0M237.6 401.0h0M224.3 450.2h0M236.4 403.3h0M217.0 446.0h0M266.4 400.1h0M217.2 444.6h0M234.8 385.9h0M239.1 409.4h0M240.6 412.1h0M260.8 394.9h0M250.9 412.2h0M254.6 376.2h0M233.6 383.8h0M237.7 404.5h0M256.6 409.8h0M247.5 397.8h0M223.8 440.8h0M254.9 413.4h0M244.6 407.1h0M270.0 427.1h0M253.5 408.3h0M270.3 418.6h0M222.6 438.3h0M258.7 383.4h0M262.1 412.1h0M214.2 445.2h0M273.3 414.1h0M253.6 402.5h0M242.0 406.1h0M250.2 417.2h0M255.2 416.5h0M219.8 436.1h0M235.5 458.6h0M262.1 422.6h0M262.0 412.5h0M225.7 443.5h0M230.9 437.1h0M267.2 432.6h0M257.9 401.6h0M221.6 433.2h0M254.1 399.0h0M223.3 441.0h0M258.7 407.5h0M222.5 441.8h0M213.5 446.5h0M219.8 436.3h0M215.2 433.6h0M220.3 465.4h0M241.4 419.7h0M216.3 447.8h0M260.9 402.7h0M212.9 436.9h0M231.1 396.2h0M245.0 406.1h0M244.3 412.4h0M268.6 412.5h0M221.0 435.2h0M216.8 443.9h0M258.6 403.6h0M255.4 412.9h0M277.8 414.2h0M225.4 436.9h0M243.0 395.3h0M249.2 396.5h0M275.0 420.2h0M216.7 440.4h0M238.6 405.2h0M267.1 406.3h0M222.9 437.4h0M247.1 396.1h0M247.4 385.9h0M236.4 400.3h0M262.0 412.7h0M277.8 422.5h0M223.4 469.5h0M242.7 398.0h0M238.6 456.9h0M268.6 418.5h0M225.6 465.9h0M221.7 469.1h0M237.6 473.4h0M240.3 406.4h0M239.6 408.4h0M213.8 435.0h0M255.9 401.3h0" stroke="#b854a8" stroke-width="1.56" stroke-linecap="round" fill="none"/>
<path d="M275.0 423.3h0M232.6 467.7h0M237.0 456.8h0M234.1 467.2h0M256.0 397.5h0M240.2 387.8h0M237.6 465.3h0M258.9 412.9h0M233.7 452.9h0M238.8 476.6h0M242.3 419.6h0M253.2 399.1h0M275.2 412.3h0M250.5 416.1h0M247.5 404.2h0M240.7 394.3h0M242.0 410.9h0M241.3 462.0h0M271.4 402.2h0M214.4 442.3h0M240.8 416.0h0M268.1 425.5h0M239.2 458.4h0M235.3 459.8h0M254.9 404.3h0M236.1 403.5h0M264.6 397.2h0M224.7 455.2h0M259.2 412.6h0M230.8 476.8h0M240.0 421.9h0M230.8 461.8h0M227.8 401.3h0M248.8 410.2h0M226.8 465.0h0M231.5 397.7h0M243.3 461.9h0M263.1 405.8h0M228.8 465.6h0M265.0 415.3h0M263.0 412.4h0M265.4 433.1h0M245.9 468.1h0M266.0 400.7h0M259.2 409.7h0M270.3 403.8h0M248.0 379.4h0M262.3 429.3h0M250.3 423.3h0M235.6 474.9h0M256.6 406.7h0M237.8 468.8h0M226.5 461.2h0M247.0 409.3h0M253.5 459.3h0M275.5 405.0h0M243.5 467.3h0M242.5 410.3h0M246.7 466.4h0M248.8 398.3h0M232.7 470.8h0M236.3 415.8h0M268.7 401.5h0M258.6 413.5h0M250.4 399.4h0M243.9 395.5h0M241.6 412.1h0M264.3 410.9h0M245.0 426.4h0M223.8 469.0h0M229.0 406.8h0M227.4 408.7h0M271.7 422.8h0M223.2 470.8h0M247.0 399.4h0M255.8 405.2h0M232.0 401.0h0M243.1 393.7h0M260.2 417.2h0M240.3 381.2h0M252.7 463.0h0M239.5 404.6h0M273.1 401.0h0M264.3 405.7h0M231.2 464.1h0M237.8 401.5h0M247.5 394.3h0M233.9 472.8h0M252.8 412.0h0M242.7 397.1h0M233.6 466.6h0M252.8 413.4h0M266.9 430.4h0M254.4 396.3h0M236.8 415.9h0M261.9 403.0h0M259.4 421.3h0M228.3 450.2h0M233.0 464.8h0M233.3 402.1h0M255.6 405.2h0M273.7 412.2h0M240.8 462.6h0M233.4 463.0h0M250.0 402.5h0M243.2 400.2h0M241.0 411.1h0M241.6 462.6h0M238.2 387.3h0M258.1 417.1h0M268.4 401.4h0M235.9 389.2h0M226.3 453.8h0M268.5 403.1h0M274.6 403.0h0M265.4 409.3h0M244.1 465.6h0M261.3 414.1h0M243.4 404.4h0M262.5 392.7h0M229.8 469.4h0M271.6 405.1h0M248.7 405.0h0M244.8 398.8h0M264.4 410.8h0M231.6 472.5h0M250.0 395.8h0M251.1 417.2h0M248.4 422.8h0M228.8 401.7h0M234.6 458.1h0M229.1 468.8h0M236.5 472.1h0M246.7 464.4h0M251.7 418.8h0M233.0 404.7h0M232.4 466.4h0M272.8 399.9h0M243.1 410.2h0M227.5 466.3h0M230.2 461.0h0M230.9 455.1h0M272.9 411.6h0M242.9 406.3h0M255.8 408.0h0M251.9 395.7h0M241.5 367.8h0M253.6 417.3h0M242.5 399.8h0M239.3 402.2h0M258.5 398.8h0M243.8 387.3h0M263.1 425.8h0M271.9 404.5h0M257.9 417.5h0M244.9 406.1h0M241.2 387.7h0M243.7 397.0h0M239.1 413.6h0M234.8 406.5h0M235.0 464.0h0M267.4 409.7h0M252.0 415.3h0M239.2 397.2h0M234.0 466.6h0M261.5 426.7h0M241.8 464.4h0M239.5 398.4h0M254.3 419.7h0M235.2 471.4h0M239.2 400.2h0M236.4 413.1h0M257.3 396.2h0M226.6 463.7h0M260.2 404.3h0M254.3 392.8h0M221.7 443.9h0M232.7 477.1h0M244.1 403.7h0M262.8 403.3h0M252.6 394.2h0M244.3 395.0h0M237.4 396.6h0M236.8 403.9h0M239.7 393.3h0M240.6 463.5h0M237.1 393.1h0M241.3 458.5h0M265.7 421.5h0M240.9 398.3h0M231.9 458.7h0M247.3 412.0h0M261.5 425.0h0M261.0 393.6h0M247.5 395.1h0M233.1 465.8h0M212.9 439.1h0M259.4 408.0h0M241.4 459.6h0M241.6 400.6h0M244.9 467.0h0M272.7 412.7h0M221.2 473.9h0M244.0 400.7h0M258.3 405.2h0M226.2 462.4h0M246.2 409.4h0M243.8 408.2h0M242.5 403.7h0M239.1 385.7h0M244.9 404.1h0M268.9 407.8h0M241.7 400.5h0M253.2 393.6h0M228.8 469.9h0M249.8 401.8h0M249.0 402.4h0M241.0 405.9h0M261.7 408.8h0M230.4 412.1h0M239.7 409.3h0M247.2 462.8h0M258.2 383.8h0M236.4 400.9h0M259.8 400.2h0M254.7 420.0h0M235.9 477.9h0M256.5 423.9h0M249.2 454.8h0M262.2 419.9h0M242.6 390.1h0M237.6 396.0h0M244.6 460.3h0M261.0 380.3h0M254.6 392.8h0M240.6 396.0h0M236.2 462.2h0M229.8 468.6h0M231.4 467.2h0M234.0 415.8h0M234.7 391.7h0M253.8 381.2h0M242.0 420.2h0M228.7 474.5h0M237.0 470.5h0M226.9 469.9h0M264.1 405.5h0M233.1 405.0h0M240.2 462.3h0M233.0 422.9h0M259.9 389.6h0M258.2 414.9h0M257.2 395.0h0M230.6 469.2h0M245.8 410.0h0M246.8 396.7h0M234.7 400.4h0M246.0 412.0h0M251.7 419.3h0M240.9 457.7h0M243.9 411.2h0M258.0 385.7h0M211.1 443.2h0M248.7 400.8h0M251.3 407.3h0M241.2 420.0h0M232.2 385.6h0M245.2 406.7h0M277.1 421.0h0M238.2 394.0h0M249.2 406.5h0M224.0 473.0h0M232.1 396.2h0M249.8 406.8h0M241.2 389.2h0M219.3 435.1h0M216.4 434.0h0M241.2 466.3h0M245.4 454.0h0M256.8 417.0h0M232.1 474.6h0M241.3 467.9h0M276.4 406.1h0M260.3 391.0h0M242.2 467.7h0M261.2 388.3h0M246.7 382.2h0M254.7 409.0h0M251.1 394.5h0M235.4 455.3h0M235.8 395.9h0M280.8 414.0h0M271.6 399.8h0M214.2 446.4h0M261.6 392.5h0M232.5 474.4h0M266.1 432.6h0M245.1 398.5h0M235.2 473.7h0M279.4 409.6h0M220.7 465.7h0M236.3 466.0h0M267.2 427.2h0M233.7 419.0h0M243.4 466.1h0M239.7 397.4h0M228.1 461.0h0M233.8 461.0h0M243.4 392.7h0M230.5 391.7h0M268.0 400.5h0M214.3 444.3h0M243.0 383.3h0M237.8 400.1h0M248.0 457.1h0M259.2 391.0h0M259.1 405.4h0M251.8 402.4h0M259.6 408.7h0M255.0 415.7h0M245.9 408.2h0M252.0 421.3h0M239.6 457.0h0M235.3 401.2h0M261.8 414.2h0M237.7 389.0h0M239.0 419.6h0M254.9 398.4h0M255.7 406.6h0M245.0 406.6h0M233.0 464.7h0M250.0 462.7h0M245.6 388.2h0M245.3 403.3h0M249.3 408.3h0M271.6 415.5h0M232.7 429.1h0M260.7 396.3h0M237.3 405.2h0M249.9 395.7h0M242.3 382.8h0M235.3 468.3h0M258.8 406.6h0M235.7 464.7h0M243.9 422.2h0M272.6 406.3h0M249.8 408.8h0M250.0 391.4h0M232.1 464.8h0M247.0 418.7h0M220.6 442.1h0M250.0 392.4h0M218.8 444.8h0M248.7 406.1h0M259.1 402.3h0M273.7 417.6h0M253.8 381.5h0M241.3 405.8h0M219.8 436.6h0M248.9 390.4h0M261.9 402.7h0M225.2 454.3h0M237.4 391.2h0M250.6 383.3h0M267.0 399.9h0M243.9 396.4h0M243.6 401.1h0M244.5 461.4h0M263.4 404.1h0M234.2 424.0h0M256.2 388.7h0M254.8 393.8h0M246.4 379.8h0M261.1 409.2h0M244.7 390.1h0M233.8 462.2h0M262.6 397.9h0M260.1 427.1h0M261.4 422.8h0M246.1 461.1h0M253.0 408.4h0M274.4 399.5h0M262.9 428.0h0M232.5 416.7h0M261.2 429.4h0M261.8 392.9h0M233.9 402.7h0M240.4 401.3h0M250.1 387.4h0M233.3 404.7h0M246.6 411.4h0M236.9 412.4h0M246.9 410.0h0M258.9 396.3h0M251.7 387.7h0M258.5 420.5h0M242.0 458.6h0M238.7 415.8h0M250.3 406.6h0M237.7 390.8h0M234.8 464.6h0M269.1 410.1h0M239.0 396.0h0M222.2 467.7h0M263.9 402.8h0M267.1 414.3h0M248.4 418.6h0M238.8 405.2h0M252.5 425.8h0M238.4 415.1h0M256.5 407.5h0M246.5 419.1h0M235.8 461.4h0M214.6 439.1h0M237.9 392.7h0M235.4 463.6h0M241.6 464.7h0M247.9 386.1h0M265.7 397.8h0M246.5 427.3h0M227.6 463.0h0M234.0 477.5h0M212.3 444.9h0M267.1 402.8h0M254.0 386.7h0M238.9 458.9h0M268.2 395.0h0M258.1 403.5h0M265.8 395.7h0M249.8 388.2h0M244.7 456.4h0M232.4 398.1h0M246.6 398.2h0M238.0 400.7h0M277.5 408.8h0M239.2 396.8h0M223.2 441.0h0M247.8 412.4h0M237.1 463.0h0M268.8 398.0h0M234.4 460.4h0M241.5 389.7h0M238.3 397.9h0M242.9 400.4h0M237.7 470.0h0M234.2 417.6h0M253.2 418.4h0M249.8 414.0h0M276.3 403.2h0M239.2 386.2h0M247.5 398.1h0M221.5 437.5h0M253.6 402.7h0M253.5 405.0h0M234.6 462.5h0M268.7 400.3h0M254.9 402.1h0M240.8 422.0h0M235.1 467.5h0M268.1 431.2h0M251.1 408.7h0M261.1 417.3h0M245.6 376.1h0M236.1 394.6h0M223.3 442.1h0M231.1 467.9h0M222.2 466.9h0M246.2 410.7h0M231.0 474.1h0M230.7 466.8h0M239.2 412.3h0M250.9 411.9h0M262.4 415.0h0M238.4 464.4h0M250.3 402.2h0M255.1 372.4h0M266.9 414.1h0M254.6 415.2h0M264.4 404.8h0M218.3 443.4h0M232.6 460.4h0M236.6 459.7h0M252.8 412.1h0M249.0 405.3h0M262.8 392.5h0M237.7 468.9h0M251.0 400.5h0M253.6 420.5h0M241.7 405.4h0M252.8 400.7h0M243.6 380.5h0M253.3 418.6h0M245.0 465.7h0M254.1 408.2h0M238.3 392.0h0M229.5 462.2h0M258.5 406.4h0M268.3 395.4h0M243.2 385.6h0M255.8 410.5h0M246.7 419.2h0M244.8 461.7h0M232.6 468.6h0M210.0 442.9h0M234.2 469.7h0M233.1 402.4h0M247.8 412.2h0M249.0 403.3h0M243.7 402.2h0M272.7 416.2h0M249.1 409.9h0M238.1 392.8h0M253.3 408.6h0M240.1 403.5h0M233.4 452.3h0M226.7 441.8h0M268.5 435.2h0M274.4 406.4h0M229.9 463.5h0M258.0 422.0h0M234.2 403.4h0M253.6 398.1h0M248.5 413.6h0M233.9 466.6h0M267.2 420.9h0M245.0 455.7h0M250.0 416.7h0M268.8 405.3h0M254.9 419.2h0M268.2 406.3h0M245.6 426.9h0M228.6 440.6h0M235.0 411.0h0M262.9 409.8h0M238.5 399.2h0" stroke="#a01868" stroke-width="1.56" stroke-linecap="round" fill="none"/>
<path d="M234.2 398.3h0M230.4 476.1h0M257.1 427.2h0M215.3 437.9h0M225.9 472.3h0M241.8 462.0h0M276.2 407.9h0M253.4 392.9h0M266.0 426.1h0M244.8 389.2h0M238.1 390.9h0M248.6 407.3h0M250.4 463.4h0M240.5 408.4h0M256.0 400.1h0M239.8 409.5h0M242.5 397.3h0M230.1 410.1h0M227.6 435.1h0M228.4 454.0h0M229.0 472.6h0M260.4 404.5h0M212.9 434.1h0M238.2 406.8h0M212.7 443.1h0M245.8 409.4h0M241.3 410.0h0M249.6 464.0h0M229.6 462.3h0M246.3 418.4h0M255.3 415.6h0M248.6 409.1h0M238.8 382.5h0M249.6 411.1h0M254.8 403.1h0M237.0 393.5h0M266.4 415.4h0M256.3 425.3h0M243.2 455.6h0M235.9 386.3h0M262.2 418.0h0M265.6 419.2h0M272.3 419.8h0M230.8 405.4h0M269.9 422.6h0M268.5 402.0h0M237.0 467.5h0M262.2 389.2h0M238.7 457.2h0M261.4 411.4h0M237.2 399.5h0M211.7 439.9h0M237.5 456.4h0M246.8 413.4h0M233.4 466.1h0M246.5 410.9h0M267.0 419.6h0M243.6 424.5h0M270.2 410.6h0M242.4 458.1h0M259.5 395.5h0M235.1 380.3h0M226.3 470.0h0M225.8 469.0h0M265.3 393.4h0M238.8 421.9h0M271.5 416.5h0M249.2 385.7h0M248.9 405.6h0M253.2 412.8h0M252.6 413.4h0M266.9 398.1h0M243.4 402.2h0M280.2 414.1h0M219.9 440.8h0M243.9 403.5h0M240.9 467.6h0M228.1 466.9h0M213.6 434.9h0M222.4 440.5h0M249.0 402.3h0M251.2 409.3h0M232.7 463.8h0M249.2 413.3h0M229.0 458.5h0M233.7 408.2h0M252.6 385.7h0M253.4 415.9h0M214.9 439.5h0M220.9 472.7h0M252.8 406.9h0M233.0 418.8h0M259.1 393.1h0M217.9 432.9h0M229.0 462.9h0M259.6 402.9h0M263.2 409.5h0M233.4 411.7h0M239.0 407.2h0M241.5 391.5h0M254.7 401.5h0M251.3 399.6h0M240.3 475.4h0M215.3 438.1h0M258.2 395.0h0M225.7 470.8h0M235.6 476.8h0M260.6 415.0h0M230.5 475.8h0M256.3 391.1h0M260.2 432.0h0M258.3 413.5h0M259.0 425.7h0M224.4 469.2h0M263.9 419.2h0M269.4 395.6h0M233.3 471.1h0M266.5 417.6h0M269.3 407.3h0M234.4 404.3h0M217.2 441.2h0M255.5 404.3h0M254.4 394.7h0M277.5 404.4h0M252.8 411.9h0M244.4 457.4h0M222.7 470.2h0M248.2 406.3h0M246.6 413.0h0M251.8 427.5h0M242.7 423.9h0M264.1 390.4h0M256.2 421.4h0M239.7 395.4h0M221.8 463.8h0M249.2 401.2h0M233.4 423.1h0M259.5 416.1h0M232.6 417.9h0M271.2 430.1h0M217.9 440.0h0M208.9 437.3h0M224.6 465.3h0M245.0 402.9h0" stroke="#6cc4a8" stroke-width="1.56" stroke-linecap="round" fill="none"/>
<path d="M224.1 447.5h0M245.7 383.5h0M236.0 469.6h0M254.5 414.3h0M254.3 405.3h0M234.9 473.3h0M247.2 411.1h0M237.7 464.9h0M235.2 454.1h0M211.8 434.1h0M243.8 393.2h0M233.7 415.8h0M244.1 464.9h0M256.1 389.6h0M245.4 466.3h0M236.3 407.8h0M262.3 404.7h0M252.6 388.0h0M229.8 398.8h0M253.0 392.3h0M275.7 403.9h0M243.5 383.0h0M229.6 420.2h0M245.2 396.4h0M250.6 402.8h0M266.6 409.8h0M228.7 467.6h0M267.5 398.2h0M260.7 399.7h0M264.8 404.8h0M238.9 414.0h0M241.8 401.6h0M247.5 456.0h0M232.8 471.3h0M276.8 413.9h0M228.2 431.5h0M252.5 407.5h0M238.0 409.4h0M263.5 412.1h0M252.1 397.1h0M261.7 402.0h0M231.8 463.2h0M258.7 402.7h0M257.2 430.0h0M236.9 394.6h0M244.5 408.0h0M269.7 394.5h0M250.7 396.8h0M229.7 389.9h0M232.3 396.8h0M259.1 415.8h0M259.9 420.2h0M248.9 383.9h0M236.9 402.6h0M265.7 400.6h0M253.3 397.6h0M249.0 417.6h0M261.6 400.0h0M225.8 469.3h0M238.0 459.9h0M257.9 409.0h0M265.1 392.1h0M237.5 407.4h0M249.2 419.2h0M244.1 409.0h0M241.8 468.8h0M252.8 424.9h0M241.3 400.9h0M261.2 395.6h0M248.6 418.1h0M266.7 401.4h0M238.3 382.4h0M250.6 389.1h0M255.2 409.6h0M261.3 406.0h0M241.7 462.4h0M244.4 382.6h0M264.6 398.2h0M233.9 393.8h0M247.9 405.1h0M237.0 454.0h0M263.8 390.7h0M249.3 408.6h0M237.6 411.4h0M247.5 412.1h0M242.1 472.6h0M244.2 411.9h0M226.9 466.4h0M274.9 417.7h0M255.9 421.4h0M224.9 469.8h0M252.6 387.3h0M243.0 454.3h0M237.1 382.2h0M259.2 410.5h0M262.7 391.9h0M219.8 440.2h0M239.8 465.2h0M261.5 421.0h0M243.3 416.9h0M239.4 385.1h0M242.5 401.6h0M268.8 406.2h0M255.5 417.3h0M228.3 470.3h0M250.4 402.7h0M230.8 421.1h0M248.2 457.2h0M274.3 415.8h0M274.1 401.4h0M267.8 413.6h0M259.6 422.2h0M246.9 457.8h0M238.9 383.8h0M246.7 396.9h0M261.5 395.0h0M238.6 412.5h0M258.3 396.9h0M230.9 469.1h0M253.2 384.7h0M221.9 464.6h0M242.3 388.9h0M249.7 455.7h0M255.4 395.4h0M259.4 401.6h0M250.1 412.4h0M250.8 393.0h0M260.0 419.8h0M254.4 400.1h0M243.9 377.0h0M245.2 397.0h0M258.4 427.9h0M249.2 412.6h0M254.1 411.3h0M255.8 418.2h0M233.8 461.0h0M246.3 408.4h0M259.6 404.4h0M242.6 416.8h0M255.8 402.3h0M230.3 462.7h0M246.7 420.8h0M237.8 459.3h0M254.7 394.5h0M251.5 373.4h0M247.9 403.4h0M248.5 462.6h0M233.6 464.6h0M241.0 470.3h0M277.0 406.0h0M253.1 397.5h0" stroke="#40c0e8" stroke-width="1.56" stroke-linecap="round" fill="none"/>
<path d="M263.2 424.5h0M256.6 409.1h0M249.3 405.8h0M253.3 381.1h0M281.7 412.9h0M254.7 399.4h0M235.3 407.1h0M269.2 406.5h0M238.9 406.2h0M260.9 432.0h0M261.0 416.5h0M273.8 410.7h0M244.0 416.4h0M234.0 408.2h0M271.6 422.2h0M237.4 395.6h0M257.2 412.8h0M252.8 408.4h0M250.9 396.3h0M248.7 398.5h0M254.4 397.3h0M255.9 421.6h0M237.0 372.0h0M248.4 384.4h0M243.1 421.2h0M246.7 406.4h0M249.3 398.3h0M238.6 412.9h0M240.7 419.9h0M236.8 407.2h0M276.5 414.4h0M236.6 420.5h0M273.1 421.1h0M268.1 413.4h0M245.1 422.4h0M250.9 391.8h0M280.7 408.6h0M251.8 403.9h0M229.0 390.6h0M277.2 412.9h0M247.2 382.8h0M255.8 421.7h0M256.9 424.5h0M252.1 416.2h0M250.8 405.5h0M237.3 397.4h0M274.7 407.3h0M251.2 410.1h0M272.6 414.0h0M255.1 407.6h0M241.2 411.7h0M273.1 413.1h0M271.7 409.3h0M278.7 405.4h0M249.0 405.3h0M261.1 421.7h0M248.2 402.5h0M248.6 357.5h0M240.7 382.6h0M258.0 401.1h0M255.0 373.7h0M274.0 405.8h0M262.6 403.3h0M243.1 397.6h0M272.0 421.4h0M263.0 388.6h0M267.8 417.3h0M247.9 409.3h0M271.7 414.3h0M267.7 421.0h0M260.7 408.8h0M258.1 398.6h0M253.8 402.3h0M270.9 407.4h0M273.3 402.5h0M242.6 396.3h0M273.3 408.7h0M278.4 408.7h0M263.2 414.6h0M241.8 373.8h0M271.6 417.7h0M248.1 401.8h0M232.1 417.3h0M250.6 381.7h0M257.5 418.9h0M265.0 420.0h0M272.7 409.6h0M245.0 386.9h0M244.8 409.1h0M258.6 431.1h0M271.5 419.0h0M252.3 389.7h0M270.0 408.4h0M258.5 398.0h0M269.4 423.8h0M255.5 421.8h0M270.5 407.0h0M235.3 407.7h0M267.4 414.1h0M273.2 406.3h0M266.2 400.6h0M264.3 423.9h0M249.0 373.3h0M264.0 419.1h0M267.5 395.9h0M273.8 409.2h0M241.8 374.0h0M233.4 404.1h0M238.0 383.3h0M271.5 407.3h0M273.1 417.9h0M243.8 392.0h0M263.1 383.9h0M263.8 414.8h0M261.0 400.5h0M241.1 405.3h0M263.8 419.6h0" stroke="#6cb83c" stroke-width="1.56" stroke-linecap="round" fill="none"/>
<path d="M276.6 422.9h0M271.5 413.0h0M259.2 392.5h0M264.6 408.9h0M274.3 430.8h0M257.7 416.2h0M227.6 435.1h0M278.2 417.7h0M254.9 362.9h0M280.9 416.2h0M237.8 408.0h0M267.8 422.3h0M269.3 418.3h0M256.6 362.0h0M274.5 415.3h0M259.2 361.8h0M249.1 399.5h0M269.5 423.7h0M263.3 413.8h0M274.7 404.6h0M238.3 466.2h0M227.8 437.1h0M267.1 418.4h0M259.4 420.4h0M269.3 420.9h0M276.5 409.8h0M266.4 423.0h0M274.7 421.0h0M246.7 398.8h0M261.1 421.4h0M244.3 383.2h0M267.5 411.4h0M258.0 396.2h0M259.6 380.3h0M253.0 375.8h0M258.9 403.1h0M244.6 400.3h0M260.9 426.8h0M238.1 421.0h0M273.4 418.5h0M241.4 398.2h0M235.8 391.4h0M231.8 413.9h0M279.5 407.4h0M255.0 416.3h0M268.7 427.0h0M263.3 412.8h0M261.9 409.6h0M231.8 475.6h0M256.1 416.5h0M270.0 425.6h0M241.2 382.5h0M235.9 392.9h0M272.7 421.0h0M271.0 404.2h0M249.8 397.5h0M271.0 431.5h0M229.7 467.4h0M240.1 402.5h0M254.7 393.5h0M275.7 423.1h0M239.3 413.8h0M259.8 365.0h0M260.3 415.8h0M268.7 418.9h0M218.0 432.8h0M272.5 426.7h0M235.2 421.7h0M262.0 427.3h0M248.5 386.3h0M258.9 412.5h0M252.4 410.7h0M260.6 398.3h0M241.7 403.6h0M262.4 397.1h0M261.7 408.5h0M276.1 424.1h0M259.1 411.6h0M238.5 411.4h0M275.9 415.1h0M274.8 421.0h0M263.7 394.3h0M268.0 395.4h0M266.5 423.5h0M224.0 433.3h0M269.6 410.3h0M246.2 421.4h0M234.2 381.3h0M258.2 418.9h0M250.3 408.9h0M223.5 434.8h0M237.7 383.7h0M266.4 419.9h0M269.1 415.0h0M230.4 466.9h0M230.1 467.8h0M272.6 424.2h0M269.2 416.9h0M231.7 471.5h0M227.2 432.5h0M252.7 370.0h0M257.7 415.6h0M240.3 475.3h0M261.9 420.9h0M276.1 412.8h0M271.2 435.3h0M241.3 464.0h0M247.8 412.2h0M257.8 389.4h0M273.7 431.2h0M237.1 408.7h0M255.0 398.2h0M248.6 412.4h0M270.5 419.4h0M253.0 394.9h0M269.8 417.9h0M261.7 415.3h0M260.9 422.5h0M256.0 370.9h0M245.9 404.6h0M264.1 417.2h0M247.1 419.3h0M239.3 390.3h0M262.6 412.3h0M234.4 414.4h0M268.2 425.6h0M253.6 407.0h0M246.3 464.3h0M247.3 417.0h0M256.9 405.6h0M273.1 406.4h0M278.9 411.4h0M230.4 389.7h0M239.5 392.0h0M258.7 405.1h0M234.6 387.9h0M242.8 411.2h0M256.3 397.5h0M226.5 434.7h0M246.1 410.5h0M244.8 401.1h0" stroke="#f4a0a0" stroke-width="1.56" stroke-linecap="round" fill="none"/>
<path d="M248.3 387.2h0M258.6 365.9h0M225.7 431.8h0M259.2 400.7h0M237.4 463.8h0M279.6 410.2h0M245.5 388.1h0M275.8 414.3h0M226.9 463.2h0M248.8 406.6h0M234.1 466.8h0M242.2 367.6h0M246.3 378.2h0M232.8 396.7h0M248.0 400.7h0M250.3 404.5h0M246.8 462.7h0M246.9 361.7h0M236.9 454.9h0M227.2 431.4h0M260.6 428.1h0M255.9 411.1h0M234.0 461.2h0M228.8 475.8h0M251.8 385.7h0M252.3 378.1h0M248.2 381.8h0M256.5 372.4h0M237.2 398.9h0" stroke="#f5a81c" stroke-width="1.56" stroke-linecap="round" fill="none"/>
<path d="M272.3 401.0h0M249.5 409.9h0M240.9 410.5h0M230.6 386.0h0M256.1 412.5h0M250.3 417.4h0M259.7 412.6h0M263.3 382.9h0M233.4 412.0h0M240.7 422.1h0M242.1 398.7h0M268.8 425.9h0M255.5 411.8h0M244.0 409.2h0M252.4 417.8h0M252.0 419.4h0M265.9 426.1h0" stroke="#4472c4" stroke-width="1.56" stroke-linecap="round" fill="none"/>
<path d="M248.1 383.0h0M250.1 380.6h0M250.6 380.2h0M247.8 382.7h0M245.2 384.0h0M249.3 384.9h0M246.7 382.6h0M252.5 382.1h0M250.1 384.7h0M249.6 382.3h0M251.7 385.4h0M252.1 386.4h0M250.9 382.9h0M250.2 381.3h0M245.8 382.9h0M247.9 385.9h0M248.7 384.4h0M250.2 383.0h0M250.3 382.5h0M252.5 380.4h0M251.4 383.7h0M248.8 384.2h0M251.7 384.4h0M250.8 387.6h0M249.9 386.4h0M250.2 382.2h0M252.7 381.5h0M250.6 383.2h0M246.1 383.4h0M255.1 380.2h0M247.8 382.6h0M243.4 384.4h0M253.8 382.4h0M242.1 380.4h0M254.6 381.5h0M249.1 383.2h0M247.3 383.1h0M249.8 385.9h0M242.6 381.4h0M247.0 385.7h0M250.7 381.2h0M248.5 383.4h0M246.7 381.1h0M255.6 387.1h0M248.4 383.0h0M244.6 382.3h0M246.5 382.0h0M250.1 385.2h0M250.8 382.6h0M251.0 384.3h0M245.2 387.0h0M247.7 382.7h0M247.9 385.2h0M248.3 381.6h0M246.6 382.8h0M250.2 383.9h0M256.9 383.9h0M247.1 383.2h0M253.6 384.8h0M247.0 383.9h0" stroke="#f8f5f8" stroke-width="1.6" stroke-linecap="round" fill="none"/>
<path d="M233.5 380.5h0M234.0 369.4h0M236.8 379.3h0M233.0 393.0h0M238.5 378.3h0M235.4 383.1h0M235.5 380.0h0M235.0 365.0h0M239.0 367.7h0M238.4 375.6h0M231.2 391.4h0M232.3 387.6h0M233.2 376.0h0M232.5 373.4h0M233.5 366.3h0M231.7 371.4h0M234.1 383.2h0M233.0 383.2h0M235.0 376.4h0M235.7 388.3h0M231.8 371.9h0M235.8 374.2h0M233.1 379.3h0M234.0 367.2h0M231.7 378.1h0M232.1 372.3h0M232.1 376.9h0M234.5 391.8h0M237.3 371.2h0M234.1 367.5h0M237.1 368.1h0M234.4 379.7h0M230.9 368.4h0M236.7 370.2h0M236.3 365.2h0M233.0 375.0h0M234.0 375.6h0M234.1 384.1h0M234.3 386.6h0M235.0 374.5h0M234.5 379.5h0M234.0 382.2h0M232.1 374.4h0M235.6 379.2h0M234.6 376.4h0M232.3 382.8h0M234.5 382.7h0M237.7 384.1h0M236.4 374.9h0M230.3 378.2h0M233.9 380.8h0M235.5 371.2h0M233.6 376.1h0M231.3 371.4h0M231.3 380.8h0M231.3 381.2h0M234.8 367.1h0M236.8 379.9h0M238.2 375.7h0M233.4 379.3h0M235.1 380.5h0M236.8 377.5h0M233.9 368.7h0M232.6 378.9h0M236.2 378.9h0M235.4 387.3h0M236.5 378.7h0M231.3 387.5h0M236.9 380.3h0M233.9 367.9h0M237.4 382.1h0M232.2 383.6h0M235.6 372.1h0M232.2 381.9h0M234.3 387.1h0M238.4 373.4h0M233.4 386.9h0M237.1 371.3h0M234.1 381.4h0M234.5 384.1h0M232.9 391.1h0M234.8 384.3h0M235.5 380.1h0M235.2 384.7h0M231.9 370.8h0M234.7 375.1h0M232.5 372.9h0M238.3 377.8h0M235.7 389.0h0M233.6 372.1h0M236.9 364.2h0M235.3 369.0h0M237.5 374.4h0M233.3 368.5h0M230.5 378.7h0M232.1 374.1h0M236.8 383.2h0M235.4 365.2h0M233.2 373.9h0M232.3 386.6h0M234.1 370.7h0M232.6 379.3h0M236.1 372.5h0M232.8 386.4h0M235.2 368.2h0M232.6 375.0h0M234.1 383.2h0M231.1 376.1h0M237.8 386.9h0M236.4 368.4h0M234.1 382.4h0M234.1 379.6h0M234.5 383.5h0M235.9 379.2h0M234.6 378.8h0M236.6 368.4h0M234.2 397.1h0M233.8 372.5h0M231.7 374.4h0M235.6 377.5h0" stroke="#eeeaee" stroke-width="1.6" stroke-linecap="round" fill="none"/>
<path d="M259.3 369.4h0M260.4 375.1h0M259.8 375.7h0M264.7 389.9h0M259.7 389.8h0M263.1 369.9h0M258.8 384.7h0M259.4 386.2h0M264.6 393.2h0M263.6 385.6h0M259.0 386.8h0M258.5 373.9h0M258.5 379.6h0M257.1 381.3h0M259.9 386.7h0M267.1 392.3h0M261.4 386.6h0M262.7 384.3h0M260.6 390.7h0M261.5 374.2h0M260.8 379.7h0M257.3 388.1h0M262.9 379.9h0M258.3 380.2h0M261.9 370.1h0M260.1 384.3h0M260.4 367.5h0M260.1 373.9h0M261.8 392.3h0M259.7 386.6h0M261.6 385.9h0M259.8 374.0h0M265.2 392.5h0M262.3 385.0h0M256.8 378.6h0M262.2 386.6h0M259.0 380.3h0M264.9 391.6h0M262.7 371.9h0M262.5 364.6h0M262.8 371.8h0M260.6 379.3h0M260.4 381.5h0M256.7 378.6h0M262.3 380.9h0M261.3 376.0h0M262.1 377.5h0M260.1 378.6h0M257.6 387.0h0M260.1 378.2h0M257.4 384.9h0M257.8 369.9h0M259.3 388.7h0M258.5 371.7h0M262.6 385.6h0M259.4 382.2h0M260.5 387.1h0M262.9 379.2h0M258.2 373.5h0M258.8 369.4h0" stroke="#eeeaee" stroke-width="1.6" stroke-linecap="round" fill="none"/>
<path d="M225.1 398.3L224.1 408.0L225.6 417.5L225.6 424.0L224.3 427.1L222.1 428.6L211.6 430.2L207.0 433.3L205.8 435.1L205.2 441.6L208.8 448.2L221.1 453.0L221.7 454.1L216.5 463.4L214.4 469.5L215.0 471.7L218.3 475.8L223.6 478.9L236.0 483.0L237.5 482.4L242.6 477.6L250.0 469.5L255.2 466.4L257.9 460.7L257.5 459.1L254.0 453.8L247.6 450.6L246.2 450.3L239.6 451.2L236.6 450.6L234.8 447.8L234.2 437.5L234.4 432.1L236.3 429.2L242.0 429.1L254.9 433.0L265.2 438.4L269.3 440.0L271.7 439.9L276.0 437.2L276.9 436.1L278.1 429.3L283.7 418.3L285.8 409.5L284.3 405.3L277.4 397.7L269.8 390.4L266.2 384.2L267.0 366.3L264.2 361.2L263.0 360.1L255.3 356.4L247.2 353.3L245.4 353.6L238.8 357.5L231.7 363.4L227.2 368.0L227.5 375.6L226.1 384.1L224.1 390.3L225.1 398.3Z" fill="none" stroke="#1c1c1c" stroke-width="1.1" stroke-linecap="round" stroke-dasharray="0.01 2.1"/>
<path d="M180.4 483.2V504.8H202.6" stroke="#111" stroke-width="1.35" fill="none"/>
<path d="M180.4 480.2L182.6 485.2L178.2 485.2Z" fill="#111"/>
<path d="M205.6 504.8L200.6 507.0L200.6 502.6Z" fill="#111"/>
<text x="174.6" y="493" text-anchor="middle" stroke="#1f1f1f" transform="rotate(-90 174.6 493)" stroke-width="0.16">UMAP 2</text>
<text x="193.6" y="515.2" text-anchor="middle" stroke="#1f1f1f" stroke-width="0.16">UMAP 1</text>
<circle cx="289.9" cy="438.5" r="2.4" fill="#e8262a"/>
<text x="297.2" y="441.3" stroke="#1f1f1f" stroke-width="0.16">IUE-ZR-1</text>
<circle cx="289.9" cy="446.3" r="2.4" fill="#b854a8"/>
<text x="297.2" y="449.1" stroke="#1f1f1f" stroke-width="0.16">IUE-ZR-2</text>
<circle cx="289.9" cy="454.0" r="2.4" fill="#6cb83c"/>
<text x="297.2" y="456.8" stroke="#1f1f1f" stroke-width="0.16">IUE-ZR-3-rep1</text>
<circle cx="289.9" cy="461.8" r="2.4" fill="#4472c4"/>
<text x="297.2" y="464.6" stroke="#1f1f1f" stroke-width="0.16">IUE-ZR-3-rep2</text>
<circle cx="289.9" cy="469.6" r="2.4" fill="#f5a81c"/>
<text x="297.2" y="472.4" stroke="#1f1f1f" stroke-width="0.16">IUE-ZR-3-rep3</text>
<circle cx="289.9" cy="477.4" r="2.4" fill="#a01868"/>
<text x="297.2" y="480.2" stroke="#1f1f1f" stroke-width="0.16">IUE-ZR-4-rep1</text>
<circle cx="289.9" cy="485.1" r="2.4" fill="#6cc4a8"/>
<text x="297.2" y="487.9" stroke="#1f1f1f" stroke-width="0.16">IUE-ZR-4-rep2</text>
<circle cx="289.9" cy="492.9" r="2.4" fill="#40c0e8"/>
<text x="297.2" y="495.7" stroke="#1f1f1f" stroke-width="0.16">IUE-ZR-4-rep3</text>
<circle cx="289.9" cy="500.7" r="2.4" fill="#c8a8d8"/>
<text x="297.2" y="503.5" stroke="#1f1f1f" stroke-width="0.16">IUE-ZR-6</text>
<circle cx="289.9" cy="508.4" r="2.4" fill="#8848a8"/>
<text x="297.2" y="511.2" stroke="#1f1f1f" stroke-width="0.16">IUE-ZR-5-rep1</text>
<circle cx="289.9" cy="516.2" r="2.4" fill="#f4a0a0"/>
<text x="297.2" y="519.0" stroke="#1f1f1f" stroke-width="0.16">IUE-ZR-5-rep2</text>
<text x="381.6" y="333" font-size="11.2" font-weight="bold" fill="#000" stroke="#000" stroke-width="0.45">f</text>
<text x="444.8" y="336.2" text-anchor="middle" stroke="#1f1f1f" stroke-width="0.16">IUE ZR tumour cells</text>
<text x="444.8" y="345.8" text-anchor="middle" stroke="#1f1f1f" stroke-width="0.16">Dominant lineage barcode</text>
<path d="M385.5 433.3C386.2 432.2 388.4 431.4 390.2 431.6C391.9 431.8 393.9 433.3 396.0 434.4C398.2 435.6 400.3 437.8 403.0 438.6C405.8 439.4 409.3 439.4 412.4 439.1C415.5 438.8 418.6 437.7 421.7 436.8C424.8 435.8 427.9 434.3 431.1 433.3C434.2 432.2 437.3 431.2 440.4 430.2C443.5 429.2 447.2 427.5 449.7 427.4C452.3 427.3 454.4 428.4 455.6 429.7C456.8 431.1 457.0 433.4 456.8 435.6C456.6 437.7 456.4 441.3 454.4 442.6C452.5 443.9 448.2 442.9 445.1 443.3C442.0 443.7 438.8 444.1 435.7 444.9C432.6 445.8 429.1 447.5 426.4 448.4C423.7 449.3 421.5 450.5 419.4 450.3C417.2 450.1 415.5 447.8 413.5 447.3C411.6 446.8 409.8 446.7 407.7 447.3C405.6 447.9 402.8 449.5 400.7 450.8C398.6 452.1 396.4 455.0 394.9 455.0C393.3 455.0 392.5 452.6 391.4 450.8C390.2 448.9 388.7 445.9 387.8 443.8C387.0 441.6 386.6 439.7 386.2 437.9C385.8 436.2 384.8 434.3 385.5 433.3Z" fill="#f2d27c" opacity="0.78"/>
<path d="M452.1 408.7C452.3 406.0 452.9 403.9 454.4 401.7C456.0 399.6 459.1 397.0 461.4 395.9C463.8 394.7 466.1 394.3 468.4 394.7C470.8 395.1 473.5 397.0 475.4 398.2C477.4 399.4 478.2 400.7 480.1 401.7C482.1 402.7 484.8 404.2 487.1 404.1C489.5 403.9 492.6 400.4 494.1 400.6C495.7 400.7 495.5 403.3 496.5 405.2C497.4 407.2 498.4 409.9 500.0 412.2C501.5 414.6 503.7 417.7 505.8 419.2C508.0 420.8 510.5 420.4 512.8 421.6C515.2 422.7 518.3 424.7 519.8 426.2C521.4 427.8 522.4 429.2 522.2 430.9C522.0 432.7 520.2 434.8 518.7 436.8C517.1 438.7 514.6 440.3 512.8 442.6C511.1 444.9 509.7 448.2 508.1 450.8C506.6 453.3 505.0 455.4 503.5 457.8C501.9 460.1 500.0 462.5 498.8 464.8C497.6 467.1 497.6 470.0 496.5 471.8C495.3 473.5 493.4 475.1 491.8 475.3C490.2 475.5 488.3 474.3 487.1 473.0C486.0 471.6 486.0 468.9 484.8 467.1C483.6 465.4 482.1 463.8 480.1 462.5C478.2 461.1 475.2 460.3 473.1 458.9C471.0 457.6 469.0 456.0 467.3 454.3C465.5 452.5 464.0 450.6 462.6 448.4C461.2 446.3 459.9 443.8 459.1 441.4C458.3 439.1 458.5 436.8 457.9 434.4C457.3 432.1 456.4 430.1 455.6 427.4C454.8 424.7 453.8 421.2 453.3 418.1C452.7 415.0 451.9 411.5 452.1 408.7Z" fill="#4a82ab" opacity="0.66"/>
<path d="M478.9 372.5C480.1 371.2 482.8 369.4 484.8 369.0C486.7 368.6 489.1 369.2 490.6 370.2C492.2 371.2 493.4 372.7 494.1 374.9C494.9 377.0 495.3 380.1 495.3 383.0C495.3 386.0 494.5 389.5 494.1 392.4C493.7 395.3 493.7 400.2 493.0 400.6C492.2 400.9 490.6 396.5 489.5 394.7C488.3 393.0 487.3 391.4 486.0 390.0C484.6 388.7 482.6 387.5 481.3 386.5C479.9 385.6 478.8 383.6 477.8 384.2C476.8 384.8 476.2 388.9 475.4 390.0C474.7 391.2 473.1 392.4 473.1 391.2C473.1 390.0 474.7 385.4 475.4 383.0C476.2 380.7 477.2 378.9 477.8 377.2C478.4 375.4 477.8 373.9 478.9 372.5Z" fill="#f08a78" opacity="0.62"/>
<path d="M394.1 447.1h0M391.1 433.9h0M431.4 440.0h0M417.7 441.1h0M398.8 450.7h0M391.4 433.5h0M386.4 434.5h0M389.5 444.7h0M412.2 445.8h0M409.4 446.7h0M421.0 445.5h0M453.4 440.9h0M426.9 447.8h0M448.7 435.0h0M394.7 448.8h0M392.0 446.7h0M446.0 441.3h0M423.2 441.5h0M421.7 447.0h0M385.8 436.7h0M404.2 439.0h0M449.5 431.9h0M399.5 448.9h0M440.3 436.6h0M397.2 439.3h0M401.7 438.6h0M417.2 438.8h0M427.5 435.1h0M392.6 441.8h0M421.5 447.2h0M412.9 443.3h0M438.8 436.9h0M445.5 432.9h0M448.3 427.8h0M428.8 441.1h0M393.8 443.5h0M416.8 447.7h0M436.7 440.4h0M411.3 439.3h0M439.7 441.3h0M436.0 432.6h0M401.5 441.9h0M446.5 441.7h0M441.7 435.3h0M446.2 432.4h0M446.3 435.8h0M406.0 444.4h0M411.2 439.1h0M420.4 442.0h0M445.6 434.5h0M389.9 447.9h0M404.5 438.9h0M393.4 450.7h0M443.2 441.3h0M439.1 434.0h0M443.8 444.0h0M445.0 437.4h0M413.0 445.6h0M394.8 444.4h0M391.6 444.3h0M432.3 437.3h0M437.4 444.1h0M437.2 436.8h0M396.5 434.1h0M413.1 439.2h0M441.6 429.7h0M397.7 448.4h0M425.2 448.0h0M444.7 442.9h0M438.2 440.6h0M394.5 436.2h0M429.4 438.7h0M420.4 437.4h0M446.1 442.0h0M407.3 446.4h0M445.6 441.2h0M452.8 435.1h0M400.7 442.0h0M410.1 446.9h0M398.3 443.5h0M394.1 454.6h0M415.7 444.9h0M454.8 429.9h0M428.5 445.7h0M456.3 437.1h0M402.0 437.3h0M443.5 437.6h0M395.1 447.2h0M449.4 435.8h0M387.3 433.5h0M425.6 435.5h0M427.2 434.3h0M445.9 435.1h0M447.2 439.7h0M430.5 441.2h0M432.3 436.6h0M426.8 448.0h0M411.1 444.1h0M418.0 440.3h0M412.7 442.5h0M436.3 431.8h0M395.5 450.5h0M391.3 449.6h0M439.9 433.1h0M431.0 434.1h0M448.8 432.5h0M437.0 432.9h0M426.6 445.2h0M391.9 441.5h0M450.5 439.0h0M433.1 436.8h0M428.2 445.7h0M403.2 446.8h0M389.6 440.9h0M435.3 433.3h0M413.7 446.7h0M404.0 441.8h0M428.6 438.5h0M400.0 446.7h0M435.7 432.2h0M420.7 447.4h0M407.7 445.6h0M390.9 436.8h0M429.7 444.6h0M400.9 447.6h0M434.7 443.0h0M404.2 439.6h0M402.1 443.9h0M393.5 437.9h0M417.3 444.0h0M420.2 442.6h0M399.4 448.5h0M421.2 437.5h0M420.0 443.5h0M407.6 440.8h0M396.4 440.9h0M419.5 440.3h0M424.1 446.0h0M435.0 441.6h0M421.7 438.3h0M417.4 440.4h0M443.1 431.4h0M393.4 453.4h0M421.9 446.9h0M430.1 439.7h0M410.8 442.0h0M434.1 444.3h0M424.9 447.4h0M434.8 439.4h0M435.7 432.3h0M424.6 445.6h0M430.5 435.2h0M420.1 443.2h0M436.1 439.4h0M422.3 443.3h0M427.2 439.6h0M392.6 432.4h0M420.2 443.1h0M392.2 451.1h0M422.6 446.7h0M419.0 446.3h0M390.3 432.0h0M425.5 446.0h0M451.5 431.1h0M421.5 443.0h0M450.2 433.2h0M446.4 431.4h0M395.5 435.1h0M452.1 438.0h0M390.3 439.5h0M420.9 436.4h0M437.9 435.7h0M425.5 444.7h0M432.0 439.0h0M430.4 444.7h0M394.9 450.3h0M451.4 441.5h0M405.3 444.9h0M393.1 438.5h0M395.7 434.5h0M449.1 441.5h0M440.2 431.5h0M430.4 435.6h0M386.4 434.6h0M445.0 442.0h0M394.4 434.7h0M394.7 440.0h0M430.4 442.5h0M444.7 442.1h0M449.0 430.2h0M435.6 442.1h0M394.2 444.8h0M388.6 436.5h0M400.9 437.6h0M420.5 448.3h0M391.8 437.9h0M421.0 437.6h0M425.6 438.0h0M409.3 441.2h0M447.3 433.6h0M450.9 437.1h0M397.2 447.8h0M439.6 432.3h0M389.3 446.1h0M412.4 441.8h0M394.0 434.3h0M429.1 441.5h0M393.2 443.5h0M405.6 447.8h0M394.8 454.3h0M449.1 443.3h0M396.5 438.4h0M386.7 439.4h0M433.0 437.2h0M433.8 436.4h0M451.1 438.6h0M404.4 439.2h0M390.4 436.3h0M438.4 438.4h0M432.1 433.4h0M392.5 452.3h0M390.7 444.5h0M387.2 434.3h0M390.7 437.4h0M447.0 440.2h0M446.3 439.3h0M393.2 447.0h0M407.6 438.8h0M437.1 436.9h0M420.3 440.8h0M417.4 448.1h0M423.7 443.4h0M400.5 441.0h0M425.5 435.9h0M437.3 433.1h0M451.9 440.0h0M448.8 432.0h0M427.2 446.4h0M407.1 444.5h0M450.4 438.8h0M441.5 439.9h0M445.7 437.0h0M417.6 439.2h0M398.2 452.8h0M408.5 438.8h0M419.0 448.4h0M419.0 443.6h0M429.9 439.6h0M399.1 443.0h0M437.5 441.6h0M425.9 446.7h0M415.4 441.5h0M456.5 431.5h0M418.6 444.4h0M393.3 434.5h0M433.2 432.8h0M387.4 438.9h0M396.1 446.6h0M426.1 438.5h0M386.8 439.3h0M387.9 440.2h0M450.9 431.5h0M386.2 436.0h0M418.8 442.0h0M452.7 431.2h0M436.7 437.0h0M394.0 437.4h0M444.5 442.6h0M389.8 443.7h0M420.6 441.7h0M439.2 431.0h0M451.3 437.9h0M401.1 447.2h0M428.0 436.0h0M451.7 431.2h0M425.6 448.2h0M416.0 447.1h0M400.4 446.4h0M393.7 436.1h0M387.9 441.0h0M394.5 443.3h0M420.0 438.7h0M455.0 435.9h0M389.7 442.7h0M419.4 437.1h0M452.0 438.3h0M401.9 441.9h0M423.1 447.9h0M395.1 454.6h0M444.9 442.3h0M423.5 449.8h0M429.0 441.6h0M455.1 437.0h0M435.8 437.7h0M410.2 441.9h0M453.8 429.6h0M410.1 444.6h0M396.5 439.3h0M433.2 434.1h0M423.9 438.1h0M436.0 444.8h0M395.9 443.2h0M446.4 437.5h0M447.6 434.0h0M422.9 443.2h0M405.7 441.5h0M438.2 437.8h0M423.0 439.3h0M429.0 445.9h0M403.7 448.4h0M429.6 441.9h0M441.9 432.6h0M449.3 434.3h0M393.8 446.1h0M429.3 438.4h0M392.1 451.6h0M439.9 432.3h0M438.4 434.9h0M406.5 447.2h0M454.4 433.0h0M435.1 435.7h0M432.7 441.2h0M432.2 446.6h0M396.7 447.3h0M394.1 451.4h0M390.0 438.5h0M447.5 427.5h0M429.4 445.4h0M440.2 433.2h0M403.5 445.6h0M434.1 439.1h0M441.6 439.1h0M395.5 447.7h0M427.8 440.6h0M446.0 433.2h0M423.4 449.3h0M411.9 447.8h0M404.7 446.4h0M397.3 441.3h0M425.6 446.8h0M394.1 451.2h0M399.2 449.3h0M413.6 441.6h0M407.5 447.3h0M405.2 439.0h0M394.7 436.8h0M407.4 447.7h0M418.5 443.4h0M406.4 447.6h0M451.8 429.9h0M418.1 448.8h0M401.0 450.3h0M453.0 429.4h0M390.3 438.5h0M404.0 438.2h0M398.0 448.4h0M391.8 444.0h0M439.3 440.2h0M424.3 435.3h0M416.4 441.3h0M437.8 433.0h0M392.1 441.6h0M425.6 446.9h0M435.8 440.1h0M411.8 447.8h0M428.7 438.7h0M446.8 433.4h0M394.0 433.6h0M411.5 447.8h0M422.6 438.3h0M450.3 438.8h0M424.4 436.9h0M432.7 433.8h0M401.6 437.7h0M389.8 441.2h0M446.0 429.6h0M402.0 445.2h0M427.2 434.5h0M437.5 435.2h0M390.5 441.4h0M389.6 443.4h0M400.0 441.0h0M415.4 443.3h0M393.4 454.0h0M418.9 449.5h0M429.2 438.2h0M395.7 446.5h0M435.1 440.7h0M455.5 433.8h0M425.8 445.3h0M423.3 439.6h0M391.1 432.4h0M424.9 439.2h0M396.1 451.8h0M426.8 434.8h0M454.5 441.6h0M405.0 441.6h0M434.8 444.9h0M432.5 443.5h0M448.4 429.2h0M452.0 443.0h0M405.4 442.1h0M433.2 439.7h0M389.9 433.1h0M398.6 441.9h0M422.3 438.6h0M449.1 427.9h0M445.0 439.7h0M427.0 435.2h0M398.4 447.0h0M393.6 437.6h0M393.1 448.2h0M416.1 440.9h0M400.7 443.5h0M396.6 435.6h0M445.4 435.1h0M399.9 440.6h0M429.4 443.5h0M447.9 440.0h0M414.6 448.5h0M440.0 441.0h0M432.1 440.8h0M435.8 432.3h0M419.7 442.0h0M449.9 431.1h0M404.4 445.7h0M443.0 442.1h0M403.4 450.1h0M394.8 450.3h0M393.6 438.0h0M445.2 438.5h0M396.8 434.5h0M393.3 434.3h0M411.3 441.6h0M398.4 438.1h0M401.0 437.2h0M396.3 453.1h0M443.9 431.6h0M387.3 439.6h0M449.3 441.8h0M395.8 452.2h0M453.8 439.4h0M443.7 428.6h0M436.8 445.2h0M416.2 439.9h0M387.5 437.2h0M454.7 429.4h0M410.5 443.2h0M428.2 441.4h0M450.0 434.9h0M425.8 439.3h0M451.2 429.0h0M453.8 443.0h0M427.6 438.9h0M397.4 439.3h0M439.2 436.2h0M448.4 428.5h0M420.6 437.2h0M438.1 440.7h0M391.0 445.2h0M426.4 443.1h0M401.3 437.1h0M405.6 443.3h0M392.9 451.5h0M447.5 431.7h0M397.0 441.9h0M432.6 439.2h0M409.8 440.6h0M442.4 442.5h0M398.9 450.9h0M394.5 442.7h0M394.1 440.6h0M437.6 442.3h0M396.1 434.1h0M405.1 443.0h0M449.0 440.3h0M405.0 447.9h0M416.8 444.8h0M417.9 444.6h0M413.9 440.8h0M393.3 441.9h0M455.2 430.0h0M398.0 448.4h0M448.1 436.6h0M416.6 449.1h0M451.6 439.2h0M445.3 432.2h0M402.9 440.8h0M408.9 447.8h0M451.3 431.9h0M393.0 433.7h0M419.8 442.9h0M421.9 438.9h0M397.3 434.7h0M388.7 433.1h0M391.6 437.3h0M397.7 434.9h0M392.5 439.9h0M399.5 437.7h0M439.9 432.1h0" stroke="#f2d27c" stroke-width="1.0" stroke-linecap="round" fill="none"/>
<path d="M472.7 439.7h0M457.3 429.8h0M488.5 461.3h0M458.5 403.0h0M482.9 417.7h0M507.7 438.7h0M485.6 422.3h0M481.8 420.5h0M477.0 417.3h0M485.1 451.3h0M478.0 424.5h0M473.7 427.6h0M472.9 428.3h0M468.3 394.5h0M509.5 428.0h0M466.7 437.4h0M463.1 398.5h0M454.4 411.4h0M474.6 429.7h0M490.6 471.0h0M496.4 453.4h0M474.9 409.0h0M516.6 439.0h0M494.5 425.3h0M480.4 442.4h0M454.9 419.7h0M509.2 420.2h0M522.3 429.6h0M503.5 429.6h0M508.4 433.2h0M468.0 441.9h0M521.2 431.8h0M491.6 410.7h0M471.4 412.6h0M491.9 440.9h0M460.6 406.3h0M492.6 447.0h0M459.0 442.7h0M454.5 415.6h0M475.5 402.6h0M497.6 436.9h0M465.4 449.1h0M480.0 407.4h0M495.3 441.8h0M496.2 412.7h0M478.8 454.6h0M513.1 439.4h0M494.7 441.2h0M467.8 413.4h0M498.0 457.5h0M473.4 403.1h0M461.9 422.8h0M489.4 457.4h0M464.0 440.3h0M457.5 410.5h0M461.0 416.9h0M479.4 452.1h0M464.5 448.7h0M462.2 396.5h0M484.6 431.8h0M514.6 429.6h0M486.0 466.7h0M475.6 423.2h0M465.7 414.5h0M471.7 407.7h0M466.2 421.6h0M485.0 437.7h0M493.7 468.5h0M476.0 456.7h0M507.9 422.7h0M474.5 433.4h0M465.4 448.2h0M512.2 440.0h0M461.8 404.5h0M467.6 425.4h0M487.2 448.4h0M469.0 447.5h0M495.3 429.7h0M521.1 429.2h0M463.5 395.7h0M483.9 424.8h0M501.5 451.7h0M466.1 408.5h0M462.7 419.0h0M472.8 456.3h0M493.6 412.3h0M464.3 431.2h0M511.9 437.9h0M500.2 453.0h0M501.2 457.8h0M491.9 420.7h0M472.4 422.6h0M505.7 426.9h0M463.5 426.8h0M493.6 439.4h0M495.7 424.7h0M475.5 459.6h0M465.1 395.8h0M486.2 412.0h0M480.8 434.6h0M494.3 425.1h0M484.0 443.1h0M516.9 423.6h0M497.0 454.0h0M511.6 425.9h0M492.2 434.4h0M455.9 429.0h0M485.3 451.7h0M472.5 431.2h0M494.4 415.7h0M459.7 415.3h0M483.8 417.2h0M487.0 425.2h0M500.0 427.4h0M479.1 401.4h0M499.5 463.2h0M484.1 419.5h0M488.4 457.3h0M463.0 420.3h0M467.5 407.9h0M464.5 395.6h0M478.3 414.2h0M465.6 441.5h0M482.7 447.6h0M509.7 440.9h0M513.0 434.3h0M506.8 425.2h0M504.6 439.0h0M469.7 397.2h0M480.4 425.6h0M495.0 460.7h0M473.6 452.3h0M462.6 402.8h0M472.1 415.0h0M504.8 417.3h0M464.4 402.2h0M472.5 451.5h0M466.4 430.5h0M484.2 406.3h0M494.7 435.5h0M474.9 431.6h0M474.6 459.1h0M492.5 440.7h0M462.3 429.9h0M469.7 436.1h0M495.7 441.1h0M479.4 436.8h0M480.1 402.1h0M520.9 433.4h0M490.1 409.6h0M478.3 435.4h0M517.2 428.3h0M477.2 399.5h0M499.1 433.5h0M499.2 460.8h0M454.9 418.6h0M498.3 423.7h0M480.9 432.9h0M475.9 458.4h0M489.1 472.1h0M483.8 466.4h0M494.4 466.8h0M465.6 434.7h0M491.0 408.5h0M492.9 440.7h0M497.1 417.5h0M484.8 448.1h0M490.3 419.3h0M466.5 425.6h0M481.8 446.2h0M467.3 430.5h0M490.1 408.0h0M463.5 415.5h0M514.3 427.6h0M495.7 426.1h0M477.3 431.5h0M485.2 418.6h0M477.5 429.9h0M495.5 460.9h0M490.0 432.6h0M506.3 445.6h0M496.0 423.0h0M468.0 441.0h0M514.8 436.3h0M467.0 439.8h0M465.4 407.0h0M461.6 426.5h0M459.6 438.0h0M472.8 441.8h0M484.9 469.5h0M491.9 420.6h0M507.1 431.4h0M484.7 468.3h0M457.8 428.9h0M477.4 408.6h0M482.1 413.9h0M502.4 457.0h0M505.4 454.3h0M510.8 423.1h0M484.4 455.9h0M511.4 420.5h0M462.0 440.4h0M457.2 424.3h0M494.4 415.8h0M500.4 420.0h0M465.6 405.0h0M493.8 467.0h0M494.4 423.0h0M480.7 426.8h0M495.5 460.2h0M489.3 462.2h0M492.4 449.2h0M488.5 473.0h0M518.1 434.6h0M469.5 434.3h0M487.4 431.8h0M504.8 447.1h0M501.6 461.8h0M483.7 454.3h0M463.8 413.2h0M477.7 438.5h0M511.3 426.4h0M460.6 444.9h0M461.6 418.9h0M458.4 402.0h0M461.7 430.6h0M465.8 422.1h0M471.2 436.0h0M496.6 450.3h0M485.6 448.1h0M485.0 443.7h0M477.8 440.8h0M490.9 415.0h0M489.4 414.7h0M469.8 408.8h0M453.5 415.2h0M472.0 420.3h0M496.1 437.6h0M463.4 428.3h0M488.8 459.8h0M460.5 430.5h0M502.6 419.7h0M454.3 416.9h0M471.8 449.4h0M485.4 406.9h0M520.3 429.5h0M508.0 428.0h0M465.3 400.9h0M478.5 420.4h0M497.5 468.1h0M461.3 428.5h0M501.8 436.5h0M478.9 462.4h0M465.0 421.6h0M482.4 456.2h0M489.7 430.5h0M484.8 416.9h0M454.3 412.7h0M463.5 408.0h0M475.6 426.4h0M507.5 443.3h0M514.9 433.6h0M505.3 435.7h0M461.0 405.9h0M510.5 428.4h0M504.8 422.3h0M461.0 420.6h0M457.8 403.6h0M499.9 442.2h0M494.6 446.6h0M494.7 420.8h0M457.7 428.6h0M482.6 421.5h0M491.0 474.0h0M490.3 405.5h0M496.0 464.1h0M466.3 452.7h0M493.1 432.8h0M485.9 442.9h0M464.3 446.4h0M483.3 407.2h0M455.5 400.3h0M482.9 456.1h0M451.9 410.5h0M469.8 414.2h0M507.2 434.1h0M515.7 423.0h0M506.7 438.6h0M468.8 406.1h0M455.8 409.8h0M492.9 409.2h0M485.6 422.3h0M463.1 430.0h0M460.2 431.8h0M508.3 443.6h0M474.0 429.3h0M487.1 445.1h0M477.5 414.1h0M465.3 405.5h0M463.2 417.9h0M486.2 410.8h0M490.3 440.4h0M506.7 437.0h0M460.4 412.5h0M459.3 418.6h0M459.8 418.6h0M456.9 426.6h0M487.6 412.5h0M489.1 433.4h0M489.1 424.7h0M486.9 462.9h0M461.7 430.0h0M470.9 424.8h0M460.2 439.7h0M493.9 467.0h0M512.5 438.7h0M505.4 448.3h0M492.6 439.9h0M465.5 428.7h0M486.0 405.1h0M488.2 451.5h0M477.2 460.2h0M495.2 460.2h0M483.4 433.1h0M491.6 447.7h0M472.6 437.1h0M520.9 431.5h0M507.5 450.6h0M465.5 400.2h0M514.6 434.6h0M488.0 446.6h0M474.0 409.0h0M455.6 412.5h0M509.3 424.3h0M466.7 423.4h0M519.5 432.7h0M478.2 406.4h0M511.0 445.3h0M471.9 447.8h0M460.0 418.0h0M490.0 448.0h0M467.0 398.2h0M473.9 416.7h0M491.9 467.9h0M462.8 421.0h0M489.3 403.6h0M495.0 456.1h0M480.4 418.4h0M496.3 470.6h0M491.0 422.8h0M491.0 406.2h0M477.5 413.7h0M494.4 452.9h0M494.0 429.8h0M511.2 442.3h0M490.2 453.3h0M480.9 411.1h0M463.9 442.3h0M494.8 437.8h0M497.4 443.1h0M491.1 441.4h0M508.0 437.5h0M491.9 445.0h0M460.5 445.6h0M486.5 472.6h0M490.1 436.5h0M476.7 446.9h0M472.1 443.8h0M481.2 418.6h0M488.6 448.5h0M475.0 438.2h0M515.6 425.9h0M498.1 461.8h0M462.0 411.3h0M470.0 417.7h0M517.3 424.1h0M509.5 446.5h0M515.3 440.4h0M489.9 411.7h0M483.0 413.0h0M482.1 454.4h0M485.4 418.7h0M480.9 436.0h0M490.9 470.2h0M466.3 437.9h0M508.4 440.9h0M492.4 411.7h0M472.9 396.9h0M494.9 407.2h0M470.5 438.0h0M472.7 398.8h0M496.6 438.8h0M493.8 430.6h0M468.6 420.3h0M502.3 446.2h0M467.9 454.1h0M472.7 396.7h0M505.2 433.3h0M487.0 409.8h0M474.0 457.2h0M456.6 414.2h0M488.5 403.1h0M489.1 457.5h0M501.0 447.2h0M501.9 432.5h0M497.6 417.4h0M490.9 461.3h0M499.5 451.8h0M460.1 444.3h0M508.3 430.5h0M514.3 431.0h0M502.2 431.3h0M499.4 416.5h0M471.8 435.9h0M494.6 421.6h0M479.9 424.2h0M498.8 455.5h0M478.3 434.3h0M453.7 407.2h0M481.1 457.0h0M460.6 445.4h0M499.6 442.9h0M478.4 459.2h0M473.2 430.3h0M467.5 439.9h0M501.0 436.2h0M494.8 439.4h0M484.2 411.7h0M468.0 397.3h0M468.3 426.6h0M477.3 400.9h0M458.7 405.0h0M488.3 470.4h0M481.8 444.0h0M482.9 450.5h0M491.2 442.4h0M460.0 404.2h0M487.5 467.9h0M484.9 444.6h0M490.4 456.4h0M475.8 401.6h0M457.3 422.5h0M477.4 447.6h0M482.3 420.7h0M516.5 433.0h0M464.4 404.0h0M458.4 425.7h0M518.7 437.1h0M491.0 448.4h0M469.2 449.8h0M499.4 440.1h0M477.4 437.9h0M484.3 403.6h0M515.1 430.8h0M470.8 435.9h0M484.7 453.3h0M493.0 406.4h0M490.6 461.7h0M478.3 444.4h0M462.1 400.4h0M489.3 446.2h0M463.4 424.0h0M505.3 423.5h0M463.2 432.7h0M472.8 420.5h0M512.5 425.7h0M487.3 451.3h0M462.0 400.4h0M483.6 445.9h0M471.1 406.8h0M491.8 425.4h0M487.6 412.9h0M468.7 450.5h0M470.9 411.0h0M474.4 447.4h0M471.4 413.3h0M503.9 449.2h0M470.1 408.6h0M476.8 440.8h0M502.2 445.7h0M464.3 443.6h0M485.8 446.1h0M474.7 400.2h0M458.2 412.5h0M503.7 427.1h0M455.7 406.8h0M476.2 398.4h0M500.0 421.1h0M487.2 405.0h0M458.0 432.0h0M517.7 426.8h0M483.7 422.8h0M494.0 429.6h0M466.3 445.6h0M460.9 401.6h0M489.8 454.4h0M480.6 402.5h0M509.7 437.3h0M496.3 435.3h0M462.1 443.7h0M516.1 432.2h0M475.9 420.6h0M475.6 410.3h0M507.5 448.0h0M459.9 415.3h0M474.9 405.6h0M493.8 447.9h0M461.7 402.5h0M486.7 409.4h0M456.6 421.5h0M503.3 425.8h0M458.2 419.2h0M481.9 410.1h0M478.6 399.9h0M488.1 430.2h0M468.8 455.9h0M516.3 428.6h0M473.4 433.3h0M474.7 437.3h0M475.1 408.1h0M493.7 457.8h0M499.5 423.4h0M479.8 410.8h0M474.6 453.1h0M472.0 449.0h0M509.7 436.8h0M508.2 448.2h0M462.1 427.5h0M502.0 439.1h0M499.6 414.8h0M459.0 403.3h0M487.1 423.0h0M493.2 407.2h0M493.4 441.4h0M511.7 430.2h0M474.0 449.6h0M494.7 412.8h0M511.3 436.1h0M474.4 449.5h0M461.9 420.2h0M480.9 427.1h0M485.0 452.3h0M478.4 431.9h0M460.1 397.0h0M474.8 459.7h0M509.7 424.6h0M480.0 404.5h0M491.3 445.5h0M502.6 456.9h0M499.4 445.0h0M462.5 420.6h0M521.9 429.8h0M490.2 405.8h0M494.5 418.8h0M483.9 428.9h0M479.0 456.2h0M514.6 439.5h0M498.2 414.6h0M497.4 411.8h0M487.6 457.0h0M466.0 408.5h0M503.3 447.7h0M514.9 427.9h0M493.7 431.4h0M479.2 416.5h0M477.9 445.5h0M505.4 437.4h0M464.1 441.2h0M515.2 430.5h0M502.1 424.3h0M503.6 417.2h0M475.5 455.6h0M493.5 465.8h0M493.3 421.1h0M505.6 419.4h0M485.8 465.6h0M488.9 424.4h0M477.5 447.0h0M492.7 418.1h0M503.3 434.5h0M495.0 441.6h0M519.6 433.1h0M481.5 442.8h0M474.3 412.4h0M461.0 419.4h0M494.4 408.5h0M484.5 437.0h0M517.7 426.2h0M462.4 439.4h0M481.4 445.6h0M459.2 423.3h0M465.6 428.3h0M466.2 402.5h0M486.4 413.7h0M497.3 447.1h0M470.5 424.7h0M501.8 440.8h0M483.6 458.2h0M513.5 438.3h0M464.5 409.2h0M462.6 415.0h0M491.7 413.6h0M510.0 442.6h0M503.1 458.5h0M492.6 430.5h0M495.0 451.9h0M495.6 427.5h0M495.2 401.9h0M476.5 450.1h0M518.6 432.9h0M497.2 449.0h0M491.1 431.3h0M458.9 438.6h0M457.3 429.7h0M465.0 439.7h0M473.6 399.6h0M454.4 402.4h0M460.1 422.2h0M476.0 439.4h0M511.4 436.9h0M470.6 422.6h0M476.8 447.9h0M520.3 426.0h0M472.9 440.2h0M504.2 429.3h0M473.1 425.8h0M490.8 456.3h0M473.3 410.1h0M461.4 445.5h0M502.3 434.2h0M492.9 406.1h0M454.9 420.1h0M508.1 442.5h0M469.1 406.7h0M482.4 448.4h0M495.4 447.3h0M469.4 407.9h0M460.4 433.3h0M489.2 446.4h0M479.4 440.0h0M464.8 434.4h0M474.8 413.0h0M455.8 409.7h0M487.5 450.4h0M459.8 415.8h0M462.8 442.2h0M493.2 410.6h0M489.6 455.3h0M477.8 441.0h0M519.6 425.4h0M504.4 431.7h0M496.1 408.9h0M481.0 410.0h0M502.2 434.5h0M460.7 397.4h0M489.9 441.9h0M481.8 433.0h0M498.1 442.7h0M459.2 407.3h0M492.4 419.6h0M493.3 426.0h0M494.9 462.6h0M494.2 440.8h0M466.6 418.8h0M472.9 445.1h0M515.8 431.8h0M477.6 431.8h0M510.7 446.6h0M461.3 399.3h0M463.6 439.5h0M458.9 415.7h0M494.2 420.7h0M485.8 430.6h0M491.2 459.6h0M492.6 406.9h0M465.1 427.4h0M481.4 457.0h0M499.3 432.7h0M476.5 423.5h0M484.4 452.9h0M477.3 449.8h0M487.4 471.3h0M500.2 417.4h0M472.4 405.8h0M486.7 433.6h0M496.2 444.4h0M484.2 426.9h0M468.4 403.9h0M462.4 444.8h0M496.6 440.1h0M474.5 428.0h0M475.9 397.9h0M519.6 432.6h0M506.9 432.0h0M509.4 437.4h0M486.2 404.0h0M489.3 404.1h0M456.5 432.2h0M456.7 423.3h0M487.0 417.7h0M475.8 443.0h0M458.9 408.9h0M476.7 451.1h0M455.5 401.9h0M481.4 413.7h0M499.2 435.0h0M454.5 422.5h0M459.5 439.7h0M461.4 439.4h0M493.5 458.5h0M497.8 469.5h0M488.0 405.9h0M503.0 454.6h0M475.2 398.3h0M460.6 407.2h0M483.3 421.9h0M495.5 465.5h0M476.1 456.8h0M483.3 444.2h0M463.6 432.7h0M487.4 472.2h0M510.0 447.7h0M469.3 409.0h0M471.6 416.1h0M457.0 433.6h0M471.4 441.4h0M499.1 445.9h0M497.9 430.4h0M463.2 428.5h0M463.5 401.0h0M495.8 448.4h0M486.5 441.8h0M489.7 430.1h0M488.8 413.0h0M460.2 417.0h0M464.5 417.6h0M474.7 429.1h0M490.7 436.0h0M507.5 445.0h0M484.0 432.4h0M503.7 440.4h0M500.7 417.8h0M476.0 427.6h0M505.8 427.2h0M469.8 447.0h0M493.3 416.3h0M456.6 422.5h0M480.2 425.9h0M491.9 459.6h0M509.6 426.0h0M477.8 429.3h0M477.7 416.2h0M469.5 425.0h0M479.3 440.2h0M481.8 456.8h0M497.1 416.4h0M497.0 455.1h0M475.6 461.0h0M520.9 432.9h0M489.2 435.6h0M488.6 450.5h0M469.9 395.5h0M477.5 429.8h0M476.8 441.1h0M497.4 420.8h0M460.1 442.9h0M470.0 451.9h0M469.1 412.8h0M457.2 414.6h0M497.9 430.7h0M501.8 449.5h0M507.0 441.8h0M492.3 426.4h0M467.4 430.5h0M472.3 456.3h0M496.5 412.6h0M492.4 428.6h0M481.3 417.3h0M469.7 414.8h0M516.9 424.6h0M478.8 408.0h0M510.3 420.5h0M475.7 455.0h0M479.0 444.4h0M476.4 450.5h0M497.4 439.0h0M473.7 431.0h0M485.0 435.0h0M490.5 455.4h0M512.4 421.6h0M458.3 431.4h0M481.3 401.5h0M502.7 432.2h0M457.8 404.2h0M513.3 431.0h0M463.1 445.2h0M474.4 420.6h0M476.6 433.0h0M492.5 474.8h0M458.3 401.8h0M513.2 438.6h0M470.6 420.8h0M459.0 410.7h0M502.3 452.8h0M463.9 441.3h0M498.0 413.3h0M517.5 435.1h0M458.6 425.8h0M485.8 410.0h0M508.3 426.3h0M502.4 433.1h0M459.9 439.8h0M463.0 412.2h0M495.2 435.9h0M458.6 398.8h0M503.2 431.2h0M484.4 416.3h0M469.4 404.4h0M509.0 434.4h0M476.8 429.3h0M469.4 454.9h0M519.3 437.2h0M466.4 421.1h0M483.4 458.5h0M480.5 463.0h0M516.4 438.1h0M505.7 444.9h0M476.2 440.7h0M499.5 441.3h0M518.4 424.6h0M508.6 429.7h0M489.0 425.4h0M501.3 412.5h0M472.2 458.4h0M462.9 429.1h0M458.1 398.7h0M463.5 430.5h0M506.7 425.9h0M511.7 421.6h0M474.5 411.8h0M486.9 418.0h0M484.9 438.9h0M487.0 458.5h0M472.2 420.6h0M462.1 404.7h0M499.1 457.4h0M458.8 414.9h0M485.5 423.5h0M466.6 441.7h0M512.0 425.1h0M475.0 404.6h0M460.8 407.8h0M483.8 407.7h0M460.7 443.4h0M467.8 398.9h0M493.7 465.3h0M498.6 451.6h0M468.3 436.0h0M467.2 395.7h0M454.5 412.1h0M493.2 411.0h0M475.6 438.0h0M465.3 451.6h0M457.4 413.3h0M482.5 437.5h0M494.2 454.4h0M467.4 454.5h0M501.0 438.6h0M490.1 462.5h0M491.9 409.9h0M480.3 411.0h0M497.6 469.0h0M475.2 410.5h0M478.7 460.9h0M479.2 446.8h0M458.0 409.4h0M473.5 403.2h0M499.1 447.5h0M491.8 411.3h0M494.3 454.7h0M488.9 456.3h0M484.2 456.6h0M483.5 429.6h0M519.6 431.8h0M469.9 455.8h0M480.5 431.5h0M511.4 445.1h0M486.9 411.3h0M498.2 442.1h0M484.7 458.4h0M467.8 432.6h0M471.0 428.5h0M497.6 443.7h0M489.1 472.8h0M499.1 456.6h0M495.7 408.8h0M486.9 467.9h0M484.3 466.0h0M501.6 460.3h0M513.6 437.8h0M501.3 456.3h0M473.9 421.2h0M472.3 397.8h0M472.0 439.2h0M470.8 402.7h0M476.6 421.4h0M465.9 401.9h0M469.3 405.8h0M468.9 416.6h0M458.9 406.3h0M508.1 423.2h0M502.0 425.7h0M481.2 424.1h0M515.0 428.0h0M492.4 473.2h0M490.7 461.8h0M472.0 455.3h0M468.7 414.5h0M472.7 420.7h0M466.3 452.6h0M494.3 437.6h0M490.4 403.0h0M499.6 414.0h0M493.6 420.3h0M461.8 402.3h0M459.6 402.4h0M464.0 396.0h0M488.0 461.4h0M476.1 406.3h0M476.0 407.0h0M453.2 409.3h0M467.5 413.4h0M494.4 460.8h0M461.9 439.9h0M467.2 454.0h0M521.7 429.0h0M510.8 426.6h0M457.9 426.8h0M478.6 450.5h0M456.7 421.7h0M514.4 423.4h0M471.0 411.2h0M475.0 457.2h0M486.1 413.7h0M479.0 462.4h0M491.6 468.1h0M474.6 434.7h0M496.1 446.1h0M494.8 422.3h0M479.0 444.8h0M483.6 460.0h0M460.6 396.7h0M473.6 417.4h0M470.2 457.3h0M497.1 442.6h0M463.0 442.6h0M475.9 444.0h0M457.6 429.6h0M461.4 412.9h0M486.9 406.6h0M497.0 412.1h0M490.7 422.0h0M475.5 443.7h0M456.1 403.4h0M505.2 449.4h0M478.9 411.5h0M489.6 475.1h0M488.7 466.2h0M468.5 397.3h0M509.3 435.4h0M484.2 419.6h0M504.4 443.6h0M459.7 433.8h0M476.2 406.3h0M466.2 438.8h0M476.6 438.1h0M472.9 414.6h0M490.3 420.4h0M463.3 426.2h0M491.2 435.4h0M481.3 415.5h0M488.9 410.5h0M455.5 403.5h0M518.2 433.3h0M479.7 452.5h0M499.2 410.0h0M510.7 438.9h0M500.2 436.6h0M512.1 438.5h0M494.2 452.7h0M485.2 432.4h0M462.0 434.6h0M469.7 408.6h0M474.7 415.0h0M505.9 419.0h0M458.9 424.7h0M506.9 446.5h0M504.9 418.7h0M471.8 406.5h0M498.0 465.2h0M487.5 453.4h0M463.9 424.2h0M517.4 428.7h0M504.0 450.4h0M458.2 430.4h0M492.5 452.7h0M492.7 401.2h0M471.4 454.6h0M470.2 435.5h0M474.1 402.8h0M488.1 421.8h0M495.8 463.0h0M484.0 435.8h0M472.8 402.8h0M481.4 452.5h0M513.0 421.9h0M495.8 428.5h0M479.5 420.2h0M490.8 427.5h0M485.2 437.0h0M500.6 459.9h0M481.2 457.2h0M482.8 412.4h0M458.5 407.1h0M503.4 437.2h0M491.0 464.4h0M477.1 429.6h0M461.0 395.4h0M508.1 443.9h0M490.6 450.2h0M478.8 423.0h0M461.7 432.8h0M473.3 441.3h0M474.1 418.8h0M508.1 430.0h0M482.8 445.0h0M480.7 408.9h0M476.6 450.3h0M469.0 444.3h0M491.2 424.2h0M483.5 461.4h0M490.2 462.2h0M495.9 451.5h0M483.1 444.6h0M489.1 403.5h0M497.8 450.7h0M461.0 410.4h0M462.5 432.9h0M474.2 413.9h0M468.6 401.8h0M508.8 426.4h0M465.7 414.2h0M486.0 456.2h0M460.1 406.8h0M497.6 419.8h0M468.0 455.8h0M466.1 412.3h0M489.2 464.5h0M473.5 404.3h0M476.8 419.6h0M460.3 441.8h0M514.0 424.8h0M481.9 419.9h0M465.3 407.4h0M457.3 416.3h0M490.9 420.5h0M498.6 460.2h0M479.0 413.2h0M490.0 451.3h0M453.5 405.2h0M488.8 437.0h0M489.7 459.2h0M504.8 453.1h0M456.8 409.3h0M474.9 458.6h0M459.3 432.3h0M461.2 410.8h0M470.2 409.1h0M474.7 400.9h0M501.7 415.8h0M465.7 403.2h0M494.5 451.1h0M467.8 451.8h0M482.9 402.0h0M496.1 419.5h0M495.1 450.0h0M485.0 458.5h0M498.5 433.5h0M491.3 442.7h0M492.4 407.9h0M480.8 441.9h0M485.8 414.2h0M485.7 432.6h0M459.5 422.7h0M491.8 401.7h0M474.0 412.1h0M483.6 466.0h0M463.5 409.9h0M502.1 433.6h0M466.2 398.5h0M480.8 427.0h0M482.8 418.5h0M486.5 457.7h0M465.6 419.0h0M488.6 410.3h0M490.9 432.4h0M482.3 424.9h0M478.2 416.3h0M466.9 398.2h0M485.1 419.9h0M455.9 425.5h0M496.0 434.2h0M503.4 424.5h0M469.8 415.4h0M454.9 401.8h0M511.5 437.8h0M455.4 401.3h0M480.3 445.1h0M461.1 442.6h0M493.5 424.6h0M496.5 405.4h0M453.8 416.6h0M494.6 450.4h0M497.9 418.6h0M459.1 409.2h0M477.7 437.2h0M477.6 414.6h0M459.7 422.6h0M457.7 416.1h0M485.9 450.1h0M498.1 465.2h0M498.7 462.1h0M462.7 406.6h0M473.7 403.7h0M472.9 399.4h0M458.7 424.9h0M456.9 413.7h0M507.0 441.9h0M474.4 445.6h0M491.2 466.1h0M482.2 424.0h0M473.4 409.1h0M498.8 425.1h0M472.1 442.7h0M458.0 422.2h0M501.1 442.5h0M502.3 451.8h0M469.8 454.4h0M469.2 395.0h0M484.5 443.1h0M455.4 426.6h0M497.4 439.1h0M501.0 453.9h0M485.8 460.7h0M470.1 405.1h0M512.2 439.0h0M514.9 439.5h0M505.4 443.7h0M506.3 437.1h0M487.8 440.7h0M496.3 406.8h0M474.8 458.2h0M480.2 462.4h0M466.2 396.0h0M465.8 423.7h0M497.8 427.3h0M513.8 435.8h0M490.8 421.5h0M495.8 442.9h0M486.6 405.6h0M464.9 405.3h0M464.8 409.2h0M498.0 463.5h0M479.4 419.1h0M483.6 412.6h0M497.3 452.8h0M492.2 463.1h0M467.3 441.4h0M458.2 411.0h0M462.7 442.7h0M474.8 455.7h0M467.3 441.2h0M493.8 425.8h0M521.6 428.4h0M500.6 446.9h0M490.6 429.2h0M484.3 444.6h0M493.2 447.3h0M494.6 445.4h0M499.4 463.2h0M481.7 414.9h0M495.9 409.5h0M475.8 443.3h0M473.7 451.4h0M466.6 418.3h0M476.2 418.8h0M469.2 401.4h0M457.1 409.9h0M455.1 423.1h0M494.9 466.5h0M473.4 455.9h0M460.5 426.0h0M510.9 442.2h0M474.1 418.1h0M478.4 455.9h0M463.9 443.6h0M506.1 438.9h0M482.0 459.4h0M472.9 437.7h0M480.2 435.2h0M456.6 412.7h0M469.7 423.8h0M482.4 441.0h0M500.0 425.8h0M460.6 424.4h0M476.5 402.5h0M469.1 411.3h0M467.4 439.0h0M468.1 395.1h0M481.6 445.4h0M471.3 420.2h0M512.1 433.4h0M486.4 413.2h0M487.6 429.6h0M481.6 462.2h0M466.1 432.9h0M454.0 410.7h0M499.4 449.2h0M457.4 431.7h0M475.9 424.3h0M455.9 405.1h0M474.2 407.6h0M460.0 414.0h0M471.4 434.7h0M470.3 427.3h0M464.7 452.0h0M484.3 416.1h0M505.9 454.9h0M458.8 404.2h0M507.5 421.1h0M475.1 460.2h0M457.8 422.2h0M496.0 406.5h0M504.8 426.4h0M466.7 445.9h0M466.4 433.0h0M500.3 432.0h0M485.4 420.3h0M462.1 415.6h0M512.7 433.4h0M490.3 461.6h0M485.6 402.8h0M463.7 410.8h0M498.2 462.6h0M484.2 436.4h0M510.7 424.9h0M486.7 460.2h0M491.2 460.0h0M460.6 401.5h0M496.9 458.9h0M490.5 470.2h0M471.8 403.5h0M500.2 455.5h0M509.2 449.3h0M478.0 458.5h0M507.2 443.6h0M482.9 458.0h0M485.4 409.4h0M479.0 420.3h0M505.0 419.4h0M501.9 422.1h0M493.4 409.3h0M483.5 411.9h0M500.3 463.4h0M496.8 467.9h0M467.7 404.0h0M470.2 442.5h0M476.1 451.5h0M511.4 435.5h0M483.8 441.9h0M483.2 438.3h0M456.6 416.0h0M479.4 441.6h0M464.7 442.4h0M516.5 425.4h0M483.7 418.8h0M471.8 452.9h0M493.9 402.0h0M454.0 407.7h0M504.9 428.1h0M494.9 420.4h0M511.3 434.4h0M493.2 424.1h0M490.7 430.5h0M507.3 422.5h0M488.0 441.4h0M471.4 457.9h0M488.9 458.3h0M485.0 450.9h0M501.9 451.3h0M471.1 447.3h0M489.8 449.9h0M457.1 401.8h0M469.4 402.8h0M463.6 430.5h0M468.2 447.9h0M465.6 449.6h0M466.2 398.9h0M464.9 414.8h0M462.9 448.0h0M513.3 425.4h0M501.4 429.1h0M468.2 404.4h0M476.0 435.5h0M453.8 409.0h0M466.5 451.0h0M508.3 424.8h0M472.6 432.3h0M485.1 467.5h0M471.6 451.7h0M484.8 409.7h0M464.4 447.0h0M477.0 456.7h0M472.2 403.8h0M492.9 457.1h0M463.0 431.8h0M505.0 438.7h0M458.0 435.5h0M475.1 422.0h0M505.0 424.5h0M464.1 441.2h0M498.8 432.3h0M498.6 447.6h0M467.0 396.0h0M484.1 446.0h0M503.2 435.8h0M473.0 445.3h0M482.3 440.1h0M454.8 426.5h0M505.6 420.9h0M461.6 413.2h0M467.9 423.4h0M480.4 419.1h0M473.8 433.5h0M498.5 416.7h0M466.4 427.4h0M501.0 428.8h0M474.0 435.7h0M493.3 433.4h0M494.3 462.5h0M517.1 427.4h0M454.2 401.7h0M464.3 450.4h0M500.4 446.2h0M488.8 426.2h0M511.2 439.0h0M513.1 432.3h0M499.1 446.7h0M483.0 449.9h0M476.6 410.5h0M489.4 404.2h0M471.3 453.9h0M473.4 414.5h0M487.8 438.1h0M476.4 442.5h0M488.9 427.6h0M487.7 431.4h0M460.7 409.8h0M478.6 455.5h0M478.9 454.1h0M484.5 415.1h0M487.0 471.7h0M467.5 413.3h0M467.7 401.6h0M496.0 436.8h0M478.7 430.5h0M469.0 397.9h0M510.1 425.0h0M477.7 437.0h0M483.8 458.1h0M461.3 396.0h0M486.7 457.9h0M457.2 404.5h0M466.6 452.6h0M463.0 428.9h0M492.6 442.0h0M491.1 461.5h0M462.0 408.0h0M491.2 429.5h0M508.8 420.5h0M484.5 434.3h0M484.6 418.4h0M498.7 461.7h0M473.6 430.9h0M460.1 428.7h0M456.9 413.7h0M496.2 423.2h0M516.3 426.1h0M456.1 419.1h0M472.4 435.3h0M481.1 420.3h0M465.4 429.2h0M489.4 456.0h0M466.6 418.6h0M467.8 403.5h0M476.8 445.7h0M473.9 404.3h0M491.5 421.3h0M486.5 434.9h0M496.1 469.8h0M461.1 437.9h0M463.8 441.3h0M488.0 443.7h0M483.6 413.0h0M475.9 450.9h0M485.0 441.4h0M477.7 443.8h0M503.8 424.2h0M490.8 431.0h0M495.5 402.0h0M472.1 435.0h0M509.7 427.1h0M484.3 439.4h0M491.4 420.3h0M483.1 442.2h0M461.2 415.1h0M457.5 414.8h0M494.3 443.2h0M487.4 456.2h0M511.6 434.2h0M485.7 424.8h0M469.0 394.5h0M497.8 430.0h0M472.2 401.0h0M505.9 443.2h0M471.0 429.4h0M501.0 429.8h0M472.3 456.9h0M475.1 443.8h0M471.0 410.9h0M460.1 430.6h0M476.7 400.3h0M474.3 449.2h0M468.5 413.9h0M498.8 466.6h0M470.5 397.2h0M492.3 426.1h0M515.7 432.3h0M458.5 441.4h0M494.9 465.1h0M479.6 432.9h0M493.5 449.4h0M494.5 463.9h0M494.3 471.9h0M469.2 437.8h0M501.5 429.9h0M483.9 433.6h0M472.2 428.3h0M470.4 427.0h0M496.0 432.3h0M467.3 438.5h0M482.5 406.0h0M502.9 438.7h0M484.2 417.6h0M463.7 410.5h0M480.7 420.4h0M517.8 433.3h0M504.9 439.6h0M498.1 416.8h0M475.5 460.2h0M491.6 443.5h0M474.8 420.8h0M465.8 410.2h0M501.3 442.2h0M487.3 461.9h0M477.2 451.6h0M461.5 398.5h0M496.9 460.5h0M491.0 427.8h0M484.9 422.7h0M511.5 433.1h0M493.3 401.6h0M466.6 408.0h0M483.1 423.6h0M494.2 403.2h0M485.5 436.4h0M491.4 440.3h0M489.6 447.0h0M455.9 413.7h0M467.2 403.7h0M471.1 447.2h0M478.4 459.6h0M494.0 422.0h0M477.9 452.2h0M460.4 398.5h0M486.4 442.6h0M502.9 455.5h0M477.2 439.1h0M511.5 433.3h0M462.9 408.1h0M475.4 424.2h0M481.4 416.5h0M497.2 447.8h0M506.4 443.9h0M482.1 449.3h0M470.0 456.3h0M478.6 407.4h0M475.3 425.3h0M483.8 403.9h0M457.8 412.6h0M460.7 434.3h0M480.4 429.8h0M497.1 450.7h0M486.0 465.0h0M485.1 443.4h0M497.4 442.3h0M495.8 451.4h0M484.7 418.0h0M470.5 398.8h0M502.7 448.8h0M507.5 451.8h0M487.6 473.4h0M501.0 433.1h0M456.7 425.3h0M466.4 426.1h0M492.1 475.2h0M501.8 420.9h0M469.7 417.7h0M491.1 453.4h0M497.0 409.6h0M508.8 429.5h0M453.9 422.4h0M494.6 473.5h0M489.7 445.7h0M456.6 403.2h0M489.8 455.2h0M455.7 412.6h0M477.1 432.2h0M469.0 408.2h0M460.0 398.6h0M482.3 407.5h0M496.6 467.5h0M481.2 414.2h0M501.8 434.9h0M478.7 460.7h0M484.9 433.7h0M458.2 424.2h0M480.5 404.5h0M460.9 407.1h0M499.9 417.2h0M490.7 447.3h0M511.2 436.2h0M493.5 422.2h0M484.3 407.9h0M470.1 405.4h0M499.5 450.9h0M487.7 466.4h0M487.9 412.0h0M491.4 423.6h0M499.7 410.1h0M460.0 406.4h0M464.6 417.6h0M478.4 416.2h0M464.6 399.3h0M461.5 439.9h0M489.2 403.9h0M465.8 403.6h0M502.3 430.8h0M490.0 446.1h0M498.2 417.9h0M463.6 412.4h0M495.2 452.4h0M511.9 425.1h0M471.9 443.8h0M454.3 423.6h0M456.7 416.9h0M478.3 432.9h0M489.3 457.2h0M488.5 442.6h0M472.6 446.7h0M482.5 446.8h0M491.0 448.6h0M463.3 432.1h0M505.4 429.5h0M483.9 422.4h0M504.1 451.8h0M502.8 432.4h0M501.8 435.2h0M481.9 403.6h0M490.6 453.6h0M509.8 423.3h0M455.2 405.3h0M454.8 426.7h0M478.0 406.4h0M496.1 407.1h0M496.1 433.1h0M460.6 434.3h0M490.1 460.0h0M468.2 403.0h0M483.4 445.3h0M512.3 434.4h0M476.7 428.8h0M497.2 424.4h0M464.8 395.0h0M504.0 435.4h0M475.5 413.4h0M478.7 455.2h0M468.4 410.3h0M464.2 447.5h0M485.5 418.4h0M473.9 458.7h0M459.4 435.6h0M495.9 445.7h0M502.2 443.5h0M478.1 454.4h0M496.1 458.8h0M457.3 408.8h0M480.8 462.2h0M473.1 432.5h0M484.1 417.5h0M462.3 420.0h0M480.5 404.5h0M509.3 444.7h0M467.2 400.7h0M453.0 403.9h0M462.4 409.8h0M482.8 428.6h0M489.2 417.5h0M479.3 452.9h0M508.3 444.8h0M454.9 416.5h0M496.7 457.3h0M489.5 451.7h0M472.5 409.5h0M493.4 474.9h0M487.9 417.5h0M468.4 418.3h0M486.2 403.6h0M509.9 432.1h0M462.1 431.1h0M478.3 432.3h0M499.1 461.9h0M504.0 432.0h0M461.5 407.8h0M481.2 460.5h0M461.7 415.4h0M470.2 444.3h0M467.7 453.4h0M507.8 420.9h0M492.5 467.6h0M478.2 435.7h0M480.7 441.6h0M486.3 404.3h0M487.5 461.6h0M464.9 395.1h0M470.3 428.2h0M473.4 422.5h0M504.4 429.1h0M463.0 444.2h0M474.0 439.7h0M514.1 436.1h0M499.4 464.9h0M472.9 417.1h0M460.5 407.0h0M503.5 445.8h0M496.8 456.2h0M471.8 415.2h0M468.6 441.6h0M511.1 422.7h0M456.9 412.5h0M470.9 416.3h0M491.2 434.8h0M461.8 424.6h0M488.2 468.8h0M519.8 433.1h0M455.3 420.8h0M483.0 424.9h0M478.6 406.0h0M480.3 438.0h0M477.6 428.8h0M496.4 461.8h0M494.3 469.5h0M497.0 450.2h0M486.2 421.9h0M464.4 446.6h0M454.6 406.7h0M515.4 425.1h0M470.7 406.9h0M489.2 421.3h0M458.8 433.4h0M474.5 416.0h0M489.0 428.9h0M479.0 424.3h0M483.0 462.8h0M478.3 419.8h0M494.8 420.3h0M494.9 423.4h0M462.6 430.9h0M488.1 461.0h0M489.0 440.9h0M464.7 418.0h0M473.3 405.3h0M496.0 424.9h0M488.7 472.9h0M470.2 426.4h0M489.0 407.7h0M488.7 406.1h0M495.8 450.1h0M475.8 441.1h0M492.4 402.8h0M470.0 408.1h0M486.7 462.4h0M466.6 422.6h0M490.2 461.4h0M475.0 436.9h0M466.6 405.0h0M457.5 398.7h0M494.5 431.5h0M485.7 460.7h0M481.0 460.9h0M493.0 403.2h0M509.7 441.1h0M466.8 418.3h0M501.0 449.8h0M461.3 418.3h0M503.9 448.1h0M473.3 409.3h0M503.8 446.5h0M499.6 432.6h0M505.5 426.3h0M460.4 430.7h0M499.5 445.2h0M508.6 434.9h0M499.1 452.7h0M482.5 438.9h0M454.5 411.8h0M471.2 418.8h0M477.8 412.5h0M468.2 418.8h0M461.2 407.3h0M496.4 404.6h0M484.0 406.3h0M458.3 403.8h0M484.8 458.7h0M514.9 422.5h0M457.8 399.4h0M490.9 464.7h0M496.4 415.7h0M471.7 421.8h0M498.2 454.1h0M483.7 466.9h0M458.0 411.1h0M496.3 453.7h0M484.6 434.2h0M486.1 472.5h0M472.8 439.5h0M462.2 409.8h0M479.5 441.4h0M485.2 415.5h0M500.0 420.1h0M464.2 403.9h0M490.8 472.2h0M502.9 441.5h0M493.3 432.6h0M464.4 402.6h0M464.1 416.4h0M476.7 436.5h0M475.1 431.9h0M475.1 429.1h0M488.6 459.3h0M452.4 413.5h0M459.6 397.0h0M491.3 410.4h0M469.7 450.8h0M478.6 433.9h0M459.4 437.3h0M486.6 458.6h0M477.0 460.7h0M481.5 410.7h0M469.4 404.5h0M462.3 445.8h0M489.1 409.7h0M499.5 434.5h0M451.8 407.7h0M478.3 459.3h0M474.1 426.6h0M496.4 418.9h0M510.4 442.6h0M488.3 463.5h0M463.5 422.6h0M479.6 411.6h0M496.2 459.7h0M485.1 458.8h0M461.2 420.3h0M479.9 457.8h0M481.4 409.7h0M497.1 408.6h0M504.1 453.2h0M461.0 398.2h0M480.9 443.7h0M492.8 410.5h0M500.4 447.4h0M512.5 431.0h0M479.4 446.6h0M508.6 448.8h0M490.2 448.2h0M487.2 463.9h0M486.0 445.5h0M464.7 422.6h0M494.5 460.7h0M465.5 426.5h0M485.1 431.4h0M479.7 448.4h0M511.1 427.0h0M501.6 415.5h0M489.2 444.9h0M483.5 429.0h0M485.4 424.7h0M478.6 399.7h0M507.5 423.1h0M465.7 403.7h0M496.5 452.4h0M502.2 417.0h0M467.0 450.9h0M458.2 413.4h0M507.7 445.6h0M464.1 415.7h0M470.6 450.5h0M506.7 431.8h0M502.7 453.5h0M464.6 437.6h0M471.9 401.8h0M514.4 433.5h0M464.1 420.2h0M501.8 445.0h0M498.2 412.7h0M472.1 456.8h0M468.0 421.0h0M507.0 438.7h0M487.4 445.3h0M508.0 451.3h0M486.7 458.0h0M459.2 406.6h0M499.1 439.8h0M493.1 466.3h0M469.6 449.7h0M478.5 451.8h0M498.4 467.9h0M485.2 461.9h0M462.9 434.7h0M467.4 430.8h0M479.6 446.9h0M480.5 432.2h0M474.3 447.3h0M503.5 435.6h0M483.9 412.7h0M508.9 442.3h0M492.7 417.4h0M516.9 428.5h0M503.1 452.9h0M484.7 422.8h0M486.4 422.1h0M483.6 419.0h0M491.6 470.3h0M496.8 454.6h0M460.1 435.0h0M500.5 454.3h0M462.6 426.8h0M463.2 431.4h0M511.0 427.0h0M467.4 400.2h0M465.6 428.9h0M488.6 446.4h0M512.4 431.3h0M492.7 430.2h0M483.0 411.7h0M481.2 405.5h0M478.6 426.4h0M458.5 403.5h0M492.4 430.2h0M511.0 433.3h0M496.9 427.7h0M492.7 441.3h0M503.1 421.5h0M483.1 436.4h0M502.8 417.3h0M490.9 450.1h0M487.0 458.6h0M509.3 436.8h0M473.2 438.8h0M483.0 431.9h0M510.1 425.0h0M498.1 441.2h0M490.0 442.0h0M457.2 434.1h0M466.0 438.7h0M483.4 442.2h0M468.6 422.5h0M509.6 430.1h0M496.4 463.3h0M474.8 415.2h0M472.8 405.2h0M489.1 443.9h0M453.1 416.6h0M508.7 449.9h0M483.7 441.7h0M479.2 422.4h0M470.7 427.8h0M470.1 437.1h0M475.5 431.1h0M475.2 414.4h0M492.5 424.0h0M496.7 460.4h0M462.5 436.5h0M460.9 433.8h0M496.8 427.3h0M506.7 424.6h0M468.0 432.8h0M501.2 423.6h0M490.7 434.9h0M503.4 454.4h0M485.6 426.4h0M486.5 432.0h0M493.2 405.1h0M469.3 430.5h0M514.5 435.5h0M499.7 425.4h0M464.7 446.6h0M509.7 431.0h0M483.4 465.9h0M497.1 439.6h0M463.3 399.5h0M462.9 423.6h0M461.0 435.6h0M491.5 430.0h0M507.8 432.5h0M507.2 443.0h0M469.2 418.9h0M475.9 406.4h0M473.3 432.7h0M466.1 430.8h0M481.1 428.8h0M454.5 424.0h0M488.5 408.3h0M468.4 445.9h0M514.7 431.8h0M465.9 428.9h0M487.8 404.7h0M485.0 405.2h0M494.1 453.3h0M475.2 405.6h0M505.4 448.2h0M476.4 412.7h0M508.8 442.1h0M490.5 408.9h0M476.3 398.0h0M511.6 432.0h0M490.9 439.9h0M499.7 463.5h0M481.5 439.5h0M504.9 432.2h0M468.7 433.0h0M471.2 439.7h0M483.7 432.4h0M474.3 459.1h0M457.0 420.3h0M455.1 410.0h0M463.5 447.3h0M457.5 419.2h0M468.5 427.1h0M484.7 467.3h0M454.8 425.7h0M489.3 443.5h0M488.3 409.0h0M471.7 416.1h0M505.4 454.0h0M471.8 439.3h0M484.4 439.5h0M478.4 419.9h0M488.6 471.4h0M501.6 428.9h0M469.2 450.2h0M489.9 445.7h0M498.5 422.9h0M486.9 421.7h0M504.6 416.6h0M456.2 401.6h0M476.6 457.0h0M500.4 412.6h0M499.9 461.2h0M484.0 447.5h0M490.2 445.9h0M465.3 410.9h0M492.9 423.8h0M466.4 441.9h0M468.7 440.2h0M454.3 410.1h0M467.6 399.4h0M474.0 450.5h0M470.0 420.3h0M496.4 472.1h0M485.0 456.5h0M489.2 452.9h0M484.7 435.8h0M464.6 406.6h0M486.2 429.2h0M490.3 420.1h0M480.0 457.7h0M490.3 469.2h0M458.5 400.7h0M500.6 420.0h0M467.9 401.3h0M488.1 433.5h0M476.8 452.2h0M467.2 419.2h0M480.8 457.6h0M491.8 445.3h0M489.4 455.5h0M471.9 453.2h0M490.0 442.6h0M487.0 464.8h0M493.0 401.4h0M499.9 444.4h0M481.6 413.5h0M490.4 426.3h0M514.2 439.9h0M475.2 409.2h0M503.5 449.0h0M485.4 461.4h0M481.7 427.2h0M482.0 462.5h0M467.5 425.0h0M513.0 434.0h0M521.9 432.0h0M466.2 412.5h0M516.1 432.0h0M481.4 445.3h0M486.1 443.0h0M462.9 400.8h0M477.1 436.1h0M492.1 469.6h0M492.7 447.2h0M502.4 447.5h0M507.4 431.2h0M496.7 460.4h0M475.7 453.5h0M486.5 440.2h0M499.3 459.6h0M482.8 436.9h0M486.5 466.7h0M514.6 433.4h0M489.3 424.4h0M458.1 437.2h0M475.7 441.5h0M478.7 435.2h0M508.9 420.1h0M505.2 456.2h0M494.2 411.7h0M494.9 428.5h0M480.0 411.6h0M491.3 439.3h0M457.5 426.9h0M504.9 422.2h0M473.5 420.6h0M472.7 403.4h0M471.0 402.6h0M474.7 455.5h0M496.0 425.3h0M510.5 442.9h0M461.6 447.7h0M453.6 407.9h0M478.6 414.8h0M461.9 413.6h0M503.8 455.6h0M462.3 416.1h0M508.2 430.0h0M505.5 419.1h0M485.4 426.1h0M454.5 405.3h0M479.7 424.4h0M454.4 418.0h0M510.4 446.9h0M470.6 408.1h0M484.1 435.8h0M485.4 431.7h0M454.4 402.0h0M490.6 404.3h0M481.8 457.7h0M488.1 471.9h0M490.6 432.0h0M509.2 424.4h0M519.2 433.1h0M467.0 427.5h0M454.6 407.9h0M488.7 406.8h0M483.8 411.8h0M502.0 456.1h0M504.3 421.4h0M498.9 417.8h0M503.7 424.1h0M485.8 424.3h0M466.6 405.6h0M488.1 454.2h0M517.0 438.1h0M478.6 422.2h0M468.1 439.5h0M490.4 405.0h0M478.9 414.8h0M517.4 426.6h0M475.1 411.3h0M478.3 454.5h0M469.2 420.7h0M494.3 422.1h0M493.6 462.0h0M477.2 403.4h0M493.4 416.6h0M492.7 430.6h0M465.4 452.5h0M456.7 417.5h0M480.0 428.3h0M474.9 441.5h0M497.0 450.6h0M469.0 441.6h0M497.9 467.0h0M468.8 401.4h0M496.3 458.4h0M461.4 405.1h0M484.5 464.9h0M485.0 426.7h0M497.9 463.6h0M478.4 455.3h0M485.8 415.5h0M489.0 469.3h0M457.2 421.0h0M484.0 431.8h0M485.1 441.3h0M468.0 403.5h0M484.7 431.4h0M498.4 446.1h0M501.7 425.3h0M481.7 441.0h0M483.7 464.0h0M515.7 431.9h0M508.6 421.9h0M487.6 439.1h0M495.1 403.8h0M464.9 407.9h0M482.7 465.6h0M478.2 442.4h0M479.4 443.6h0M477.7 410.0h0M454.6 411.6h0M512.5 441.8h0M473.8 440.2h0M459.3 402.5h0M494.1 432.6h0M498.5 425.7h0M495.3 433.3h0M507.3 442.4h0M488.1 445.0h0M498.5 409.9h0M482.6 404.0h0M461.1 420.6h0M488.8 429.3h0M454.9 401.9h0M461.8 419.7h0M474.1 407.1h0M488.3 420.2h0M461.4 427.8h0M456.2 424.4h0M475.7 421.7h0M489.2 435.5h0M468.1 436.3h0M454.8 402.4h0M491.7 425.7h0M477.0 426.6h0M470.8 411.0h0M465.7 397.0h0M491.6 445.8h0M485.0 420.8h0M473.7 421.7h0M480.3 448.4h0M510.1 424.2h0M456.0 416.4h0M511.9 422.4h0M496.6 453.6h0M472.8 428.6h0M470.0 436.4h0M467.1 409.4h0M494.8 429.0h0M463.9 443.0h0M487.4 452.3h0M488.9 404.5h0M504.1 442.7h0M480.5 454.7h0M458.0 438.2h0M485.1 432.9h0M482.8 460.1h0M453.7 407.7h0M468.8 430.0h0" stroke="#4a82ab" stroke-width="1.0" stroke-linecap="round" fill="none"/>
<path d="M485.7 379.6h0M487.1 386.8h0M481.3 383.0h0M489.0 376.3h0M477.0 378.9h0M481.4 377.6h0M477.9 376.7h0M482.3 382.1h0M484.5 374.2h0M490.2 380.1h0M488.5 380.3h0M482.4 382.5h0M474.7 390.7h0M490.7 395.7h0M480.8 381.2h0M474.2 388.2h0M487.9 390.6h0M475.1 388.4h0M493.1 378.2h0M493.1 389.6h0M490.5 388.4h0M488.0 380.9h0M491.7 387.0h0M484.8 373.5h0M485.2 370.3h0M494.0 385.5h0M479.6 383.4h0M488.6 391.4h0M484.4 380.7h0M485.5 382.8h0M486.7 388.6h0M480.9 382.8h0M483.5 375.9h0M488.7 386.3h0M489.8 387.4h0M486.9 369.2h0M493.9 381.1h0M478.7 381.8h0M481.4 374.4h0M491.6 398.5h0M484.2 380.5h0M488.7 387.2h0M491.2 385.5h0M486.1 391.1h0M492.2 400.4h0M489.0 390.5h0M489.8 386.3h0M492.8 388.7h0M491.5 386.3h0M491.9 386.5h0M476.5 383.3h0M484.1 386.1h0M493.5 392.1h0M490.1 394.5h0M494.1 379.5h0M493.3 378.7h0M490.7 394.5h0M492.3 386.8h0M482.7 369.8h0M484.5 379.3h0M476.0 380.1h0M485.1 368.6h0M491.7 384.6h0M478.6 379.0h0M484.3 387.2h0M491.1 392.7h0M482.0 383.9h0M492.4 398.1h0M492.8 387.6h0M493.3 387.2h0M488.0 377.7h0M489.0 384.5h0M491.0 383.5h0M492.2 380.6h0M476.3 388.0h0M488.8 387.2h0M483.4 372.0h0M484.9 378.3h0M490.9 375.2h0M494.5 386.2h0M489.7 388.2h0M486.3 372.7h0M484.8 372.9h0M489.1 372.8h0M481.3 380.8h0M493.6 374.7h0M490.4 371.6h0M476.4 383.3h0M484.5 371.1h0M491.9 385.8h0M479.2 380.5h0M491.4 384.1h0M493.0 393.9h0M483.3 379.3h0M478.4 383.5h0M493.3 393.0h0M493.1 386.3h0M475.5 388.1h0M486.2 374.9h0M480.3 382.0h0M491.2 383.3h0M479.5 385.9h0M478.1 384.0h0M487.2 387.4h0M487.2 385.4h0M494.9 383.7h0M488.9 371.1h0M486.0 384.5h0M492.7 377.5h0M485.0 385.3h0M474.1 389.7h0M482.8 384.9h0M489.8 370.9h0M485.1 369.3h0M479.6 382.7h0M474.5 385.8h0M493.5 375.4h0M486.1 386.6h0M476.5 379.7h0M490.4 388.8h0M482.5 381.1h0M481.5 371.9h0M474.5 385.8h0M492.7 397.5h0M490.4 396.3h0M489.1 378.4h0M480.9 371.4h0M483.4 372.0h0M479.0 378.8h0M490.8 378.0h0M494.0 389.0h0M491.3 383.1h0M485.6 390.6h0M495.0 379.0h0M487.5 391.8h0M486.1 380.0h0M494.3 393.7h0M482.7 387.4h0M477.4 385.3h0M490.3 377.3h0M492.6 376.9h0M474.4 388.0h0M495.1 382.3h0M487.3 380.5h0M493.1 377.3h0M487.2 376.6h0M476.6 378.9h0M489.3 385.4h0M491.9 393.6h0M481.0 373.0h0M491.9 379.3h0M479.6 376.8h0M487.2 370.7h0M490.6 393.8h0M490.6 374.9h0M489.7 378.7h0M493.4 373.6h0M489.0 389.7h0M494.0 378.1h0M492.9 376.2h0M477.8 380.1h0M481.0 377.2h0M486.3 370.4h0M489.3 391.2h0M486.9 370.6h0M490.4 370.0h0M486.8 369.5h0M483.4 377.3h0M475.6 384.9h0M495.0 387.7h0M488.5 386.9h0M491.5 371.2h0M478.0 378.3h0M480.6 386.3h0M480.6 374.7h0M483.0 386.4h0M493.6 388.6h0M492.2 380.0h0M487.2 377.6h0M491.1 386.5h0M491.4 393.4h0M491.9 378.5h0M493.5 373.9h0M486.6 372.0h0M491.4 371.7h0M489.5 387.0h0M490.3 385.4h0M492.4 397.6h0M485.8 379.9h0M488.3 370.0h0M487.6 369.6h0M476.1 388.0h0M493.8 386.8h0M483.3 373.9h0M479.7 372.3h0M474.5 385.5h0M486.8 381.8h0M485.5 384.5h0M493.3 379.2h0M494.3 378.5h0M480.5 376.3h0M483.1 386.1h0M488.3 379.4h0M480.4 371.5h0M489.2 375.8h0M478.0 382.2h0M488.4 379.0h0M477.4 385.6h0M485.8 381.6h0M474.5 388.0h0M490.8 396.1h0M491.8 377.7h0M483.5 386.4h0M492.1 385.3h0M485.9 378.1h0M487.0 375.0h0M474.9 384.7h0M484.1 383.3h0M488.1 385.9h0M492.1 388.8h0M495.7 384.2h0M491.9 386.2h0M481.7 374.5h0M487.9 393.5h0M492.0 373.0h0M487.9 371.1h0M486.4 390.4h0M482.8 374.0h0M479.5 383.0h0M485.1 386.7h0M491.2 375.6h0M492.0 388.5h0M493.1 396.6h0M491.2 397.8h0M480.3 371.4h0M483.3 382.5h0M493.5 373.2h0M480.8 371.0h0M487.8 390.1h0M482.8 376.2h0M475.7 389.9h0M476.5 384.6h0M488.0 382.5h0M493.2 397.6h0M487.9 370.1h0M478.3 377.5h0M481.0 376.4h0M494.0 381.6h0M474.0 389.2h0M483.1 388.6h0M486.6 372.3h0M480.4 383.0h0M486.0 369.0h0M481.6 373.7h0M492.3 376.4h0M480.4 376.8h0M491.3 391.9h0M484.7 375.0h0M481.8 385.4h0M484.1 369.7h0" stroke="#f08a78" stroke-width="1.0" stroke-linecap="round" fill="none"/>
<path d="M488.6 460.2h0M466.7 445.7h0M477.0 420.7h0M457.4 424.3h0M498.8 442.8h0M516.2 433.5h0M466.2 448.1h0M491.2 436.0h0M458.3 425.6h0M487.0 447.0h0M482.5 445.1h0M489.8 434.2h0M465.5 448.5h0M494.2 421.3h0M484.3 407.5h0M497.7 418.2h0M481.0 455.9h0M507.3 425.1h0M491.1 408.5h0M469.6 441.7h0M500.1 425.8h0M497.0 434.9h0M516.9 428.7h0M488.8 466.4h0M473.4 401.2h0M476.4 410.6h0M505.5 423.6h0M490.5 472.4h0M480.4 432.6h0M485.0 434.9h0M480.5 421.7h0M488.6 428.5h0M484.1 424.2h0M498.8 419.8h0M490.5 472.8h0M455.4 406.6h0M471.9 398.8h0M486.7 420.0h0M486.3 413.2h0M470.2 399.5h0M463.6 409.3h0M498.0 423.9h0M499.2 448.2h0M459.1 424.1h0M503.9 423.7h0M468.2 451.0h0M487.8 435.0h0M486.1 437.1h0M488.2 459.3h0M468.4 436.5h0M505.6 445.6h0M487.9 468.7h0M510.9 429.6h0M501.2 458.1h0M494.5 426.7h0M469.7 405.8h0M470.7 431.0h0M506.7 441.1h0M491.2 405.1h0M480.4 448.1h0M497.7 458.4h0M471.4 399.2h0M460.5 398.8h0M463.5 443.4h0M489.6 443.6h0M494.6 427.8h0M475.5 400.5h0M488.6 422.3h0M495.0 456.5h0M494.7 457.8h0M490.8 412.0h0M517.1 426.1h0M476.7 456.7h0M472.9 406.0h0M501.6 420.2h0M479.6 404.2h0M457.2 411.3h0M488.0 463.7h0M470.8 421.9h0M457.4 410.3h0M482.8 458.6h0M499.1 462.5h0M499.2 421.2h0M492.0 471.8h0M486.6 421.2h0M479.1 456.4h0M487.0 420.5h0M478.0 426.9h0M501.7 457.9h0M499.9 447.7h0M509.2 434.4h0M485.9 460.2h0M484.1 442.6h0M459.5 422.7h0M496.6 423.5h0M468.7 423.1h0M504.8 438.3h0M493.8 407.4h0M495.4 410.2h0M467.9 398.3h0M479.1 432.7h0M486.0 442.2h0M484.2 419.5h0M460.2 405.7h0M464.3 399.6h0M457.6 422.1h0M470.6 413.6h0M467.8 447.6h0M471.2 456.7h0M488.6 444.8h0M466.6 425.3h0M483.4 458.4h0M491.1 455.2h0M468.3 451.9h0M465.8 395.9h0M482.4 421.4h0M494.9 437.2h0M503.4 450.6h0M505.4 446.7h0M466.3 412.2h0M476.4 410.8h0M474.5 432.9h0M481.9 411.3h0M495.4 449.6h0M495.7 446.1h0M505.4 446.2h0M461.4 439.4h0M481.3 439.5h0M463.1 407.7h0M460.8 425.2h0M471.2 446.2h0M487.7 430.0h0M475.8 420.9h0M465.0 405.9h0M484.2 432.9h0M513.3 436.3h0M498.9 457.8h0M477.1 412.5h0M467.7 429.1h0M491.5 414.9h0M498.8 426.5h0M478.9 425.6h0M503.2 426.3h0M468.2 402.8h0M497.6 424.9h0M499.9 433.7h0M461.6 412.3h0M467.2 420.0h0M475.4 420.4h0M489.7 441.9h0M501.9 433.4h0M475.9 431.5h0M460.1 414.0h0M502.8 421.4h0M495.0 413.3h0M464.6 427.4h0M479.0 421.1h0M485.8 439.7h0M454.0 407.7h0M495.9 414.4h0M502.5 424.5h0M469.9 436.3h0M485.0 458.7h0M454.3 405.4h0M477.4 440.4h0M497.1 433.2h0M492.1 418.3h0M468.3 396.4h0M491.7 414.0h0M477.5 449.4h0M490.6 419.3h0M455.8 422.7h0M472.8 419.9h0M481.8 448.8h0M482.3 448.2h0M458.0 405.1h0M516.8 436.8h0M457.4 408.0h0M506.5 451.5h0M473.7 423.7h0M473.3 456.1h0M485.4 466.6h0M461.1 419.3h0M497.9 465.7h0M484.9 434.0h0M468.0 436.5h0M486.1 410.3h0M472.3 456.8h0M461.7 419.8h0M492.8 462.9h0M500.7 417.3h0M468.3 420.9h0M483.6 463.6h0M500.4 423.1h0M489.4 470.6h0M502.0 446.6h0M488.5 451.5h0M487.3 466.5h0M459.8 411.9h0M493.3 432.0h0M498.9 428.9h0M491.2 418.5h0M477.5 443.0h0M493.5 441.0h0M479.4 431.5h0M469.0 428.0h0M502.5 446.7h0M477.9 417.7h0M482.9 447.8h0M504.4 452.0h0M462.8 399.8h0M486.8 453.5h0M484.8 424.7h0M467.3 428.5h0M459.1 408.5h0M478.3 414.3h0M502.8 423.1h0M469.7 453.1h0M480.2 424.3h0M489.6 458.3h0M504.6 422.5h0M461.4 425.9h0M482.6 435.8h0M479.0 457.7h0M495.7 455.3h0M493.5 449.9h0M471.9 419.3h0M488.8 443.7h0M500.1 436.0h0M470.7 448.9h0M500.2 444.7h0M464.4 436.4h0M510.6 421.5h0M495.8 443.0h0M483.4 464.9h0M504.8 434.5h0M496.8 441.6h0M490.6 451.8h0M500.4 415.3h0M459.9 422.4h0M472.5 406.4h0M464.4 421.2h0M476.0 406.6h0M481.8 406.9h0M487.7 471.8h0M495.0 439.6h0M467.3 406.1h0M461.7 422.4h0M486.7 420.9h0M496.0 454.6h0M474.0 440.2h0M493.0 461.0h0M486.8 415.7h0M485.0 464.8h0M472.2 406.6h0M500.3 449.2h0M508.0 425.1h0M495.8 455.1h0M454.7 415.5h0M492.3 424.1h0M466.0 401.3h0M498.7 423.6h0M488.2 412.1h0M466.7 423.6h0M489.2 417.9h0M469.4 448.5h0M464.5 417.7h0M461.8 411.6h0M483.6 405.0h0M484.8 430.5h0M502.7 448.2h0M485.4 467.3h0M480.1 454.5h0M494.9 444.6h0M484.2 410.9h0M460.3 399.5h0M463.9 406.6h0M493.6 452.0h0M492.0 466.1h0M480.6 452.5h0M476.8 413.1h0M485.2 464.5h0M464.9 415.4h0M507.0 424.6h0M479.2 447.7h0M472.9 429.2h0M466.7 435.2h0M502.0 458.3h0M479.5 412.5h0M490.4 467.3h0M471.7 406.5h0M514.1 425.3h0M507.8 428.0h0M472.3 449.7h0M485.4 445.3h0M472.2 442.6h0M468.3 426.8h0M471.4 447.4h0M496.3 463.1h0M496.1 441.3h0M472.9 415.8h0M477.3 407.3h0M468.1 419.5h0M476.0 456.9h0M479.4 412.8h0M475.1 414.7h0M478.3 424.5h0M495.9 430.8h0M470.8 414.5h0M461.3 416.5h0M512.5 442.2h0M478.2 435.6h0M491.7 417.1h0M479.5 422.0h0M457.5 419.0h0M484.7 449.0h0M491.9 434.6h0M496.6 452.2h0M458.0 422.8h0M457.9 419.5h0M500.7 436.5h0M493.1 472.9h0M483.9 451.1h0M481.5 449.3h0M486.2 452.5h0M488.2 414.3h0M512.5 431.8h0M474.6 407.7h0M505.0 454.2h0M470.0 418.9h0M466.0 405.6h0M511.1 428.0h0M492.0 412.5h0M489.9 416.3h0M472.2 417.5h0M498.8 445.0h0M468.9 448.5h0M504.4 450.3h0M465.3 427.2h0M464.6 398.8h0M472.0 455.1h0M485.0 457.9h0M471.4 439.5h0M463.2 430.9h0M489.2 447.1h0M494.5 423.8h0M480.8 425.8h0M495.3 423.9h0M491.4 464.1h0M478.7 433.1h0M469.0 395.8h0M454.9 422.5h0M460.7 425.2h0M490.3 438.2h0M468.9 450.5h0M478.8 427.4h0M502.3 427.1h0M461.8 421.4h0M486.6 436.5h0M476.6 446.7h0M502.0 432.8h0M505.1 446.4h0M498.7 437.5h0M466.9 409.7h0M459.0 401.4h0M456.9 413.1h0M481.0 413.1h0M462.8 407.5h0M487.1 437.2h0M474.0 402.3h0M507.6 426.8h0M469.9 418.0h0M473.3 432.7h0M498.9 448.3h0M477.7 451.4h0M455.0 406.4h0M467.5 417.2h0M479.1 414.2h0M490.0 454.7h0M474.6 408.8h0M463.0 398.1h0M500.2 439.9h0M492.3 447.8h0M458.3 426.8h0M474.3 432.3h0M482.5 460.9h0M487.4 466.3h0M501.1 417.2h0M462.8 423.4h0M477.5 457.1h0M487.2 431.4h0M472.0 450.4h0M505.7 439.2h0M457.4 421.2h0M483.8 442.0h0M467.8 420.3h0M495.2 418.0h0M493.9 468.8h0M463.4 434.9h0M484.2 444.3h0M465.2 440.2h0M488.4 437.5h0M477.8 429.3h0M495.3 440.9h0M466.2 440.5h0M489.4 416.0h0M477.7 425.7h0M468.7 396.0h0M463.3 441.7h0M466.5 426.8h0M463.7 406.9h0M492.1 446.2h0M497.8 426.0h0M474.9 454.9h0M493.1 414.2h0M460.7 425.1h0M509.5 432.7h0M516.4 430.6h0M493.7 428.2h0M455.6 416.4h0M464.7 402.1h0M471.3 436.5h0M494.4 422.9h0M494.4 471.3h0M471.9 411.8h0M496.5 422.7h0M496.3 421.4h0M504.9 451.8h0M481.6 431.0h0M494.1 435.0h0M491.8 428.2h0M465.2 411.8h0M491.1 420.5h0M497.1 460.6h0M496.9 409.6h0M460.5 411.2h0M470.8 416.5h0M468.6 401.6h0M500.7 420.4h0M480.1 422.3h0M506.2 433.3h0M465.5 434.2h0M499.3 455.2h0M502.3 455.5h0M501.1 446.7h0M481.1 457.0h0M468.2 445.0h0M494.3 458.3h0M491.5 467.7h0M480.8 409.2h0M494.8 418.2h0M460.0 433.4h0M464.6 448.2h0M488.3 409.6h0M479.2 405.9h0M464.2 445.7h0M486.5 435.8h0M471.1 409.2h0M508.4 446.3h0M498.6 451.7h0M462.4 412.7h0M477.9 411.7h0M496.1 411.8h0M491.3 428.4h0M479.4 431.1h0M467.8 435.9h0M463.3 401.4h0M490.7 432.5h0M478.5 410.1h0M484.7 447.1h0M488.3 431.4h0M504.7 421.2h0M491.0 416.9h0M480.8 442.9h0M479.0 416.5h0M466.2 416.6h0M460.3 433.7h0M481.5 413.1h0M481.5 442.4h0M510.9 433.7h0M476.7 453.5h0M479.4 448.2h0M494.8 407.3h0M468.3 397.5h0M499.1 427.1h0M488.2 428.3h0M469.5 400.9h0M519.3 429.6h0M505.0 449.1h0M515.0 431.6h0M483.8 451.8h0M509.9 424.7h0M479.6 457.3h0M455.6 419.2h0M496.9 423.2h0M482.8 413.6h0M458.5 430.9h0M508.5 443.7h0M466.5 435.3h0M465.4 434.9h0M475.1 409.2h0M462.5 441.4h0M478.5 434.2h0M474.4 409.7h0M508.7 423.2h0M503.2 425.1h0M504.7 426.6h0M475.0 459.1h0M487.0 419.5h0M466.8 426.4h0M490.9 432.7h0M456.0 408.0h0M499.7 460.0h0M506.5 430.6h0M494.1 454.8h0M500.0 460.6h0M491.8 413.7h0M460.3 434.7h0M486.3 438.1h0M467.1 437.6h0M478.0 431.2h0M489.9 468.5h0M507.7 420.5h0M469.8 433.3h0M498.2 451.9h0M485.1 455.6h0M488.0 438.0h0M490.8 457.0h0M497.2 459.0h0M517.9 427.4h0M458.7 414.0h0M477.3 432.2h0M462.7 432.6h0M466.2 432.7h0M504.4 448.3h0M482.7 420.4h0M467.3 413.0h0M477.2 404.1h0M482.3 443.8h0M461.2 420.7h0M473.5 413.5h0M500.6 446.7h0M459.3 434.0h0M460.1 429.6h0M487.6 412.9h0M490.1 403.6h0M464.7 407.5h0M467.4 432.2h0M470.6 426.4h0M488.1 434.1h0M498.3 429.0h0M462.5 434.0h0M487.1 434.3h0M455.0 417.2h0M515.5 432.2h0M514.0 431.2h0M470.9 455.3h0M475.8 430.3h0M486.1 449.8h0M461.8 422.4h0M493.5 410.8h0M490.6 448.5h0M464.7 401.6h0M519.3 427.3h0M510.3 423.2h0M493.7 469.4h0M501.0 418.8h0M485.3 425.7h0M473.2 445.1h0M496.3 417.0h0M480.9 455.8h0M490.1 462.2h0M460.6 413.9h0M468.1 450.9h0M506.0 447.8h0M493.8 416.7h0M519.2 429.9h0M475.1 457.1h0M472.2 416.9h0M478.7 408.8h0M473.3 448.4h0M465.1 443.9h0M504.1 442.9h0M502.5 449.7h0M476.5 411.6h0M504.0 430.1h0M484.6 422.5h0M510.9 425.9h0M478.4 429.6h0M496.5 456.6h0M473.4 399.0h0M468.8 432.9h0M507.8 429.3h0M460.1 413.2h0M492.1 424.6h0M489.6 437.1h0M457.1 406.3h0M500.2 453.7h0M496.0 467.0h0M474.9 449.3h0M495.8 443.7h0M462.3 404.2h0M482.4 418.2h0M495.0 422.5h0M474.0 400.7h0M488.6 461.7h0M488.4 416.1h0M476.9 437.0h0M480.9 452.4h0M494.0 447.6h0M467.5 416.8h0M485.0 434.8h0M470.3 400.6h0M496.3 425.4h0M500.2 442.3h0M465.4 437.3h0M481.5 458.0h0M464.3 446.5h0M462.9 442.6h0M456.6 412.4h0M471.2 450.2h0M479.2 427.6h0M485.2 444.8h0M499.1 444.2h0M484.5 440.9h0M471.5 448.1h0M508.3 422.9h0M495.6 420.5h0M472.5 419.8h0M483.5 424.9h0M496.4 467.4h0M476.6 412.5h0M480.1 409.2h0M470.3 410.9h0M478.5 405.9h0M468.4 444.0h0M465.9 408.1h0M460.9 400.3h0M473.3 457.3h0M509.8 426.3h0M464.2 399.5h0M460.7 408.6h0M487.6 424.9h0M494.5 426.5h0M467.0 409.9h0M474.6 405.0h0M468.1 452.7h0M460.0 420.7h0M512.9 432.0h0M474.7 415.8h0M477.4 458.5h0M469.5 440.3h0M486.4 421.5h0M484.7 447.9h0M495.7 465.4h0M486.0 461.3h0M487.7 405.2h0M497.3 424.7h0M490.6 470.2h0M463.3 439.5h0M460.9 442.4h0M471.4 447.4h0M499.5 441.3h0M460.3 428.0h0M507.7 444.1h0M462.8 406.8h0M470.9 452.0h0M473.9 442.6h0M490.0 455.3h0M496.4 449.6h0M480.2 424.9h0M503.3 440.1h0M498.5 429.0h0M488.2 438.4h0M504.0 452.4h0M497.2 454.5h0M475.4 401.3h0M479.7 434.5h0M500.9 435.2h0M500.4 445.5h0M492.8 452.0h0M474.1 433.0h0M487.3 425.3h0M455.4 418.3h0M463.7 419.3h0M465.2 428.0h0M469.6 423.2h0M464.1 415.7h0M515.1 431.9h0M483.9 429.9h0M483.0 413.6h0M462.0 428.7h0M476.1 429.4h0M468.9 454.3h0M463.4 399.4h0M492.4 441.3h0M486.5 457.8h0M467.4 426.0h0M470.3 417.1h0M502.6 445.1h0M500.4 422.0h0M506.0 424.6h0M501.2 459.9h0M491.8 438.7h0M495.8 433.1h0M511.3 436.5h0M503.3 447.1h0M506.2 442.7h0M487.1 464.0h0M507.9 434.5h0M486.5 417.6h0M476.7 438.9h0M471.5 442.1h0M510.2 429.0h0M475.8 443.8h0M474.5 451.2h0M469.5 417.0h0M478.3 422.9h0M475.6 446.7h0M458.5 414.2h0M470.5 434.6h0M459.4 421.9h0M472.2 419.5h0M491.4 436.0h0M472.5 411.1h0M474.5 439.1h0M487.0 421.8h0M478.2 432.6h0M511.3 434.9h0M485.0 408.8h0M478.4 456.1h0M492.6 453.3h0M481.3 421.8h0M490.2 411.5h0M488.4 470.7h0M495.9 436.3h0M469.6 402.4h0M463.4 422.7h0M469.4 447.9h0M488.9 465.5h0M462.4 414.7h0M475.6 448.5h0M503.6 436.6h0M467.3 442.4h0M479.0 429.6h0M457.0 428.6h0M480.4 460.6h0M470.1 442.2h0M511.8 425.9h0M493.6 433.2h0M506.4 425.8h0M506.6 450.7h0M474.1 402.5h0M467.5 446.5h0M499.5 453.0h0M468.4 449.9h0M490.2 415.0h0M467.3 423.7h0M482.2 404.6h0M494.5 407.4h0M491.6 426.6h0M493.6 437.6h0M491.0 403.1h0M510.9 429.9h0M497.4 458.1h0M464.0 428.7h0M500.8 424.0h0M469.6 418.0h0M483.9 430.8h0M476.1 430.8h0M471.0 439.5h0M507.9 447.2h0M477.5 402.1h0M519.1 428.6h0M492.9 441.3h0M484.6 447.5h0M508.0 439.5h0M489.4 467.1h0M493.8 462.7h0M477.8 427.2h0M494.7 438.0h0M477.7 403.9h0M465.9 424.3h0M495.2 423.3h0M470.1 441.1h0M460.8 423.5h0M482.8 431.8h0M478.4 423.1h0M468.4 424.1h0M475.1 420.6h0M468.3 443.6h0M488.0 464.0h0M467.0 434.9h0M490.4 459.9h0M474.8 424.9h0M491.9 420.6h0M487.1 432.1h0M483.6 432.4h0M461.8 405.8h0M473.9 457.9h0M483.8 448.4h0M487.5 442.4h0M485.0 429.0h0M461.6 399.4h0M471.4 453.9h0M476.2 427.5h0M459.2 413.8h0M487.7 425.0h0M473.0 403.4h0M467.6 437.8h0M474.4 451.1h0M510.1 431.2h0M496.5 411.1h0M490.5 422.9h0M478.6 450.4h0M500.8 450.8h0M484.2 428.4h0M459.3 398.5h0M483.1 456.5h0M483.0 437.6h0M477.7 437.7h0M492.3 418.9h0M480.4 447.5h0M477.5 417.8h0M484.4 461.3h0M464.3 397.7h0M492.0 425.5h0M480.5 452.7h0M487.9 430.3h0M475.3 429.6h0M470.3 400.3h0M459.7 402.4h0M466.6 426.9h0M499.7 424.0h0M461.5 398.3h0M472.8 441.5h0M504.7 439.6h0M495.6 438.8h0M472.8 404.9h0M460.3 415.6h0M463.6 432.0h0M472.5 446.8h0M476.6 437.1h0M459.0 411.5h0M482.1 416.0h0M492.9 407.6h0M515.0 438.7h0M476.1 447.1h0M475.2 430.8h0M486.3 440.8h0M459.1 399.9h0M483.2 443.0h0M486.0 412.1h0M457.7 428.8h0M478.3 449.8h0M515.3 435.3h0M511.0 432.1h0M479.0 440.1h0M504.6 442.8h0M472.7 405.7h0M488.8 420.2h0M486.8 450.8h0M472.4 422.6h0M504.9 448.7h0M452.8 408.7h0M488.2 466.0h0M499.5 454.3h0M505.5 435.0h0M497.3 439.7h0M501.1 443.1h0M481.9 418.6h0M487.7 464.6h0M495.0 415.7h0M514.3 436.7h0M487.4 465.0h0M472.4 431.4h0M470.5 438.1h0M506.9 441.1h0M461.3 405.1h0M475.6 413.4h0M476.3 449.6h0M476.1 452.5h0M481.0 414.0h0M491.4 411.9h0M469.0 398.7h0M466.4 396.4h0M481.9 453.1h0M493.5 427.2h0M511.9 427.9h0M494.8 425.9h0M498.4 429.5h0M459.1 418.3h0M498.3 451.9h0M480.1 459.4h0M502.3 434.7h0M484.2 447.6h0M494.9 451.6h0M498.6 423.1h0M464.9 424.0h0M507.8 423.5h0M475.2 406.8h0M484.5 417.8h0M487.0 468.1h0M474.5 430.2h0M498.1 420.6h0M486.7 404.5h0M476.2 430.3h0M473.2 444.8h0M460.6 432.0h0M493.4 418.6h0M460.5 422.4h0M496.4 415.3h0M504.2 438.3h0M490.0 458.7h0M492.7 417.1h0M493.9 417.0h0M470.6 431.0h0M476.4 408.6h0M498.3 436.8h0M455.3 420.1h0M509.5 427.4h0M506.3 450.9h0M494.2 464.6h0M485.6 436.5h0M509.7 431.3h0M476.9 440.8h0M480.6 408.0h0M472.3 424.5h0M464.4 439.6h0M474.0 440.8h0M461.4 416.8h0M471.9 421.7h0M507.7 424.5h0M499.9 444.2h0M458.1 414.1h0M457.0 418.0h0M489.7 423.7h0M510.8 428.7h0M489.1 436.1h0M465.6 443.1h0M466.0 410.7h0M506.4 432.1h0M472.6 454.5h0M512.1 442.6h0M484.3 455.9h0M472.8 448.8h0M497.2 459.3h0M491.3 420.5h0M487.5 435.6h0M479.0 402.9h0M454.1 418.2h0M499.7 434.0h0M486.4 450.3h0M497.5 440.1h0M485.9 410.3h0M490.2 426.7h0M500.6 414.5h0M497.0 455.4h0M475.5 419.0h0M468.4 427.3h0M463.7 434.1h0M483.0 415.5h0M485.9 422.3h0M471.3 443.1h0M467.6 408.7h0M462.5 410.6h0M498.2 418.4h0M466.4 395.7h0M463.3 432.9h0M491.6 438.9h0M480.2 443.2h0M495.2 460.3h0M489.0 426.3h0M478.8 426.8h0M488.8 443.4h0M470.2 399.4h0M484.2 428.6h0M473.6 429.7h0M467.8 443.9h0M512.7 434.3h0M471.5 427.5h0M487.2 425.1h0M479.4 427.5h0M473.8 430.2h0M496.7 431.4h0M473.9 457.7h0M463.4 407.8h0M499.6 416.4h0M474.7 438.0h0M509.3 444.3h0M458.6 405.3h0M487.5 431.5h0M495.6 420.6h0M478.7 457.8h0M497.4 449.3h0M458.9 429.1h0M472.7 430.5h0M485.3 418.7h0M481.2 445.7h0M490.1 471.7h0" stroke="#fff" stroke-width="0.72" stroke-linecap="round" fill="none"/>
<path d="M455.2 433.3h0M415.7 439.4h0M421.5 444.6h0M435.0 444.2h0M409.4 446.0h0M426.3 435.6h0M444.9 436.9h0M454.6 436.1h0M420.5 447.4h0M399.3 449.4h0M387.3 438.3h0M387.8 438.8h0M450.0 441.9h0M428.9 445.2h0M443.2 438.8h0M442.4 433.4h0M445.1 439.5h0M425.3 444.7h0M431.7 433.9h0M425.9 435.7h0M422.4 437.7h0M431.9 439.3h0M429.4 435.6h0M396.3 452.3h0M427.6 445.1h0M440.5 437.2h0M439.6 431.5h0M396.9 443.1h0M401.5 441.2h0M389.7 434.2h0M419.1 448.7h0M450.3 437.8h0M454.0 441.0h0M437.8 433.1h0M399.9 445.6h0M414.3 441.5h0M439.8 443.0h0M388.6 436.4h0M436.7 438.0h0M425.0 444.6h0M428.5 439.0h0M433.9 437.6h0M398.4 446.5h0M392.3 436.7h0M434.8 436.7h0M423.9 438.9h0M394.7 440.4h0M397.5 446.0h0M427.9 445.4h0M390.5 445.6h0M415.8 441.0h0M449.0 430.3h0M449.9 435.3h0M408.2 445.0h0M431.8 440.7h0M452.3 431.6h0M394.4 453.2h0M449.8 434.5h0M434.0 436.5h0M426.8 437.7h0M416.8 444.1h0M416.5 444.4h0M414.3 442.2h0M435.4 436.9h0M391.0 442.5h0M452.7 437.3h0M412.4 443.2h0M391.8 446.1h0M435.2 444.1h0M386.8 434.5h0M454.1 433.0h0M453.7 438.8h0M432.8 440.0h0M433.5 435.0h0M395.7 444.2h0M419.7 447.3h0M421.2 438.2h0M404.2 442.2h0M400.5 441.8h0M401.8 448.3h0M392.3 438.4h0M394.0 447.0h0M428.0 446.7h0M405.4 444.5h0M428.5 447.2h0M401.5 442.1h0M449.7 440.5h0M393.6 435.6h0M415.1 443.6h0M433.5 433.2h0M403.8 443.3h0M450.1 433.5h0M422.7 438.6h0M416.8 444.3h0M401.9 444.9h0M451.5 431.5h0M410.5 439.9h0M440.5 432.6h0M442.5 438.8h0M440.2 438.4h0M442.0 436.5h0M421.6 442.4h0M389.3 437.4h0M448.6 430.6h0M399.7 447.8h0M421.4 445.1h0M444.0 433.0h0M408.5 442.8h0M417.8 442.1h0M395.0 445.4h0" stroke="#fff" stroke-width="0.72" stroke-linecap="round" fill="none"/>
<path d="M490.2 370.6h0M484.6 369.9h0M494.6 383.8h0M484.9 370.6h0M482.6 379.1h0M480.9 376.5h0M485.2 382.3h0M482.7 378.3h0M484.1 383.3h0M482.4 382.6h0M488.5 389.0h0M487.0 380.6h0M482.1 372.6h0M488.3 377.5h0M491.8 396.8h0M493.9 377.0h0M491.6 390.8h0M478.5 381.0h0M487.8 390.9h0M488.0 381.2h0M486.4 387.4h0M485.1 373.5h0M484.1 385.3h0M477.0 380.9h0M480.7 376.0h0M488.9 373.2h0M489.4 393.3h0M479.6 384.1h0M491.9 395.6h0M494.0 384.5h0M490.7 395.9h0M493.2 396.7h0M480.1 383.0h0M491.4 372.9h0M486.8 384.8h0M481.3 373.4h0M479.6 378.5h0M486.9 375.2h0M476.5 382.2h0M490.4 385.4h0M482.7 384.2h0M484.3 384.8h0M487.3 375.4h0M492.1 381.9h0M487.0 381.0h0M485.3 384.0h0M474.9 389.8h0M478.9 377.5h0M492.6 392.9h0M487.5 386.6h0M489.1 371.7h0M488.4 392.1h0M491.1 391.1h0M481.9 383.7h0M491.8 391.2h0M489.9 371.6h0M489.3 388.4h0M485.4 371.9h0M489.4 388.0h0M492.5 374.6h0M481.3 379.8h0M486.1 389.6h0M483.4 378.4h0M490.9 377.1h0M479.6 376.8h0M485.4 385.4h0M489.0 382.2h0M478.7 378.7h0M486.5 381.4h0M486.7 374.1h0M478.9 383.6h0M479.0 378.0h0M493.5 381.3h0M489.7 372.3h0M490.2 376.4h0M491.1 390.4h0M493.5 375.6h0M486.4 376.4h0M479.0 374.0h0M478.7 376.8h0M489.2 392.7h0M488.0 381.8h0M479.0 377.8h0M485.8 373.1h0M487.8 387.6h0M494.0 382.0h0M484.7 380.4h0M487.9 383.9h0M482.7 382.3h0M487.2 379.9h0M491.6 371.9h0M482.9 387.0h0M485.5 380.0h0M476.1 386.2h0M490.8 384.1h0M486.8 375.6h0M490.6 383.4h0M479.4 381.4h0M492.6 374.6h0M485.7 386.8h0M486.8 383.8h0M484.1 378.2h0M488.0 389.4h0M490.0 378.6h0M486.0 384.2h0M477.4 381.9h0M489.2 382.3h0M481.8 380.4h0M483.1 383.6h0M490.8 379.4h0" stroke="#fff" stroke-width="0.8" stroke-linecap="round" fill="none"/>
<path d="M480.1 366.7C481.6 365.9 484.0 364.9 486.0 364.8C487.9 364.7 490.0 365.1 491.8 366.2C493.5 367.3 495.5 368.9 496.5 371.4C497.4 373.8 497.6 377.6 497.6 380.7C497.7 383.8 496.8 386.9 496.9 390.0C497.1 393.2 497.4 396.3 498.3 399.4C499.2 402.5 500.7 406.0 502.3 408.7C503.9 411.5 506.0 414.2 508.1 415.7C510.3 417.3 512.8 416.9 515.2 418.1C517.5 419.2 520.4 420.8 522.2 422.7C523.9 424.7 525.5 427.4 525.7 429.7C525.9 432.1 524.7 434.6 523.3 436.8C522.0 438.9 519.4 440.5 517.5 442.6C515.5 444.7 513.4 447.1 511.7 449.6C509.9 452.1 508.5 455.4 507.0 457.8C505.4 460.1 503.7 461.3 502.3 463.6C500.9 466.0 500.2 469.5 498.8 471.8C497.4 474.1 495.9 476.5 494.1 477.6C492.4 478.8 490.0 479.4 488.3 478.8C486.5 478.2 485.0 476.1 483.6 474.1C482.3 472.2 481.7 469.1 480.1 467.1C478.6 465.2 476.4 464.0 474.3 462.5C472.1 460.9 469.2 459.5 467.3 457.8C465.3 456.0 464.2 453.9 462.6 451.9C461.0 450.0 460.1 447.5 457.9 446.1C455.8 444.7 452.5 443.6 449.7 443.8C447.0 444.0 444.3 446.1 441.6 447.3C438.8 448.4 436.1 449.4 433.4 450.8C430.7 452.1 427.6 454.7 425.2 455.4C422.9 456.1 421.3 455.6 419.4 455.0C417.4 454.4 415.5 452.6 413.5 451.9C411.6 451.3 409.8 450.8 407.7 451.2C405.6 451.6 402.8 453.2 400.7 454.3C398.6 455.4 396.6 457.8 394.9 457.8C393.1 457.8 391.5 456.0 390.2 454.3C388.8 452.5 387.8 449.8 386.7 447.3C385.5 444.7 384.0 441.6 383.2 439.1C382.4 436.6 381.6 434.0 382.0 432.1C382.4 430.1 384.0 428.3 385.5 427.4C387.1 426.6 389.2 426.4 391.4 426.9C393.5 427.5 396.0 429.5 398.4 430.9C400.7 432.4 402.8 434.7 405.4 435.6C407.9 436.5 410.8 436.7 413.5 436.3C416.3 435.9 418.8 434.3 421.7 433.3C424.6 432.2 428.1 430.9 431.1 429.7C434.0 428.6 436.7 427.4 439.2 426.2C441.8 425.1 444.5 424.3 446.2 422.7C448.0 421.2 449.2 419.2 449.7 416.9C450.3 414.6 449.1 411.5 449.3 408.7C449.5 406.0 449.9 402.9 450.9 400.6C452.0 398.2 453.6 396.5 455.6 394.7C457.5 393.0 460.3 391.2 462.6 390.0C464.9 388.9 467.9 388.9 469.6 387.7C471.4 386.5 472.2 385.0 473.1 383.0C474.0 381.1 474.3 378.3 475.0 376.0C475.7 373.8 476.5 371.0 477.3 369.5C478.2 367.9 478.7 367.5 480.1 366.7Z" fill="none" stroke="#262626" stroke-width="1.0" stroke-linecap="round" stroke-dasharray="0.01 2.1"/>
<path d="M396.0 442.6C399.9 443.3 399.1 443.9 407.7 444.7C416.3 445.5 413.2 446.4 421.7 444.9C430.3 443.5 425.6 444.5 433.4 440.3C441.2 436.0 437.3 437.4 445.1 432.1C452.9 426.8 449.0 428.3 456.8 424.4C464.5 420.4 461.0 422.1 468.4 420.2C475.8 418.2 473.7 420.4 478.9 418.5C484.2 416.7 481.8 419.0 484.3 414.6C486.9 410.1 486.5 411.8 486.7 405.2C486.8 398.6 486.3 400.6 484.8 394.7C483.2 388.9 482.9 390.0 482.0 387.7" fill="none" stroke="#111" stroke-width="1.5" stroke-linecap="round"/>
<path d="M434.6 439.6C438.1 437.8 437.7 437.2 445.1 434.4C452.5 431.6 449.0 432.6 456.8 431.2C464.5 429.7 459.9 429.9 468.4 430.0C477.0 430.1 474.0 429.9 482.5 431.4C490.9 432.9 488.4 431.5 493.7 434.4C499.0 437.4 497.4 435.6 498.3 440.3C499.3 444.9 499.3 443.5 496.5 448.4C493.7 453.3 494.4 451.6 489.9 455.0C485.4 458.3 485.3 457.3 482.9 458.5" fill="none" stroke="#111" stroke-width="1.5" stroke-linecap="round"/>
<path d="M479.9 383.5L483.7 386.6L480.1 388.4Z" fill="#111"/>
<path d="M478.7 459.9L482.4 456.6L483.6 460.4Z" fill="#111"/>
<circle cx="394.9" cy="417.6" r="5.6" fill="#fff" stroke="#111" stroke-width="1.1"/>
<text x="394.9" y="420.3" text-anchor="middle" stroke="#1f1f1f" font-size="7.6" stroke-width="0.16">1</text>
<circle cx="428.7" cy="424.1" r="5.6" fill="#fff" stroke="#111" stroke-width="1.1"/>
<text x="428.7" y="426.8" text-anchor="middle" stroke="#1f1f1f" font-size="7.6" stroke-width="0.16">2</text>
<circle cx="396.5" cy="498.1" r="2.3" fill="#f2c55c"/>
<text x="402.6" y="500.3" stroke="#1f1f1f" stroke-width="0.16">CycProg-like</text>
<circle cx="396.5" cy="507.4" r="2.3" fill="#1f5f99"/>
<text x="402.6" y="509.6" stroke="#1f1f1f" stroke-width="0.16">Neuronal-like</text>
<circle cx="396.5" cy="516.5" r="2.3" fill="#f0704f"/>
<text x="402.6" y="518.7" stroke="#1f1f1f" stroke-width="0.16">Astrocyte-like</text>
<text x="559" y="333" font-size="11.2" font-weight="bold" fill="#000" stroke="#000" stroke-width="0.45">g</text>
<text x="621" y="336.2" text-anchor="middle" stroke="#1f1f1f" stroke-width="0.16">IUE ZR tumour cells</text>
<text x="621" y="346" text-anchor="middle" stroke="#1f1f1f" stroke-width="0.16">Dominant lineage barcode</text>
<rect x="597.3" y="374.2" width="22.3" height="99.2" fill="#dfdfdf"/>
<rect x="597.3" y="399.0" width="22.3" height="74.4" fill="#dc0000"/>
<rect x="624.9" y="374.2" width="22.1" height="99.2" fill="#dfdfdf"/>
<rect x="624.9" y="455.3" width="22.1" height="18.1" fill="#dc0000"/>
<rect x="652.2" y="374.2" width="22.2" height="99.2" fill="#dfdfdf"/>
<rect x="652.2" y="467.0" width="22.2" height="6.4" fill="#dc0000"/>
<path d="M592.4 368.4V478.5H679.6" fill="none" stroke="#666" stroke-width="0.8"/>
<path d="M587.7 473.4H592.4" stroke="#666" stroke-width="0.8"/>
<text x="584.6" y="476.2" text-anchor="end" stroke="#1f1f1f" stroke-width="0.16">0</text>
<path d="M587.7 448.6H592.4" stroke="#666" stroke-width="0.8"/>
<text x="584.6" y="451.4" text-anchor="end" stroke="#1f1f1f" stroke-width="0.16">25</text>
<path d="M587.7 423.8H592.4" stroke="#666" stroke-width="0.8"/>
<text x="584.6" y="426.6" text-anchor="end" stroke="#1f1f1f" stroke-width="0.16">50</text>
<path d="M587.7 399.0H592.4" stroke="#666" stroke-width="0.8"/>
<text x="584.6" y="401.8" text-anchor="end" stroke="#1f1f1f" stroke-width="0.16">75</text>
<path d="M587.7 374.2H592.4" stroke="#666" stroke-width="0.8"/>
<text x="584.6" y="377.0" text-anchor="end" stroke="#1f1f1f" stroke-width="0.16">100</text>
<text x="566.2" y="423.8" text-anchor="middle" stroke="#1f1f1f" transform="rotate(-90 566.2 423.8)" stroke-width="0.16">Proportion (%)</text>
<path d="M608.4 478.5V483" stroke="#666" stroke-width="0.8"/>
<text transform="translate(609.6 486.5) rotate(-45)" text-anchor="end" stroke="#1f1f1f" stroke-width="0.16"><tspan x="0" y="0">Neuronal-</tspan><tspan x="0" y="9">like</tspan></text>
<path d="M635.8 478.5V483" stroke="#666" stroke-width="0.8"/>
<text transform="translate(637.0 486.5) rotate(-45)" text-anchor="end" stroke="#1f1f1f" stroke-width="0.16"><tspan x="0" y="0">CycProg-</tspan><tspan x="0" y="9">like</tspan></text>
<path d="M663.4 478.5V483" stroke="#666" stroke-width="0.8"/>
<text transform="translate(664.6 486.5) rotate(-45)" text-anchor="end" stroke="#1f1f1f" stroke-width="0.16"><tspan x="0" y="0">Astrocyte-</tspan><tspan x="0" y="9">like</tspan></text>
<text x="1.6" y="574.8" font-size="11.2" font-weight="bold" fill="#000" stroke="#000" stroke-width="0.45">h</text>
<text x="28.9" y="586.6" stroke="#1f1f1f" stroke-width="0.16">Human ZR malignant tumour cells (<tspan font-style="italic">N</tspan> = 6)</text>
<text x="83.2" y="611" text-anchor="middle" stroke="#1f1f1f" stroke-width="0.16">Early</text>
<text x="137.2" y="611" text-anchor="middle" stroke="#1f1f1f" stroke-width="0.16">Middle</text>
<text x="183.6" y="611" text-anchor="middle" stroke="#1f1f1f" stroke-width="0.16">Late</text>
<defs><linearGradient id="gh" gradientUnits="userSpaceOnUse" x1="73.64999999999999" y1="0" x2="197.55" y2="0"><stop offset="0" stop-color="#2b2d84"/><stop offset="0.12" stop-color="#4a2a96"/><stop offset="0.28" stop-color="#8a27a4"/><stop offset="0.42" stop-color="#b8359a"/><stop offset="0.55" stop-color="#d95a86"/><stop offset="0.66" stop-color="#ef7a62"/><stop offset="0.76" stop-color="#f99a40"/><stop offset="0.85" stop-color="#fcc02a"/><stop offset="0.93" stop-color="#f6dc24"/><stop offset="1" stop-color="#f0f024"/></linearGradient></defs>
<path d="M106.1 623.2V707.9M165.4 623.2V707.9" stroke="#444" stroke-width="0.8" stroke-dasharray="3.4 2.5" fill="none"/>
<text x="65.3" y="639.9" text-anchor="end" stroke="#1f1f1f" stroke-width="0.16">RGC-like</text>
<path d="M71.3 640.25L72.1 640.17L72.9 640.05L73.7 639.89L74.5 639.67L75.3 639.38L76.1 639.03L76.9 638.60L77.7 638.11L78.5 637.58L79.3 637.03L80.1 636.49L81.0 635.98L81.8 635.54L82.6 635.17L83.4 634.89L84.2 634.68L85.0 634.53L85.8 634.41L86.6 634.30L87.4 634.17L88.2 634.02L89.0 633.84L89.8 633.67L90.6 633.52L91.4 633.42L92.2 633.42L93.0 633.53L93.8 633.77L94.6 634.11L95.4 634.55L96.3 635.05L97.1 635.56L97.9 636.06L98.7 636.53L99.5 636.96L100.3 637.35L101.1 637.72L101.9 638.09L102.7 638.44L103.5 638.78L104.3 639.09L105.1 639.35L105.9 639.56L106.7 639.71L107.5 639.82L108.3 639.88L109.1 639.91L109.9 639.92L110.7 639.93L111.6 639.93L112.4 639.92L113.2 639.92L114.0 639.91L114.8 639.91L115.6 639.90L116.4 639.90L117.2 639.90L118.0 639.90L118.8 639.90L119.6 639.90L120.4 639.90L121.2 639.91L122.0 639.91L122.8 639.92L123.6 639.93L124.4 639.93L125.2 639.94L126.0 639.95L126.9 639.96L127.7 639.97L128.5 639.98L129.3 639.99L130.1 640.01L130.9 640.02L131.7 640.03L132.5 640.04L133.3 640.06L134.1 640.07L134.9 640.08L135.7 640.10L136.5 640.11L137.3 640.13L138.1 640.14L138.9 640.15L139.7 640.17L140.5 640.18L141.3 640.19L142.1 640.20L143.0 640.22L143.8 640.23L144.6 640.24L145.4 640.25L146.2 640.26L147.0 640.27L147.8 640.28L148.6 640.29L149.4 640.30L150.2 640.31L151.0 640.31L151.8 640.32L152.6 640.33L153.4 640.33L154.2 640.34L155.0 640.34L155.8 640.35L156.6 640.35L157.4 640.36L158.3 640.36L159.1 640.37L159.9 640.37L160.7 640.37L161.5 640.38L162.3 640.38L163.1 640.38L163.9 640.38L164.7 640.38L165.5 640.39L166.3 640.39L167.1 640.39L167.9 640.39L168.7 640.39L169.5 640.39L170.3 640.39L171.1 640.39L171.9 640.38L172.7 640.36L173.6 640.33L174.4 640.27L175.2 640.18L176.0 640.03L176.8 639.83L177.6 639.59L178.4 639.33L179.2 639.08L180.0 638.89L180.8 638.80L181.6 638.83L182.4 638.97L183.2 639.18L184.0 639.44L184.8 639.70L185.6 639.93L186.4 640.10L187.2 640.23L188.0 640.31L188.9 640.35L189.7 640.38L190.5 640.39L191.3 640.40L192.1 640.40L192.9 640.40L193.7 640.40L194.5 640.40L195.3 640.40L196.1 640.40L196.9 640.40L197.7 640.40L198.5 640.40L199.3 640.40L199.3 640.4L71.3 640.4Z" fill="url(#gh)"/>
<path d="M71.2 640.4L71.3 640.25L72.1 640.17L72.9 640.05L73.7 639.89L74.5 639.67L75.3 639.38L76.1 639.03L76.9 638.60L77.7 638.11L78.5 637.58L79.3 637.03L80.1 636.49L81.0 635.98L81.8 635.54L82.6 635.17L83.4 634.89L84.2 634.68L85.0 634.53L85.8 634.41L86.6 634.30L87.4 634.17L88.2 634.02L89.0 633.84L89.8 633.67L90.6 633.52L91.4 633.42L92.2 633.42L93.0 633.53L93.8 633.77L94.6 634.11L95.4 634.55L96.3 635.05L97.1 635.56L97.9 636.06L98.7 636.53L99.5 636.96L100.3 637.35L101.1 637.72L101.9 638.09L102.7 638.44L103.5 638.78L104.3 639.09L105.1 639.35L105.9 639.56L106.7 639.71L107.5 639.82L108.3 639.88L109.1 639.91L109.9 639.92L110.7 639.93L111.6 639.93L112.4 639.92L113.2 639.92L114.0 639.91L114.8 639.91L115.6 639.90L116.4 639.90L117.2 639.90L118.0 639.90L118.8 639.90L119.6 639.90L120.4 639.90L121.2 639.91L122.0 639.91L122.8 639.92L123.6 639.93L124.4 639.93L125.2 639.94L126.0 639.95L126.9 639.96L127.7 639.97L128.5 639.98L129.3 639.99L130.1 640.01L130.9 640.02L131.7 640.03L132.5 640.04L133.3 640.06L134.1 640.07L134.9 640.08L135.7 640.10L136.5 640.11L137.3 640.13L138.1 640.14L138.9 640.15L139.7 640.17L140.5 640.18L141.3 640.19L142.1 640.20L143.0 640.22L143.8 640.23L144.6 640.24L145.4 640.25L146.2 640.26L147.0 640.27L147.8 640.28L148.6 640.29L149.4 640.30L150.2 640.31L151.0 640.31L151.8 640.32L152.6 640.33L153.4 640.33L154.2 640.34L155.0 640.34L155.8 640.35L156.6 640.35L157.4 640.36L158.3 640.36L159.1 640.37L159.9 640.37L160.7 640.37L161.5 640.38L162.3 640.38L163.1 640.38L163.9 640.38L164.7 640.38L165.5 640.39L166.3 640.39L167.1 640.39L167.9 640.39L168.7 640.39L169.5 640.39L170.3 640.39L171.1 640.39L171.9 640.38L172.7 640.36L173.6 640.33L174.4 640.27L175.2 640.18L176.0 640.03L176.8 639.83L177.6 639.59L178.4 639.33L179.2 639.08L180.0 638.89L180.8 638.80L181.6 638.83L182.4 638.97L183.2 639.18L184.0 639.44L184.8 639.70L185.6 639.93L186.4 640.10L187.2 640.23L188.0 640.31L188.9 640.35L189.7 640.38L190.5 640.39L191.3 640.40L192.1 640.40L192.9 640.40L193.7 640.40L194.5 640.40L195.3 640.40L196.1 640.40L196.9 640.40L197.7 640.40L198.5 640.40L199.3 640.40L199.6 640.4" fill="none" stroke="#111" stroke-width="1.45" stroke-linejoin="round"/>
<text x="65.3" y="656.3" text-anchor="end" stroke="#1f1f1f" stroke-width="0.16">CycProg-like</text>
<path d="M71.3 656.80L72.1 656.80L72.9 656.80L73.7 656.80L74.5 656.80L75.3 656.80L76.1 656.80L76.9 656.80L77.7 656.80L78.5 656.80L79.3 656.80L80.1 656.80L81.0 656.80L81.8 656.80L82.6 656.80L83.4 656.80L84.2 656.80L85.0 656.80L85.8 656.80L86.6 656.80L87.4 656.80L88.2 656.80L89.0 656.80L89.8 656.80L90.6 656.80L91.4 656.80L92.2 656.80L93.0 656.80L93.8 656.80L94.6 656.80L95.4 656.79L96.3 656.76L97.1 656.69L97.9 656.52L98.7 656.12L99.5 655.35L100.3 653.98L101.1 651.88L101.9 649.09L102.7 645.91L103.5 642.97L104.3 641.00L105.1 640.55L105.9 641.76L106.7 644.28L107.5 647.42L108.3 650.48L109.1 652.96L109.9 654.71L110.7 655.77L111.6 656.35L112.4 656.62L113.2 656.74L114.0 656.78L114.8 656.79L115.6 656.80L116.4 656.80L117.2 656.80L118.0 656.80L118.8 656.80L119.6 656.80L120.4 656.80L121.2 656.80L122.0 656.80L122.8 656.80L123.6 656.80L124.4 656.80L125.2 656.80L126.0 656.80L126.9 656.80L127.7 656.80L128.5 656.80L129.3 656.80L130.1 656.80L130.9 656.80L131.7 656.80L132.5 656.80L133.3 656.80L134.1 656.80L134.9 656.80L135.7 656.80L136.5 656.80L137.3 656.80L138.1 656.80L138.9 656.80L139.7 656.80L140.5 656.80L141.3 656.80L142.1 656.80L143.0 656.80L143.8 656.80L144.6 656.80L145.4 656.80L146.2 656.80L147.0 656.80L147.8 656.80L148.6 656.80L149.4 656.80L150.2 656.80L151.0 656.80L151.8 656.80L152.6 656.80L153.4 656.80L154.2 656.80L155.0 656.80L155.8 656.80L156.6 656.80L157.4 656.80L158.3 656.80L159.1 656.80L159.9 656.80L160.7 656.80L161.5 656.80L162.3 656.80L163.1 656.80L163.9 656.80L164.7 656.80L165.5 656.80L166.3 656.80L167.1 656.80L167.9 656.80L168.7 656.80L169.5 656.80L170.3 656.80L171.1 656.80L171.9 656.80L172.7 656.80L173.6 656.80L174.4 656.80L175.2 656.80L176.0 656.80L176.8 656.80L177.6 656.80L178.4 656.80L179.2 656.80L180.0 656.80L180.8 656.80L181.6 656.80L182.4 656.80L183.2 656.80L184.0 656.80L184.8 656.80L185.6 656.80L186.4 656.80L187.2 656.80L188.0 656.80L188.9 656.80L189.7 656.80L190.5 656.80L191.3 656.80L192.1 656.80L192.9 656.80L193.7 656.80L194.5 656.80L195.3 656.80L196.1 656.80L196.9 656.80L197.7 656.80L198.5 656.80L199.3 656.80L199.3 656.8L71.3 656.8Z" fill="url(#gh)"/>
<path d="M71.2 656.8L71.3 656.80L72.1 656.80L72.9 656.80L73.7 656.80L74.5 656.80L75.3 656.80L76.1 656.80L76.9 656.80L77.7 656.80L78.5 656.80L79.3 656.80L80.1 656.80L81.0 656.80L81.8 656.80L82.6 656.80L83.4 656.80L84.2 656.80L85.0 656.80L85.8 656.80L86.6 656.80L87.4 656.80L88.2 656.80L89.0 656.80L89.8 656.80L90.6 656.80L91.4 656.80L92.2 656.80L93.0 656.80L93.8 656.80L94.6 656.80L95.4 656.79L96.3 656.76L97.1 656.69L97.9 656.52L98.7 656.12L99.5 655.35L100.3 653.98L101.1 651.88L101.9 649.09L102.7 645.91L103.5 642.97L104.3 641.00L105.1 640.55L105.9 641.76L106.7 644.28L107.5 647.42L108.3 650.48L109.1 652.96L109.9 654.71L110.7 655.77L111.6 656.35L112.4 656.62L113.2 656.74L114.0 656.78L114.8 656.79L115.6 656.80L116.4 656.80L117.2 656.80L118.0 656.80L118.8 656.80L119.6 656.80L120.4 656.80L121.2 656.80L122.0 656.80L122.8 656.80L123.6 656.80L124.4 656.80L125.2 656.80L126.0 656.80L126.9 656.80L127.7 656.80L128.5 656.80L129.3 656.80L130.1 656.80L130.9 656.80L131.7 656.80L132.5 656.80L133.3 656.80L134.1 656.80L134.9 656.80L135.7 656.80L136.5 656.80L137.3 656.80L138.1 656.80L138.9 656.80L139.7 656.80L140.5 656.80L141.3 656.80L142.1 656.80L143.0 656.80L143.8 656.80L144.6 656.80L145.4 656.80L146.2 656.80L147.0 656.80L147.8 656.80L148.6 656.80L149.4 656.80L150.2 656.80L151.0 656.80L151.8 656.80L152.6 656.80L153.4 656.80L154.2 656.80L155.0 656.80L155.8 656.80L156.6 656.80L157.4 656.80L158.3 656.80L159.1 656.80L159.9 656.80L160.7 656.80L161.5 656.80L162.3 656.80L163.1 656.80L163.9 656.80L164.7 656.80L165.5 656.80L166.3 656.80L167.1 656.80L167.9 656.80L168.7 656.80L169.5 656.80L170.3 656.80L171.1 656.80L171.9 656.80L172.7 656.80L173.6 656.80L174.4 656.80L175.2 656.80L176.0 656.80L176.8 656.80L177.6 656.80L178.4 656.80L179.2 656.80L180.0 656.80L180.8 656.80L181.6 656.80L182.4 656.80L183.2 656.80L184.0 656.80L184.8 656.80L185.6 656.80L186.4 656.80L187.2 656.80L188.0 656.80L188.9 656.80L189.7 656.80L190.5 656.80L191.3 656.80L192.1 656.80L192.9 656.80L193.7 656.80L194.5 656.80L195.3 656.80L196.1 656.80L196.9 656.80L197.7 656.80L198.5 656.80L199.3 656.80L199.6 656.8" fill="none" stroke="#111" stroke-width="1.45" stroke-linejoin="round"/>
<text x="65.3" y="672.9" text-anchor="end" stroke="#1f1f1f" stroke-width="0.16">Neuronal-like</text>
<path d="M71.3 673.40L72.1 673.40L72.9 673.40L73.7 673.40L74.5 673.40L75.3 673.40L76.1 673.40L76.9 673.39L77.7 673.39L78.5 673.39L79.3 673.39L80.1 673.38L81.0 673.38L81.8 673.37L82.6 673.37L83.4 673.36L84.2 673.34L85.0 673.33L85.8 673.31L86.6 673.29L87.4 673.27L88.2 673.24L89.0 673.21L89.8 673.18L90.6 673.14L91.4 673.10L92.2 673.05L93.0 673.00L93.8 672.94L94.6 672.88L95.4 672.82L96.3 672.75L97.1 672.69L97.9 672.62L98.7 672.56L99.5 672.49L100.3 672.43L101.1 672.38L101.9 672.33L102.7 672.28L103.5 672.24L104.3 672.21L105.1 672.18L105.9 672.15L106.7 672.12L107.5 672.07L108.3 672.01L109.1 671.92L109.9 671.79L110.7 671.62L111.6 671.39L112.4 671.12L113.2 670.81L114.0 670.48L114.8 670.16L115.6 669.87L116.4 669.65L117.2 669.52L118.0 669.49L118.8 669.56L119.6 669.73L120.4 669.97L121.2 670.23L122.0 670.50L122.8 670.73L123.6 670.89L124.4 670.98L125.2 670.99L126.0 670.93L126.9 670.80L127.7 670.65L128.5 670.47L129.3 670.31L130.1 670.18L130.9 670.10L131.7 670.08L132.5 670.11L133.3 670.20L134.1 670.34L134.9 670.53L135.7 670.73L136.5 670.95L137.3 671.17L138.1 671.37L138.9 671.55L139.7 671.71L140.5 671.84L141.3 671.94L142.1 672.02L143.0 672.08L143.8 672.13L144.6 672.18L145.4 672.22L146.2 672.26L147.0 672.30L147.8 672.34L148.6 672.39L149.4 672.43L150.2 672.48L151.0 672.52L151.8 672.56L152.6 672.60L153.4 672.64L154.2 672.67L155.0 672.71L155.8 672.75L156.6 672.78L157.4 672.82L158.3 672.86L159.1 672.90L159.9 672.93L160.7 672.96L161.5 672.98L162.3 672.98L163.1 672.96L163.9 672.91L164.7 672.83L165.5 672.73L166.3 672.61L167.1 672.49L167.9 672.38L168.7 672.30L169.5 672.26L170.3 672.28L171.1 672.35L171.9 672.47L172.7 672.61L173.6 672.76L174.4 672.91L175.2 673.04L176.0 673.15L176.8 673.24L177.6 673.30L178.4 673.34L179.2 673.37L180.0 673.38L180.8 673.39L181.6 673.40L182.4 673.40L183.2 673.40L184.0 673.40L184.8 673.40L185.6 673.40L186.4 673.40L187.2 673.40L188.0 673.40L188.9 673.40L189.7 673.40L190.5 673.40L191.3 673.40L192.1 673.40L192.9 673.40L193.7 673.40L194.5 673.40L195.3 673.40L196.1 673.40L196.9 673.40L197.7 673.40L198.5 673.40L199.3 673.40L199.3 673.4L71.3 673.4Z" fill="url(#gh)"/>
<path d="M71.2 673.4L71.3 673.40L72.1 673.40L72.9 673.40L73.7 673.40L74.5 673.40L75.3 673.40L76.1 673.40L76.9 673.39L77.7 673.39L78.5 673.39L79.3 673.39L80.1 673.38L81.0 673.38L81.8 673.37L82.6 673.37L83.4 673.36L84.2 673.34L85.0 673.33L85.8 673.31L86.6 673.29L87.4 673.27L88.2 673.24L89.0 673.21L89.8 673.18L90.6 673.14L91.4 673.10L92.2 673.05L93.0 673.00L93.8 672.94L94.6 672.88L95.4 672.82L96.3 672.75L97.1 672.69L97.9 672.62L98.7 672.56L99.5 672.49L100.3 672.43L101.1 672.38L101.9 672.33L102.7 672.28L103.5 672.24L104.3 672.21L105.1 672.18L105.9 672.15L106.7 672.12L107.5 672.07L108.3 672.01L109.1 671.92L109.9 671.79L110.7 671.62L111.6 671.39L112.4 671.12L113.2 670.81L114.0 670.48L114.8 670.16L115.6 669.87L116.4 669.65L117.2 669.52L118.0 669.49L118.8 669.56L119.6 669.73L120.4 669.97L121.2 670.23L122.0 670.50L122.8 670.73L123.6 670.89L124.4 670.98L125.2 670.99L126.0 670.93L126.9 670.80L127.7 670.65L128.5 670.47L129.3 670.31L130.1 670.18L130.9 670.10L131.7 670.08L132.5 670.11L133.3 670.20L134.1 670.34L134.9 670.53L135.7 670.73L136.5 670.95L137.3 671.17L138.1 671.37L138.9 671.55L139.7 671.71L140.5 671.84L141.3 671.94L142.1 672.02L143.0 672.08L143.8 672.13L144.6 672.18L145.4 672.22L146.2 672.26L147.0 672.30L147.8 672.34L148.6 672.39L149.4 672.43L150.2 672.48L151.0 672.52L151.8 672.56L152.6 672.60L153.4 672.64L154.2 672.67L155.0 672.71L155.8 672.75L156.6 672.78L157.4 672.82L158.3 672.86L159.1 672.90L159.9 672.93L160.7 672.96L161.5 672.98L162.3 672.98L163.1 672.96L163.9 672.91L164.7 672.83L165.5 672.73L166.3 672.61L167.1 672.49L167.9 672.38L168.7 672.30L169.5 672.26L170.3 672.28L171.1 672.35L171.9 672.47L172.7 672.61L173.6 672.76L174.4 672.91L175.2 673.04L176.0 673.15L176.8 673.24L177.6 673.30L178.4 673.34L179.2 673.37L180.0 673.38L180.8 673.39L181.6 673.40L182.4 673.40L183.2 673.40L184.0 673.40L184.8 673.40L185.6 673.40L186.4 673.40L187.2 673.40L188.0 673.40L188.9 673.40L189.7 673.40L190.5 673.40L191.3 673.40L192.1 673.40L192.9 673.40L193.7 673.40L194.5 673.40L195.3 673.40L196.1 673.40L196.9 673.40L197.7 673.40L198.5 673.40L199.3 673.40L199.6 673.4" fill="none" stroke="#111" stroke-width="1.45" stroke-linejoin="round"/>
<text x="65.3" y="689.2" text-anchor="end" stroke="#1f1f1f" stroke-width="0.16">Ependymal-like</text>
<path d="M71.3 689.70L72.1 689.70L72.9 689.70L73.7 689.70L74.5 689.70L75.3 689.70L76.1 689.70L76.9 689.70L77.7 689.70L78.5 689.70L79.3 689.70L80.1 689.70L81.0 689.70L81.8 689.70L82.6 689.70L83.4 689.69L84.2 689.68L85.0 689.64L85.8 689.57L86.6 689.46L87.4 689.36L88.2 689.30L89.0 689.32L89.8 689.41L90.6 689.52L91.4 689.61L92.2 689.66L93.0 689.69L93.8 689.70L94.6 689.70L95.4 689.70L96.3 689.70L97.1 689.70L97.9 689.70L98.7 689.70L99.5 689.70L100.3 689.70L101.1 689.70L101.9 689.70L102.7 689.70L103.5 689.70L104.3 689.70L105.1 689.70L105.9 689.70L106.7 689.70L107.5 689.70L108.3 689.70L109.1 689.70L109.9 689.70L110.7 689.70L111.6 689.70L112.4 689.70L113.2 689.70L114.0 689.70L114.8 689.70L115.6 689.70L116.4 689.70L117.2 689.70L118.0 689.70L118.8 689.70L119.6 689.70L120.4 689.70L121.2 689.70L122.0 689.70L122.8 689.70L123.6 689.70L124.4 689.70L125.2 689.70L126.0 689.70L126.9 689.70L127.7 689.70L128.5 689.70L129.3 689.70L130.1 689.70L130.9 689.70L131.7 689.70L132.5 689.70L133.3 689.70L134.1 689.70L134.9 689.69L135.7 689.68L136.5 689.65L137.3 689.59L138.1 689.46L138.9 689.21L139.7 688.77L140.5 688.09L141.3 687.15L142.1 685.97L143.0 684.70L143.8 683.53L144.6 682.67L145.4 682.25L146.2 682.31L147.0 682.71L147.8 683.28L148.6 683.83L149.4 684.23L150.2 684.45L151.0 684.53L151.8 684.54L152.6 684.55L153.4 684.62L154.2 684.77L155.0 684.98L155.8 685.23L156.6 685.49L157.4 685.76L158.3 686.03L159.1 686.32L159.9 686.64L160.7 687.00L161.5 687.41L162.3 687.84L163.1 688.27L163.9 688.66L164.7 688.99L165.5 689.24L166.3 689.42L167.1 689.54L167.9 689.61L168.7 689.66L169.5 689.68L170.3 689.69L171.1 689.70L171.9 689.70L172.7 689.70L173.6 689.70L174.4 689.70L175.2 689.70L176.0 689.70L176.8 689.70L177.6 689.70L178.4 689.70L179.2 689.70L180.0 689.70L180.8 689.70L181.6 689.70L182.4 689.70L183.2 689.70L184.0 689.70L184.8 689.70L185.6 689.70L186.4 689.70L187.2 689.70L188.0 689.70L188.9 689.70L189.7 689.70L190.5 689.70L191.3 689.70L192.1 689.70L192.9 689.70L193.7 689.70L194.5 689.70L195.3 689.70L196.1 689.70L196.9 689.70L197.7 689.70L198.5 689.70L199.3 689.70L199.3 689.7L71.3 689.7Z" fill="url(#gh)"/>
<path d="M71.2 689.7L71.3 689.70L72.1 689.70L72.9 689.70L73.7 689.70L74.5 689.70L75.3 689.70L76.1 689.70L76.9 689.70L77.7 689.70L78.5 689.70L79.3 689.70L80.1 689.70L81.0 689.70L81.8 689.70L82.6 689.70L83.4 689.69L84.2 689.68L85.0 689.64L85.8 689.57L86.6 689.46L87.4 689.36L88.2 689.30L89.0 689.32L89.8 689.41L90.6 689.52L91.4 689.61L92.2 689.66L93.0 689.69L93.8 689.70L94.6 689.70L95.4 689.70L96.3 689.70L97.1 689.70L97.9 689.70L98.7 689.70L99.5 689.70L100.3 689.70L101.1 689.70L101.9 689.70L102.7 689.70L103.5 689.70L104.3 689.70L105.1 689.70L105.9 689.70L106.7 689.70L107.5 689.70L108.3 689.70L109.1 689.70L109.9 689.70L110.7 689.70L111.6 689.70L112.4 689.70L113.2 689.70L114.0 689.70L114.8 689.70L115.6 689.70L116.4 689.70L117.2 689.70L118.0 689.70L118.8 689.70L119.6 689.70L120.4 689.70L121.2 689.70L122.0 689.70L122.8 689.70L123.6 689.70L124.4 689.70L125.2 689.70L126.0 689.70L126.9 689.70L127.7 689.70L128.5 689.70L129.3 689.70L130.1 689.70L130.9 689.70L131.7 689.70L132.5 689.70L133.3 689.70L134.1 689.70L134.9 689.69L135.7 689.68L136.5 689.65L137.3 689.59L138.1 689.46L138.9 689.21L139.7 688.77L140.5 688.09L141.3 687.15L142.1 685.97L143.0 684.70L143.8 683.53L144.6 682.67L145.4 682.25L146.2 682.31L147.0 682.71L147.8 683.28L148.6 683.83L149.4 684.23L150.2 684.45L151.0 684.53L151.8 684.54L152.6 684.55L153.4 684.62L154.2 684.77L155.0 684.98L155.8 685.23L156.6 685.49L157.4 685.76L158.3 686.03L159.1 686.32L159.9 686.64L160.7 687.00L161.5 687.41L162.3 687.84L163.1 688.27L163.9 688.66L164.7 688.99L165.5 689.24L166.3 689.42L167.1 689.54L167.9 689.61L168.7 689.66L169.5 689.68L170.3 689.69L171.1 689.70L171.9 689.70L172.7 689.70L173.6 689.70L174.4 689.70L175.2 689.70L176.0 689.70L176.8 689.70L177.6 689.70L178.4 689.70L179.2 689.70L180.0 689.70L180.8 689.70L181.6 689.70L182.4 689.70L183.2 689.70L184.0 689.70L184.8 689.70L185.6 689.70L186.4 689.70L187.2 689.70L188.0 689.70L188.9 689.70L189.7 689.70L190.5 689.70L191.3 689.70L192.1 689.70L192.9 689.70L193.7 689.70L194.5 689.70L195.3 689.70L196.1 689.70L196.9 689.70L197.7 689.70L198.5 689.70L199.3 689.70L199.6 689.7" fill="none" stroke="#111" stroke-width="1.45" stroke-linejoin="round"/>
<text x="65.3" y="705.2" text-anchor="end" stroke="#1f1f1f" stroke-width="0.16">Astrocyte-like</text>
<path d="M71.3 705.70L72.1 705.70L72.9 705.70L73.7 705.70L74.5 705.70L75.3 705.70L76.1 705.70L76.9 705.70L77.7 705.70L78.5 705.70L79.3 705.70L80.1 705.70L81.0 705.70L81.8 705.70L82.6 705.70L83.4 705.70L84.2 705.70L85.0 705.70L85.8 705.70L86.6 705.70L87.4 705.70L88.2 705.70L89.0 705.70L89.8 705.70L90.6 705.70L91.4 705.70L92.2 705.70L93.0 705.70L93.8 705.70L94.6 705.70L95.4 705.70L96.3 705.70L97.1 705.70L97.9 705.70L98.7 705.70L99.5 705.70L100.3 705.70L101.1 705.70L101.9 705.70L102.7 705.70L103.5 705.70L104.3 705.69L105.1 705.69L105.9 705.68L106.7 705.67L107.5 705.64L108.3 705.61L109.1 705.57L109.9 705.52L110.7 705.45L111.6 705.38L112.4 705.32L113.2 705.26L114.0 705.22L114.8 705.20L115.6 705.21L116.4 705.24L117.2 705.29L118.0 705.35L118.8 705.42L119.6 705.49L120.4 705.55L121.2 705.60L122.0 705.63L122.8 705.66L123.6 705.68L124.4 705.69L125.2 705.69L126.0 705.70L126.9 705.70L127.7 705.70L128.5 705.70L129.3 705.70L130.1 705.70L130.9 705.70L131.7 705.70L132.5 705.70L133.3 705.70L134.1 705.70L134.9 705.70L135.7 705.70L136.5 705.70L137.3 705.70L138.1 705.70L138.9 705.70L139.7 705.70L140.5 705.70L141.3 705.70L142.1 705.70L143.0 705.70L143.8 705.70L144.6 705.70L145.4 705.70L146.2 705.70L147.0 705.70L147.8 705.70L148.6 705.70L149.4 705.70L150.2 705.70L151.0 705.70L151.8 705.70L152.6 705.70L153.4 705.70L154.2 705.69L155.0 705.67L155.8 705.61L156.6 705.46L157.4 705.16L158.3 704.61L159.1 703.72L159.9 702.51L160.7 701.10L161.5 699.76L162.3 698.80L163.1 698.45L163.9 698.70L164.7 699.33L165.5 700.04L166.3 700.57L167.1 700.79L167.9 700.78L168.7 700.65L169.5 700.56L170.3 700.61L171.1 700.84L171.9 701.23L172.7 701.70L173.6 702.20L174.4 702.67L175.2 703.09L176.0 703.45L176.8 703.77L177.6 704.08L178.4 704.37L179.2 704.66L180.0 704.93L180.8 705.16L181.6 705.34L182.4 705.48L183.2 705.56L184.0 705.59L184.8 705.58L185.6 705.50L186.4 705.34L187.2 705.09L188.0 704.74L188.9 704.32L189.7 703.89L190.5 703.53L191.3 703.32L192.1 703.33L192.9 703.54L193.7 703.91L194.5 704.34L195.3 704.76L196.1 705.11L196.9 705.36L197.7 705.52L198.5 705.62L199.3 705.66L199.3 705.7L71.3 705.7Z" fill="url(#gh)"/>
<path d="M71.2 705.7L71.3 705.70L72.1 705.70L72.9 705.70L73.7 705.70L74.5 705.70L75.3 705.70L76.1 705.70L76.9 705.70L77.7 705.70L78.5 705.70L79.3 705.70L80.1 705.70L81.0 705.70L81.8 705.70L82.6 705.70L83.4 705.70L84.2 705.70L85.0 705.70L85.8 705.70L86.6 705.70L87.4 705.70L88.2 705.70L89.0 705.70L89.8 705.70L90.6 705.70L91.4 705.70L92.2 705.70L93.0 705.70L93.8 705.70L94.6 705.70L95.4 705.70L96.3 705.70L97.1 705.70L97.9 705.70L98.7 705.70L99.5 705.70L100.3 705.70L101.1 705.70L101.9 705.70L102.7 705.70L103.5 705.70L104.3 705.69L105.1 705.69L105.9 705.68L106.7 705.67L107.5 705.64L108.3 705.61L109.1 705.57L109.9 705.52L110.7 705.45L111.6 705.38L112.4 705.32L113.2 705.26L114.0 705.22L114.8 705.20L115.6 705.21L116.4 705.24L117.2 705.29L118.0 705.35L118.8 705.42L119.6 705.49L120.4 705.55L121.2 705.60L122.0 705.63L122.8 705.66L123.6 705.68L124.4 705.69L125.2 705.69L126.0 705.70L126.9 705.70L127.7 705.70L128.5 705.70L129.3 705.70L130.1 705.70L130.9 705.70L131.7 705.70L132.5 705.70L133.3 705.70L134.1 705.70L134.9 705.70L135.7 705.70L136.5 705.70L137.3 705.70L138.1 705.70L138.9 705.70L139.7 705.70L140.5 705.70L141.3 705.70L142.1 705.70L143.0 705.70L143.8 705.70L144.6 705.70L145.4 705.70L146.2 705.70L147.0 705.70L147.8 705.70L148.6 705.70L149.4 705.70L150.2 705.70L151.0 705.70L151.8 705.70L152.6 705.70L153.4 705.70L154.2 705.69L155.0 705.67L155.8 705.61L156.6 705.46L157.4 705.16L158.3 704.61L159.1 703.72L159.9 702.51L160.7 701.10L161.5 699.76L162.3 698.80L163.1 698.45L163.9 698.70L164.7 699.33L165.5 700.04L166.3 700.57L167.1 700.79L167.9 700.78L168.7 700.65L169.5 700.56L170.3 700.61L171.1 700.84L171.9 701.23L172.7 701.70L173.6 702.20L174.4 702.67L175.2 703.09L176.0 703.45L176.8 703.77L177.6 704.08L178.4 704.37L179.2 704.66L180.0 704.93L180.8 705.16L181.6 705.34L182.4 705.48L183.2 705.56L184.0 705.59L184.8 705.58L185.6 705.50L186.4 705.34L187.2 705.09L188.0 704.74L188.9 704.32L189.7 703.89L190.5 703.53L191.3 703.32L192.1 703.33L192.9 703.54L193.7 703.91L194.5 704.34L195.3 704.76L196.1 705.11L196.9 705.36L197.7 705.52L198.5 705.62L199.3 705.66L199.6 705.7" fill="none" stroke="#111" stroke-width="1.45" stroke-linejoin="round"/>
<path d="M71.2 708.6H202" stroke="#9a9a9a" stroke-width="0.8"/>
<path d="M76.6 708.6V711.5" stroke="#9a9a9a" stroke-width="0.8"/>
<text x="76.6" y="722.8" text-anchor="middle" stroke="#1f1f1f" stroke-width="0.16">0</text>
<path d="M106.1 708.6V711.5" stroke="#9a9a9a" stroke-width="0.8"/>
<text x="106.1" y="722.8" text-anchor="middle" stroke="#1f1f1f" stroke-width="0.16">5</text>
<path d="M135.6 708.6V711.5" stroke="#9a9a9a" stroke-width="0.8"/>
<text x="135.6" y="722.8" text-anchor="middle" stroke="#1f1f1f" stroke-width="0.16">10</text>
<path d="M165.1 708.6V711.5" stroke="#9a9a9a" stroke-width="0.8"/>
<text x="165.1" y="722.8" text-anchor="middle" stroke="#1f1f1f" stroke-width="0.16">15</text>
<path d="M194.6 708.6V711.5" stroke="#9a9a9a" stroke-width="0.8"/>
<text x="194.6" y="722.8" text-anchor="middle" stroke="#1f1f1f" stroke-width="0.16">20</text>
<defs><linearGradient id="gh2" gradientUnits="userSpaceOnUse" x1="95.7" y1="0" x2="192.4" y2="0"><stop offset="0" stop-color="#2b2d84"/><stop offset="0.12" stop-color="#4a2a96"/><stop offset="0.28" stop-color="#8a27a4"/><stop offset="0.42" stop-color="#b8359a"/><stop offset="0.55" stop-color="#d95a86"/><stop offset="0.66" stop-color="#ef7a62"/><stop offset="0.76" stop-color="#f99a40"/><stop offset="0.85" stop-color="#fcc02a"/><stop offset="0.93" stop-color="#f6dc24"/><stop offset="1" stop-color="#f0f024"/></linearGradient></defs>
<rect x="95.7" y="731.7" width="96.7" height="10.2" fill="url(#gh2)"/>
<path d="M95.9 732.1V745.6M192.2 732.1V745.6" stroke="#8a8a8a" stroke-width="0.6"/>
<text x="93.2" y="740" text-anchor="end" stroke="#1f1f1f" stroke-width="0.16">Pseudotime</text>
<text x="103.9" y="756" text-anchor="middle" stroke="#1f1f1f" stroke-width="0.16">Early</text>
<text x="186.4" y="756" text-anchor="middle" stroke="#1f1f1f" stroke-width="0.16">Late</text>
<text x="225.6" y="574.8" font-size="11.2" font-weight="bold" fill="#000" stroke="#000" stroke-width="0.45">i</text>
<text x="325.4" y="577.8" text-anchor="middle" stroke="#1f1f1f" stroke-width="0.16">Mouse IUE ZR tumour cells</text>
<text x="325.4" y="587.8" text-anchor="middle" stroke="#1f1f1f" stroke-width="0.16">TrackerSeq LB-1 only (<tspan font-style="italic">N</tspan> = 11)</text>
<text x="291.6" y="611" text-anchor="middle" stroke="#1f1f1f" stroke-width="0.16">Early</text>
<text x="335.3" y="611" text-anchor="middle" stroke="#1f1f1f" stroke-width="0.16">Middle</text>
<text x="382.7" y="611" text-anchor="middle" stroke="#1f1f1f" stroke-width="0.16">Late</text>
<defs><linearGradient id="gi" gradientUnits="userSpaceOnUse" x1="283.92" y1="0" x2="402.084" y2="0"><stop offset="0" stop-color="#2b2d84"/><stop offset="0.12" stop-color="#4a2a96"/><stop offset="0.28" stop-color="#8a27a4"/><stop offset="0.42" stop-color="#b8359a"/><stop offset="0.55" stop-color="#d95a86"/><stop offset="0.66" stop-color="#ef7a62"/><stop offset="0.76" stop-color="#f99a40"/><stop offset="0.85" stop-color="#fcc02a"/><stop offset="0.93" stop-color="#f6dc24"/><stop offset="1" stop-color="#f0f024"/></linearGradient></defs>
<path d="M311.4 626.3V707.9M357.2 626.3V707.9" stroke="#444" stroke-width="0.8" stroke-dasharray="3.4 2.5" fill="none"/>
<text x="274.1" y="641.6" text-anchor="end" stroke="#1f1f1f" stroke-width="0.16">CycProg-like</text>
<path d="M283.0 641.80L283.8 641.66L284.5 641.43L285.2 641.09L286.0 640.59L286.7 639.90L287.5 638.99L288.2 637.83L289.0 636.43L289.7 634.84L290.5 633.13L291.2 631.40L292.0 629.79L292.7 628.44L293.4 627.49L294.2 627.03L294.9 627.11L295.7 627.73L296.4 628.80L297.2 630.23L297.9 631.86L298.7 633.53L299.4 635.12L300.2 636.49L300.9 637.58L301.7 638.33L302.4 638.77L303.1 638.94L303.9 638.87L304.6 638.63L305.4 638.22L306.1 637.66L306.9 636.95L307.6 636.12L308.4 635.21L309.1 634.29L309.9 633.43L310.6 632.73L311.4 632.23L312.1 632.01L312.8 632.07L313.6 632.40L314.3 632.97L315.1 633.73L315.8 634.57L316.6 635.43L317.3 636.23L318.1 636.90L318.8 637.43L319.6 637.81L320.3 638.03L321.1 638.09L321.8 637.99L322.5 637.73L323.3 637.34L324.0 636.91L324.8 636.54L325.5 636.32L326.3 636.33L327.0 636.60L327.8 637.12L328.5 637.81L329.3 638.59L330.0 639.37L330.8 640.08L331.5 640.67L332.2 641.13L333.0 641.46L333.7 641.68L334.5 641.82L335.2 641.91L336.0 641.95L336.7 641.98L337.5 641.99L338.2 642.00L339.0 642.00L339.7 642.00L340.4 642.00L341.2 642.00L341.9 642.00L342.7 642.00L343.4 642.00L344.2 642.00L344.9 642.00L345.7 642.00L346.4 642.00L347.2 642.00L347.9 642.00L348.7 642.00L349.4 642.00L350.1 642.00L350.9 642.00L351.6 642.00L352.4 642.00L353.1 642.00L353.9 642.00L354.6 642.00L355.4 642.00L356.1 642.00L356.9 642.00L357.6 642.00L358.4 642.00L359.1 642.00L359.8 642.00L360.6 642.00L361.3 642.00L362.1 642.00L362.8 642.00L363.6 642.00L364.3 642.00L365.1 642.00L365.8 642.00L366.6 642.00L367.3 642.00L368.1 642.00L368.8 642.00L369.5 642.00L370.3 642.00L371.0 642.00L371.8 642.00L372.5 642.00L373.3 642.00L374.0 642.00L374.8 642.00L375.5 642.00L376.3 642.00L377.0 642.00L377.8 642.00L378.5 642.00L379.2 642.00L380.0 642.00L380.7 642.00L381.5 642.00L382.2 642.00L383.0 642.00L383.7 642.00L384.5 642.00L385.2 642.00L386.0 642.00L386.7 642.00L387.5 642.00L388.2 642.00L388.9 642.00L389.7 642.00L390.4 642.00L391.2 642.00L391.9 642.00L392.7 642.00L393.4 642.00L394.2 642.00L394.9 642.00L395.7 642.00L396.4 642.00L397.1 642.00L397.9 642.00L398.6 642.00L399.4 642.00L400.1 642.00L400.9 642.00L401.6 642.00L401.6 642L283.0 642Z" fill="url(#gi)"/>
<path d="M282.5 642L283.0 641.80L283.8 641.66L284.5 641.43L285.2 641.09L286.0 640.59L286.7 639.90L287.5 638.99L288.2 637.83L289.0 636.43L289.7 634.84L290.5 633.13L291.2 631.40L292.0 629.79L292.7 628.44L293.4 627.49L294.2 627.03L294.9 627.11L295.7 627.73L296.4 628.80L297.2 630.23L297.9 631.86L298.7 633.53L299.4 635.12L300.2 636.49L300.9 637.58L301.7 638.33L302.4 638.77L303.1 638.94L303.9 638.87L304.6 638.63L305.4 638.22L306.1 637.66L306.9 636.95L307.6 636.12L308.4 635.21L309.1 634.29L309.9 633.43L310.6 632.73L311.4 632.23L312.1 632.01L312.8 632.07L313.6 632.40L314.3 632.97L315.1 633.73L315.8 634.57L316.6 635.43L317.3 636.23L318.1 636.90L318.8 637.43L319.6 637.81L320.3 638.03L321.1 638.09L321.8 637.99L322.5 637.73L323.3 637.34L324.0 636.91L324.8 636.54L325.5 636.32L326.3 636.33L327.0 636.60L327.8 637.12L328.5 637.81L329.3 638.59L330.0 639.37L330.8 640.08L331.5 640.67L332.2 641.13L333.0 641.46L333.7 641.68L334.5 641.82L335.2 641.91L336.0 641.95L336.7 641.98L337.5 641.99L338.2 642.00L339.0 642.00L339.7 642.00L340.4 642.00L341.2 642.00L341.9 642.00L342.7 642.00L343.4 642.00L344.2 642.00L344.9 642.00L345.7 642.00L346.4 642.00L347.2 642.00L347.9 642.00L348.7 642.00L349.4 642.00L350.1 642.00L350.9 642.00L351.6 642.00L352.4 642.00L353.1 642.00L353.9 642.00L354.6 642.00L355.4 642.00L356.1 642.00L356.9 642.00L357.6 642.00L358.4 642.00L359.1 642.00L359.8 642.00L360.6 642.00L361.3 642.00L362.1 642.00L362.8 642.00L363.6 642.00L364.3 642.00L365.1 642.00L365.8 642.00L366.6 642.00L367.3 642.00L368.1 642.00L368.8 642.00L369.5 642.00L370.3 642.00L371.0 642.00L371.8 642.00L372.5 642.00L373.3 642.00L374.0 642.00L374.8 642.00L375.5 642.00L376.3 642.00L377.0 642.00L377.8 642.00L378.5 642.00L379.2 642.00L380.0 642.00L380.7 642.00L381.5 642.00L382.2 642.00L383.0 642.00L383.7 642.00L384.5 642.00L385.2 642.00L386.0 642.00L386.7 642.00L387.5 642.00L388.2 642.00L388.9 642.00L389.7 642.00L390.4 642.00L391.2 642.00L391.9 642.00L392.7 642.00L393.4 642.00L394.2 642.00L394.9 642.00L395.7 642.00L396.4 642.00L397.1 642.00L397.9 642.00L398.6 642.00L399.4 642.00L400.1 642.00L400.9 642.00L401.6 642.00L401.8 642" fill="none" stroke="#111" stroke-width="1.45" stroke-linejoin="round"/>
<text x="274.1" y="671.7" text-anchor="end" stroke="#1f1f1f" stroke-width="0.16">Neuronal-like</text>
<path d="M283.0 672.10L283.8 672.10L284.5 672.10L285.2 672.10L286.0 672.10L286.7 672.10L287.5 672.10L288.2 672.10L289.0 672.10L289.7 672.10L290.5 672.10L291.2 672.10L292.0 672.10L292.7 672.10L293.4 672.10L294.2 672.10L294.9 672.10L295.7 672.10L296.4 672.10L297.2 672.10L297.9 672.10L298.7 672.10L299.4 672.10L300.2 672.10L300.9 672.10L301.7 672.10L302.4 672.10L303.1 672.10L303.9 672.10L304.6 672.10L305.4 672.10L306.1 672.10L306.9 672.10L307.6 672.10L308.4 672.10L309.1 672.10L309.9 672.10L310.6 672.10L311.4 672.10L312.1 672.10L312.8 672.10L313.6 672.10L314.3 672.10L315.1 672.10L315.8 672.10L316.6 672.10L317.3 672.10L318.1 672.10L318.8 672.10L319.6 672.10L320.3 672.10L321.1 672.10L321.8 672.09L322.5 672.09L323.3 672.08L324.0 672.06L324.8 672.03L325.5 671.99L326.3 671.93L327.0 671.83L327.8 671.70L328.5 671.51L329.3 671.28L330.0 670.98L330.8 670.63L331.5 670.23L332.2 669.79L333.0 669.34L333.7 668.90L334.5 668.50L335.2 668.16L336.0 667.89L336.7 667.70L337.5 667.59L338.2 667.53L339.0 667.51L339.7 667.48L340.4 667.45L341.2 667.38L341.9 667.27L342.7 667.13L343.4 666.96L344.2 666.77L344.9 666.56L345.7 666.32L346.4 666.06L347.2 665.78L347.9 665.48L348.7 665.19L349.4 664.92L350.1 664.69L350.9 664.53L351.6 664.44L352.4 664.40L353.1 664.40L353.9 664.42L354.6 664.43L355.4 664.43L356.1 664.42L356.9 664.41L357.6 664.42L358.4 664.47L359.1 664.55L359.8 664.67L360.6 664.82L361.3 664.97L362.1 665.11L362.8 665.23L363.6 665.34L364.3 665.43L365.1 665.53L365.8 665.63L366.6 665.76L367.3 665.88L368.1 666.00L368.8 666.07L369.5 666.08L370.3 666.03L371.0 665.91L371.8 665.75L372.5 665.57L373.3 665.39L374.0 665.23L374.8 665.10L375.5 665.02L376.3 665.03L377.0 665.17L377.8 665.50L378.5 666.06L379.2 666.81L380.0 667.71L380.7 668.67L381.5 669.58L382.2 670.37L383.0 670.99L383.7 671.44L384.5 671.73L385.2 671.91L386.0 672.01L386.7 672.06L387.5 672.08L388.2 672.09L388.9 672.10L389.7 672.10L390.4 672.10L391.2 672.10L391.9 672.10L392.7 672.10L393.4 672.10L394.2 672.10L394.9 672.10L395.7 672.10L396.4 672.10L397.1 672.10L397.9 672.10L398.6 672.10L399.4 672.10L400.1 672.10L400.9 672.10L401.6 672.10L401.6 672.1L283.0 672.1Z" fill="url(#gi)"/>
<path d="M282.5 672.1L283.0 672.10L283.8 672.10L284.5 672.10L285.2 672.10L286.0 672.10L286.7 672.10L287.5 672.10L288.2 672.10L289.0 672.10L289.7 672.10L290.5 672.10L291.2 672.10L292.0 672.10L292.7 672.10L293.4 672.10L294.2 672.10L294.9 672.10L295.7 672.10L296.4 672.10L297.2 672.10L297.9 672.10L298.7 672.10L299.4 672.10L300.2 672.10L300.9 672.10L301.7 672.10L302.4 672.10L303.1 672.10L303.9 672.10L304.6 672.10L305.4 672.10L306.1 672.10L306.9 672.10L307.6 672.10L308.4 672.10L309.1 672.10L309.9 672.10L310.6 672.10L311.4 672.10L312.1 672.10L312.8 672.10L313.6 672.10L314.3 672.10L315.1 672.10L315.8 672.10L316.6 672.10L317.3 672.10L318.1 672.10L318.8 672.10L319.6 672.10L320.3 672.10L321.1 672.10L321.8 672.09L322.5 672.09L323.3 672.08L324.0 672.06L324.8 672.03L325.5 671.99L326.3 671.93L327.0 671.83L327.8 671.70L328.5 671.51L329.3 671.28L330.0 670.98L330.8 670.63L331.5 670.23L332.2 669.79L333.0 669.34L333.7 668.90L334.5 668.50L335.2 668.16L336.0 667.89L336.7 667.70L337.5 667.59L338.2 667.53L339.0 667.51L339.7 667.48L340.4 667.45L341.2 667.38L341.9 667.27L342.7 667.13L343.4 666.96L344.2 666.77L344.9 666.56L345.7 666.32L346.4 666.06L347.2 665.78L347.9 665.48L348.7 665.19L349.4 664.92L350.1 664.69L350.9 664.53L351.6 664.44L352.4 664.40L353.1 664.40L353.9 664.42L354.6 664.43L355.4 664.43L356.1 664.42L356.9 664.41L357.6 664.42L358.4 664.47L359.1 664.55L359.8 664.67L360.6 664.82L361.3 664.97L362.1 665.11L362.8 665.23L363.6 665.34L364.3 665.43L365.1 665.53L365.8 665.63L366.6 665.76L367.3 665.88L368.1 666.00L368.8 666.07L369.5 666.08L370.3 666.03L371.0 665.91L371.8 665.75L372.5 665.57L373.3 665.39L374.0 665.23L374.8 665.10L375.5 665.02L376.3 665.03L377.0 665.17L377.8 665.50L378.5 666.06L379.2 666.81L380.0 667.71L380.7 668.67L381.5 669.58L382.2 670.37L383.0 670.99L383.7 671.44L384.5 671.73L385.2 671.91L386.0 672.01L386.7 672.06L387.5 672.08L388.2 672.09L388.9 672.10L389.7 672.10L390.4 672.10L391.2 672.10L391.9 672.10L392.7 672.10L393.4 672.10L394.2 672.10L394.9 672.10L395.7 672.10L396.4 672.10L397.1 672.10L397.9 672.10L398.6 672.10L399.4 672.10L400.1 672.10L400.9 672.10L401.6 672.10L401.8 672.1" fill="none" stroke="#111" stroke-width="1.45" stroke-linejoin="round"/>
<text x="274.1" y="702.5" text-anchor="end" stroke="#1f1f1f" stroke-width="0.16">Astrocyte-like</text>
<path d="M283.0 702.90L283.8 702.90L284.5 702.90L285.2 702.90L286.0 702.90L286.7 702.90L287.5 702.90L288.2 702.90L289.0 702.90L289.7 702.90L290.5 702.90L291.2 702.90L292.0 702.90L292.7 702.90L293.4 702.90L294.2 702.90L294.9 702.90L295.7 702.90L296.4 702.90L297.2 702.90L297.9 702.90L298.7 702.90L299.4 702.90L300.2 702.90L300.9 702.90L301.7 702.90L302.4 702.90L303.1 702.90L303.9 702.90L304.6 702.90L305.4 702.90L306.1 702.90L306.9 702.90L307.6 702.90L308.4 702.90L309.1 702.90L309.9 702.90L310.6 702.90L311.4 702.90L312.1 702.90L312.8 702.90L313.6 702.90L314.3 702.90L315.1 702.90L315.8 702.90L316.6 702.90L317.3 702.90L318.1 702.90L318.8 702.90L319.6 702.90L320.3 702.90L321.1 702.90L321.8 702.90L322.5 702.90L323.3 702.90L324.0 702.90L324.8 702.90L325.5 702.90L326.3 702.90L327.0 702.90L327.8 702.90L328.5 702.90L329.3 702.90L330.0 702.90L330.8 702.90L331.5 702.90L332.2 702.90L333.0 702.90L333.7 702.90L334.5 702.90L335.2 702.90L336.0 702.90L336.7 702.90L337.5 702.90L338.2 702.90L339.0 702.90L339.7 702.90L340.4 702.90L341.2 702.90L341.9 702.90L342.7 702.90L343.4 702.90L344.2 702.90L344.9 702.90L345.7 702.90L346.4 702.90L347.2 702.90L347.9 702.90L348.7 702.90L349.4 702.90L350.1 702.90L350.9 702.90L351.6 702.90L352.4 702.90L353.1 702.90L353.9 702.90L354.6 702.90L355.4 702.90L356.1 702.90L356.9 702.90L357.6 702.90L358.4 702.90L359.1 702.90L359.8 702.90L360.6 702.90L361.3 702.90L362.1 702.90L362.8 702.90L363.6 702.90L364.3 702.90L365.1 702.90L365.8 702.90L366.6 702.90L367.3 702.90L368.1 702.90L368.8 702.90L369.5 702.90L370.3 702.89L371.0 702.88L371.8 702.87L372.5 702.84L373.3 702.80L374.0 702.74L374.8 702.64L375.5 702.50L376.3 702.30L377.0 702.06L377.8 701.76L378.5 701.41L379.2 701.03L380.0 700.63L380.7 700.18L381.5 699.63L382.2 698.82L383.0 697.52L383.7 695.40L384.5 692.24L385.2 688.03L386.0 683.16L386.7 678.40L387.5 674.65L388.2 672.58L388.9 672.34L389.7 673.57L390.4 675.66L391.2 678.05L391.9 680.42L392.7 682.65L393.4 684.72L394.2 686.59L394.9 688.28L395.7 689.91L396.4 691.67L397.1 693.68L397.9 695.87L398.6 698.02L399.4 699.85L400.1 701.21L400.9 702.06L401.6 702.54L401.6 702.9L283.0 702.9Z" fill="url(#gi)"/>
<path d="M282.5 702.9L283.0 702.90L283.8 702.90L284.5 702.90L285.2 702.90L286.0 702.90L286.7 702.90L287.5 702.90L288.2 702.90L289.0 702.90L289.7 702.90L290.5 702.90L291.2 702.90L292.0 702.90L292.7 702.90L293.4 702.90L294.2 702.90L294.9 702.90L295.7 702.90L296.4 702.90L297.2 702.90L297.9 702.90L298.7 702.90L299.4 702.90L300.2 702.90L300.9 702.90L301.7 702.90L302.4 702.90L303.1 702.90L303.9 702.90L304.6 702.90L305.4 702.90L306.1 702.90L306.9 702.90L307.6 702.90L308.4 702.90L309.1 702.90L309.9 702.90L310.6 702.90L311.4 702.90L312.1 702.90L312.8 702.90L313.6 702.90L314.3 702.90L315.1 702.90L315.8 702.90L316.6 702.90L317.3 702.90L318.1 702.90L318.8 702.90L319.6 702.90L320.3 702.90L321.1 702.90L321.8 702.90L322.5 702.90L323.3 702.90L324.0 702.90L324.8 702.90L325.5 702.90L326.3 702.90L327.0 702.90L327.8 702.90L328.5 702.90L329.3 702.90L330.0 702.90L330.8 702.90L331.5 702.90L332.2 702.90L333.0 702.90L333.7 702.90L334.5 702.90L335.2 702.90L336.0 702.90L336.7 702.90L337.5 702.90L338.2 702.90L339.0 702.90L339.7 702.90L340.4 702.90L341.2 702.90L341.9 702.90L342.7 702.90L343.4 702.90L344.2 702.90L344.9 702.90L345.7 702.90L346.4 702.90L347.2 702.90L347.9 702.90L348.7 702.90L349.4 702.90L350.1 702.90L350.9 702.90L351.6 702.90L352.4 702.90L353.1 702.90L353.9 702.90L354.6 702.90L355.4 702.90L356.1 702.90L356.9 702.90L357.6 702.90L358.4 702.90L359.1 702.90L359.8 702.90L360.6 702.90L361.3 702.90L362.1 702.90L362.8 702.90L363.6 702.90L364.3 702.90L365.1 702.90L365.8 702.90L366.6 702.90L367.3 702.90L368.1 702.90L368.8 702.90L369.5 702.90L370.3 702.89L371.0 702.88L371.8 702.87L372.5 702.84L373.3 702.80L374.0 702.74L374.8 702.64L375.5 702.50L376.3 702.30L377.0 702.06L377.8 701.76L378.5 701.41L379.2 701.03L380.0 700.63L380.7 700.18L381.5 699.63L382.2 698.82L383.0 697.52L383.7 695.40L384.5 692.24L385.2 688.03L386.0 683.16L386.7 678.40L387.5 674.65L388.2 672.58L388.9 672.34L389.7 673.57L390.4 675.66L391.2 678.05L391.9 680.42L392.7 682.65L393.4 684.72L394.2 686.59L394.9 688.28L395.7 689.91L396.4 691.67L397.1 693.68L397.9 695.87L398.6 698.02L399.4 699.85L400.1 701.21L400.9 702.06L401.6 702.54L401.8 702.9" fill="none" stroke="#111" stroke-width="1.45" stroke-linejoin="round"/>
<path d="M282.5 709.6H401.8" stroke="#9a9a9a" stroke-width="0.8"/>
<path d="M288.5 709.6V712.5" stroke="#9a9a9a" stroke-width="0.8"/>
<text x="288.5" y="722.8" text-anchor="middle" stroke="#1f1f1f" stroke-width="0.16">0</text>
<path d="M311.4 709.6V712.5" stroke="#9a9a9a" stroke-width="0.8"/>
<text x="311.4" y="722.8" text-anchor="middle" stroke="#1f1f1f" stroke-width="0.16">5</text>
<path d="M334.3 709.6V712.5" stroke="#9a9a9a" stroke-width="0.8"/>
<text x="334.3" y="722.8" text-anchor="middle" stroke="#1f1f1f" stroke-width="0.16">10</text>
<path d="M357.2 709.6V712.5" stroke="#9a9a9a" stroke-width="0.8"/>
<text x="357.2" y="722.8" text-anchor="middle" stroke="#1f1f1f" stroke-width="0.16">15</text>
<path d="M380.1 709.6V712.5" stroke="#9a9a9a" stroke-width="0.8"/>
<text x="380.1" y="722.8" text-anchor="middle" stroke="#1f1f1f" stroke-width="0.16">20</text>
<defs><linearGradient id="gi2" gradientUnits="userSpaceOnUse" x1="306.1" y1="0" x2="403.7" y2="0"><stop offset="0" stop-color="#2b2d84"/><stop offset="0.12" stop-color="#4a2a96"/><stop offset="0.28" stop-color="#8a27a4"/><stop offset="0.42" stop-color="#b8359a"/><stop offset="0.55" stop-color="#d95a86"/><stop offset="0.66" stop-color="#ef7a62"/><stop offset="0.76" stop-color="#f99a40"/><stop offset="0.85" stop-color="#fcc02a"/><stop offset="0.93" stop-color="#f6dc24"/><stop offset="1" stop-color="#f0f024"/></linearGradient></defs>
<rect x="306.1" y="731.7" width="97.6" height="10.2" fill="url(#gi2)"/>
<path d="M306.3 732.1V745.6M403.5 732.1V745.6" stroke="#8a8a8a" stroke-width="0.6"/>
<text x="303.2" y="740" text-anchor="end" stroke="#1f1f1f" stroke-width="0.16">Pseudotime</text>
<text x="314.2" y="756" text-anchor="middle" stroke="#1f1f1f" stroke-width="0.16">Early</text>
<text x="396.8" y="756" text-anchor="middle" stroke="#1f1f1f" stroke-width="0.16">Late</text>
<text x="425.3" y="551" font-size="11.2" font-weight="bold" fill="#000" stroke="#000" stroke-width="0.45">j</text>
<path d="M455.4 548.6V545.5H584.2V548.6" fill="none" stroke="#333" stroke-width="1.0"/>
<rect x="446.3" y="551.3" width="238.7" height="73.6" fill="#f5e5f1"/>
<text x="430.8" y="595.2" text-anchor="middle" stroke="#1f1f1f" transform="rotate(-90 430.8 595.2)" stroke-width="0.16">Normal</text>
<text x="441" y="590.7" text-anchor="middle" stroke="#1f1f1f" transform="rotate(-90 441 590.7)" stroke-width="0.16">development</text>
<text x="464.6" y="563.2" text-anchor="middle" fill="#b3217c" stroke="#b3217c" stroke-width="0.03">Neural</text>
<text x="464.6" y="573.4" text-anchor="middle" fill="#b3217c" stroke="#b3217c" stroke-width="0.03">epithelial</text>
<text x="464.6" y="582.4" text-anchor="middle" fill="#b3217c" stroke="#b3217c" stroke-width="0.03">cell</text>
<text x="521.8" y="563.2" text-anchor="middle" fill="#b3217c" stroke="#b3217c" stroke-width="0.03">RGC</text>
<text x="534" y="584" text-anchor="middle" fill="#b3217c" stroke="#b3217c" stroke-width="0.03">Cycling</text>
<text x="534" y="592.8" text-anchor="middle" fill="#b3217c" stroke="#b3217c" stroke-width="0.03">progenitor</text>
<text x="588.9" y="567.7" text-anchor="middle" fill="#b3217c" stroke="#b3217c" stroke-width="0.03">Oligodendrocyte</text>
<text x="588.9" y="576.9" text-anchor="middle" fill="#b3217c" stroke="#b3217c" stroke-width="0.03">progenitor</text>
<text x="651.9" y="560.5" text-anchor="middle" fill="#b3217c" stroke="#b3217c" stroke-width="0.03">Oligodendrocyte</text>
<text x="669.3" y="584.7" text-anchor="middle" fill="#b3217c" stroke="#b3217c" stroke-width="0.03">Neuron</text>
<text x="662.5" y="609.2" text-anchor="middle" fill="#b3217c" stroke="#b3217c" stroke-width="0.03">Astrocyte</text>
<text x="651.3" y="621.9" text-anchor="middle" fill="#b3217c" stroke="#b3217c" stroke-width="0.03">Ependymal cell</text>
<path d="M453.7 587.4H460.9M457.2 587.4C457.6 592 456.6 596 457.8 600C458.2 603 457.6 605.5 458 607.5M459.4 613.3C459.6 615 459.9 616.5 460 618.1M456.4 618.2H463.5" fill="none" stroke="#777" stroke-width="1.0" stroke-linecap="round"/>
<ellipse cx="458.8" cy="610.5" rx="4.2" ry="2.7" fill="#fff" stroke="#777" stroke-width="1.3"/>
<path d="M466.0 586.0L462.6 602.5" stroke="#b3217c" stroke-width="0.8" fill="none"/>
<path d="M462.1 604.8L461.4 601.2L464.2 601.8Z" fill="#b3217c"/>
<path d="M484.6 555.4H491" stroke="#ec7a42" stroke-width="1.0" stroke-linecap="round"/>
<path d="M487.3 555.6C487.9 568 487.8 582 488 593.6C485.2 596.5 484.8 603 486.6 606.5C487.8 608.8 488.9 609 489.1 611C489.3 613 489.2 615 488.9 616.8H491.3C491 614.5 491.2 612 491.6 610C493.7 607.5 494.7 602 493.3 598C492.3 595.2 490 594.5 489.3 593C489.1 581 488.9 568 488.5 555.6Z" fill="#f9bf9c" stroke="#ec7a42" stroke-width="0.7"/>
<path d="M487.2 617.3H494.4" stroke="#ec7a42" stroke-width="1.0" stroke-linecap="round"/>
<circle cx="490.4" cy="602.3" r="2.2" fill="#c0182c" stroke="#7a1020" stroke-width="0.5"/>
<path d="M520.1 566.6L496.1 591.4" stroke="#b3217c" stroke-width="0.8" fill="none"/>
<path d="M494.3 593.2L495.7 589.6L497.9 591.7Z" fill="#b3217c"/>
<path d="M468 610.5H481.5" fill="none" stroke="#777" stroke-width="0.7" stroke-dasharray="1 1.1"/>
<path d="M484.6 610.5L481.4 611.8L481.4 609.2Z" fill="#7a7a7a"/>
<path d="M496.6 603.4H519" fill="none" stroke="#777" stroke-width="0.7" stroke-dasharray="1 1.1"/>
<path d="M522.0 603.4L518.8 604.7L518.8 602.1Z" fill="#7a7a7a"/>
<path d="M495 595.5C515 596.5 548 596 578 588.3" fill="none" stroke="#777" stroke-width="0.7" stroke-dasharray="1 1.1"/>
<path d="M581.0 587.4L578.3 589.5L577.6 587.0Z" fill="#7a7a7a"/>
<path d="M608.4 581.9L622 578" fill="none" stroke="#777" stroke-width="0.7" stroke-dasharray="1 1.1"/>
<path d="M625.0 577.1L622.3 579.2L621.6 576.7Z" fill="#7a7a7a"/>
<path d="M538.5 603.8C565 605.5 600 603 631 588.8" fill="none" stroke="#777" stroke-width="0.7" stroke-dasharray="1 1.1"/>
<path d="M634.0 587.4L631.7 590.0L630.6 587.6Z" fill="#7a7a7a"/>
<path d="M497 609.5C540 611.5 590 610 626 606.2" fill="none" stroke="#777" stroke-width="0.7" stroke-dasharray="1 1.1"/>
<path d="M629.0 605.8L625.9 607.4L625.7 604.8Z" fill="#7a7a7a"/>
<path d="M497 612.3C530 613 570 614.5 607 618.8" fill="none" stroke="#777" stroke-width="0.7" stroke-dasharray="1 1.1"/>
<path d="M610.2 619.3L606.9 620.2L607.2 617.6Z" fill="#7a7a7a"/>
<ellipse cx="531" cy="604" rx="5.6" ry="3.7" fill="#f9e03a" stroke="#e6bc10" stroke-width="0.8"/>
<ellipse cx="530.5" cy="604" rx="2.5" ry="1.9" fill="#f4b030" stroke="#e09a20" stroke-width="0.4"/>
<path d="M587.5 586C583.5 585.5 581 584 578.5 582M581 584.2L578 585.8M595.5 586.5C598.5 587.5 600.5 589.5 603.5 588.6C605.5 588 606.5 587 608 586.5M605.8 588L607.8 590.2" fill="none" stroke="#e0608c" stroke-width="1.0" stroke-linecap="round"/>
<ellipse cx="591.4" cy="586.6" rx="4.3" ry="3.9" fill="#f3a0bc" stroke="#e0608c" stroke-width="0.8"/>
<circle cx="590.4" cy="587" r="1.9" fill="#6a6a6a"/><circle cx="589.9" cy="587" r="0.9" fill="#ddd"/>
<path d="M633.9 570.7L629.9 566.7M629.9 566.7L627.4 568.2M629.9 566.7L630.9 564.2M635.9 570.7L639.9 566.2M639.9 566.2L642.4 567.2M639.9 566.2L639.2 563.9M633.9 572.7L629.4 574.7M629.4 574.7L627.4 573.2M629.4 574.7L628.9 577.2M635.9 572.7L639.9 575.2M639.9 575.2L642.4 573.9M639.9 575.2L640.4 577.7M634.9 572.7L634.4 577.7M634.4 577.7L631.9 578.5M634.4 577.7L636.9 578.5M627.4 568.2L627.1 573.2M634.9 570.2L635.4 566.2" fill="none" stroke="#222" stroke-width="0.9" stroke-linecap="round"/>
<circle cx="634.9" cy="571.7" r="1.9" fill="#fff" stroke="#222" stroke-width="0.9"/>
<path d="M643.6 586.1L639.1 583.6M639.1 583.6L637.1 584.6M639.1 583.6L638.6 581.6M643.1 587.6L638.6 589.1M638.6 589.1L637.1 588.1M638.6 589.1L638.1 591.1M644.1 589.1L641.6 593.1M641.6 593.1L639.6 593.1M641.6 593.1L642.1 595.1M646.1 589.6L647.1 593.6M647.1 593.6L645.6 595.1M647.1 593.6L648.9 594.6M647.1 588.1L651.1 589.6M651.1 589.6L652.1 588.2M651.1 589.6L652.1 591.4M646.6 586.1L650.1 583.6M650.1 583.6L651.9 584.2" fill="none" stroke="#1d2352" stroke-width="0.9" stroke-linecap="round"/>
<path d="M645.6 585.6C646.1 579.6 650.1 577.1 654.1 577.1C657.1 577.1 658.1 574.6 659.6 572.1M657.3000000000001 575.6L661.1 575.1M658.6 573.4L656.7 571.2M659.6 572.1L661.7 571.8000000000001M659.6 572.1L659.1 570.1" fill="none" stroke="#1d2352" stroke-width="0.6" stroke-linecap="round"/>
<circle cx="645.1" cy="587.6" r="2.6" fill="#3b4a9c" stroke="#1d2352" stroke-width="0.8"/><circle cx="645.1" cy="587.6" r="1.0" fill="#9aa4d8"/>
<path d="M638.4 605.2L635.4 600.2M635.4 600.2L636.2 596.7M635.4 600.2L632.4 599.2M638.4 605.2L631.9 604.2M631.9 604.2L628.9 602.2M631.9 604.2L629.4 606.2M638.4 605.2L633.9 609.2M633.9 609.2L630.4 609.7M633.9 609.2L633.9 612.7M638.4 605.2L639.4 610.7M639.4 610.7L637.9 613.7M639.4 610.7L641.9 613.7M638.4 605.2L643.4 608.2M643.4 608.2L646.4 611.2M643.4 608.2L646.9 607.7M638.4 605.2L643.9 602.2M643.9 602.2L647.9 601.7M643.9 602.2L645.4 598.7M638.4 605.2L640.4 599.2M640.4 599.2L639.2 596.2M640.4 599.2L642.9 597.2" fill="none" stroke="#e8963c" stroke-width="1.0" stroke-linecap="round" stroke-linejoin="round"/>
<circle cx="638.4" cy="605.2" r="1.9" fill="#f3b56a" stroke="#e8963c" stroke-width="0.6"/>
<rect x="613.6" y="614.8" width="7" height="11.4" rx="1.6" fill="#35ad9c" stroke="#1f8a7c" stroke-width="0.5"/>
<ellipse cx="616.9" cy="621" rx="2.1" ry="2.4" fill="#bfe6df"/>
<path d="M614.6 614.8V613.6M616 614.8V613.4M617.4 614.8V613.4M618.8 614.8V613.6" stroke="#35ad9c" stroke-width="0.5"/>
<defs><linearGradient id="jb1" x1="0" x2="1"><stop offset="0" stop-color="#3a4a9e"/><stop offset="0.12" stop-color="#6f7cbc"/><stop offset="0.4" stop-color="#d9ddee"/><stop offset="0.6" stop-color="#fff"/></linearGradient><linearGradient id="jb2" x1="0" x2="1"><stop offset="0.4" stop-color="#fff"/><stop offset="0.7" stop-color="#e3cfe9"/><stop offset="0.9" stop-color="#b98ccb"/><stop offset="1" stop-color="#9a5db4"/></linearGradient><linearGradient id="jb3" x1="0" x2="1"><stop offset="0" stop-color="#e2211c"/><stop offset="0.25" stop-color="#e8392c"/><stop offset="0.45" stop-color="#f3907e"/><stop offset="0.62" stop-color="#fbe3dd"/><stop offset="0.72" stop-color="#fff"/></linearGradient></defs>
<text x="449.6" y="633.9" stroke="#1f1f1f" stroke-width="0.16">Embryo</text>
<text x="563.5" y="633.9" text-anchor="middle" stroke="#1f1f1f" stroke-width="0.16">Developmental stage</text>
<text x="683.5" y="633.9" text-anchor="end" stroke="#1f1f1f" stroke-width="0.16">Adult</text>
<rect x="449.5" y="635.2" width="235" height="4" fill="url(#jb1)" stroke="#222" stroke-width="0.7"/>
<text x="449.6" y="648.6" stroke="#1f1f1f" stroke-width="0.16">Stem–progenitor</text>
<text x="563.6" y="648.6" text-anchor="middle" stroke="#1f1f1f" stroke-width="0.16">Differentiation state</text>
<text x="684.5" y="648.6" text-anchor="end" stroke="#1f1f1f" stroke-width="0.16">Terminal</text>
<rect x="449.5" y="651.6" width="235" height="4" fill="url(#jb2)" stroke="#222" stroke-width="0.7"/>
<text x="449.6" y="665.6" stroke="#1f1f1f" stroke-width="0.16">High</text>
<text x="563.2" y="665.6" text-anchor="middle" stroke="#1f1f1f" stroke-width="0.16">PLAG/L accessibility</text>
<text x="684.5" y="665.6" text-anchor="end" stroke="#1f1f1f" stroke-width="0.16">Low</text>
<rect x="449.5" y="667.7" width="235" height="4" fill="url(#jb3)" stroke="#222" stroke-width="0.7"/>
<path d="M455.4 674.8V678H584V674.8" fill="none" stroke="#333" stroke-width="1.0"/>
<text x="518.4" y="686.8" text-anchor="middle" fill="#dc2646" stroke="#dc2646" stroke-width="0.03">Transformation risk</text>
<text x="620.2" y="678.9" text-anchor="middle" fill="#3b4db0" stroke="#3b4db0" stroke-width="0.03">Incomplete</text>
<text x="620.6" y="688.1" text-anchor="middle" fill="#3b4db0" stroke="#3b4db0" stroke-width="0.03">differentiation</text>
<rect x="448" y="689.4" width="236.5" height="90.6" fill="#e7e9f6"/>
<path d="M559.7 694.2V691H679.9V694.2" fill="none" stroke="#333" stroke-width="1.0"/>
<text x="431.8" y="735.4" text-anchor="middle" stroke="#1f1f1f" transform="rotate(-90 431.8 735.4)" stroke-width="0.16">Brain</text>
<text x="441.6" y="735" text-anchor="middle" stroke="#1f1f1f" transform="rotate(-90 441.6 735)" stroke-width="0.16">tumorigenesis</text>
<defs><linearGradient id="jr" gradientUnits="userSpaceOnUse" x1="470" y1="712" x2="545" y2="686"><stop offset="0" stop-color="#fde4ea" stop-opacity="0.2"/><stop offset="0.25" stop-color="#f9b4c4"/><stop offset="0.6" stop-color="#ee4a78"/><stop offset="1" stop-color="#e60f4c"/></linearGradient><linearGradient id="jp" gradientUnits="userSpaceOnUse" x1="512" y1="0" x2="559" y2="0"><stop offset="0" stop-color="#e7e9f6" stop-opacity="0"/><stop offset="0.35" stop-color="#cbb9df"/><stop offset="0.75" stop-color="#9a72b9"/><stop offset="1" stop-color="#7f4fa4"/></linearGradient></defs>
<path d="M481.3 689.4H554.9L507.9 710.4H467Z" fill="url(#jr)"/>
<path d="M505 722.8L558.6 704V757.2L505 750Z" fill="url(#jp)"/>
<text x="486.4" y="718.7" text-anchor="middle" fill="#3b4db0" stroke="#3b4db0" stroke-width="0.03">ZR</text>
<path d="M485 722.7C482.5 730 476.5 735.5 469.5 738" fill="none" stroke="#2b3990" stroke-width="0.8"/>
<path d="M467.0 739.0L469.7 736.3L470.8 739.1Z" fill="#2b3990"/>
<path d="M455.8 725.6H464M455.6 761.3H459.8M461.6 761.3H465.6" stroke="#2a1a14" stroke-width="0.9" stroke-linecap="round"/>
<path d="M457 725.8C457.6 733 457.4 741 456.6 748M458.6 725.8C459 733 458.8 741 458.2 748M461.4 725.8C461.6 733 462.4 741 463.4 748M463 725.8C463.2 733 464 741 465 748" fill="none" stroke="#2a1a14" stroke-width="0.95"/>
<path d="M457.8 726C458.3 733 458 741 457.4 748M462.2 726C462.5 733 463.2 741 464.2 748" fill="none" stroke="#c04030" stroke-width="0.7"/>
<path d="M456.6 754C456.9 756.5 457.2 759 457.3 761M458.4 754C458.6 756.5 458.9 759 459 761M463.3 754C463.3 756.5 463.2 759 463 761M465 754C465 756.5 464.9 759 464.6 761" fill="none" stroke="#2a1a14" stroke-width="0.7"/>
<ellipse cx="458.2" cy="745" rx="3.2" ry="2.1" fill="#f5e04a" stroke="#d8b820" stroke-width="0.5"/>
<circle cx="456.9" cy="751.3" r="2.6" fill="#f4b8b8" stroke="#2a1a14" stroke-width="0.8"/><circle cx="456.9" cy="751.3" r="1.2" fill="#e05050"/>
<circle cx="464" cy="751.3" r="2.6" fill="#f4b8b8" stroke="#2a1a14" stroke-width="0.8"/><circle cx="464" cy="751.3" r="1.2" fill="#e05050"/>
<path d="M467.4 743.5L490.4 743.5" stroke="#6a6a6a" stroke-width="0.7" fill="none"/>
<path d="M492.8 743.5L489.4 744.8L489.4 742.2Z" fill="#6a6a6a"/>
<circle cx="513.6" cy="731.9" r="2.8" fill="#faea5a" stroke="#2b3990" stroke-width="1.0"/>
<circle cx="513.6" cy="731.9" r="1.18" fill="#f0c020"/>
<circle cx="522.2" cy="734.6" r="2.8" fill="#a8d884" stroke="#2b3990" stroke-width="1.0"/>
<circle cx="522.2" cy="734.6" r="1.18" fill="#6cb040"/>
<circle cx="506.5" cy="737.4" r="2.8" fill="#faea5a" stroke="#2b3990" stroke-width="1.0"/>
<circle cx="506.5" cy="737.4" r="1.18" fill="#f0c020"/>
<circle cx="515.0" cy="739.7" r="2.8" fill="#faea5a" stroke="#2b3990" stroke-width="1.0"/>
<circle cx="515.0" cy="739.7" r="1.18" fill="#f0c020"/>
<circle cx="523.2" cy="743.5" r="2.8" fill="#f6b48a" stroke="#2b3990" stroke-width="1.0"/>
<circle cx="523.2" cy="743.5" r="1.18" fill="#e87838"/>
<circle cx="500.7" cy="743.5" r="2.8" fill="#f28a98" stroke="#2b3990" stroke-width="1.0"/>
<circle cx="500.7" cy="743.5" r="1.18" fill="#e03050"/>
<circle cx="508.5" cy="745.2" r="2.8" fill="#faea5a" stroke="#2b3990" stroke-width="1.0"/>
<circle cx="508.5" cy="745.2" r="1.18" fill="#f0c020"/>
<circle cx="516.7" cy="748.9" r="2.8" fill="#faea5a" stroke="#2b3990" stroke-width="1.0"/>
<circle cx="516.7" cy="748.9" r="1.18" fill="#f0c020"/>
<circle cx="524.6" cy="750.9" r="2.8" fill="#8cc4ee" stroke="#2b3990" stroke-width="1.0"/>
<circle cx="524.6" cy="750.9" r="1.18" fill="#3c8cd0"/>
<ellipse cx="514" cy="724.7" rx="1.4" ry="1.2" fill="#fff" stroke="#e23aa4" stroke-width="0.85"/>
<ellipse cx="527.9" cy="738.6" rx="1.4" ry="1.2" fill="#fff" stroke="#e23aa4" stroke-width="0.85"/>
<ellipse cx="510.9" cy="752.3" rx="1.4" ry="1.2" fill="#fff" stroke="#e23aa4" stroke-width="0.85"/>
<ellipse cx="507.5" cy="730.5" rx="1.3" ry="1.1" fill="#fff" stroke="#3c8cd0" stroke-width="0.7"/>
<text x="505" y="766.8" text-anchor="middle" fill="#2b3990" stroke="#2b3990" stroke-width="0.03">Clonal</text>
<text x="506.1" y="775.6" text-anchor="middle" fill="#2b3990" stroke="#2b3990" stroke-width="0.03">expansion</text>
<circle cx="523.2" cy="764.6" r="2.6" fill="#fff" stroke="#1d2460" stroke-width="1.2"/>
<rect x="560.3" y="702.4" width="14.6" height="56.5" fill="#fff" stroke="#333" stroke-width="0.7"/>
<circle cx="567.5" cy="709.4" r="2.8" fill="#f28a98" stroke="#2b3990" stroke-width="1.0"/>
<circle cx="567.5" cy="709.4" r="1.18" fill="#e03050"/>
<path d="M576.5 709.4H587.2" fill="none" stroke="#6a6a6a" stroke-width="0.7" stroke-dasharray="1 1.1"/>
<path d="M590.0 709.4L587.0 710.6L587.0 708.2Z" fill="#6a6a6a"/>
<circle cx="593.4" cy="709.4" r="2.8" fill="#f28a98" stroke="#2b3990" stroke-width="1.0"/>
<circle cx="593.4" cy="709.4" r="1.18" fill="#e03050"/>
<text x="602.8" y="711.5" stroke="#1f1f1f" stroke-width="0.16">RGC-like</text>
<circle cx="567.5" cy="719.7" r="2.8" fill="#faea5a" stroke="#2b3990" stroke-width="1.0"/>
<circle cx="567.5" cy="719.7" r="1.18" fill="#f0c020"/>
<path d="M576.5 719.7H582.1" fill="none" stroke="#6a6a6a" stroke-width="0.7" stroke-dasharray="1 1.1"/>
<path d="M584.9 719.7L581.9 720.9L581.9 718.5Z" fill="#6a6a6a"/>
<circle cx="588.3" cy="719.7" r="2.8" fill="#faea5a" stroke="#2b3990" stroke-width="1.0"/>
<circle cx="588.3" cy="719.7" r="1.18" fill="#f0c020"/>
<text x="597.7" y="721.8" stroke="#1f1f1f" stroke-width="0.16">CycProg-like</text>
<circle cx="567.5" cy="730.7" r="2.8" fill="#a8d884" stroke="#2b3990" stroke-width="1.0"/>
<circle cx="567.5" cy="730.7" r="1.18" fill="#6cb040"/>
<path d="M576.5 730.7H590.5" fill="none" stroke="#6a6a6a" stroke-width="0.7" stroke-dasharray="1 1.1"/>
<path d="M593.3 730.7L590.3 731.9L590.3 729.5Z" fill="#6a6a6a"/>
<circle cx="596.7" cy="730.7" r="2.8" fill="#a8d884" stroke="#2b3990" stroke-width="1.0"/>
<circle cx="596.7" cy="730.7" r="1.18" fill="#6cb040"/>
<text x="605.7" y="732.8" stroke="#1f1f1f" stroke-width="0.16">Ependymal-like</text>
<circle cx="567.5" cy="741.5" r="2.8" fill="#f6b48a" stroke="#2b3990" stroke-width="1.0"/>
<circle cx="567.5" cy="741.5" r="1.18" fill="#e87838"/>
<path d="M576.5 741.5H585.2" fill="none" stroke="#6a6a6a" stroke-width="0.7" stroke-dasharray="1 1.1"/>
<path d="M588.0 741.5L585.0 742.7L585.0 740.3Z" fill="#6a6a6a"/>
<circle cx="591.4" cy="741.5" r="2.8" fill="#f6b48a" stroke="#2b3990" stroke-width="1.0"/>
<circle cx="591.4" cy="741.5" r="1.18" fill="#e87838"/>
<text x="600.2" y="743.6" stroke="#1f1f1f" stroke-width="0.16">Astrocyte-like</text>
<circle cx="567.5" cy="751.7" r="2.8" fill="#8cc4ee" stroke="#2b3990" stroke-width="1.0"/>
<circle cx="567.5" cy="751.7" r="1.18" fill="#3c8cd0"/>
<path d="M576.5 751.7H580.1" fill="none" stroke="#6a6a6a" stroke-width="0.7" stroke-dasharray="1 1.1"/>
<path d="M582.9 751.7L579.9 752.9L579.9 750.5Z" fill="#6a6a6a"/>
<circle cx="586.3" cy="751.7" r="2.8" fill="#8cc4ee" stroke="#2b3990" stroke-width="1.0"/>
<circle cx="586.3" cy="751.7" r="1.18" fill="#3c8cd0"/>
<text x="595.7" y="753.8" stroke="#1f1f1f" stroke-width="0.16">Neuronal-like</text>
<text x="623.3" y="766.6" text-anchor="middle" fill="#3b4db0" stroke="#3b4db0" stroke-width="0.03">Transcriptional</text>
<text x="623.3" y="776" text-anchor="middle" fill="#3b4db0" stroke="#3b4db0" stroke-width="0.03">heterogeneity</text>
</svg>
</body></html>
